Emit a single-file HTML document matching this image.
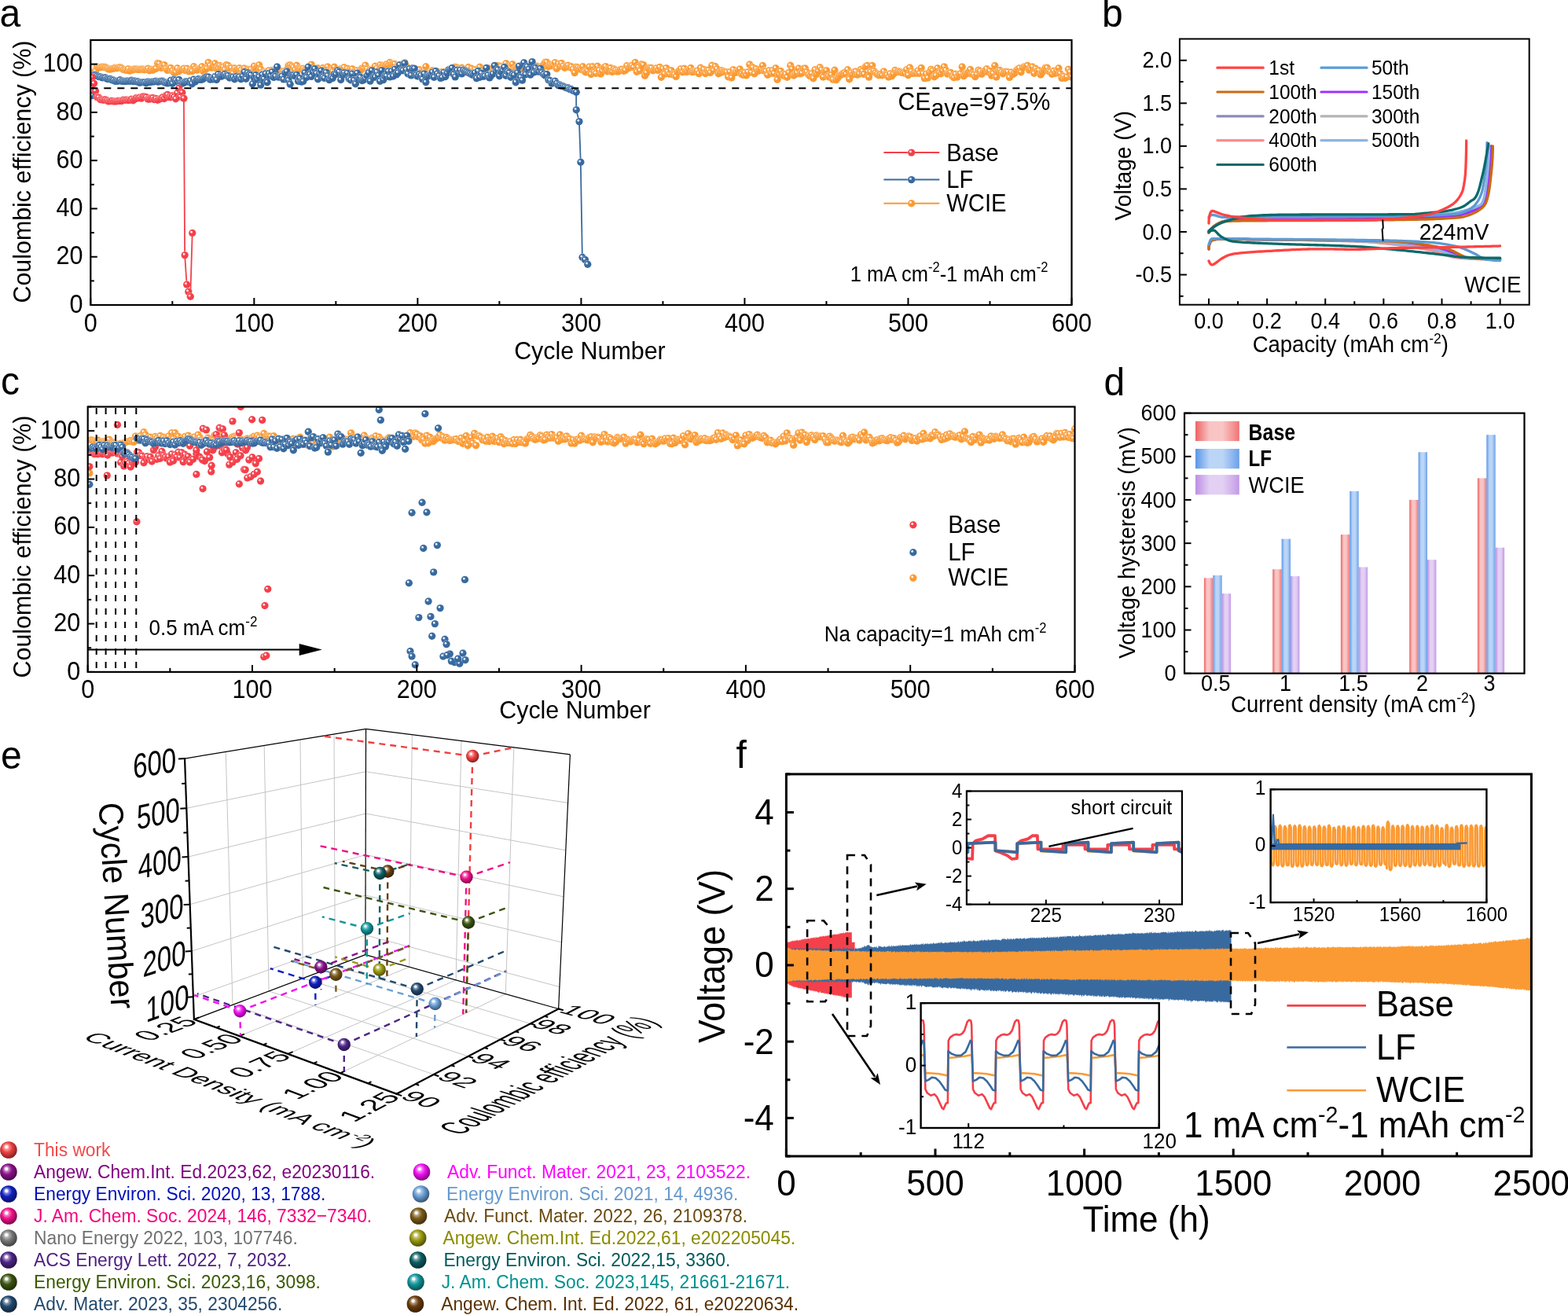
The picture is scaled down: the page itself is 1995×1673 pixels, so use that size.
<!DOCTYPE html><html><head><meta charset="utf-8"><style>html,body{margin:0;padding:0;background:#fff;}svg{display:block;} text{font-family:"Liberation Sans", Arial, Helvetica, sans-serif;}</style></head><body><svg width="1995" height="1673" viewBox="0 0 1995 1673"><defs><linearGradient id="rim" x1="0" y1="0" x2="1" y2="1"><stop offset="0" stop-color="#fff" stop-opacity="0.7"/><stop offset="0.35" stop-color="#fff" stop-opacity="0.3"/><stop offset="0.5" stop-color="#fff" stop-opacity="0"/></linearGradient><clipPath id="ca"><rect x="115.3" y="51" width="1248.2" height="337"/></clipPath><radialGradient id="g0" cx="0.5" cy="0.5" r="0.5" fx="0.33" fy="0.31"><stop offset="0" stop-color="#fff"/><stop offset="0.15" stop-color="#fff" stop-opacity="0.95"/><stop offset="0.3" stop-color="#fdc78f"/><stop offset="0.4" stop-color="#fb9a33"/><stop offset="1" stop-color="#fb9a33"/></radialGradient><radialGradient id="g1" cx="0.5" cy="0.5" r="0.5" fx="0.33" fy="0.31"><stop offset="0" stop-color="#fff"/><stop offset="0.15" stop-color="#fff" stop-opacity="0.95"/><stop offset="0.3" stop-color="#92adcb"/><stop offset="0.4" stop-color="#386aa0"/><stop offset="1" stop-color="#386aa0"/></radialGradient><radialGradient id="g2" cx="0.5" cy="0.5" r="0.5" fx="0.33" fy="0.31"><stop offset="0" stop-color="#fff"/><stop offset="0.15" stop-color="#fff" stop-opacity="0.95"/><stop offset="0.3" stop-color="#f9969b"/><stop offset="0.4" stop-color="#f4404a"/><stop offset="1" stop-color="#f4404a"/></radialGradient><clipPath id="cb"><rect x="1500.9" y="49.5" width="444.8" height="338.2"/></clipPath><clipPath id="cc"><rect x="111.7" y="517.5" width="1255.8" height="337.4"/></clipPath><linearGradient id="bg0" x1="0" x2="1" y1="0" y2="0"><stop offset="0" stop-color="#ee6464"/><stop offset="0.1" stop-color="#f18181"/><stop offset="0.32" stop-color="#f9c4c4"/><stop offset="0.62" stop-color="#f9c4c4"/><stop offset="0.88" stop-color="#f38f8f"/><stop offset="1" stop-color="#f07272"/></linearGradient><linearGradient id="bg1" x1="0" x2="1" y1="0" y2="0"><stop offset="0" stop-color="#5a96e8"/><stop offset="0.1" stop-color="#77a9ec"/><stop offset="0.32" stop-color="#bbd5f6"/><stop offset="0.62" stop-color="#bbd5f6"/><stop offset="0.88" stop-color="#86b2ee"/><stop offset="1" stop-color="#699fea"/></linearGradient><linearGradient id="bg2" x1="0" x2="1" y1="0" y2="0"><stop offset="0" stop-color="#bd8ee4"/><stop offset="0.1" stop-color="#c8a2e8"/><stop offset="0.32" stop-color="#e3d0f3"/><stop offset="0.62" stop-color="#e3d0f3"/><stop offset="0.88" stop-color="#ceaceb"/><stop offset="1" stop-color="#c398e6"/></linearGradient><clipPath id="cf"><rect x="1000.4" y="984.9" width="948" height="486.1"/></clipPath><clipPath id="ci1"><rect x="1229.9" y="1006.5" width="274" height="144.1"/></clipPath><clipPath id="ci2"><rect x="1171.6" y="1276.2" width="303.1" height="158.8"/></clipPath><clipPath id="ci3"><rect x="1616.6" y="1004.3" width="274.8" height="143.8"/></clipPath><radialGradient id="g3" cx="0.45" cy="0.42" r="0.6" fx="0.36" fy="0.3"><stop offset="0" stop-color="#fff"/><stop offset="0.1" stop-color="#fff" stop-opacity="0.95"/><stop offset="0.24" stop-color="#ad9479"/><stop offset="0.5" stop-color="#6a3c0c"/><stop offset="1" stop-color="#351e06"/></radialGradient><radialGradient id="g4" cx="0.45" cy="0.42" r="0.6" fx="0.36" fy="0.3"><stop offset="0" stop-color="#fff"/><stop offset="0.1" stop-color="#fff" stop-opacity="0.95"/><stop offset="0.24" stop-color="#c7c77c"/><stop offset="0.5" stop-color="#9a9a10"/><stop offset="1" stop-color="#4d4d08"/></radialGradient><radialGradient id="g5" cx="0.45" cy="0.42" r="0.6" fx="0.36" fy="0.3"><stop offset="0" stop-color="#fff"/><stop offset="0.1" stop-color="#fff" stop-opacity="0.95"/><stop offset="0.24" stop-color="#79a6a9"/><stop offset="0.5" stop-color="#0c5e62"/><stop offset="1" stop-color="#062f31"/></radialGradient><radialGradient id="g6" cx="0.45" cy="0.42" r="0.6" fx="0.36" fy="0.3"><stop offset="0" stop-color="#fff"/><stop offset="0.1" stop-color="#fff" stop-opacity="0.95"/><stop offset="0.24" stop-color="#7cc5c7"/><stop offset="0.5" stop-color="#10959a"/><stop offset="1" stop-color="#084a4d"/></radialGradient><radialGradient id="g7" cx="0.45" cy="0.42" r="0.6" fx="0.36" fy="0.3"><stop offset="0" stop-color="#fff"/><stop offset="0.1" stop-color="#fff" stop-opacity="0.95"/><stop offset="0.24" stop-color="#bf7cbf"/><stop offset="0.5" stop-color="#8a108a"/><stop offset="1" stop-color="#450845"/></radialGradient><radialGradient id="g8" cx="0.45" cy="0.42" r="0.6" fx="0.36" fy="0.3"><stop offset="0" stop-color="#fff"/><stop offset="0.1" stop-color="#fff" stop-opacity="0.95"/><stop offset="0.24" stop-color="#b6a480"/><stop offset="0.5" stop-color="#7a5a18"/><stop offset="1" stop-color="#3d2d0c"/></radialGradient><radialGradient id="g9" cx="0.45" cy="0.42" r="0.6" fx="0.36" fy="0.3"><stop offset="0" stop-color="#fff"/><stop offset="0.1" stop-color="#fff" stop-opacity="0.95"/><stop offset="0.24" stop-color="#7c84dc"/><stop offset="0.5" stop-color="#1020c0"/><stop offset="1" stop-color="#081060"/></radialGradient><radialGradient id="g10" cx="0.45" cy="0.42" r="0.6" fx="0.36" fy="0.3"><stop offset="0" stop-color="#fff"/><stop offset="0.1" stop-color="#fff" stop-opacity="0.95"/><stop offset="0.24" stop-color="#f79696"/><stop offset="0.5" stop-color="#f04040"/><stop offset="1" stop-color="#782020"/></radialGradient><radialGradient id="g11" cx="0.45" cy="0.42" r="0.6" fx="0.36" fy="0.3"><stop offset="0" stop-color="#fff"/><stop offset="0.1" stop-color="#fff" stop-opacity="0.95"/><stop offset="0.24" stop-color="#93a17c"/><stop offset="0.5" stop-color="#3b5410"/><stop offset="1" stop-color="#1e2a08"/></radialGradient><radialGradient id="g12" cx="0.45" cy="0.42" r="0.6" fx="0.36" fy="0.3"><stop offset="0" stop-color="#fff"/><stop offset="0.1" stop-color="#fff" stop-opacity="0.95"/><stop offset="0.24" stop-color="#f77cbf"/><stop offset="0.5" stop-color="#f0108a"/><stop offset="1" stop-color="#780845"/></radialGradient><radialGradient id="g13" cx="0.45" cy="0.42" r="0.6" fx="0.36" fy="0.3"><stop offset="0" stop-color="#fff"/><stop offset="0.1" stop-color="#fff" stop-opacity="0.95"/><stop offset="0.24" stop-color="#adcae8"/><stop offset="0.5" stop-color="#6a9ed6"/><stop offset="1" stop-color="#354f6b"/></radialGradient><radialGradient id="g14" cx="0.45" cy="0.42" r="0.6" fx="0.36" fy="0.3"><stop offset="0" stop-color="#fff"/><stop offset="0.1" stop-color="#fff" stop-opacity="0.95"/><stop offset="0.24" stop-color="#f77cf7"/><stop offset="0.5" stop-color="#f010f0"/><stop offset="1" stop-color="#780878"/></radialGradient><radialGradient id="g15" cx="0.45" cy="0.42" r="0.6" fx="0.36" fy="0.3"><stop offset="0" stop-color="#fff"/><stop offset="0.1" stop-color="#fff" stop-opacity="0.95"/><stop offset="0.24" stop-color="#859aaf"/><stop offset="0.5" stop-color="#22486e"/><stop offset="1" stop-color="#112437"/></radialGradient><radialGradient id="g16" cx="0.45" cy="0.42" r="0.6" fx="0.36" fy="0.3"><stop offset="0" stop-color="#fff"/><stop offset="0.1" stop-color="#fff" stop-opacity="0.95"/><stop offset="0.24" stop-color="#9e87be"/><stop offset="0.5" stop-color="#4e2488"/><stop offset="1" stop-color="#271244"/></radialGradient><radialGradient id="g17" cx="0.45" cy="0.42" r="0.6" fx="0.36" fy="0.3"><stop offset="0" stop-color="#fff"/><stop offset="0.1" stop-color="#fff" stop-opacity="0.95"/><stop offset="0.24" stop-color="#b6b6b6"/><stop offset="0.5" stop-color="#7a7a7a"/><stop offset="1" stop-color="#3d3d3d"/></radialGradient></defs><rect width="1995" height="1673" fill="#fff"/><g clip-path="url(#ca)">
<polyline points="117.38,93.89 119.46,91.44 121.54,90.21 123.62,84.9 125.7,85.67 127.78,85.59 129.86,85.04 131.94,85.21 134.02,85.45 136.1,86.8 138.18,87.93 140.26,88.15 142.34,87.43 144.42,87.24 146.5,86.34 148.59,86.73 150.67,85.99 152.75,85.57 154.83,86.75 156.91,88.4 158.99,88.77 161.07,89.51 163.15,87.71 165.23,90.07 167.31,88.46 169.39,88.78 171.47,87.69 173.55,87.93 175.63,88.48 177.71,88.34 179.79,88.06 181.87,88.05 183.95,88.69 186.03,88.41 188.11,87.22 190.19,89.77 192.27,88.22 194.35,89.19 196.43,88.05 198.51,87.3 200.59,80.47 202.67,81.15 204.75,86.19 206.83,85.71 208.91,82.56 211,87.19 213.08,89.42 215.16,87.02 217.24,86.46 219.32,90.04 221.4,92.48 223.48,92.12 225.56,86.73 227.64,90.61 229.72,89.16 231.8,88.12 233.88,87.1 235.96,89.49 238.04,87.18 240.12,90.68 242.2,89.01 244.28,90.58 246.36,84.7 248.44,87.56 250.52,89.06 252.6,87.81 254.68,87.33 256.76,84.83 258.84,90.78 260.92,89.01 263,87.17 265.08,79.51 267.16,83.48 269.24,86.14 271.32,84.07 273.41,80.8 275.49,86.86 277.57,87.34 279.65,83.36 281.73,85.25 283.81,85.2 285.89,88.57 287.97,82.52 290.05,83.39 292.13,86.65 294.21,86.59 296.29,93.69 298.37,86.79 300.45,89 302.53,87.38 304.61,86.6 306.69,89.13 308.77,92.44 310.85,86.9 312.93,89.59 315.01,88.31 317.09,88.91 319.17,88.08 321.25,93.21 323.33,84.1 325.41,86.71 327.49,84.64 329.57,82.74 331.65,88.09 333.74,93.44 335.82,91.24 337.9,92.39 339.98,90.83 342.06,89.61 344.14,95.39 346.22,89.39 348.3,94.26 350.38,89.58 352.46,90.48 354.54,90.85 356.62,90.06 358.7,90.8 360.78,90.68 362.86,93.02 364.94,88.47 367.02,83.29 369.1,82.75 371.18,84.11 373.26,85.57 375.34,88.87 377.42,83.27 379.5,87.32 381.58,87.32 383.66,88.14 385.74,87.15 387.82,88.75 389.9,87.91 391.98,90.79 394.06,89.13 396.15,82.09 398.23,88.45 400.31,89.16 402.39,87.2 404.47,86.67 406.55,91.57 408.63,89.24 410.71,86.51 412.79,88.37 414.87,88.77 416.95,85.04 419.03,90.85 421.11,88.88 423.19,90.54 425.27,85.33 427.35,94.36 429.43,91.09 431.51,90.78 433.59,87.57 435.67,87.73 437.75,85.67 439.83,93.37 441.91,87.31 443.99,89.95 446.07,90.79 448.15,87.74 450.23,91.4 452.31,94.23 454.39,89.59 456.47,92.38 458.56,89.78 460.64,86.9 462.72,86.89 464.8,83.15 466.88,87.55 468.96,90.78 471.04,88.46 473.12,88.5 475.2,88.98 477.28,84.28 479.36,86.86 481.44,89.86 483.52,82.68 485.6,84.61 487.68,83.08 489.76,83.46 491.84,81.69 493.92,82.81 496,79.49 498.08,81.59 500.16,81.44 502.24,81.37 504.32,86.23 506.4,82.92 508.48,83.45 510.56,82.66 512.64,87.02 514.72,79.58 516.8,84.2 518.88,88.27 520.97,90.23 523.05,87.32 525.13,87.55 527.21,89.95 529.29,88.64 531.37,91.05 533.45,88.56 535.53,92.16 537.61,90.86 539.69,88.56 541.77,84.75 543.85,94.4 545.93,93.12 548.01,94.07 550.09,89.69 552.17,94.71 554.25,92.62 556.33,91.37 558.41,93.59 560.49,93.12 562.57,91.39 564.65,95.44 566.73,93.44 568.81,90.32 570.89,88.5 572.97,88.94 575.05,92.69 577.13,88.91 579.21,85.32 581.29,85.85 583.38,87.54 585.46,89.82 587.54,86.3 589.62,89.7 591.7,91.44 593.78,90.81 595.86,85.45 597.94,89.26 600.02,87.19 602.1,91.94 604.18,88.67 606.26,93.12 608.34,92.01 610.42,85.17 612.5,89.47 614.58,92.48 616.66,91 618.74,89.42 620.82,86.71 622.9,90.47 624.98,93.27 627.06,88.92 629.14,87.77 631.22,87.23 633.3,83.51 635.38,85.75 637.46,84.22 639.54,88.87 641.62,83.69 643.7,80.82 645.78,84.28 647.87,85.59 649.95,85.83 652.03,81.81 654.11,88.98 656.19,86.95 658.27,85.46 660.35,84.79 662.43,88.01 664.51,86.04 666.59,87.65 668.67,86.59 670.75,87.47 672.83,89.94 674.91,86.98 676.99,84.35 679.07,88.93 681.15,86.82 683.23,84.11 685.31,88.52 687.39,85.1 689.47,88.01 691.55,81.97 693.63,79.19 695.71,79.19 697.79,84.7 699.87,82.16 701.95,83.58 704.03,83.46 706.11,79.66 708.19,87.16 710.28,81.21 712.36,84.21 714.44,80.45 716.52,83.9 718.6,86.26 720.68,84.06 722.76,83.06 724.84,85.51 726.92,84.81 729,87.98 731.08,92.55 733.16,85.12 735.24,86.02 737.32,87.69 739.4,88.23 741.48,84.84 743.56,90.81 745.64,91.94 747.72,90.16 749.8,84.95 751.88,94.48 753.96,84.82 756.04,91.65 758.12,93.34 760.2,84.25 762.28,89.31 764.36,93.93 766.44,90.37 768.52,85.6 770.61,84.62 772.69,90.72 774.77,87.68 776.85,86.48 778.93,91.54 781.01,87.76 783.09,89.23 785.17,91.05 787.25,90.77 789.33,88.43 791.41,88.19 793.49,90.18 795.57,89.51 797.65,83.58 799.73,86.79 801.81,84.3 803.89,83.29 805.97,85.64 808.05,79.46 810.13,91.31 812.21,85.41 814.29,89.85 816.37,81.8 818.45,82.55 820.53,96.35 822.61,92.74 824.69,86.78 826.77,86.21 828.85,86.5 830.93,89.72 833.01,87.58 835.1,86.69 837.18,89.37 839.26,85.45 841.34,98.18 843.42,87.6 845.5,94.06 847.58,86.58 849.66,91.28 851.74,94.1 853.82,89.63 855.9,94.67 857.98,94.81 860.06,97.4 862.14,91.58 864.22,89.69 866.3,87.57 868.38,91.84 870.46,87.26 872.54,91.05 874.62,91.25 876.7,88.45 878.78,86.54 880.86,91.57 882.94,91.12 885.02,90.94 887.1,89.95 889.18,93.61 891.26,86.17 893.34,91.48 895.42,88.38 897.51,93.48 899.59,89.31 901.67,89.3 903.75,92.49 905.83,83.27 907.91,89.62 909.99,84.51 912.07,87.69 914.15,93.84 916.23,92.68 918.31,89.82 920.39,91.15 922.47,91.1 924.55,92.04 926.63,97.65 928.71,91.48 930.79,98.88 932.87,88.68 934.95,92.52 937.03,92.02 939.11,90.01 941.19,87.85 943.27,94.18 945.35,95.26 947.43,92.28 949.51,95.89 951.59,91.71 953.67,82.03 955.75,92.11 957.84,85.89 959.92,93.74 962,87.57 964.08,90.18 966.16,89.67 968.24,87.7 970.32,83.54 972.4,90.06 974.48,90.77 976.56,95.3 978.64,89.85 980.72,93.29 982.8,89.51 984.88,93.39 986.96,86.8 989.04,101.18 991.12,94.73 993.2,90.37 995.28,94.84 997.36,96.41 999.44,94.41 1001.52,98.27 1003.6,92.44 1005.68,83.32 1007.76,87.78 1009.84,96 1011.92,94.78 1014,92.73 1016.08,87.03 1018.16,93.72 1020.25,93.05 1022.33,87.07 1024.41,86.99 1026.49,91.8 1028.57,94.93 1030.65,96.63 1032.73,93.55 1034.81,99.66 1036.89,88.73 1038.97,94.41 1041.05,90.62 1043.13,85.83 1045.21,88.79 1047.29,98 1049.37,90.61 1051.45,89.78 1053.53,97.19 1055.61,98.18 1057.69,95.23 1059.77,101.07 1061.85,89.26 1063.93,101.55 1066.01,98.87 1068.09,95.62 1070.17,95.17 1072.25,93.44 1074.33,92.48 1076.41,94.11 1078.49,88.72 1080.57,100.74 1082.65,92.52 1084.74,95 1086.82,91.38 1088.9,90.86 1090.98,95.09 1093.06,94 1095.14,88.53 1097.22,90.45 1099.3,94.41 1101.38,84.46 1103.46,83.52 1105.54,98.09 1107.62,91.59 1109.7,83.51 1111.78,90.22 1113.86,92.59 1115.94,94.22 1118.02,95.57 1120.1,94.39 1122.18,95.81 1124.26,90.94 1126.34,95.34 1128.42,95.34 1130.5,98.04 1132.58,93.66 1134.66,96.75 1136.74,94.11 1138.82,89.4 1140.9,91.61 1142.98,90.83 1145.06,91.25 1147.15,92.26 1149.23,92.55 1151.31,93.08 1153.39,88.72 1155.47,95.57 1157.55,86.03 1159.63,90.73 1161.71,93.38 1163.79,92.23 1165.87,93.05 1167.95,90.01 1170.03,93.37 1172.11,86.44 1174.19,93.74 1176.27,99.56 1178.35,94.09 1180.43,99.14 1182.51,92.04 1184.59,88.1 1186.67,89.92 1188.75,97.84 1190.83,96.01 1192.91,86.75 1194.99,92.44 1197.07,93.78 1199.15,90.01 1201.23,84.94 1203.31,89.43 1205.39,93.98 1207.47,93.17 1209.56,92.38 1211.64,97.01 1213.72,98.65 1215.8,94.34 1217.88,97.97 1219.96,94.35 1222.04,93.71 1224.12,84.99 1226.2,96.84 1228.28,93.83 1230.36,93.62 1232.44,91.16 1234.52,88.54 1236.6,94.02 1238.68,94.97 1240.76,97.64 1242.84,94.85 1244.92,89.08 1247,90.59 1249.08,94.22 1251.16,91.48 1253.24,89.77 1255.32,87.69 1257.4,91.6 1259.48,90.37 1261.56,96.11 1263.64,93.72 1265.72,83.46 1267.8,98.05 1269.88,91.17 1271.97,89.42 1274.05,91.85 1276.13,93.73 1278.21,91.08 1280.29,91.1 1282.37,91.56 1284.45,98.44 1286.53,91.94 1288.61,94.54 1290.69,93.18 1292.77,89.99 1294.85,87.92 1296.93,86.73 1299.01,91.76 1301.09,86.1 1303.17,84.83 1305.25,84.52 1307.33,83.39 1309.41,89.02 1311.49,88.77 1313.57,85.03 1315.65,93.29 1317.73,87.23 1319.81,90.05 1321.89,89.57 1323.97,94.96 1326.05,91.96 1328.13,89.07 1330.21,86.07 1332.3,86.2 1334.38,90.69 1336.46,91.45 1338.54,94.32 1340.62,90.27 1342.7,93.24 1344.78,90.37 1346.86,86.68 1348.94,93.66 1351.02,99.36 1353.1,97.06 1355.18,99.19 1357.26,97.99 1359.34,88.22 1361.42,91.83 1363.5,97.89" fill="none" stroke="#fb9a33" stroke-width="1.6" stroke-linejoin="round"/>
<g fill="url(#g0)" stroke="url(#rim)" stroke-width="0.8"><circle cx="117.4" cy="93.9" r="4.7"/><circle cx="119.5" cy="91.4" r="4.7"/><circle cx="121.5" cy="90.2" r="4.7"/><circle cx="123.6" cy="84.9" r="4.7"/><circle cx="125.7" cy="85.7" r="4.7"/><circle cx="127.8" cy="85.6" r="4.7"/><circle cx="129.9" cy="85" r="4.7"/><circle cx="131.9" cy="85.2" r="4.7"/><circle cx="134" cy="85.5" r="4.7"/><circle cx="136.1" cy="86.8" r="4.7"/><circle cx="138.2" cy="87.9" r="4.7"/><circle cx="140.3" cy="88.1" r="4.7"/><circle cx="142.3" cy="87.4" r="4.7"/><circle cx="144.4" cy="87.2" r="4.7"/><circle cx="146.5" cy="86.3" r="4.7"/><circle cx="148.6" cy="86.7" r="4.7"/><circle cx="150.7" cy="86" r="4.7"/><circle cx="152.7" cy="85.6" r="4.7"/><circle cx="154.8" cy="86.7" r="4.7"/><circle cx="156.9" cy="88.4" r="4.7"/><circle cx="159" cy="88.8" r="4.7"/><circle cx="161.1" cy="89.5" r="4.7"/><circle cx="163.1" cy="87.7" r="4.7"/><circle cx="165.2" cy="90.1" r="4.7"/><circle cx="167.3" cy="88.5" r="4.7"/><circle cx="169.4" cy="88.8" r="4.7"/><circle cx="171.5" cy="87.7" r="4.7"/><circle cx="173.5" cy="87.9" r="4.7"/><circle cx="175.6" cy="88.5" r="4.7"/><circle cx="177.7" cy="88.3" r="4.7"/><circle cx="179.8" cy="88.1" r="4.7"/><circle cx="181.9" cy="88" r="4.7"/><circle cx="184" cy="88.7" r="4.7"/><circle cx="186" cy="88.4" r="4.7"/><circle cx="188.1" cy="87.2" r="4.7"/><circle cx="190.2" cy="89.8" r="4.7"/><circle cx="192.3" cy="88.2" r="4.7"/><circle cx="194.4" cy="89.2" r="4.7"/><circle cx="196.4" cy="88" r="4.7"/><circle cx="198.5" cy="87.3" r="4.7"/><circle cx="200.6" cy="80.5" r="4.7"/><circle cx="202.7" cy="81.1" r="4.7"/><circle cx="204.8" cy="86.2" r="4.7"/><circle cx="206.8" cy="85.7" r="4.7"/><circle cx="208.9" cy="82.6" r="4.7"/><circle cx="211" cy="87.2" r="4.7"/><circle cx="213.1" cy="89.4" r="4.7"/><circle cx="215.2" cy="87" r="4.7"/><circle cx="217.2" cy="86.5" r="4.7"/><circle cx="219.3" cy="90" r="4.7"/><circle cx="221.4" cy="92.5" r="4.7"/><circle cx="223.5" cy="92.1" r="4.7"/><circle cx="225.6" cy="86.7" r="4.7"/><circle cx="227.6" cy="90.6" r="4.7"/><circle cx="229.7" cy="89.2" r="4.7"/><circle cx="231.8" cy="88.1" r="4.7"/><circle cx="233.9" cy="87.1" r="4.7"/><circle cx="236" cy="89.5" r="4.7"/><circle cx="238" cy="87.2" r="4.7"/><circle cx="240.1" cy="90.7" r="4.7"/><circle cx="242.2" cy="89" r="4.7"/><circle cx="244.3" cy="90.6" r="4.7"/><circle cx="246.4" cy="84.7" r="4.7"/><circle cx="248.4" cy="87.6" r="4.7"/><circle cx="250.5" cy="89.1" r="4.7"/><circle cx="252.6" cy="87.8" r="4.7"/><circle cx="254.7" cy="87.3" r="4.7"/><circle cx="256.8" cy="84.8" r="4.7"/><circle cx="258.8" cy="90.8" r="4.7"/><circle cx="260.9" cy="89" r="4.7"/><circle cx="263" cy="87.2" r="4.7"/><circle cx="265.1" cy="79.5" r="4.7"/><circle cx="267.2" cy="83.5" r="4.7"/><circle cx="269.2" cy="86.1" r="4.7"/><circle cx="271.3" cy="84.1" r="4.7"/><circle cx="273.4" cy="80.8" r="4.7"/><circle cx="275.5" cy="86.9" r="4.7"/><circle cx="277.6" cy="87.3" r="4.7"/><circle cx="279.6" cy="83.4" r="4.7"/><circle cx="281.7" cy="85.2" r="4.7"/><circle cx="283.8" cy="85.2" r="4.7"/><circle cx="285.9" cy="88.6" r="4.7"/><circle cx="288" cy="82.5" r="4.7"/><circle cx="290" cy="83.4" r="4.7"/><circle cx="292.1" cy="86.7" r="4.7"/><circle cx="294.2" cy="86.6" r="4.7"/><circle cx="296.3" cy="93.7" r="4.7"/><circle cx="298.4" cy="86.8" r="4.7"/><circle cx="300.4" cy="89" r="4.7"/><circle cx="302.5" cy="87.4" r="4.7"/><circle cx="304.6" cy="86.6" r="4.7"/><circle cx="306.7" cy="89.1" r="4.7"/><circle cx="308.8" cy="92.4" r="4.7"/><circle cx="310.9" cy="86.9" r="4.7"/><circle cx="312.9" cy="89.6" r="4.7"/><circle cx="315" cy="88.3" r="4.7"/><circle cx="317.1" cy="88.9" r="4.7"/><circle cx="319.2" cy="88.1" r="4.7"/><circle cx="321.3" cy="93.2" r="4.7"/><circle cx="323.3" cy="84.1" r="4.7"/><circle cx="325.4" cy="86.7" r="4.7"/><circle cx="327.5" cy="84.6" r="4.7"/><circle cx="329.6" cy="82.7" r="4.7"/><circle cx="331.7" cy="88.1" r="4.7"/><circle cx="333.7" cy="93.4" r="4.7"/><circle cx="335.8" cy="91.2" r="4.7"/><circle cx="337.9" cy="92.4" r="4.7"/><circle cx="340" cy="90.8" r="4.7"/><circle cx="342.1" cy="89.6" r="4.7"/><circle cx="344.1" cy="95.4" r="4.7"/><circle cx="346.2" cy="89.4" r="4.7"/><circle cx="348.3" cy="94.3" r="4.7"/><circle cx="350.4" cy="89.6" r="4.7"/><circle cx="352.5" cy="90.5" r="4.7"/><circle cx="354.5" cy="90.8" r="4.7"/><circle cx="356.6" cy="90.1" r="4.7"/><circle cx="358.7" cy="90.8" r="4.7"/><circle cx="360.8" cy="90.7" r="4.7"/><circle cx="362.9" cy="93" r="4.7"/><circle cx="364.9" cy="88.5" r="4.7"/><circle cx="367" cy="83.3" r="4.7"/><circle cx="369.1" cy="82.8" r="4.7"/><circle cx="371.2" cy="84.1" r="4.7"/><circle cx="373.3" cy="85.6" r="4.7"/><circle cx="375.3" cy="88.9" r="4.7"/><circle cx="377.4" cy="83.3" r="4.7"/><circle cx="379.5" cy="87.3" r="4.7"/><circle cx="381.6" cy="87.3" r="4.7"/><circle cx="383.7" cy="88.1" r="4.7"/><circle cx="385.7" cy="87.1" r="4.7"/><circle cx="387.8" cy="88.7" r="4.7"/><circle cx="389.9" cy="87.9" r="4.7"/><circle cx="392" cy="90.8" r="4.7"/><circle cx="394.1" cy="89.1" r="4.7"/><circle cx="396.1" cy="82.1" r="4.7"/><circle cx="398.2" cy="88.4" r="4.7"/><circle cx="400.3" cy="89.2" r="4.7"/><circle cx="402.4" cy="87.2" r="4.7"/><circle cx="404.5" cy="86.7" r="4.7"/><circle cx="406.5" cy="91.6" r="4.7"/><circle cx="408.6" cy="89.2" r="4.7"/><circle cx="410.7" cy="86.5" r="4.7"/><circle cx="412.8" cy="88.4" r="4.7"/><circle cx="414.9" cy="88.8" r="4.7"/><circle cx="416.9" cy="85" r="4.7"/><circle cx="419" cy="90.8" r="4.7"/><circle cx="421.1" cy="88.9" r="4.7"/><circle cx="423.2" cy="90.5" r="4.7"/><circle cx="425.3" cy="85.3" r="4.7"/><circle cx="427.4" cy="94.4" r="4.7"/><circle cx="429.4" cy="91.1" r="4.7"/><circle cx="431.5" cy="90.8" r="4.7"/><circle cx="433.6" cy="87.6" r="4.7"/><circle cx="435.7" cy="87.7" r="4.7"/><circle cx="437.8" cy="85.7" r="4.7"/><circle cx="439.8" cy="93.4" r="4.7"/><circle cx="441.9" cy="87.3" r="4.7"/><circle cx="444" cy="89.9" r="4.7"/><circle cx="446.1" cy="90.8" r="4.7"/><circle cx="448.2" cy="87.7" r="4.7"/><circle cx="450.2" cy="91.4" r="4.7"/><circle cx="452.3" cy="94.2" r="4.7"/><circle cx="454.4" cy="89.6" r="4.7"/><circle cx="456.5" cy="92.4" r="4.7"/><circle cx="458.6" cy="89.8" r="4.7"/><circle cx="460.6" cy="86.9" r="4.7"/><circle cx="462.7" cy="86.9" r="4.7"/><circle cx="464.8" cy="83.1" r="4.7"/><circle cx="466.9" cy="87.6" r="4.7"/><circle cx="469" cy="90.8" r="4.7"/><circle cx="471" cy="88.5" r="4.7"/><circle cx="473.1" cy="88.5" r="4.7"/><circle cx="475.2" cy="89" r="4.7"/><circle cx="477.3" cy="84.3" r="4.7"/><circle cx="479.4" cy="86.9" r="4.7"/><circle cx="481.4" cy="89.9" r="4.7"/><circle cx="483.5" cy="82.7" r="4.7"/><circle cx="485.6" cy="84.6" r="4.7"/><circle cx="487.7" cy="83.1" r="4.7"/><circle cx="489.8" cy="83.5" r="4.7"/><circle cx="491.8" cy="81.7" r="4.7"/><circle cx="493.9" cy="82.8" r="4.7"/><circle cx="496" cy="79.5" r="4.7"/><circle cx="498.1" cy="81.6" r="4.7"/><circle cx="500.2" cy="81.4" r="4.7"/><circle cx="502.2" cy="81.4" r="4.7"/><circle cx="504.3" cy="86.2" r="4.7"/><circle cx="506.4" cy="82.9" r="4.7"/><circle cx="508.5" cy="83.5" r="4.7"/><circle cx="510.6" cy="82.7" r="4.7"/><circle cx="512.6" cy="87" r="4.7"/><circle cx="514.7" cy="79.6" r="4.7"/><circle cx="516.8" cy="84.2" r="4.7"/><circle cx="518.9" cy="88.3" r="4.7"/><circle cx="521" cy="90.2" r="4.7"/><circle cx="523" cy="87.3" r="4.7"/><circle cx="525.1" cy="87.5" r="4.7"/><circle cx="527.2" cy="90" r="4.7"/><circle cx="529.3" cy="88.6" r="4.7"/><circle cx="531.4" cy="91" r="4.7"/><circle cx="533.4" cy="88.6" r="4.7"/><circle cx="535.5" cy="92.2" r="4.7"/><circle cx="537.6" cy="90.9" r="4.7"/><circle cx="539.7" cy="88.6" r="4.7"/><circle cx="541.8" cy="84.8" r="4.7"/><circle cx="543.8" cy="94.4" r="4.7"/><circle cx="545.9" cy="93.1" r="4.7"/><circle cx="548" cy="94.1" r="4.7"/><circle cx="550.1" cy="89.7" r="4.7"/><circle cx="552.2" cy="94.7" r="4.7"/><circle cx="554.3" cy="92.6" r="4.7"/><circle cx="556.3" cy="91.4" r="4.7"/><circle cx="558.4" cy="93.6" r="4.7"/><circle cx="560.5" cy="93.1" r="4.7"/><circle cx="562.6" cy="91.4" r="4.7"/><circle cx="564.7" cy="95.4" r="4.7"/><circle cx="566.7" cy="93.4" r="4.7"/><circle cx="568.8" cy="90.3" r="4.7"/><circle cx="570.9" cy="88.5" r="4.7"/><circle cx="573" cy="88.9" r="4.7"/><circle cx="575.1" cy="92.7" r="4.7"/><circle cx="577.1" cy="88.9" r="4.7"/><circle cx="579.2" cy="85.3" r="4.7"/><circle cx="581.3" cy="85.9" r="4.7"/><circle cx="583.4" cy="87.5" r="4.7"/><circle cx="585.5" cy="89.8" r="4.7"/><circle cx="587.5" cy="86.3" r="4.7"/><circle cx="589.6" cy="89.7" r="4.7"/><circle cx="591.7" cy="91.4" r="4.7"/><circle cx="593.8" cy="90.8" r="4.7"/><circle cx="595.9" cy="85.5" r="4.7"/><circle cx="597.9" cy="89.3" r="4.7"/><circle cx="600" cy="87.2" r="4.7"/><circle cx="602.1" cy="91.9" r="4.7"/><circle cx="604.2" cy="88.7" r="4.7"/><circle cx="606.3" cy="93.1" r="4.7"/><circle cx="608.3" cy="92" r="4.7"/><circle cx="610.4" cy="85.2" r="4.7"/><circle cx="612.5" cy="89.5" r="4.7"/><circle cx="614.6" cy="92.5" r="4.7"/><circle cx="616.7" cy="91" r="4.7"/><circle cx="618.7" cy="89.4" r="4.7"/><circle cx="620.8" cy="86.7" r="4.7"/><circle cx="622.9" cy="90.5" r="4.7"/><circle cx="625" cy="93.3" r="4.7"/><circle cx="627.1" cy="88.9" r="4.7"/><circle cx="629.1" cy="87.8" r="4.7"/><circle cx="631.2" cy="87.2" r="4.7"/><circle cx="633.3" cy="83.5" r="4.7"/><circle cx="635.4" cy="85.7" r="4.7"/><circle cx="637.5" cy="84.2" r="4.7"/><circle cx="639.5" cy="88.9" r="4.7"/><circle cx="641.6" cy="83.7" r="4.7"/><circle cx="643.7" cy="80.8" r="4.7"/><circle cx="645.8" cy="84.3" r="4.7"/><circle cx="647.9" cy="85.6" r="4.7"/><circle cx="649.9" cy="85.8" r="4.7"/><circle cx="652" cy="81.8" r="4.7"/><circle cx="654.1" cy="89" r="4.7"/><circle cx="656.2" cy="87" r="4.7"/><circle cx="658.3" cy="85.5" r="4.7"/><circle cx="660.3" cy="84.8" r="4.7"/><circle cx="662.4" cy="88" r="4.7"/><circle cx="664.5" cy="86" r="4.7"/><circle cx="666.6" cy="87.7" r="4.7"/><circle cx="668.7" cy="86.6" r="4.7"/><circle cx="670.7" cy="87.5" r="4.7"/><circle cx="672.8" cy="89.9" r="4.7"/><circle cx="674.9" cy="87" r="4.7"/><circle cx="677" cy="84.4" r="4.7"/><circle cx="679.1" cy="88.9" r="4.7"/><circle cx="681.2" cy="86.8" r="4.7"/><circle cx="683.2" cy="84.1" r="4.7"/><circle cx="685.3" cy="88.5" r="4.7"/><circle cx="687.4" cy="85.1" r="4.7"/><circle cx="689.5" cy="88" r="4.7"/><circle cx="691.6" cy="82" r="4.7"/><circle cx="693.6" cy="79.2" r="4.7"/><circle cx="695.7" cy="79.2" r="4.7"/><circle cx="697.8" cy="84.7" r="4.7"/><circle cx="699.9" cy="82.2" r="4.7"/><circle cx="702" cy="83.6" r="4.7"/><circle cx="704" cy="83.5" r="4.7"/><circle cx="706.1" cy="79.7" r="4.7"/><circle cx="708.2" cy="87.2" r="4.7"/><circle cx="710.3" cy="81.2" r="4.7"/><circle cx="712.4" cy="84.2" r="4.7"/><circle cx="714.4" cy="80.5" r="4.7"/><circle cx="716.5" cy="83.9" r="4.7"/><circle cx="718.6" cy="86.3" r="4.7"/><circle cx="720.7" cy="84.1" r="4.7"/><circle cx="722.8" cy="83.1" r="4.7"/><circle cx="724.8" cy="85.5" r="4.7"/><circle cx="726.9" cy="84.8" r="4.7"/><circle cx="729" cy="88" r="4.7"/><circle cx="731.1" cy="92.6" r="4.7"/><circle cx="733.2" cy="85.1" r="4.7"/><circle cx="735.2" cy="86" r="4.7"/><circle cx="737.3" cy="87.7" r="4.7"/><circle cx="739.4" cy="88.2" r="4.7"/><circle cx="741.5" cy="84.8" r="4.7"/><circle cx="743.6" cy="90.8" r="4.7"/><circle cx="745.6" cy="91.9" r="4.7"/><circle cx="747.7" cy="90.2" r="4.7"/><circle cx="749.8" cy="85" r="4.7"/><circle cx="751.9" cy="94.5" r="4.7"/><circle cx="754" cy="84.8" r="4.7"/><circle cx="756" cy="91.7" r="4.7"/><circle cx="758.1" cy="93.3" r="4.7"/><circle cx="760.2" cy="84.3" r="4.7"/><circle cx="762.3" cy="89.3" r="4.7"/><circle cx="764.4" cy="93.9" r="4.7"/><circle cx="766.4" cy="90.4" r="4.7"/><circle cx="768.5" cy="85.6" r="4.7"/><circle cx="770.6" cy="84.6" r="4.7"/><circle cx="772.7" cy="90.7" r="4.7"/><circle cx="774.8" cy="87.7" r="4.7"/><circle cx="776.8" cy="86.5" r="4.7"/><circle cx="778.9" cy="91.5" r="4.7"/><circle cx="781" cy="87.8" r="4.7"/><circle cx="783.1" cy="89.2" r="4.7"/><circle cx="785.2" cy="91" r="4.7"/><circle cx="787.2" cy="90.8" r="4.7"/><circle cx="789.3" cy="88.4" r="4.7"/><circle cx="791.4" cy="88.2" r="4.7"/><circle cx="793.5" cy="90.2" r="4.7"/><circle cx="795.6" cy="89.5" r="4.7"/><circle cx="797.6" cy="83.6" r="4.7"/><circle cx="799.7" cy="86.8" r="4.7"/><circle cx="801.8" cy="84.3" r="4.7"/><circle cx="803.9" cy="83.3" r="4.7"/><circle cx="806" cy="85.6" r="4.7"/><circle cx="808.1" cy="79.5" r="4.7"/><circle cx="810.1" cy="91.3" r="4.7"/><circle cx="812.2" cy="85.4" r="4.7"/><circle cx="814.3" cy="89.9" r="4.7"/><circle cx="816.4" cy="81.8" r="4.7"/><circle cx="818.5" cy="82.6" r="4.7"/><circle cx="820.5" cy="96.3" r="4.7"/><circle cx="822.6" cy="92.7" r="4.7"/><circle cx="824.7" cy="86.8" r="4.7"/><circle cx="826.8" cy="86.2" r="4.7"/><circle cx="828.9" cy="86.5" r="4.7"/><circle cx="830.9" cy="89.7" r="4.7"/><circle cx="833" cy="87.6" r="4.7"/><circle cx="835.1" cy="86.7" r="4.7"/><circle cx="837.2" cy="89.4" r="4.7"/><circle cx="839.3" cy="85.4" r="4.7"/><circle cx="841.3" cy="98.2" r="4.7"/><circle cx="843.4" cy="87.6" r="4.7"/><circle cx="845.5" cy="94.1" r="4.7"/><circle cx="847.6" cy="86.6" r="4.7"/><circle cx="849.7" cy="91.3" r="4.7"/><circle cx="851.7" cy="94.1" r="4.7"/><circle cx="853.8" cy="89.6" r="4.7"/><circle cx="855.9" cy="94.7" r="4.7"/><circle cx="858" cy="94.8" r="4.7"/><circle cx="860.1" cy="97.4" r="4.7"/><circle cx="862.1" cy="91.6" r="4.7"/><circle cx="864.2" cy="89.7" r="4.7"/><circle cx="866.3" cy="87.6" r="4.7"/><circle cx="868.4" cy="91.8" r="4.7"/><circle cx="870.5" cy="87.3" r="4.7"/><circle cx="872.5" cy="91.1" r="4.7"/><circle cx="874.6" cy="91.3" r="4.7"/><circle cx="876.7" cy="88.5" r="4.7"/><circle cx="878.8" cy="86.5" r="4.7"/><circle cx="880.9" cy="91.6" r="4.7"/><circle cx="882.9" cy="91.1" r="4.7"/><circle cx="885" cy="90.9" r="4.7"/><circle cx="887.1" cy="90" r="4.7"/><circle cx="889.2" cy="93.6" r="4.7"/><circle cx="891.3" cy="86.2" r="4.7"/><circle cx="893.3" cy="91.5" r="4.7"/><circle cx="895.4" cy="88.4" r="4.7"/><circle cx="897.5" cy="93.5" r="4.7"/><circle cx="899.6" cy="89.3" r="4.7"/><circle cx="901.7" cy="89.3" r="4.7"/><circle cx="903.7" cy="92.5" r="4.7"/><circle cx="905.8" cy="83.3" r="4.7"/><circle cx="907.9" cy="89.6" r="4.7"/><circle cx="910" cy="84.5" r="4.7"/><circle cx="912.1" cy="87.7" r="4.7"/><circle cx="914.1" cy="93.8" r="4.7"/><circle cx="916.2" cy="92.7" r="4.7"/><circle cx="918.3" cy="89.8" r="4.7"/><circle cx="920.4" cy="91.1" r="4.7"/><circle cx="922.5" cy="91.1" r="4.7"/><circle cx="924.5" cy="92" r="4.7"/><circle cx="926.6" cy="97.7" r="4.7"/><circle cx="928.7" cy="91.5" r="4.7"/><circle cx="930.8" cy="98.9" r="4.7"/><circle cx="932.9" cy="88.7" r="4.7"/><circle cx="935" cy="92.5" r="4.7"/><circle cx="937" cy="92" r="4.7"/><circle cx="939.1" cy="90" r="4.7"/><circle cx="941.2" cy="87.9" r="4.7"/><circle cx="943.3" cy="94.2" r="4.7"/><circle cx="945.4" cy="95.3" r="4.7"/><circle cx="947.4" cy="92.3" r="4.7"/><circle cx="949.5" cy="95.9" r="4.7"/><circle cx="951.6" cy="91.7" r="4.7"/><circle cx="953.7" cy="82" r="4.7"/><circle cx="955.8" cy="92.1" r="4.7"/><circle cx="957.8" cy="85.9" r="4.7"/><circle cx="959.9" cy="93.7" r="4.7"/><circle cx="962" cy="87.6" r="4.7"/><circle cx="964.1" cy="90.2" r="4.7"/><circle cx="966.2" cy="89.7" r="4.7"/><circle cx="968.2" cy="87.7" r="4.7"/><circle cx="970.3" cy="83.5" r="4.7"/><circle cx="972.4" cy="90.1" r="4.7"/><circle cx="974.5" cy="90.8" r="4.7"/><circle cx="976.6" cy="95.3" r="4.7"/><circle cx="978.6" cy="89.8" r="4.7"/><circle cx="980.7" cy="93.3" r="4.7"/><circle cx="982.8" cy="89.5" r="4.7"/><circle cx="984.9" cy="93.4" r="4.7"/><circle cx="987" cy="86.8" r="4.7"/><circle cx="989" cy="101.2" r="4.7"/><circle cx="991.1" cy="94.7" r="4.7"/><circle cx="993.2" cy="90.4" r="4.7"/><circle cx="995.3" cy="94.8" r="4.7"/><circle cx="997.4" cy="96.4" r="4.7"/><circle cx="999.4" cy="94.4" r="4.7"/><circle cx="1001.5" cy="98.3" r="4.7"/><circle cx="1003.6" cy="92.4" r="4.7"/><circle cx="1005.7" cy="83.3" r="4.7"/><circle cx="1007.8" cy="87.8" r="4.7"/><circle cx="1009.8" cy="96" r="4.7"/><circle cx="1011.9" cy="94.8" r="4.7"/><circle cx="1014" cy="92.7" r="4.7"/><circle cx="1016.1" cy="87" r="4.7"/><circle cx="1018.2" cy="93.7" r="4.7"/><circle cx="1020.2" cy="93" r="4.7"/><circle cx="1022.3" cy="87.1" r="4.7"/><circle cx="1024.4" cy="87" r="4.7"/><circle cx="1026.5" cy="91.8" r="4.7"/><circle cx="1028.6" cy="94.9" r="4.7"/><circle cx="1030.6" cy="96.6" r="4.7"/><circle cx="1032.7" cy="93.6" r="4.7"/><circle cx="1034.8" cy="99.7" r="4.7"/><circle cx="1036.9" cy="88.7" r="4.7"/><circle cx="1039" cy="94.4" r="4.7"/><circle cx="1041" cy="90.6" r="4.7"/><circle cx="1043.1" cy="85.8" r="4.7"/><circle cx="1045.2" cy="88.8" r="4.7"/><circle cx="1047.3" cy="98" r="4.7"/><circle cx="1049.4" cy="90.6" r="4.7"/><circle cx="1051.5" cy="89.8" r="4.7"/><circle cx="1053.5" cy="97.2" r="4.7"/><circle cx="1055.6" cy="98.2" r="4.7"/><circle cx="1057.7" cy="95.2" r="4.7"/><circle cx="1059.8" cy="101.1" r="4.7"/><circle cx="1061.9" cy="89.3" r="4.7"/><circle cx="1063.9" cy="101.6" r="4.7"/><circle cx="1066" cy="98.9" r="4.7"/><circle cx="1068.1" cy="95.6" r="4.7"/><circle cx="1070.2" cy="95.2" r="4.7"/><circle cx="1072.3" cy="93.4" r="4.7"/><circle cx="1074.3" cy="92.5" r="4.7"/><circle cx="1076.4" cy="94.1" r="4.7"/><circle cx="1078.5" cy="88.7" r="4.7"/><circle cx="1080.6" cy="100.7" r="4.7"/><circle cx="1082.7" cy="92.5" r="4.7"/><circle cx="1084.7" cy="95" r="4.7"/><circle cx="1086.8" cy="91.4" r="4.7"/><circle cx="1088.9" cy="90.9" r="4.7"/><circle cx="1091" cy="95.1" r="4.7"/><circle cx="1093.1" cy="94" r="4.7"/><circle cx="1095.1" cy="88.5" r="4.7"/><circle cx="1097.2" cy="90.4" r="4.7"/><circle cx="1099.3" cy="94.4" r="4.7"/><circle cx="1101.4" cy="84.5" r="4.7"/><circle cx="1103.5" cy="83.5" r="4.7"/><circle cx="1105.5" cy="98.1" r="4.7"/><circle cx="1107.6" cy="91.6" r="4.7"/><circle cx="1109.7" cy="83.5" r="4.7"/><circle cx="1111.8" cy="90.2" r="4.7"/><circle cx="1113.9" cy="92.6" r="4.7"/><circle cx="1115.9" cy="94.2" r="4.7"/><circle cx="1118" cy="95.6" r="4.7"/><circle cx="1120.1" cy="94.4" r="4.7"/><circle cx="1122.2" cy="95.8" r="4.7"/><circle cx="1124.3" cy="90.9" r="4.7"/><circle cx="1126.3" cy="95.3" r="4.7"/><circle cx="1128.4" cy="95.3" r="4.7"/><circle cx="1130.5" cy="98" r="4.7"/><circle cx="1132.6" cy="93.7" r="4.7"/><circle cx="1134.7" cy="96.8" r="4.7"/><circle cx="1136.7" cy="94.1" r="4.7"/><circle cx="1138.8" cy="89.4" r="4.7"/><circle cx="1140.9" cy="91.6" r="4.7"/><circle cx="1143" cy="90.8" r="4.7"/><circle cx="1145.1" cy="91.3" r="4.7"/><circle cx="1147.1" cy="92.3" r="4.7"/><circle cx="1149.2" cy="92.5" r="4.7"/><circle cx="1151.3" cy="93.1" r="4.7"/><circle cx="1153.4" cy="88.7" r="4.7"/><circle cx="1155.5" cy="95.6" r="4.7"/><circle cx="1157.5" cy="86" r="4.7"/><circle cx="1159.6" cy="90.7" r="4.7"/><circle cx="1161.7" cy="93.4" r="4.7"/><circle cx="1163.8" cy="92.2" r="4.7"/><circle cx="1165.9" cy="93.1" r="4.7"/><circle cx="1167.9" cy="90" r="4.7"/><circle cx="1170" cy="93.4" r="4.7"/><circle cx="1172.1" cy="86.4" r="4.7"/><circle cx="1174.2" cy="93.7" r="4.7"/><circle cx="1176.3" cy="99.6" r="4.7"/><circle cx="1178.4" cy="94.1" r="4.7"/><circle cx="1180.4" cy="99.1" r="4.7"/><circle cx="1182.5" cy="92" r="4.7"/><circle cx="1184.6" cy="88.1" r="4.7"/><circle cx="1186.7" cy="89.9" r="4.7"/><circle cx="1188.8" cy="97.8" r="4.7"/><circle cx="1190.8" cy="96" r="4.7"/><circle cx="1192.9" cy="86.8" r="4.7"/><circle cx="1195" cy="92.4" r="4.7"/><circle cx="1197.1" cy="93.8" r="4.7"/><circle cx="1199.2" cy="90" r="4.7"/><circle cx="1201.2" cy="84.9" r="4.7"/><circle cx="1203.3" cy="89.4" r="4.7"/><circle cx="1205.4" cy="94" r="4.7"/><circle cx="1207.5" cy="93.2" r="4.7"/><circle cx="1209.6" cy="92.4" r="4.7"/><circle cx="1211.6" cy="97" r="4.7"/><circle cx="1213.7" cy="98.6" r="4.7"/><circle cx="1215.8" cy="94.3" r="4.7"/><circle cx="1217.9" cy="98" r="4.7"/><circle cx="1220" cy="94.4" r="4.7"/><circle cx="1222" cy="93.7" r="4.7"/><circle cx="1224.1" cy="85" r="4.7"/><circle cx="1226.2" cy="96.8" r="4.7"/><circle cx="1228.3" cy="93.8" r="4.7"/><circle cx="1230.4" cy="93.6" r="4.7"/><circle cx="1232.4" cy="91.2" r="4.7"/><circle cx="1234.5" cy="88.5" r="4.7"/><circle cx="1236.6" cy="94" r="4.7"/><circle cx="1238.7" cy="95" r="4.7"/><circle cx="1240.8" cy="97.6" r="4.7"/><circle cx="1242.8" cy="94.8" r="4.7"/><circle cx="1244.9" cy="89.1" r="4.7"/><circle cx="1247" cy="90.6" r="4.7"/><circle cx="1249.1" cy="94.2" r="4.7"/><circle cx="1251.2" cy="91.5" r="4.7"/><circle cx="1253.2" cy="89.8" r="4.7"/><circle cx="1255.3" cy="87.7" r="4.7"/><circle cx="1257.4" cy="91.6" r="4.7"/><circle cx="1259.5" cy="90.4" r="4.7"/><circle cx="1261.6" cy="96.1" r="4.7"/><circle cx="1263.6" cy="93.7" r="4.7"/><circle cx="1265.7" cy="83.5" r="4.7"/><circle cx="1267.8" cy="98" r="4.7"/><circle cx="1269.9" cy="91.2" r="4.7"/><circle cx="1272" cy="89.4" r="4.7"/><circle cx="1274" cy="91.8" r="4.7"/><circle cx="1276.1" cy="93.7" r="4.7"/><circle cx="1278.2" cy="91.1" r="4.7"/><circle cx="1280.3" cy="91.1" r="4.7"/><circle cx="1282.4" cy="91.6" r="4.7"/><circle cx="1284.4" cy="98.4" r="4.7"/><circle cx="1286.5" cy="91.9" r="4.7"/><circle cx="1288.6" cy="94.5" r="4.7"/><circle cx="1290.7" cy="93.2" r="4.7"/><circle cx="1292.8" cy="90" r="4.7"/><circle cx="1294.8" cy="87.9" r="4.7"/><circle cx="1296.9" cy="86.7" r="4.7"/><circle cx="1299" cy="91.8" r="4.7"/><circle cx="1301.1" cy="86.1" r="4.7"/><circle cx="1303.2" cy="84.8" r="4.7"/><circle cx="1305.3" cy="84.5" r="4.7"/><circle cx="1307.3" cy="83.4" r="4.7"/><circle cx="1309.4" cy="89" r="4.7"/><circle cx="1311.5" cy="88.8" r="4.7"/><circle cx="1313.6" cy="85" r="4.7"/><circle cx="1315.7" cy="93.3" r="4.7"/><circle cx="1317.7" cy="87.2" r="4.7"/><circle cx="1319.8" cy="90" r="4.7"/><circle cx="1321.9" cy="89.6" r="4.7"/><circle cx="1324" cy="95" r="4.7"/><circle cx="1326.1" cy="92" r="4.7"/><circle cx="1328.1" cy="89.1" r="4.7"/><circle cx="1330.2" cy="86.1" r="4.7"/><circle cx="1332.3" cy="86.2" r="4.7"/><circle cx="1334.4" cy="90.7" r="4.7"/><circle cx="1336.5" cy="91.4" r="4.7"/><circle cx="1338.5" cy="94.3" r="4.7"/><circle cx="1340.6" cy="90.3" r="4.7"/><circle cx="1342.7" cy="93.2" r="4.7"/><circle cx="1344.8" cy="90.4" r="4.7"/><circle cx="1346.9" cy="86.7" r="4.7"/><circle cx="1348.9" cy="93.7" r="4.7"/><circle cx="1351" cy="99.4" r="4.7"/><circle cx="1353.1" cy="97.1" r="4.7"/><circle cx="1355.2" cy="99.2" r="4.7"/><circle cx="1357.3" cy="98" r="4.7"/><circle cx="1359.3" cy="88.2" r="4.7"/><circle cx="1361.4" cy="91.8" r="4.7"/><circle cx="1363.5" cy="97.9" r="4.7"/></g>
<polyline points="117.38,121.46 119.46,95.42 121.54,95.36 123.62,96.53 125.7,97.54 127.78,97.69 129.86,98.71 131.94,98.6 134.02,98.79 136.1,100.3 138.18,100.55 140.26,100.39 142.34,101.82 144.42,101.95 146.5,103.16 148.59,103.07 150.67,102.98 152.75,101.64 154.83,103.15 156.91,103.32 158.99,103.45 161.07,103.35 163.15,102.94 165.23,103.25 167.31,102.34 169.39,103.46 171.47,102.99 173.55,103.8 175.63,103.83 177.71,105.14 179.79,104.59 181.87,104.65 183.95,104.72 186.03,105.69 188.11,103.92 190.19,104.39 192.27,104.19 194.35,103.88 196.43,103.66 198.51,103.21 200.59,104.04 202.67,103.84 204.75,103.19 206.83,103.32 208.91,104.5 211,105.25 213.08,105.86 215.16,104.47 217.24,102.21 219.32,106.35 221.4,101.01 223.48,102.09 225.56,104.17 227.64,101.36 229.72,105.46 231.8,106.09 233.88,105.4 235.96,103.79 238.04,103.65 240.12,104.21 242.2,102.73 244.28,106.67 246.36,101.02 248.44,103.97 250.52,101.61 252.6,100.43 254.68,101.37 256.76,101.3 258.84,100.32 260.92,98.63 263,97.64 265.08,98.03 267.16,101.04 269.24,100.89 271.32,100.74 273.41,97.52 275.49,101.5 277.57,94.35 279.65,97.02 281.73,97.12 283.81,95.08 285.89,94.21 287.97,96.22 290.05,96.11 292.13,98.97 294.21,97.83 296.29,98.13 298.37,100.71 300.45,97.26 302.53,98.87 304.61,97.74 306.69,100.55 308.77,96.72 310.85,91.55 312.93,100.25 315.01,92.57 317.09,94.54 319.17,95.51 321.25,106.7 323.33,98.31 325.41,95.37 327.49,101.34 329.57,97.84 331.65,108.1 333.74,95 335.82,100.55 337.9,93.77 339.98,104.72 342.06,93.31 344.14,96.52 346.22,91.59 348.3,98.45 350.38,97 352.46,84.96 354.54,98.13 356.62,98.04 358.7,96.87 360.78,100.9 362.86,92.34 364.94,90.98 367.02,102.16 369.1,107.05 371.18,95.29 373.26,95.69 375.34,96.84 377.42,95.14 379.5,103.15 381.58,99.62 383.66,104.1 385.74,103.38 387.82,92.41 389.9,98.45 391.98,85.25 394.06,94.49 396.15,97.41 398.23,91.36 400.31,87.51 402.39,93.34 404.47,100.78 406.55,94.12 408.63,89.93 410.71,97.9 412.79,99.38 414.87,92.07 416.95,96.19 419.03,101.6 421.11,98.12 423.19,99.54 425.27,94.41 427.35,94.51 429.43,89.78 431.51,91.47 433.59,101.51 435.67,93.71 437.75,92.37 439.83,95 441.91,93.03 443.99,100 446.07,101.77 448.15,93.87 450.23,102.09 452.31,106.66 454.39,93 456.47,100.16 458.56,98.29 460.64,102.5 462.72,101.69 464.8,100.38 466.88,96.3 468.96,92.47 471.04,103.07 473.12,89.76 475.2,98.05 477.28,98.12 479.36,91.65 481.44,95.86 483.52,103.15 485.6,89.61 487.68,101.59 489.76,96.92 491.84,96.72 493.92,90.84 496,97.9 498.08,90.63 500.16,97.02 502.24,88.08 504.32,94.93 506.4,92.59 508.48,82.58 510.56,88.88 512.64,89.68 514.72,80.62 516.8,88.69 518.88,93.82 520.97,87.46 523.05,95.9 525.13,86.72 527.21,87.1 529.29,95.6 531.37,96.98 533.45,94.34 535.53,95.98 537.61,100.56 539.69,93.94 541.77,104.57 543.85,97.2 545.93,96.26 548.01,94.97 550.09,91.86 552.17,98.2 554.25,90.54 556.33,93.79 558.41,96.2 560.49,99.41 562.57,98.57 564.65,92.14 566.73,97.47 568.81,93.02 570.89,88.65 572.97,88.65 575.05,86.53 577.13,94.54 579.21,97.9 581.29,89.3 583.38,92.5 585.46,89.07 587.54,93.91 589.62,89.11 591.7,90.63 593.78,91.35 595.86,92.53 597.94,93.36 600.02,94.73 602.1,95.39 604.18,92.63 606.26,99.56 608.34,90.43 610.42,98.22 612.5,93.2 614.58,97.11 616.66,96.87 618.74,86.55 620.82,95.7 622.9,98.91 624.98,96.03 627.06,93.99 629.14,83.38 631.22,91.68 633.3,88.6 635.38,96.67 637.46,91.13 639.54,89.99 641.62,85.54 643.7,96.27 645.78,90.87 647.87,92.37 649.95,98.3 652.03,94.25 654.11,95.56 656.19,104.67 658.27,92.64 660.35,84.09 662.43,98.1 664.51,102.07 666.59,79.8 668.67,94.76 670.75,84.7 672.83,88 674.91,95.05 676.99,78.57 679.07,92.01 681.15,86.23 683.23,90.9 685.31,90.99 687.39,87.05 689.47,92.18 691.55,94.43 693.63,95.96 695.71,94.36 697.79,101.55 699.87,102.47 701.95,106.15 704.03,104.31 706.11,103.08 708.19,106.15 710.28,108.6 712.36,107.98 714.44,109.21 716.52,109.82 718.6,110.74 720.68,111.66 722.76,111.66 724.84,113.5 726.92,113.5 729,115.34 731.08,115.64 733.16,117.17 733.16,139.85 736.9,154.55 738.78,206.33 740.86,327.34 744.39,330.4 747.72,336.22" fill="none" stroke="#386aa0" stroke-width="1.8" stroke-linejoin="round"/>
<g fill="url(#g1)" stroke="url(#rim)" stroke-width="0.8"><circle cx="117.4" cy="121.5" r="4.7"/><circle cx="119.5" cy="95.4" r="4.7"/><circle cx="121.5" cy="95.4" r="4.7"/><circle cx="123.6" cy="96.5" r="4.7"/><circle cx="125.7" cy="97.5" r="4.7"/><circle cx="127.8" cy="97.7" r="4.7"/><circle cx="129.9" cy="98.7" r="4.7"/><circle cx="131.9" cy="98.6" r="4.7"/><circle cx="134" cy="98.8" r="4.7"/><circle cx="136.1" cy="100.3" r="4.7"/><circle cx="138.2" cy="100.5" r="4.7"/><circle cx="140.3" cy="100.4" r="4.7"/><circle cx="142.3" cy="101.8" r="4.7"/><circle cx="144.4" cy="102" r="4.7"/><circle cx="146.5" cy="103.2" r="4.7"/><circle cx="148.6" cy="103.1" r="4.7"/><circle cx="150.7" cy="103" r="4.7"/><circle cx="152.7" cy="101.6" r="4.7"/><circle cx="154.8" cy="103.2" r="4.7"/><circle cx="156.9" cy="103.3" r="4.7"/><circle cx="159" cy="103.5" r="4.7"/><circle cx="161.1" cy="103.3" r="4.7"/><circle cx="163.1" cy="102.9" r="4.7"/><circle cx="165.2" cy="103.2" r="4.7"/><circle cx="167.3" cy="102.3" r="4.7"/><circle cx="169.4" cy="103.5" r="4.7"/><circle cx="171.5" cy="103" r="4.7"/><circle cx="173.5" cy="103.8" r="4.7"/><circle cx="175.6" cy="103.8" r="4.7"/><circle cx="177.7" cy="105.1" r="4.7"/><circle cx="179.8" cy="104.6" r="4.7"/><circle cx="181.9" cy="104.6" r="4.7"/><circle cx="184" cy="104.7" r="4.7"/><circle cx="186" cy="105.7" r="4.7"/><circle cx="188.1" cy="103.9" r="4.7"/><circle cx="190.2" cy="104.4" r="4.7"/><circle cx="192.3" cy="104.2" r="4.7"/><circle cx="194.4" cy="103.9" r="4.7"/><circle cx="196.4" cy="103.7" r="4.7"/><circle cx="198.5" cy="103.2" r="4.7"/><circle cx="200.6" cy="104" r="4.7"/><circle cx="202.7" cy="103.8" r="4.7"/><circle cx="204.8" cy="103.2" r="4.7"/><circle cx="206.8" cy="103.3" r="4.7"/><circle cx="208.9" cy="104.5" r="4.7"/><circle cx="211" cy="105.2" r="4.7"/><circle cx="213.1" cy="105.9" r="4.7"/><circle cx="215.2" cy="104.5" r="4.7"/><circle cx="217.2" cy="102.2" r="4.7"/><circle cx="219.3" cy="106.3" r="4.7"/><circle cx="221.4" cy="101" r="4.7"/><circle cx="223.5" cy="102.1" r="4.7"/><circle cx="225.6" cy="104.2" r="4.7"/><circle cx="227.6" cy="101.4" r="4.7"/><circle cx="229.7" cy="105.5" r="4.7"/><circle cx="231.8" cy="106.1" r="4.7"/><circle cx="233.9" cy="105.4" r="4.7"/><circle cx="236" cy="103.8" r="4.7"/><circle cx="238" cy="103.6" r="4.7"/><circle cx="240.1" cy="104.2" r="4.7"/><circle cx="242.2" cy="102.7" r="4.7"/><circle cx="244.3" cy="106.7" r="4.7"/><circle cx="246.4" cy="101" r="4.7"/><circle cx="248.4" cy="104" r="4.7"/><circle cx="250.5" cy="101.6" r="4.7"/><circle cx="252.6" cy="100.4" r="4.7"/><circle cx="254.7" cy="101.4" r="4.7"/><circle cx="256.8" cy="101.3" r="4.7"/><circle cx="258.8" cy="100.3" r="4.7"/><circle cx="260.9" cy="98.6" r="4.7"/><circle cx="263" cy="97.6" r="4.7"/><circle cx="265.1" cy="98" r="4.7"/><circle cx="267.2" cy="101" r="4.7"/><circle cx="269.2" cy="100.9" r="4.7"/><circle cx="271.3" cy="100.7" r="4.7"/><circle cx="273.4" cy="97.5" r="4.7"/><circle cx="275.5" cy="101.5" r="4.7"/><circle cx="277.6" cy="94.4" r="4.7"/><circle cx="279.6" cy="97" r="4.7"/><circle cx="281.7" cy="97.1" r="4.7"/><circle cx="283.8" cy="95.1" r="4.7"/><circle cx="285.9" cy="94.2" r="4.7"/><circle cx="288" cy="96.2" r="4.7"/><circle cx="290" cy="96.1" r="4.7"/><circle cx="292.1" cy="99" r="4.7"/><circle cx="294.2" cy="97.8" r="4.7"/><circle cx="296.3" cy="98.1" r="4.7"/><circle cx="298.4" cy="100.7" r="4.7"/><circle cx="300.4" cy="97.3" r="4.7"/><circle cx="302.5" cy="98.9" r="4.7"/><circle cx="304.6" cy="97.7" r="4.7"/><circle cx="306.7" cy="100.6" r="4.7"/><circle cx="308.8" cy="96.7" r="4.7"/><circle cx="310.9" cy="91.5" r="4.7"/><circle cx="312.9" cy="100.3" r="4.7"/><circle cx="315" cy="92.6" r="4.7"/><circle cx="317.1" cy="94.5" r="4.7"/><circle cx="319.2" cy="95.5" r="4.7"/><circle cx="321.3" cy="106.7" r="4.7"/><circle cx="323.3" cy="98.3" r="4.7"/><circle cx="325.4" cy="95.4" r="4.7"/><circle cx="327.5" cy="101.3" r="4.7"/><circle cx="329.6" cy="97.8" r="4.7"/><circle cx="331.7" cy="108.1" r="4.7"/><circle cx="333.7" cy="95" r="4.7"/><circle cx="335.8" cy="100.5" r="4.7"/><circle cx="337.9" cy="93.8" r="4.7"/><circle cx="340" cy="104.7" r="4.7"/><circle cx="342.1" cy="93.3" r="4.7"/><circle cx="344.1" cy="96.5" r="4.7"/><circle cx="346.2" cy="91.6" r="4.7"/><circle cx="348.3" cy="98.4" r="4.7"/><circle cx="350.4" cy="97" r="4.7"/><circle cx="352.5" cy="85" r="4.7"/><circle cx="354.5" cy="98.1" r="4.7"/><circle cx="356.6" cy="98" r="4.7"/><circle cx="358.7" cy="96.9" r="4.7"/><circle cx="360.8" cy="100.9" r="4.7"/><circle cx="362.9" cy="92.3" r="4.7"/><circle cx="364.9" cy="91" r="4.7"/><circle cx="367" cy="102.2" r="4.7"/><circle cx="369.1" cy="107.1" r="4.7"/><circle cx="371.2" cy="95.3" r="4.7"/><circle cx="373.3" cy="95.7" r="4.7"/><circle cx="375.3" cy="96.8" r="4.7"/><circle cx="377.4" cy="95.1" r="4.7"/><circle cx="379.5" cy="103.2" r="4.7"/><circle cx="381.6" cy="99.6" r="4.7"/><circle cx="383.7" cy="104.1" r="4.7"/><circle cx="385.7" cy="103.4" r="4.7"/><circle cx="387.8" cy="92.4" r="4.7"/><circle cx="389.9" cy="98.4" r="4.7"/><circle cx="392" cy="85.2" r="4.7"/><circle cx="394.1" cy="94.5" r="4.7"/><circle cx="396.1" cy="97.4" r="4.7"/><circle cx="398.2" cy="91.4" r="4.7"/><circle cx="400.3" cy="87.5" r="4.7"/><circle cx="402.4" cy="93.3" r="4.7"/><circle cx="404.5" cy="100.8" r="4.7"/><circle cx="406.5" cy="94.1" r="4.7"/><circle cx="408.6" cy="89.9" r="4.7"/><circle cx="410.7" cy="97.9" r="4.7"/><circle cx="412.8" cy="99.4" r="4.7"/><circle cx="414.9" cy="92.1" r="4.7"/><circle cx="416.9" cy="96.2" r="4.7"/><circle cx="419" cy="101.6" r="4.7"/><circle cx="421.1" cy="98.1" r="4.7"/><circle cx="423.2" cy="99.5" r="4.7"/><circle cx="425.3" cy="94.4" r="4.7"/><circle cx="427.4" cy="94.5" r="4.7"/><circle cx="429.4" cy="89.8" r="4.7"/><circle cx="431.5" cy="91.5" r="4.7"/><circle cx="433.6" cy="101.5" r="4.7"/><circle cx="435.7" cy="93.7" r="4.7"/><circle cx="437.8" cy="92.4" r="4.7"/><circle cx="439.8" cy="95" r="4.7"/><circle cx="441.9" cy="93" r="4.7"/><circle cx="444" cy="100" r="4.7"/><circle cx="446.1" cy="101.8" r="4.7"/><circle cx="448.2" cy="93.9" r="4.7"/><circle cx="450.2" cy="102.1" r="4.7"/><circle cx="452.3" cy="106.7" r="4.7"/><circle cx="454.4" cy="93" r="4.7"/><circle cx="456.5" cy="100.2" r="4.7"/><circle cx="458.6" cy="98.3" r="4.7"/><circle cx="460.6" cy="102.5" r="4.7"/><circle cx="462.7" cy="101.7" r="4.7"/><circle cx="464.8" cy="100.4" r="4.7"/><circle cx="466.9" cy="96.3" r="4.7"/><circle cx="469" cy="92.5" r="4.7"/><circle cx="471" cy="103.1" r="4.7"/><circle cx="473.1" cy="89.8" r="4.7"/><circle cx="475.2" cy="98.1" r="4.7"/><circle cx="477.3" cy="98.1" r="4.7"/><circle cx="479.4" cy="91.7" r="4.7"/><circle cx="481.4" cy="95.9" r="4.7"/><circle cx="483.5" cy="103.2" r="4.7"/><circle cx="485.6" cy="89.6" r="4.7"/><circle cx="487.7" cy="101.6" r="4.7"/><circle cx="489.8" cy="96.9" r="4.7"/><circle cx="491.8" cy="96.7" r="4.7"/><circle cx="493.9" cy="90.8" r="4.7"/><circle cx="496" cy="97.9" r="4.7"/><circle cx="498.1" cy="90.6" r="4.7"/><circle cx="500.2" cy="97" r="4.7"/><circle cx="502.2" cy="88.1" r="4.7"/><circle cx="504.3" cy="94.9" r="4.7"/><circle cx="506.4" cy="92.6" r="4.7"/><circle cx="508.5" cy="82.6" r="4.7"/><circle cx="510.6" cy="88.9" r="4.7"/><circle cx="512.6" cy="89.7" r="4.7"/><circle cx="514.7" cy="80.6" r="4.7"/><circle cx="516.8" cy="88.7" r="4.7"/><circle cx="518.9" cy="93.8" r="4.7"/><circle cx="521" cy="87.5" r="4.7"/><circle cx="523" cy="95.9" r="4.7"/><circle cx="525.1" cy="86.7" r="4.7"/><circle cx="527.2" cy="87.1" r="4.7"/><circle cx="529.3" cy="95.6" r="4.7"/><circle cx="531.4" cy="97" r="4.7"/><circle cx="533.4" cy="94.3" r="4.7"/><circle cx="535.5" cy="96" r="4.7"/><circle cx="537.6" cy="100.6" r="4.7"/><circle cx="539.7" cy="93.9" r="4.7"/><circle cx="541.8" cy="104.6" r="4.7"/><circle cx="543.8" cy="97.2" r="4.7"/><circle cx="545.9" cy="96.3" r="4.7"/><circle cx="548" cy="95" r="4.7"/><circle cx="550.1" cy="91.9" r="4.7"/><circle cx="552.2" cy="98.2" r="4.7"/><circle cx="554.3" cy="90.5" r="4.7"/><circle cx="556.3" cy="93.8" r="4.7"/><circle cx="558.4" cy="96.2" r="4.7"/><circle cx="560.5" cy="99.4" r="4.7"/><circle cx="562.6" cy="98.6" r="4.7"/><circle cx="564.7" cy="92.1" r="4.7"/><circle cx="566.7" cy="97.5" r="4.7"/><circle cx="568.8" cy="93" r="4.7"/><circle cx="570.9" cy="88.7" r="4.7"/><circle cx="573" cy="88.7" r="4.7"/><circle cx="575.1" cy="86.5" r="4.7"/><circle cx="577.1" cy="94.5" r="4.7"/><circle cx="579.2" cy="97.9" r="4.7"/><circle cx="581.3" cy="89.3" r="4.7"/><circle cx="583.4" cy="92.5" r="4.7"/><circle cx="585.5" cy="89.1" r="4.7"/><circle cx="587.5" cy="93.9" r="4.7"/><circle cx="589.6" cy="89.1" r="4.7"/><circle cx="591.7" cy="90.6" r="4.7"/><circle cx="593.8" cy="91.3" r="4.7"/><circle cx="595.9" cy="92.5" r="4.7"/><circle cx="597.9" cy="93.4" r="4.7"/><circle cx="600" cy="94.7" r="4.7"/><circle cx="602.1" cy="95.4" r="4.7"/><circle cx="604.2" cy="92.6" r="4.7"/><circle cx="606.3" cy="99.6" r="4.7"/><circle cx="608.3" cy="90.4" r="4.7"/><circle cx="610.4" cy="98.2" r="4.7"/><circle cx="612.5" cy="93.2" r="4.7"/><circle cx="614.6" cy="97.1" r="4.7"/><circle cx="616.7" cy="96.9" r="4.7"/><circle cx="618.7" cy="86.5" r="4.7"/><circle cx="620.8" cy="95.7" r="4.7"/><circle cx="622.9" cy="98.9" r="4.7"/><circle cx="625" cy="96" r="4.7"/><circle cx="627.1" cy="94" r="4.7"/><circle cx="629.1" cy="83.4" r="4.7"/><circle cx="631.2" cy="91.7" r="4.7"/><circle cx="633.3" cy="88.6" r="4.7"/><circle cx="635.4" cy="96.7" r="4.7"/><circle cx="637.5" cy="91.1" r="4.7"/><circle cx="639.5" cy="90" r="4.7"/><circle cx="641.6" cy="85.5" r="4.7"/><circle cx="643.7" cy="96.3" r="4.7"/><circle cx="645.8" cy="90.9" r="4.7"/><circle cx="647.9" cy="92.4" r="4.7"/><circle cx="649.9" cy="98.3" r="4.7"/><circle cx="652" cy="94.3" r="4.7"/><circle cx="654.1" cy="95.6" r="4.7"/><circle cx="656.2" cy="104.7" r="4.7"/><circle cx="658.3" cy="92.6" r="4.7"/><circle cx="660.3" cy="84.1" r="4.7"/><circle cx="662.4" cy="98.1" r="4.7"/><circle cx="664.5" cy="102.1" r="4.7"/><circle cx="666.6" cy="79.8" r="4.7"/><circle cx="668.7" cy="94.8" r="4.7"/><circle cx="670.7" cy="84.7" r="4.7"/><circle cx="672.8" cy="88" r="4.7"/><circle cx="674.9" cy="95.1" r="4.7"/><circle cx="677" cy="78.6" r="4.7"/><circle cx="679.1" cy="92" r="4.7"/><circle cx="681.2" cy="86.2" r="4.7"/><circle cx="683.2" cy="90.9" r="4.7"/><circle cx="685.3" cy="91" r="4.7"/><circle cx="687.4" cy="87.1" r="4.7"/><circle cx="689.5" cy="92.2" r="4.7"/><circle cx="691.6" cy="94.4" r="4.7"/><circle cx="693.6" cy="96" r="4.7"/><circle cx="695.7" cy="94.4" r="4.7"/><circle cx="697.8" cy="101.6" r="4.7"/><circle cx="699.9" cy="102.5" r="4.7"/><circle cx="702" cy="106.1" r="4.7"/><circle cx="704" cy="104.3" r="4.7"/><circle cx="706.1" cy="103.1" r="4.7"/><circle cx="708.2" cy="106.1" r="4.7"/><circle cx="710.3" cy="108.6" r="4.7"/><circle cx="712.4" cy="108" r="4.7"/><circle cx="714.4" cy="109.2" r="4.7"/><circle cx="716.5" cy="109.8" r="4.7"/><circle cx="718.6" cy="110.7" r="4.7"/><circle cx="720.7" cy="111.7" r="4.7"/><circle cx="722.8" cy="111.7" r="4.7"/><circle cx="724.8" cy="113.5" r="4.7"/><circle cx="726.9" cy="113.5" r="4.7"/><circle cx="729" cy="115.3" r="4.7"/><circle cx="731.1" cy="115.6" r="4.7"/><circle cx="733.2" cy="117.2" r="4.7"/><circle cx="733.2" cy="139.8" r="4.7"/><circle cx="736.9" cy="154.6" r="4.7"/><circle cx="738.8" cy="206.3" r="4.7"/><circle cx="740.9" cy="327.3" r="4.7"/><circle cx="744.4" cy="330.4" r="4.7"/><circle cx="747.7" cy="336.2" r="4.7"/></g>
<polyline points="117.38,98.49 119.46,106.15 121.54,115.95 123.62,123.61 125.7,124.14 127.78,126.64 129.86,126.73 131.94,127.15 134.02,126.58 136.1,127.82 138.18,128.91 140.26,128.63 142.34,128.11 144.42,128.92 146.5,128.87 148.59,128.65 150.67,128.17 152.75,128.36 154.83,128.47 156.91,126.97 158.99,127.33 161.07,127.03 163.15,127.51 165.23,127.19 167.31,126.14 169.39,127.81 171.47,125.92 173.55,124.52 175.63,124.94 177.71,123.99 179.79,125.1 181.87,122.8 183.95,122.87 186.03,123.64 188.11,126.05 190.19,126.14 192.27,124.7 194.35,124.52 196.43,126.57 198.51,125.38 200.59,127.3 202.67,126.27 204.75,125.3 206.83,123.84 208.91,125.52 211,121.48 213.08,120.44 215.16,123.58 217.24,123.82 219.32,121.84 221.4,123.24 223.48,125.78 225.56,118.4 227.64,112.27 229.72,123 231.8,117.79 233.88,125.14 235.13,324.58 237.62,361.96 239.7,371.15 242.2,377.28 244.7,296.4" fill="none" stroke="#f4404a" stroke-width="1.8" stroke-linejoin="round"/>
<g fill="url(#g2)" stroke="url(#rim)" stroke-width="0.8"><circle cx="117.4" cy="98.5" r="4.7"/><circle cx="119.5" cy="106.1" r="4.7"/><circle cx="121.5" cy="115.9" r="4.7"/><circle cx="123.6" cy="123.6" r="4.7"/><circle cx="125.7" cy="124.1" r="4.7"/><circle cx="127.8" cy="126.6" r="4.7"/><circle cx="129.9" cy="126.7" r="4.7"/><circle cx="131.9" cy="127.2" r="4.7"/><circle cx="134" cy="126.6" r="4.7"/><circle cx="136.1" cy="127.8" r="4.7"/><circle cx="138.2" cy="128.9" r="4.7"/><circle cx="140.3" cy="128.6" r="4.7"/><circle cx="142.3" cy="128.1" r="4.7"/><circle cx="144.4" cy="128.9" r="4.7"/><circle cx="146.5" cy="128.9" r="4.7"/><circle cx="148.6" cy="128.7" r="4.7"/><circle cx="150.7" cy="128.2" r="4.7"/><circle cx="152.7" cy="128.4" r="4.7"/><circle cx="154.8" cy="128.5" r="4.7"/><circle cx="156.9" cy="127" r="4.7"/><circle cx="159" cy="127.3" r="4.7"/><circle cx="161.1" cy="127" r="4.7"/><circle cx="163.1" cy="127.5" r="4.7"/><circle cx="165.2" cy="127.2" r="4.7"/><circle cx="167.3" cy="126.1" r="4.7"/><circle cx="169.4" cy="127.8" r="4.7"/><circle cx="171.5" cy="125.9" r="4.7"/><circle cx="173.5" cy="124.5" r="4.7"/><circle cx="175.6" cy="124.9" r="4.7"/><circle cx="177.7" cy="124" r="4.7"/><circle cx="179.8" cy="125.1" r="4.7"/><circle cx="181.9" cy="122.8" r="4.7"/><circle cx="184" cy="122.9" r="4.7"/><circle cx="186" cy="123.6" r="4.7"/><circle cx="188.1" cy="126" r="4.7"/><circle cx="190.2" cy="126.1" r="4.7"/><circle cx="192.3" cy="124.7" r="4.7"/><circle cx="194.4" cy="124.5" r="4.7"/><circle cx="196.4" cy="126.6" r="4.7"/><circle cx="198.5" cy="125.4" r="4.7"/><circle cx="200.6" cy="127.3" r="4.7"/><circle cx="202.7" cy="126.3" r="4.7"/><circle cx="204.8" cy="125.3" r="4.7"/><circle cx="206.8" cy="123.8" r="4.7"/><circle cx="208.9" cy="125.5" r="4.7"/><circle cx="211" cy="121.5" r="4.7"/><circle cx="213.1" cy="120.4" r="4.7"/><circle cx="215.2" cy="123.6" r="4.7"/><circle cx="217.2" cy="123.8" r="4.7"/><circle cx="219.3" cy="121.8" r="4.7"/><circle cx="221.4" cy="123.2" r="4.7"/><circle cx="223.5" cy="125.8" r="4.7"/><circle cx="225.6" cy="118.4" r="4.7"/><circle cx="227.6" cy="112.3" r="4.7"/><circle cx="229.7" cy="123" r="4.7"/><circle cx="231.8" cy="117.8" r="4.7"/><circle cx="233.9" cy="125.1" r="4.7"/><circle cx="235.1" cy="324.6" r="4.7"/><circle cx="237.6" cy="362" r="4.7"/><circle cx="239.7" cy="371.1" r="4.7"/><circle cx="242.2" cy="377.3" r="4.7"/><circle cx="244.7" cy="296.4" r="4.7"/></g>
</g>
<line x1="115.3" y1="112.27" x2="1363.5" y2="112.27" stroke="#000" stroke-width="2.2" stroke-dasharray="9,8"/>
<rect x="115.3" y="51" width="1248.2" height="337" fill="none" stroke="#000" stroke-width="2.2"/>
<line x1="115.3" y1="388" x2="115.3" y2="379" stroke="#000" stroke-width="2"/>
<line x1="323.33" y1="388" x2="323.33" y2="379" stroke="#000" stroke-width="2"/>
<line x1="531.37" y1="388" x2="531.37" y2="379" stroke="#000" stroke-width="2"/>
<line x1="739.4" y1="388" x2="739.4" y2="379" stroke="#000" stroke-width="2"/>
<line x1="947.43" y1="388" x2="947.43" y2="379" stroke="#000" stroke-width="2"/>
<line x1="1155.47" y1="388" x2="1155.47" y2="379" stroke="#000" stroke-width="2"/>
<line x1="1363.5" y1="388" x2="1363.5" y2="379" stroke="#000" stroke-width="2"/>
<line x1="219.32" y1="388" x2="219.32" y2="383" stroke="#000" stroke-width="2"/>
<line x1="427.35" y1="388" x2="427.35" y2="383" stroke="#000" stroke-width="2"/>
<line x1="635.38" y1="388" x2="635.38" y2="383" stroke="#000" stroke-width="2"/>
<line x1="843.42" y1="388" x2="843.42" y2="383" stroke="#000" stroke-width="2"/>
<line x1="1051.45" y1="388" x2="1051.45" y2="383" stroke="#000" stroke-width="2"/>
<line x1="1259.48" y1="388" x2="1259.48" y2="383" stroke="#000" stroke-width="2"/>
<line x1="115.3" y1="388" x2="123.8" y2="388" stroke="#000" stroke-width="2"/>
<line x1="115.3" y1="326.73" x2="123.8" y2="326.73" stroke="#000" stroke-width="2"/>
<line x1="115.3" y1="265.45" x2="123.8" y2="265.45" stroke="#000" stroke-width="2"/>
<line x1="115.3" y1="204.18" x2="123.8" y2="204.18" stroke="#000" stroke-width="2"/>
<line x1="115.3" y1="142.91" x2="123.8" y2="142.91" stroke="#000" stroke-width="2"/>
<line x1="115.3" y1="81.64" x2="123.8" y2="81.64" stroke="#000" stroke-width="2"/>
<line x1="115.3" y1="357.36" x2="119.8" y2="357.36" stroke="#000" stroke-width="2"/>
<line x1="115.3" y1="296.09" x2="119.8" y2="296.09" stroke="#000" stroke-width="2"/>
<line x1="115.3" y1="234.82" x2="119.8" y2="234.82" stroke="#000" stroke-width="2"/>
<line x1="115.3" y1="173.55" x2="119.8" y2="173.55" stroke="#000" stroke-width="2"/>
<line x1="115.3" y1="112.27" x2="119.8" y2="112.27" stroke="#000" stroke-width="2"/>
<line x1="115.3" y1="51" x2="119.8" y2="51" stroke="#000" stroke-width="2"/>
<text transform="translate(115.3,421.5) scale(1,1.06)" x="0" y="0" font-size="30.6" text-anchor="middle">0</text>
<text transform="translate(323.33,421.5) scale(1,1.06)" x="0" y="0" font-size="30.6" text-anchor="middle">100</text>
<text transform="translate(531.37,421.5) scale(1,1.06)" x="0" y="0" font-size="30.6" text-anchor="middle">200</text>
<text transform="translate(739.4,421.5) scale(1,1.06)" x="0" y="0" font-size="30.6" text-anchor="middle">300</text>
<text transform="translate(947.43,421.5) scale(1,1.06)" x="0" y="0" font-size="30.6" text-anchor="middle">400</text>
<text transform="translate(1155.47,421.5) scale(1,1.06)" x="0" y="0" font-size="30.6" text-anchor="middle">500</text>
<text transform="translate(1363.5,421.5) scale(1,1.06)" x="0" y="0" font-size="30.6" text-anchor="middle">600</text>
<text transform="translate(105.6,397.6) scale(1,1.06)" x="0" y="0" font-size="30.6" text-anchor="end">0</text>
<text transform="translate(105.6,336.33) scale(1,1.06)" x="0" y="0" font-size="30.6" text-anchor="end">20</text>
<text transform="translate(105.6,275.05) scale(1,1.06)" x="0" y="0" font-size="30.6" text-anchor="end">40</text>
<text transform="translate(105.6,213.78) scale(1,1.06)" x="0" y="0" font-size="30.6" text-anchor="end">60</text>
<text transform="translate(105.6,152.51) scale(1,1.06)" x="0" y="0" font-size="30.6" text-anchor="end">80</text>
<text transform="translate(105.6,91.24) scale(1,1.06)" x="0" y="0" font-size="30.6" text-anchor="end">100</text>
<text transform="translate(750.4,456.9) scale(1,1.06)" x="0" y="0" font-size="30.4" text-anchor="middle">Cycle Number</text>
<text x="0" y="0" font-size="30.4" text-anchor="middle" transform="translate(38.8,218.6) rotate(-90) scale(1,1.06)">Coulombic efficiency (%)</text>
<text transform="translate(-0.5,33.8) scale(1,1.06)" x="0" y="0" font-size="48">a</text>
<text transform="translate(1142.5,140.2) scale(1,1.06)" x="0" y="0" font-size="30.2">CE<tspan dy="7.5">ave</tspan><tspan dy="-7.5">=97.5%</tspan></text>
<line x1="1124.4" y1="194.1" x2="1195.3" y2="194.1" stroke="#f4404a" stroke-width="2"/>
<circle cx="1159.6" cy="194.1" r="4.7" fill="url(#g2)" stroke="url(#rim)" stroke-width="0.8"/>
<text transform="translate(1204.3,204.6) scale(1,1.06)" x="0" y="0" font-size="29.2">Base</text>
<line x1="1124.4" y1="228.6" x2="1195.3" y2="228.6" stroke="#386aa0" stroke-width="2"/>
<circle cx="1159.6" cy="228.6" r="4.7" fill="url(#g1)" stroke="url(#rim)" stroke-width="0.8"/>
<text transform="translate(1204.3,238.9) scale(1,1.06)" x="0" y="0" font-size="29.2">LF</text>
<line x1="1124.4" y1="258.7" x2="1195.3" y2="258.7" stroke="#fb9a33" stroke-width="2"/>
<circle cx="1159.6" cy="258.7" r="4.7" fill="url(#g0)" stroke="url(#rim)" stroke-width="0.8"/>
<text transform="translate(1204.3,269.4) scale(1,1.06)" x="0" y="0" font-size="29.2">WCIE</text>
<text transform="translate(1081.8,357.8) scale(1,1.06)" x="0" y="0" font-size="25.5">1 mA cm<tspan dy="-10.8" font-size="16.5">-2</tspan><tspan dy="10.8">-1 mAh cm</tspan><tspan dy="-10.8" font-size="16.5">-2</tspan></text>
<g clip-path="url(#cb)" fill="none" stroke-linecap="round">
<polyline points="1537.97,296.06 1539.87,293.04 1542.09,290.32 1544.57,287.97 1547.35,286.01 1550.58,284.29 1554.03,282.8 1557.48,281.53 1560.96,280.25 1564.52,279.01 1568.13,277.96 1571.77,277.23 1575.41,276.96 1579.06,276.92 1582.71,276.88 1586.38,276.84 1590.06,276.81 1593.75,276.78 1597.45,276.75 1601.16,276.73 1604.87,276.71 1608.6,276.69 1612.33,276.67 1616.07,276.66 1619.82,276.64 1623.57,276.63 1627.32,276.62 1631.08,276.61 1634.84,276.6 1638.6,276.59 1642.37,276.58 1646.14,276.57 1649.9,276.57 1653.67,276.56 1657.44,276.55 1661.2,276.54 1664.96,276.52 1668.72,276.51 1672.48,276.49 1676.23,276.48 1679.98,276.46 1683.72,276.44 1687.46,276.41 1691.19,276.39 1694.93,276.37 1698.66,276.34 1702.4,276.32 1706.13,276.3 1709.87,276.27 1713.6,276.25 1717.34,276.22 1721.07,276.2 1724.81,276.17 1728.55,276.15 1732.28,276.12 1736.02,276.09 1739.75,276.06 1743.49,276.03 1747.22,275.99 1750.96,275.96 1754.69,275.92 1758.43,275.88 1762.16,275.84 1765.9,275.8 1769.63,275.76 1773.36,275.71 1777.1,275.66 1780.83,275.6 1784.56,275.55 1788.29,275.49 1792.02,275.43 1795.75,275.36 1799.49,275.29 1803.22,275.2 1806.96,275.08 1810.71,274.94 1814.46,274.79 1818.2,274.6 1821.94,274.4 1825.68,274.18 1829.41,273.93 1833.13,273.66 1836.84,273.37 1840.54,273.06 1844.23,272.73 1847.9,272.36 1851.61,271.86 1855.32,271.25 1859.03,270.52 1862.7,269.69 1866.33,268.77 1869.89,267.77 1873.36,266.69 1876.8,265.53 1880.56,264.07 1884.19,262.33 1887.07,260.36 1888.69,258.16 1889.82,255.55 1890.78,252.52 1891.59,249.21 1892.28,245.71 1892.86,242.14 1893.35,238.61 1893.78,235.22 1894.17,231.96 1894.55,228.7 1894.92,225.44 1895.28,222.16 1895.62,218.89 1895.95,215.61 1896.25,212.33 1896.52,209.04 1896.77,205.75 1896.98,202.45 1897.17,199.14 1897.31,195.83 1897.42,192.52 1897.49,189.2 1897.51,185.87" fill="none" stroke="#ff8c8c" stroke-width="3.3" stroke-linejoin="round"/>
<polyline points="1537.97,316.79 1538.26,313.03 1539.06,309.87 1540.24,307.44 1541.66,305.89 1544.2,304.91 1547.79,304.3 1551.02,304.24 1554.19,304.25 1557.37,304.26 1560.56,304.27 1563.76,304.29 1566.97,304.31 1570.18,304.33 1573.4,304.36 1576.62,304.39 1579.85,304.42 1583.09,304.45 1586.32,304.48 1589.56,304.52 1592.79,304.56 1596.03,304.6 1599.26,304.63 1602.49,304.67 1605.72,304.71 1608.95,304.75 1612.17,304.79 1615.38,304.82 1618.6,304.86 1621.82,304.9 1625.03,304.94 1628.25,304.98 1631.47,305.02 1634.69,305.06 1637.91,305.1 1641.13,305.15 1644.35,305.19 1647.57,305.24 1650.79,305.29 1654.01,305.33 1657.23,305.39 1660.45,305.44 1663.67,305.49 1666.88,305.55 1670.1,305.61 1673.32,305.67 1676.54,305.73 1679.76,305.8 1682.97,305.86 1686.19,305.93 1689.4,306.01 1692.62,306.08 1695.83,306.16 1699.04,306.24 1702.25,306.33 1705.46,306.42 1708.67,306.51 1711.88,306.6 1715.09,306.7 1718.3,306.8 1721.5,306.91 1724.7,307.02 1727.91,307.15 1731.12,307.3 1734.33,307.48 1737.54,307.67 1740.75,307.89 1743.96,308.12 1747.18,308.38 1750.39,308.65 1753.61,308.94 1756.82,309.25 1760.03,309.57 1763.24,309.92 1766.44,310.27 1769.65,310.64 1772.85,311.03 1776.05,311.43 1779.24,311.84 1782.43,312.27 1785.62,312.7 1788.8,313.15 1791.98,313.61 1795.15,314.08 1798.31,314.56 1801.47,315.05 1804.62,315.55 1807.76,316.05 1810.89,316.56 1814.02,317.1 1817.12,317.77 1820.21,318.56 1823.27,319.44 1826.33,320.39 1829.39,321.38 1832.43,322.38 1835.48,323.38 1838.54,324.35 1841.6,325.26 1844.68,326.09 1847.78,326.8 1850.89,327.39 1854.03,327.82 1857.2,328.2 1860.4,328.55 1863.61,328.86 1866.83,329.11 1870.05,329.28 1873.25,329.38 1876.46,329.46 1879.67,329.54 1882.88,329.6 1886.1,329.67 1889.31,329.72 1892.53,329.77 1895.74,329.81 1898.96,329.84 1902.19,329.86 1905.41,329.87 1908.63,329.88" fill="none" stroke="#ff8c8c" stroke-width="3.3" stroke-linejoin="round"/>
<polyline points="1537.97,296.06 1539.87,293.04 1542.08,290.33 1544.55,287.98 1547.32,286.02 1550.53,284.28 1553.97,282.79 1557.42,281.57 1560.91,280.41 1564.5,279.3 1568.14,278.38 1571.81,277.74 1575.47,277.51 1579.12,277.46 1582.78,277.42 1586.45,277.39 1590.13,277.35 1593.82,277.33 1597.52,277.3 1601.23,277.27 1604.94,277.25 1608.65,277.23 1612.38,277.22 1616.11,277.2 1619.84,277.19 1623.58,277.18 1627.32,277.17 1631.06,277.16 1634.81,277.15 1638.56,277.14 1642.3,277.13 1646.06,277.12 1649.81,277.11 1653.56,277.1 1657.31,277.09 1661.06,277.08 1664.8,277.07 1668.55,277.06 1672.29,277.04 1676.03,277.02 1679.77,277.01 1683.5,276.98 1687.22,276.96 1690.95,276.94 1694.67,276.91 1698.4,276.89 1702.13,276.87 1705.85,276.84 1709.58,276.82 1713.3,276.79 1717.03,276.77 1720.75,276.74 1724.48,276.72 1728.21,276.69 1731.93,276.66 1735.66,276.63 1739.38,276.6 1743.11,276.57 1746.83,276.54 1750.56,276.5 1754.29,276.47 1758.01,276.43 1761.74,276.39 1765.46,276.34 1769.18,276.3 1772.91,276.25 1776.63,276.2 1780.35,276.15 1784.08,276.1 1787.8,276.04 1791.52,275.98 1795.24,275.91 1798.97,275.85 1802.7,275.77 1806.44,275.67 1810.18,275.56 1813.93,275.43 1817.67,275.28 1821.42,275.11 1825.16,274.92 1828.89,274.71 1832.61,274.49 1836.32,274.23 1840.02,273.96 1843.69,273.66 1847.35,273.34 1850.99,272.96 1854.64,272.39 1858.3,271.6 1861.93,270.65 1865.52,269.56 1869.03,268.38 1872.44,267.12 1875.85,265.79 1879.54,264.19 1883.02,262.35 1885.74,260.28 1887.27,258 1888.38,255.32 1889.33,252.27 1890.14,248.96 1890.82,245.49 1891.39,241.95 1891.88,238.46 1892.31,235.1 1892.7,231.85 1893.08,228.59 1893.45,225.33 1893.81,222.07 1894.15,218.81 1894.47,215.54 1894.77,212.26 1895.04,208.98 1895.29,205.7 1895.5,202.4 1895.69,199.11 1895.83,195.81 1895.94,192.5 1896.01,189.19 1896.03,185.87" fill="none" stroke="#b4b4b4" stroke-width="3.3" stroke-linejoin="round"/>
<polyline points="1537.97,316.79 1538.26,313.03 1539.07,309.86 1540.24,307.43 1541.66,305.88 1544.22,304.91 1547.81,304.3 1551.05,304.24 1554.22,304.25 1557.4,304.26 1560.6,304.27 1563.8,304.29 1567.01,304.31 1570.22,304.33 1573.45,304.36 1576.68,304.39 1579.91,304.42 1583.14,304.45 1586.38,304.49 1589.62,304.53 1592.86,304.56 1596.1,304.6 1599.34,304.64 1602.57,304.68 1605.81,304.72 1609.03,304.75 1612.26,304.79 1615.48,304.82 1618.7,304.86 1621.92,304.89 1625.14,304.93 1628.36,304.96 1631.58,305 1634.81,305.03 1638.03,305.07 1641.25,305.1 1644.48,305.14 1647.7,305.18 1650.92,305.21 1654.15,305.25 1657.37,305.29 1660.59,305.33 1663.82,305.37 1667.04,305.42 1670.27,305.46 1673.49,305.5 1676.71,305.55 1679.93,305.6 1683.16,305.65 1686.38,305.7 1689.6,305.75 1692.82,305.81 1696.04,305.87 1699.26,305.93 1702.48,305.99 1705.7,306.05 1708.91,306.12 1712.13,306.19 1715.34,306.26 1718.56,306.34 1721.77,306.41 1724.98,306.49 1728.19,306.58 1731.4,306.66 1734.61,306.75 1737.82,306.85 1741.03,306.94 1744.23,307.05 1747.44,307.18 1750.66,307.33 1753.88,307.51 1757.1,307.71 1760.33,307.93 1763.55,308.18 1766.78,308.44 1770.01,308.73 1773.23,309.04 1776.46,309.36 1779.68,309.71 1782.9,310.07 1786.11,310.45 1789.32,310.85 1792.53,311.27 1795.73,311.7 1798.92,312.15 1802.11,312.61 1805.28,313.09 1808.45,313.59 1811.61,314.09 1814.76,314.61 1817.89,315.15 1821.02,315.69 1824.13,316.25 1827.23,316.81 1830.3,317.51 1833.33,318.42 1836.34,319.48 1839.33,320.64 1842.3,321.87 1845.28,323.1 1848.26,324.29 1851.26,325.39 1854.29,326.36 1857.34,327.15 1860.44,327.7 1863.58,328.1 1866.77,328.46 1869.98,328.77 1873.21,329.03 1876.44,329.23 1879.66,329.35 1882.87,329.45 1886.09,329.54 1889.3,329.63 1892.52,329.7 1895.74,329.76 1898.96,329.81 1902.18,329.85 1905.41,329.87 1908.63,329.88" fill="none" stroke="#b4b4b4" stroke-width="3.3" stroke-linejoin="round"/>
<polyline points="1537.97,296.06 1539.87,293.04 1542.09,290.32 1544.57,287.97 1547.35,285.99 1550.56,284.22 1554.01,282.73 1557.47,281.58 1561,280.53 1564.63,279.56 1568.32,278.77 1572.02,278.23 1575.71,278.05 1579.38,278.01 1583.07,277.97 1586.76,277.93 1590.46,277.9 1594.17,277.87 1597.88,277.84 1601.59,277.82 1605.32,277.8 1609.04,277.78 1612.78,277.76 1616.51,277.75 1620.25,277.73 1623.99,277.72 1627.74,277.71 1631.48,277.7 1635.23,277.69 1638.98,277.68 1642.74,277.67 1646.49,277.67 1650.24,277.66 1653.99,277.65 1657.75,277.64 1661.5,277.63 1665.25,277.61 1669,277.6 1672.74,277.58 1676.49,277.57 1680.23,277.55 1683.96,277.53 1687.7,277.5 1691.43,277.48 1695.16,277.45 1698.89,277.43 1702.63,277.41 1706.36,277.38 1710.09,277.36 1713.83,277.33 1717.56,277.31 1721.29,277.28 1725.03,277.26 1728.76,277.23 1732.5,277.2 1736.23,277.17 1739.96,277.14 1743.7,277.11 1747.43,277.08 1751.16,277.04 1754.89,277 1758.63,276.97 1762.36,276.93 1766.09,276.88 1769.82,276.84 1773.56,276.79 1777.29,276.74 1781.02,276.69 1784.75,276.63 1788.48,276.57 1792.21,276.51 1795.94,276.45 1799.67,276.38 1803.41,276.29 1807.15,276.19 1810.9,276.08 1814.66,275.94 1818.41,275.79 1822.16,275.61 1825.91,275.42 1829.64,275.21 1833.37,274.97 1837.08,274.72 1840.78,274.44 1844.47,274.13 1848.13,273.81 1851.78,273.41 1855.47,272.81 1859.16,272.03 1862.82,271.1 1866.42,270.03 1869.93,268.86 1873.32,267.62 1876.7,266.26 1880.32,264.58 1883.72,262.62 1886.4,260.44 1887.95,258.09 1889.07,255.37 1890.03,252.32 1890.84,249.02 1891.53,245.56 1892.11,242.05 1892.61,238.56 1893.04,235.2 1893.43,231.94 1893.81,228.68 1894.18,225.42 1894.54,222.15 1894.88,218.87 1895.21,215.6 1895.51,212.31 1895.78,209.03 1896.03,205.74 1896.24,202.44 1896.43,199.14 1896.57,195.83 1896.68,192.52 1896.75,189.2 1896.77,185.87" fill="none" stroke="#8c8cb8" stroke-width="3.3" stroke-linejoin="round"/>
<polyline points="1537.97,316.79 1538.26,313.03 1539.07,309.86 1540.24,307.43 1541.66,305.88 1544.22,304.91 1547.81,304.3 1551.05,304.24 1554.22,304.25 1557.4,304.26 1560.59,304.27 1563.79,304.29 1567,304.31 1570.22,304.33 1573.44,304.36 1576.67,304.39 1579.9,304.42 1583.14,304.45 1586.38,304.49 1589.62,304.53 1592.86,304.56 1596.1,304.6 1599.33,304.64 1602.57,304.68 1605.8,304.72 1609.03,304.75 1612.25,304.79 1615.47,304.82 1618.69,304.86 1621.91,304.89 1625.13,304.93 1628.35,304.96 1631.57,305 1634.8,305.03 1638.02,305.07 1641.24,305.11 1644.46,305.14 1647.69,305.18 1650.91,305.22 1654.13,305.26 1657.36,305.29 1660.58,305.34 1663.8,305.38 1667.03,305.42 1670.25,305.46 1673.47,305.51 1676.69,305.56 1679.92,305.6 1683.14,305.65 1686.36,305.71 1689.58,305.76 1692.8,305.82 1696.02,305.87 1699.24,305.93 1702.46,305.99 1705.67,306.06 1708.89,306.13 1712.11,306.19 1715.32,306.27 1718.54,306.34 1721.75,306.42 1724.96,306.5 1728.17,306.58 1731.39,306.67 1734.59,306.76 1737.8,306.85 1741.01,306.94 1744.22,307.05 1747.43,307.17 1750.65,307.32 1753.87,307.49 1757.09,307.67 1760.32,307.88 1763.55,308.11 1766.78,308.35 1770,308.62 1773.23,308.9 1776.46,309.2 1779.69,309.52 1782.91,309.86 1786.13,310.21 1789.35,310.58 1792.56,310.97 1795.76,311.37 1798.96,311.79 1802.16,312.22 1805.34,312.67 1808.52,313.13 1811.69,313.61 1814.85,314.1 1818,314.6 1821.13,315.11 1824.26,315.64 1827.37,316.18 1830.47,316.73 1833.55,317.39 1836.59,318.25 1839.6,319.29 1842.59,320.44 1845.57,321.66 1848.54,322.9 1851.52,324.1 1854.52,325.23 1857.54,326.22 1860.59,327.04 1863.68,327.63 1866.81,328.04 1869.99,328.4 1873.21,328.72 1876.43,328.99 1879.66,329.2 1882.88,329.34 1886.1,329.45 1889.31,329.55 1892.52,329.64 1895.74,329.72 1898.96,329.79 1902.18,329.84 1905.41,329.87 1908.63,329.88" fill="none" stroke="#8c8cb8" stroke-width="3.3" stroke-linejoin="round"/>
<polyline points="1537.97,296.06 1539.88,293.03 1542.1,290.31 1544.59,287.96 1547.37,285.96 1550.6,284.16 1554.06,282.67 1557.54,281.59 1561.1,280.67 1564.77,279.84 1568.49,279.17 1572.24,278.73 1575.95,278.59 1579.65,278.55 1583.36,278.51 1587.07,278.47 1590.79,278.44 1594.51,278.41 1598.24,278.39 1601.97,278.36 1605.7,278.34 1609.44,278.32 1613.18,278.31 1616.92,278.29 1620.67,278.28 1624.42,278.27 1628.17,278.26 1631.93,278.25 1635.68,278.24 1639.44,278.23 1643.19,278.22 1646.95,278.21 1650.71,278.2 1654.46,278.19 1658.22,278.18 1661.97,278.17 1665.73,278.16 1669.48,278.14 1673.23,278.13 1676.98,278.11 1680.73,278.09 1684.47,278.07 1688.22,278.04 1691.96,278.02 1695.7,278 1699.44,277.97 1703.19,277.95 1706.93,277.92 1710.67,277.9 1714.41,277.87 1718.16,277.85 1721.9,277.82 1725.64,277.8 1729.38,277.77 1733.13,277.74 1736.87,277.71 1740.61,277.68 1744.35,277.64 1748.1,277.61 1751.84,277.57 1755.58,277.54 1759.32,277.5 1763.06,277.46 1766.81,277.41 1770.55,277.37 1774.29,277.32 1778.03,277.27 1781.77,277.22 1785.51,277.16 1789.25,277.1 1792.99,277.04 1796.73,276.98 1800.47,276.91 1804.22,276.83 1807.99,276.74 1811.76,276.63 1815.53,276.51 1819.3,276.38 1823.07,276.23 1826.83,276.06 1830.59,275.87 1834.33,275.66 1838.06,275.43 1841.77,275.17 1845.46,274.9 1849.13,274.59 1852.78,274.26 1856.42,273.78 1860.09,273.02 1863.74,272.02 1867.33,270.84 1870.82,269.54 1874.18,268.16 1877.52,266.69 1881.06,264.91 1884.39,262.87 1887.04,260.62 1888.62,258.2 1889.75,255.46 1890.71,252.4 1891.54,249.11 1892.24,245.67 1892.83,242.17 1893.33,238.69 1893.76,235.32 1894.16,232.05 1894.54,228.79 1894.92,225.51 1895.27,222.24 1895.62,218.96 1895.94,215.67 1896.24,212.38 1896.52,209.08 1896.76,205.78 1896.98,202.48 1897.17,199.17 1897.31,195.85 1897.42,192.53 1897.49,189.2 1897.51,185.87" fill="none" stroke="#9933ff" stroke-width="3.3" stroke-linejoin="round"/>
<polyline points="1537.97,316.79 1538.26,313.03 1539.07,309.86 1540.25,307.43 1541.67,305.88 1544.23,304.9 1547.82,304.3 1551.06,304.24 1554.24,304.25 1557.42,304.26 1560.62,304.27 1563.82,304.29 1567.04,304.31 1570.26,304.34 1573.48,304.36 1576.71,304.39 1579.95,304.42 1583.19,304.46 1586.43,304.49 1589.67,304.53 1592.91,304.57 1596.15,304.6 1599.39,304.64 1602.63,304.68 1605.86,304.72 1609.09,304.75 1612.32,304.79 1615.54,304.82 1618.76,304.86 1621.99,304.89 1625.21,304.92 1628.44,304.96 1631.66,304.99 1634.89,305.02 1638.11,305.05 1641.34,305.08 1644.57,305.12 1647.79,305.15 1651.02,305.18 1654.25,305.22 1657.47,305.25 1660.7,305.29 1663.93,305.32 1667.15,305.36 1670.38,305.4 1673.61,305.43 1676.83,305.47 1680.06,305.52 1683.28,305.56 1686.51,305.6 1689.73,305.65 1692.96,305.69 1696.18,305.74 1699.41,305.79 1702.63,305.84 1705.85,305.9 1709.07,305.95 1712.29,306.01 1715.51,306.07 1718.73,306.13 1721.95,306.2 1725.17,306.27 1728.38,306.34 1731.6,306.41 1734.81,306.48 1738.02,306.56 1741.23,306.64 1744.44,306.73 1747.65,306.82 1750.86,306.91 1754.07,307 1757.28,307.12 1760.5,307.27 1763.72,307.44 1766.95,307.63 1770.18,307.85 1773.42,308.1 1776.65,308.37 1779.89,308.66 1783.13,308.98 1786.36,309.32 1789.59,309.68 1792.81,310.06 1796.04,310.46 1799.25,310.88 1802.46,311.32 1805.66,311.78 1808.85,312.26 1812.03,312.76 1815.2,313.27 1818.35,313.8 1821.49,314.34 1824.62,314.9 1827.73,315.48 1830.83,316.07 1833.9,316.67 1836.95,317.38 1839.94,318.36 1842.9,319.54 1845.84,320.85 1848.76,322.22 1851.68,323.59 1854.62,324.89 1857.59,326.04 1860.59,326.97 1863.64,327.62 1866.76,328.04 1869.94,328.41 1873.16,328.73 1876.4,328.99 1879.64,329.2 1882.86,329.34 1886.08,329.45 1889.29,329.55 1892.51,329.64 1895.73,329.72 1898.95,329.79 1902.18,329.84 1905.4,329.87 1908.63,329.88" fill="none" stroke="#9933ff" stroke-width="3.3" stroke-linejoin="round"/>
<polyline points="1537.97,296.06 1539.86,293.06 1542.06,290.35 1544.52,288.01 1547.27,286.07 1550.47,284.39 1553.89,282.9 1557.3,281.56 1560.71,280.16 1564.19,278.75 1567.71,277.5 1571.27,276.6 1574.85,276.21 1578.43,276.16 1582.04,276.12 1585.65,276.08 1589.29,276.05 1592.93,276.02 1596.59,275.99 1600.27,275.97 1603.95,275.95 1607.64,275.93 1611.35,275.91 1615.06,275.9 1618.78,275.88 1622.5,275.87 1626.24,275.86 1629.97,275.85 1633.72,275.84 1637.46,275.83 1641.21,275.82 1644.96,275.81 1648.71,275.8 1652.46,275.8 1656.21,275.79 1659.96,275.78 1663.71,275.76 1667.45,275.75 1671.19,275.74 1674.92,275.72 1678.65,275.7 1682.37,275.68 1686.08,275.66 1689.79,275.63 1693.5,275.61 1697.2,275.59 1700.91,275.56 1704.62,275.54 1708.33,275.52 1712.04,275.5 1715.75,275.47 1719.46,275.45 1723.17,275.42 1726.88,275.4 1730.59,275.37 1734.3,275.34 1738.01,275.31 1741.72,275.28 1745.43,275.25 1749.13,275.22 1752.84,275.18 1756.55,275.15 1760.26,275.11 1763.97,275.07 1767.67,275.02 1771.38,274.98 1775.09,274.93 1778.79,274.88 1782.5,274.82 1786.2,274.76 1789.91,274.7 1793.61,274.64 1797.32,274.57 1801.02,274.49 1804.73,274.37 1808.45,274.23 1812.16,274.07 1815.88,273.87 1819.59,273.65 1823.3,273.41 1827,273.14 1830.7,272.85 1834.38,272.54 1838.05,272.21 1841.71,271.86 1845.37,271.44 1849.04,270.91 1852.71,270.28 1856.38,269.55 1860.01,268.73 1863.61,267.83 1867.15,266.86 1870.62,265.82 1874.12,264.71 1877.98,263.36 1881.64,261.77 1884.44,259.94 1885.91,257.84 1887.02,255.24 1887.95,252.21 1888.74,248.88 1889.4,245.35 1889.96,241.76 1890.44,238.23 1890.85,234.88 1891.24,231.64 1891.62,228.4 1891.99,225.16 1892.34,221.91 1892.68,218.66 1893,215.4 1893.3,212.14 1893.57,208.88 1893.81,205.61 1894.03,202.33 1894.21,199.05 1894.35,195.76 1894.46,192.47 1894.53,189.17 1894.55,185.87" fill="none" stroke="#8db4e2" stroke-width="3.3" stroke-linejoin="round"/>
<polyline points="1537.97,316.79 1538.26,313.03 1539.07,309.87 1540.24,307.43 1541.66,305.89 1544.21,304.91 1547.79,304.3 1551.03,304.24 1554.2,304.25 1557.38,304.26 1560.57,304.27 1563.77,304.29 1566.98,304.31 1570.2,304.33 1573.42,304.36 1576.64,304.39 1579.87,304.42 1583.11,304.45 1586.34,304.49 1589.58,304.52 1592.82,304.56 1596.05,304.6 1599.29,304.64 1602.52,304.67 1605.75,304.71 1608.98,304.75 1612.2,304.79 1615.42,304.82 1618.63,304.86 1621.85,304.9 1625.07,304.94 1628.29,304.97 1631.51,305.01 1634.73,305.05 1637.95,305.09 1641.17,305.13 1644.39,305.17 1647.61,305.21 1650.83,305.26 1654.05,305.3 1657.27,305.35 1660.49,305.4 1663.71,305.44 1666.93,305.49 1670.15,305.55 1673.37,305.6 1676.59,305.66 1679.81,305.71 1683.03,305.77 1686.25,305.84 1689.47,305.9 1692.68,305.97 1695.9,306.04 1699.11,306.11 1702.33,306.18 1705.54,306.26 1708.76,306.34 1711.97,306.42 1715.18,306.51 1718.39,306.6 1721.6,306.69 1724.81,306.78 1728.01,306.88 1731.22,306.98 1734.43,307.1 1737.64,307.24 1740.85,307.39 1744.07,307.56 1747.29,307.76 1750.51,307.96 1753.73,308.19 1756.95,308.43 1760.18,308.69 1763.4,308.97 1766.62,309.26 1769.84,309.57 1773.06,309.89 1776.27,310.23 1779.48,310.59 1782.69,310.95 1785.9,311.33 1789.1,311.73 1792.29,312.14 1795.48,312.56 1798.66,312.99 1801.84,313.44 1805.01,313.89 1808.17,314.36 1811.33,314.84 1814.47,315.33 1817.61,315.83 1820.73,316.35 1823.85,316.87 1826.94,317.52 1830.01,318.33 1833.05,319.27 1836.08,320.3 1839.1,321.4 1842.12,322.51 1845.14,323.61 1848.16,324.67 1851.21,325.64 1854.27,326.49 1857.35,327.19 1860.47,327.7 1863.62,328.09 1866.81,328.45 1870.02,328.77 1873.24,329.03 1876.47,329.23 1879.68,329.36 1882.89,329.45 1886.1,329.54 1889.31,329.63 1892.53,329.7 1895.75,329.76 1898.96,329.81 1902.19,329.85 1905.41,329.87 1908.63,329.88" fill="none" stroke="#8db4e2" stroke-width="3.3" stroke-linejoin="round"/>
<polyline points="1537.97,296.06 1539.89,293.01 1542.14,290.27 1544.65,287.91 1547.46,285.83 1550.72,283.83 1554.21,282.35 1557.73,281.76 1561.39,281.49 1565.17,281.28 1569.02,281.13 1572.86,281.03 1576.64,280.99 1580.41,280.95 1584.18,280.91 1587.94,280.88 1591.71,280.85 1595.48,280.82 1599.25,280.8 1603.02,280.78 1606.79,280.76 1610.56,280.74 1614.33,280.72 1618.1,280.71 1621.87,280.7 1625.64,280.68 1629.42,280.67 1633.19,280.66 1636.96,280.65 1640.73,280.64 1644.5,280.63 1648.27,280.62 1652.04,280.61 1655.81,280.6 1659.59,280.58 1663.36,280.57 1667.13,280.56 1670.9,280.54 1674.67,280.52 1678.44,280.5 1682.21,280.48 1685.98,280.46 1689.75,280.43 1693.52,280.41 1697.29,280.39 1701.06,280.36 1704.84,280.34 1708.61,280.31 1712.38,280.29 1716.15,280.26 1719.92,280.23 1723.69,280.21 1727.46,280.18 1731.23,280.15 1735,280.12 1738.77,280.09 1742.55,280.06 1746.32,280.02 1750.09,279.99 1753.86,279.95 1757.63,279.91 1761.4,279.87 1765.17,279.83 1768.94,279.78 1772.71,279.74 1776.48,279.69 1780.25,279.64 1784.01,279.58 1787.78,279.52 1791.55,279.47 1795.32,279.4 1799.09,279.34 1802.87,279.27 1806.66,279.19 1810.46,279.1 1814.27,278.99 1818.08,278.88 1821.89,278.75 1825.69,278.61 1829.49,278.45 1833.28,278.27 1837.05,278.07 1840.81,277.86 1844.54,277.62 1848.26,277.35 1851.95,277.06 1855.61,276.74 1859.26,276.31 1862.97,275.53 1866.66,274.46 1870.27,273.17 1873.71,271.72 1876.93,270.19 1880.08,268.45 1883.29,266.31 1886.25,263.88 1888.67,261.27 1890.27,258.59 1891.4,255.73 1892.38,252.63 1893.23,249.35 1893.97,245.96 1894.59,242.51 1895.12,239.07 1895.57,235.69 1895.97,232.4 1896.36,229.11 1896.73,225.81 1897.1,222.51 1897.45,219.2 1897.77,215.89 1898.08,212.58 1898.36,209.26 1898.61,205.94 1898.83,202.61 1899.01,199.27 1899.16,195.93 1899.27,192.58 1899.34,189.23 1899.37,185.87" fill="none" stroke="#cc6a10" stroke-width="3.3" stroke-linejoin="round"/>
<polyline points="1537.97,316.79 1538.26,313.02 1539.07,309.85 1540.25,307.42 1541.67,305.88 1544.25,304.9 1547.85,304.3 1551.09,304.24 1554.27,304.25 1557.45,304.26 1560.65,304.27 1563.86,304.29 1567.08,304.31 1570.3,304.34 1573.53,304.36 1576.76,304.4 1580,304.43 1583.24,304.46 1586.49,304.5 1589.73,304.53 1592.98,304.57 1596.22,304.61 1599.47,304.65 1602.71,304.68 1605.94,304.72 1609.18,304.76 1612.41,304.79 1615.63,304.82 1618.86,304.85 1622.08,304.89 1625.31,304.92 1628.54,304.95 1631.77,304.98 1635,305.01 1638.23,305.04 1641.46,305.06 1644.69,305.09 1647.92,305.12 1651.15,305.15 1654.38,305.18 1657.61,305.21 1660.85,305.24 1664.08,305.27 1667.31,305.3 1670.54,305.33 1673.77,305.36 1677,305.39 1680.24,305.43 1683.47,305.46 1686.7,305.5 1689.93,305.53 1693.16,305.57 1696.39,305.61 1699.61,305.65 1702.84,305.69 1706.07,305.73 1709.3,305.78 1712.52,305.83 1715.75,305.87 1718.97,305.92 1722.2,305.97 1725.42,306.03 1728.64,306.08 1731.86,306.14 1735.08,306.2 1738.3,306.27 1741.52,306.33 1744.74,306.4 1747.95,306.47 1751.17,306.54 1754.38,306.62 1757.59,306.7 1760.8,306.78 1764.01,306.86 1767.21,306.95 1770.42,307.05 1773.64,307.19 1776.87,307.36 1780.1,307.56 1783.34,307.8 1786.59,308.06 1789.83,308.36 1793.08,308.68 1796.32,309.04 1799.56,309.42 1802.8,309.83 1806.03,310.26 1809.25,310.72 1812.46,311.21 1815.66,311.71 1818.85,312.24 1822.02,312.79 1825.17,313.36 1828.31,313.96 1831.43,314.57 1834.53,315.2 1837.6,315.84 1840.65,316.51 1843.66,317.25 1846.61,318.32 1849.5,319.65 1852.36,321.15 1855.2,322.7 1858.06,324.22 1860.94,325.6 1863.87,326.73 1866.86,327.53 1869.94,327.98 1873.1,328.36 1876.32,328.68 1879.57,328.95 1882.83,329.16 1886.06,329.32 1889.28,329.44 1892.5,329.56 1895.72,329.66 1898.95,329.75 1902.17,329.82 1905.4,329.86 1908.63,329.88" fill="none" stroke="#cc6a10" stroke-width="3.3" stroke-linejoin="round"/>
<polyline points="1537.97,276.42 1540.47,273.58 1543.43,273.31 1546.85,274.19 1550.54,275.34 1554.29,276.24 1557.94,276.41 1561.58,276.32 1565.25,276.18 1568.93,276.03 1572.61,275.91 1576.27,275.87 1579.94,275.85 1583.6,275.83 1587.26,275.82 1590.93,275.8 1594.59,275.79 1598.26,275.78 1601.92,275.77 1605.58,275.76 1609.25,275.75 1612.91,275.74 1616.58,275.73 1620.24,275.73 1623.91,275.72 1627.57,275.71 1631.24,275.71 1634.9,275.7 1638.56,275.7 1642.23,275.7 1645.89,275.69 1649.56,275.69 1653.22,275.69 1656.89,275.68 1660.55,275.68 1664.22,275.67 1667.88,275.67 1671.55,275.67 1675.21,275.66 1678.88,275.66 1682.54,275.65 1686.21,275.65 1689.87,275.64 1693.54,275.63 1697.2,275.63 1700.87,275.62 1704.53,275.61 1708.2,275.6 1711.86,275.59 1715.53,275.58 1719.19,275.56 1722.85,275.55 1726.52,275.53 1730.18,275.52 1733.85,275.49 1737.51,275.47 1741.18,275.44 1744.84,275.41 1748.51,275.38 1752.18,275.35 1755.84,275.31 1759.51,275.27 1763.17,275.22 1766.84,275.17 1770.5,275.12 1774.17,275.07 1777.83,275.01 1781.5,274.96 1785.16,274.89 1788.82,274.83 1792.49,274.76 1796.15,274.69 1799.81,274.61 1803.47,274.53 1807.14,274.45 1810.8,274.37 1814.46,274.28 1818.12,274.18 1821.82,274.07 1825.54,273.95 1829.26,273.8 1832.99,273.63 1836.69,273.42 1840.37,273.19 1844.01,272.92 1847.6,272.61 1851.13,272.27 1854.61,271.83 1858.23,271.02 1861.91,269.84 1865.52,268.36 1868.92,266.66 1871.97,264.81 1874.54,262.89 1876.64,260.84 1878.62,258.38 1880.48,255.55 1882.18,252.48 1883.68,249.24 1884.93,245.95 1885.89,242.71 1886.54,239.59 1887.08,236.52 1887.6,233.43 1888.1,230.33 1888.56,227.21 1889,224.07 1889.42,220.92 1889.81,217.74 1890.16,214.55 1890.49,211.34 1890.79,208.12 1891.05,204.87 1891.29,201.6 1891.49,198.3 1891.65,194.99 1891.78,191.66 1891.88,188.3 1891.93,184.91 1891.95,181.51" fill="none" stroke="#5b9bd5" stroke-width="3.3" stroke-linejoin="round"/>
<polyline points="1537.97,311.33 1539.05,308.01 1540.29,304.94 1541.78,303.7 1543.57,303.7 1545.62,303.7 1547.92,303.71 1550.45,303.73 1553.19,303.74 1556.11,303.76 1559.2,303.78 1562.44,303.81 1565.81,303.83 1569.28,303.86 1572.85,303.89 1576.49,303.92 1580.17,303.95 1583.89,303.99 1587.62,304.02 1591.34,304.05 1595.04,304.09 1598.68,304.12 1602.26,304.15 1605.75,304.18 1609.14,304.21 1612.4,304.24 1615.61,304.27 1618.81,304.3 1622.02,304.33 1625.23,304.35 1628.43,304.38 1631.64,304.41 1634.84,304.43 1638.05,304.46 1641.26,304.49 1644.46,304.51 1647.67,304.54 1650.87,304.57 1654.08,304.59 1657.29,304.62 1660.49,304.65 1663.7,304.67 1666.9,304.7 1670.11,304.73 1673.32,304.76 1676.52,304.79 1679.73,304.81 1682.93,304.84 1686.14,304.87 1689.34,304.91 1692.55,304.94 1695.76,304.97 1698.96,305 1702.17,305.04 1705.37,305.07 1708.58,305.11 1711.78,305.15 1714.99,305.19 1718.19,305.23 1721.4,305.27 1724.61,305.31 1727.81,305.35 1731.02,305.4 1734.22,305.44 1737.42,305.49 1740.63,305.54 1743.83,305.59 1747.04,305.64 1750.24,305.7 1753.45,305.75 1756.65,305.81 1759.85,305.87 1763.06,305.93 1766.27,306 1769.47,306.07 1772.68,306.16 1775.89,306.24 1779.1,306.34 1782.31,306.44 1785.52,306.55 1788.73,306.67 1791.93,306.8 1795.14,306.94 1798.34,307.08 1801.54,307.24 1804.74,307.4 1807.93,307.57 1811.12,307.76 1814.31,307.95 1817.49,308.16 1820.69,308.42 1823.89,308.72 1827.09,309.07 1830.3,309.47 1833.5,309.91 1836.68,310.39 1839.86,310.91 1843.01,311.47 1846.14,312.06 1849.23,312.69 1852.29,313.35 1855.32,314.09 1858.31,315.01 1861.28,316.08 1864.22,317.26 1867.13,318.53 1870.02,319.84 1872.89,321.16 1875.74,322.46 1878.51,323.99 1881.22,325.71 1883.93,327.41 1886.68,328.84 1889.54,329.78 1892.53,330.25 1895.59,330.66 1898.74,331.01 1901.96,331.28 1905.26,331.45 1908.63,331.52" fill="none" stroke="#5b9bd5" stroke-width="3.3" stroke-linejoin="round"/>
<polyline points="1537.97,293.88 1540.65,291.6 1543.44,289.49 1546.33,287.54 1549.32,285.78 1552.4,284.24 1555.59,282.89 1558.94,281.67 1562.38,280.58 1565.86,279.6 1569.32,278.72 1572.81,277.84 1576.32,276.99 1579.85,276.22 1583.41,275.56 1586.97,275.05 1590.53,274.74 1594.11,274.51 1597.69,274.3 1601.29,274.11 1604.9,273.93 1608.52,273.77 1612.14,273.63 1615.76,273.51 1619.39,273.4 1623.01,273.32 1626.64,273.24 1630.26,273.19 1633.88,273.15 1637.49,273.13 1641.1,273.1 1644.72,273.08 1648.33,273.06 1651.95,273.04 1655.56,273.02 1659.18,273.01 1662.79,273 1666.41,272.98 1670.02,272.97 1673.64,272.96 1677.26,272.95 1680.87,272.94 1684.49,272.94 1688.11,272.93 1691.72,272.93 1695.34,272.92 1698.96,272.91 1702.58,272.91 1706.19,272.91 1709.81,272.9 1713.43,272.9 1717.04,272.89 1720.66,272.89 1724.28,272.88 1727.89,272.88 1731.51,272.87 1735.13,272.87 1738.74,272.86 1742.36,272.85 1745.97,272.84 1749.58,272.84 1753.2,272.83 1756.81,272.81 1760.42,272.8 1764.04,272.79 1767.65,272.77 1771.26,272.75 1774.87,272.73 1778.48,272.71 1782.09,272.69 1785.7,272.67 1789.31,272.64 1792.91,272.61 1796.52,272.54 1800.13,272.36 1803.73,272.09 1807.33,271.77 1810.93,271.43 1814.53,271.09 1818.13,270.79 1821.74,270.49 1825.35,270.19 1828.95,269.86 1832.54,269.49 1836.11,269.07 1839.66,268.57 1843.25,267.98 1846.86,267.27 1850.44,266.45 1853.94,265.52 1857.31,264.47 1860.52,263.3 1863.51,261.73 1866.34,259.7 1869.11,257.51 1871.94,255.45 1875.08,253.58 1877.12,251.38 1878.61,248.82 1879.91,245.99 1881.03,242.96 1882.03,239.77 1882.92,236.49 1883.73,233.17 1884.51,229.87 1885.28,226.64 1886.06,223.53 1886.79,220.41 1887.49,217.28 1888.14,214.14 1888.77,211 1889.37,207.85 1889.95,204.69 1890.53,201.53 1891.1,198.38 1891.67,195.22 1892.23,192.07 1892.77,188.92 1893.29,185.76 1893.81,182.6" fill="none" stroke="#0a6a6a" stroke-width="3.3" stroke-linejoin="round"/>
<polyline points="1537.97,294.97 1540.98,293.32 1543.74,292.79 1546.16,293.84 1548.38,296.05 1550.6,298.57 1553.01,300.55 1555.65,302.13 1558.42,303.68 1561.3,305.08 1564.23,306.2 1567.2,306.91 1570.19,307.28 1573.23,307.6 1576.31,307.88 1579.43,308.13 1582.58,308.35 1585.76,308.54 1588.96,308.71 1592.18,308.87 1595.41,309.01 1598.64,309.14 1601.87,309.27 1605.08,309.4 1608.29,309.53 1611.47,309.67 1614.64,309.81 1617.81,309.95 1620.97,310.08 1624.14,310.2 1627.31,310.32 1630.48,310.43 1633.65,310.54 1636.82,310.65 1639.99,310.75 1643.16,310.85 1646.33,310.94 1649.5,311.03 1652.68,311.13 1655.85,311.21 1659.02,311.3 1662.19,311.39 1665.36,311.48 1668.53,311.56 1671.71,311.65 1674.88,311.74 1678.05,311.83 1681.22,311.92 1684.39,312.01 1687.56,312.11 1690.73,312.21 1693.9,312.31 1697.07,312.42 1700.24,312.53 1703.41,312.65 1706.57,312.77 1709.74,312.9 1712.91,313.03 1716.07,313.17 1719.24,313.32 1722.4,313.47 1725.57,313.63 1728.73,313.82 1731.89,314.01 1735.05,314.23 1738.21,314.46 1741.38,314.7 1744.54,314.95 1747.69,315.21 1750.85,315.48 1754.01,315.75 1757.17,316.04 1760.33,316.32 1763.48,316.61 1766.64,316.89 1769.79,317.18 1772.95,317.46 1776.1,317.76 1779.26,318.05 1782.41,318.36 1785.56,318.67 1788.71,318.98 1791.86,319.3 1795.01,319.63 1798.16,319.95 1801.31,320.29 1804.46,320.63 1807.61,320.97 1810.76,321.31 1813.91,321.66 1817.05,322.01 1820.2,322.37 1823.35,322.72 1826.49,323.08 1829.64,323.44 1832.79,323.8 1835.93,324.16 1839.08,324.53 1842.22,324.94 1845.35,325.4 1848.49,325.87 1851.63,326.32 1854.77,326.7 1857.92,327 1861.07,327.18 1864.22,327.3 1867.38,327.43 1870.54,327.54 1873.7,327.65 1876.87,327.74 1880.03,327.83 1883.2,327.92 1886.37,327.99 1889.54,328.06 1892.72,328.11 1895.89,328.16 1899.07,328.19 1902.26,328.22 1905.44,328.24 1908.63,328.24" fill="none" stroke="#0a6a6a" stroke-width="3.3" stroke-linejoin="round"/>
<polyline points="1537.97,284.06 1538.18,279 1538.79,274.73 1539.71,271.4 1540.87,269.19 1542.19,268.26 1544.16,268.63 1547.36,269.85 1551.22,271.39 1555.1,272.77 1558.58,273.63 1562.05,274.38 1565.56,275.06 1569.1,275.65 1572.64,276.15 1576.18,276.54 1579.72,276.9 1583.26,277.25 1586.81,277.59 1590.37,277.92 1593.94,278.24 1597.5,278.54 1601.07,278.83 1604.65,279.09 1608.23,279.33 1611.8,279.55 1615.38,279.74 1618.96,279.91 1622.54,280.04 1626.12,280.14 1629.7,280.21 1633.27,280.24 1636.85,280.24 1640.42,280.24 1643.99,280.24 1647.57,280.24 1651.14,280.24 1654.72,280.24 1658.3,280.24 1661.88,280.24 1665.45,280.24 1669.03,280.24 1672.61,280.24 1676.19,280.24 1679.77,280.24 1683.35,280.24 1686.93,280.24 1690.51,280.24 1694.09,280.24 1697.66,280.24 1701.24,280.24 1704.82,280.24 1708.4,280.24 1711.98,280.24 1715.55,280.24 1719.13,280.24 1722.71,280.24 1726.28,280.23 1729.86,280.19 1733.44,280.13 1737.02,280.04 1740.6,279.93 1744.17,279.8 1747.75,279.65 1751.33,279.49 1754.9,279.31 1758.48,279.12 1762.05,278.93 1765.61,278.73 1769.18,278.52 1772.74,278.31 1776.31,278.08 1779.89,277.81 1783.47,277.51 1787.06,277.18 1790.64,276.81 1794.22,276.41 1797.79,275.98 1801.34,275.51 1804.87,275.01 1808.38,274.47 1811.86,273.89 1815.31,273.27 1818.74,272.56 1822.18,271.67 1825.6,270.61 1828.97,269.42 1832.29,268.12 1835.51,266.74 1838.63,265.31 1841.77,263.74 1844.9,261.99 1847.9,260.07 1850.63,257.99 1852.94,255.79 1854.97,253.37 1856.91,250.66 1858.67,247.75 1860.14,244.74 1861.23,241.72 1861.92,238.73 1862.5,235.69 1863.02,232.59 1863.49,229.44 1863.89,226.27 1864.23,223.07 1864.51,219.88 1864.72,216.69 1864.88,213.52 1865,210.37 1865.11,207.22 1865.21,204.06 1865.3,200.91 1865.38,197.75 1865.46,194.6 1865.52,191.44 1865.57,188.28 1865.61,185.11 1865.63,181.95 1865.64,178.78" fill="none" stroke="#ff4343" stroke-width="3.3" stroke-linejoin="round"/>
<polyline points="1537.97,332.06 1539.6,335.27 1541.47,336.95 1543.63,336.51 1546.06,335.14 1548.69,333.19 1551.44,331.03 1554.23,329 1557.01,327.45 1559.83,326.08 1562.73,324.79 1565.69,323.76 1568.7,323.16 1571.74,322.7 1574.82,322.29 1577.93,321.93 1581.07,321.6 1584.24,321.3 1587.43,321.03 1590.63,320.79 1593.84,320.57 1597.06,320.36 1600.27,320.17 1603.49,319.99 1606.69,319.81 1609.89,319.64 1613.06,319.46 1616.23,319.28 1619.4,319.09 1622.58,318.91 1625.75,318.73 1628.92,318.55 1632.1,318.37 1635.27,318.2 1638.45,318.03 1641.63,317.86 1644.81,317.71 1647.98,317.56 1651.16,317.42 1654.34,317.3 1657.52,317.18 1660.7,317.08 1663.87,316.99 1667.05,316.91 1670.23,316.86 1673.41,316.82 1676.59,316.79 1679.77,316.79 1682.94,316.8 1686.12,316.83 1689.3,316.86 1692.48,316.91 1695.66,316.96 1698.84,317.02 1702.02,317.08 1705.2,317.14 1708.38,317.19 1711.56,317.24 1714.74,317.28 1717.92,317.31 1721.1,317.33 1724.28,317.33 1727.46,317.31 1730.63,317.25 1733.81,317.17 1736.99,317.07 1740.17,316.96 1743.34,316.83 1746.52,316.69 1749.7,316.54 1752.87,316.4 1756.05,316.25 1759.23,316.11 1762.41,315.98 1765.58,315.87 1768.76,315.77 1771.94,315.69 1775.12,315.62 1778.3,315.55 1781.48,315.49 1784.65,315.43 1787.83,315.38 1791.01,315.33 1794.19,315.28 1797.37,315.23 1800.55,315.18 1803.73,315.14 1806.91,315.09 1810.09,315.05 1813.27,315 1816.45,314.96 1819.63,314.91 1822.81,314.87 1825.99,314.82 1829.17,314.77 1832.34,314.71 1835.52,314.66 1838.7,314.6 1841.88,314.53 1845.06,314.47 1848.24,314.41 1851.42,314.34 1854.6,314.27 1857.78,314.21 1860.95,314.14 1864.13,314.07 1867.31,313.99 1870.49,313.92 1873.67,313.85 1876.85,313.77 1880.03,313.7 1883.21,313.62 1886.38,313.54 1889.56,313.46 1892.74,313.38 1895.92,313.3 1899.1,313.22 1902.28,313.14 1905.45,313.05 1908.63,312.97" fill="none" stroke="#ff4343" stroke-width="3.3" stroke-linejoin="round"/>
</g>
<polyline points="1759.2,279.5 1759.8,290 1758.6,292 1759.6,306.5" fill="none" stroke="#000" stroke-width="2" stroke-linejoin="round"/>
<text transform="translate(1805.7,304.7) scale(1,1.06)" x="0" y="0" font-size="28">224mV</text>
<text transform="translate(1863.2,371.5) scale(1,1.06)" x="0" y="0" font-size="27.7">WCIE</text>
<rect x="1500.9" y="49.5" width="444.8" height="338.2" fill="none" stroke="#000" stroke-width="2"/>
<line x1="1537.97" y1="387.7" x2="1537.97" y2="379.7" stroke="#000" stroke-width="2"/>
<line x1="1612.1" y1="387.7" x2="1612.1" y2="379.7" stroke="#000" stroke-width="2"/>
<line x1="1686.23" y1="387.7" x2="1686.23" y2="379.7" stroke="#000" stroke-width="2"/>
<line x1="1760.37" y1="387.7" x2="1760.37" y2="379.7" stroke="#000" stroke-width="2"/>
<line x1="1834.5" y1="387.7" x2="1834.5" y2="379.7" stroke="#000" stroke-width="2"/>
<line x1="1908.63" y1="387.7" x2="1908.63" y2="379.7" stroke="#000" stroke-width="2"/>
<line x1="1575.03" y1="387.7" x2="1575.03" y2="383.2" stroke="#000" stroke-width="2"/>
<line x1="1649.17" y1="387.7" x2="1649.17" y2="383.2" stroke="#000" stroke-width="2"/>
<line x1="1723.3" y1="387.7" x2="1723.3" y2="383.2" stroke="#000" stroke-width="2"/>
<line x1="1797.43" y1="387.7" x2="1797.43" y2="383.2" stroke="#000" stroke-width="2"/>
<line x1="1871.57" y1="387.7" x2="1871.57" y2="383.2" stroke="#000" stroke-width="2"/>
<line x1="1500.9" y1="349.52" x2="1509.9" y2="349.52" stroke="#000" stroke-width="2"/>
<line x1="1500.9" y1="294.97" x2="1509.9" y2="294.97" stroke="#000" stroke-width="2"/>
<line x1="1500.9" y1="240.42" x2="1509.9" y2="240.42" stroke="#000" stroke-width="2"/>
<line x1="1500.9" y1="185.87" x2="1509.9" y2="185.87" stroke="#000" stroke-width="2"/>
<line x1="1500.9" y1="131.32" x2="1509.9" y2="131.32" stroke="#000" stroke-width="2"/>
<line x1="1500.9" y1="76.77" x2="1509.9" y2="76.77" stroke="#000" stroke-width="2"/>
<line x1="1500.9" y1="376.79" x2="1505.6" y2="376.79" stroke="#000" stroke-width="2"/>
<line x1="1500.9" y1="322.24" x2="1505.6" y2="322.24" stroke="#000" stroke-width="2"/>
<line x1="1500.9" y1="267.69" x2="1505.6" y2="267.69" stroke="#000" stroke-width="2"/>
<line x1="1500.9" y1="213.15" x2="1505.6" y2="213.15" stroke="#000" stroke-width="2"/>
<line x1="1500.9" y1="158.6" x2="1505.6" y2="158.6" stroke="#000" stroke-width="2"/>
<line x1="1500.9" y1="104.05" x2="1505.6" y2="104.05" stroke="#000" stroke-width="2"/>
<text transform="translate(1537.97,418) scale(1,1.06)" x="0" y="0" font-size="27" text-anchor="middle">0.0</text>
<text transform="translate(1612.1,418) scale(1,1.06)" x="0" y="0" font-size="27" text-anchor="middle">0.2</text>
<text transform="translate(1686.23,418) scale(1,1.06)" x="0" y="0" font-size="27" text-anchor="middle">0.4</text>
<text transform="translate(1760.37,418) scale(1,1.06)" x="0" y="0" font-size="27" text-anchor="middle">0.6</text>
<text transform="translate(1834.5,418) scale(1,1.06)" x="0" y="0" font-size="27" text-anchor="middle">0.8</text>
<text transform="translate(1908.63,418) scale(1,1.06)" x="0" y="0" font-size="27" text-anchor="middle">1.0</text>
<text transform="translate(1491,359.12) scale(1,1.06)" x="0" y="0" font-size="27" text-anchor="end">-0.5</text>
<text transform="translate(1491,304.57) scale(1,1.06)" x="0" y="0" font-size="27" text-anchor="end">0.0</text>
<text transform="translate(1491,250.02) scale(1,1.06)" x="0" y="0" font-size="27" text-anchor="end">0.5</text>
<text transform="translate(1491,195.47) scale(1,1.06)" x="0" y="0" font-size="27" text-anchor="end">1.0</text>
<text transform="translate(1491,140.92) scale(1,1.06)" x="0" y="0" font-size="27" text-anchor="end">1.5</text>
<text transform="translate(1491,86.37) scale(1,1.06)" x="0" y="0" font-size="27" text-anchor="end">2.0</text>
<text transform="translate(1718.3,448.2) scale(1,1.06)" x="0" y="0" font-size="27.5" text-anchor="middle">Capacity (mAh cm<tspan dy="-11" font-size="17.5">-2</tspan><tspan dy="11">)</tspan></text>
<text x="0" y="0" font-size="28.2" text-anchor="middle" transform="translate(1438.7,210.8) rotate(-90) scale(1,1.06)">Voltage (V)</text>
<text transform="translate(1402,34.3) scale(1,1.06)" x="0" y="0" font-size="48">b</text>
<line x1="1548.9" y1="86.2" x2="1607.2" y2="86.2" stroke="#ff4343" stroke-width="3.2" stroke-linecap="round"/>
<text transform="translate(1614.3,94.9) scale(1,1.06)" x="0" y="0" font-size="24.5">1st</text>
<line x1="1548.9" y1="117" x2="1607.2" y2="117" stroke="#cc6a10" stroke-width="3.2" stroke-linecap="round"/>
<text transform="translate(1614.3,125.7) scale(1,1.06)" x="0" y="0" font-size="24.5">100th</text>
<line x1="1548.9" y1="147.8" x2="1607.2" y2="147.8" stroke="#8c8cb8" stroke-width="3.2" stroke-linecap="round"/>
<text transform="translate(1614.3,156.5) scale(1,1.06)" x="0" y="0" font-size="24.5">200th</text>
<line x1="1548.9" y1="178.6" x2="1607.2" y2="178.6" stroke="#ff8c8c" stroke-width="3.2" stroke-linecap="round"/>
<text transform="translate(1614.3,187.3) scale(1,1.06)" x="0" y="0" font-size="24.5">400th</text>
<line x1="1548.9" y1="209.5" x2="1607.2" y2="209.5" stroke="#0a6a6a" stroke-width="3.2" stroke-linecap="round"/>
<text transform="translate(1614.3,218.2) scale(1,1.06)" x="0" y="0" font-size="24.5">600th</text>
<line x1="1681" y1="86.2" x2="1739" y2="86.2" stroke="#5b9bd5" stroke-width="3.2" stroke-linecap="round"/>
<text transform="translate(1745,94.9) scale(1,1.06)" x="0" y="0" font-size="24.5">50th</text>
<line x1="1681" y1="117" x2="1739" y2="117" stroke="#9933ff" stroke-width="3.2" stroke-linecap="round"/>
<text transform="translate(1745,125.7) scale(1,1.06)" x="0" y="0" font-size="24.5">150th</text>
<line x1="1681" y1="147.8" x2="1739" y2="147.8" stroke="#b4b4b4" stroke-width="3.2" stroke-linecap="round"/>
<text transform="translate(1745,156.5) scale(1,1.06)" x="0" y="0" font-size="24.5">300th</text>
<line x1="1681" y1="178.6" x2="1739" y2="178.6" stroke="#8db4e2" stroke-width="3.2" stroke-linecap="round"/>
<text transform="translate(1745,187.3) scale(1,1.06)" x="0" y="0" font-size="24.5">500th</text>
<g clip-path="url(#cc)">
<g fill="url(#g0)" stroke="url(#rim)" stroke-width="0.8"><circle cx="113.8" cy="601.9" r="4.7"/><circle cx="115.9" cy="559.8" r="4.7"/><circle cx="118" cy="560.3" r="4.7"/><circle cx="120.1" cy="561.2" r="4.7"/><circle cx="122.2" cy="561.5" r="4.7"/><circle cx="124.3" cy="560" r="4.7"/><circle cx="126.4" cy="562.9" r="4.7"/><circle cx="128.4" cy="562.6" r="4.7"/><circle cx="130.5" cy="561.7" r="4.7"/><circle cx="132.6" cy="561.8" r="4.7"/><circle cx="134.7" cy="561.4" r="4.7"/><circle cx="136.8" cy="560.4" r="4.7"/><circle cx="138.9" cy="559.3" r="4.7"/><circle cx="141" cy="563.1" r="4.7"/><circle cx="143.1" cy="562.6" r="4.7"/><circle cx="145.2" cy="563.6" r="4.7"/><circle cx="147.3" cy="564.8" r="4.7"/><circle cx="149.4" cy="565.3" r="4.7"/><circle cx="151.5" cy="565.8" r="4.7"/><circle cx="153.6" cy="564.1" r="4.7"/><circle cx="155.7" cy="564.9" r="4.7"/><circle cx="157.7" cy="563.4" r="4.7"/><circle cx="159.8" cy="562.5" r="4.7"/><circle cx="161.9" cy="561.6" r="4.7"/><circle cx="164" cy="561.4" r="4.7"/><circle cx="166.1" cy="560.5" r="4.7"/><circle cx="168.2" cy="561.7" r="4.7"/><circle cx="170.3" cy="562.2" r="4.7"/><circle cx="172.4" cy="554.9" r="4.7"/><circle cx="174.5" cy="556.8" r="4.7"/><circle cx="176.6" cy="560.4" r="4.7"/><circle cx="178.7" cy="554.5" r="4.7"/><circle cx="180.8" cy="560.6" r="4.7"/><circle cx="182.9" cy="549.8" r="4.7"/><circle cx="185" cy="553.1" r="4.7"/><circle cx="187" cy="557.3" r="4.7"/><circle cx="189.1" cy="560.5" r="4.7"/><circle cx="191.2" cy="556.2" r="4.7"/><circle cx="193.3" cy="562.8" r="4.7"/><circle cx="195.4" cy="559.8" r="4.7"/><circle cx="197.5" cy="555.4" r="4.7"/><circle cx="199.6" cy="557.4" r="4.7"/><circle cx="201.7" cy="558.9" r="4.7"/><circle cx="203.8" cy="554.5" r="4.7"/><circle cx="205.9" cy="560.1" r="4.7"/><circle cx="208" cy="556.1" r="4.7"/><circle cx="210.1" cy="558.1" r="4.7"/><circle cx="212.2" cy="559" r="4.7"/><circle cx="214.3" cy="555" r="4.7"/><circle cx="216.3" cy="559.1" r="4.7"/><circle cx="218.4" cy="550.8" r="4.7"/><circle cx="220.5" cy="558.2" r="4.7"/><circle cx="222.6" cy="550.8" r="4.7"/><circle cx="224.7" cy="560" r="4.7"/><circle cx="226.8" cy="555.2" r="4.7"/><circle cx="228.9" cy="560.8" r="4.7"/><circle cx="231" cy="561.2" r="4.7"/><circle cx="233.1" cy="556.9" r="4.7"/><circle cx="235.2" cy="555.5" r="4.7"/><circle cx="237.3" cy="561.4" r="4.7"/><circle cx="239.4" cy="554.1" r="4.7"/><circle cx="241.5" cy="559.9" r="4.7"/><circle cx="243.6" cy="557.3" r="4.7"/><circle cx="245.7" cy="556.4" r="4.7"/><circle cx="247.7" cy="555.8" r="4.7"/><circle cx="249.8" cy="563" r="4.7"/><circle cx="251.9" cy="553.1" r="4.7"/><circle cx="254" cy="556.6" r="4.7"/><circle cx="256.1" cy="559.6" r="4.7"/><circle cx="258.2" cy="561.4" r="4.7"/><circle cx="260.3" cy="563.6" r="4.7"/><circle cx="262.4" cy="562.7" r="4.7"/><circle cx="264.5" cy="557.2" r="4.7"/><circle cx="266.6" cy="559.8" r="4.7"/><circle cx="268.7" cy="562.1" r="4.7"/><circle cx="270.8" cy="560.1" r="4.7"/><circle cx="272.9" cy="553.9" r="4.7"/><circle cx="275" cy="559.1" r="4.7"/><circle cx="277" cy="559.6" r="4.7"/><circle cx="279.1" cy="553.7" r="4.7"/><circle cx="281.2" cy="555.8" r="4.7"/><circle cx="283.3" cy="556.7" r="4.7"/><circle cx="285.4" cy="558.5" r="4.7"/><circle cx="287.5" cy="561.1" r="4.7"/><circle cx="289.6" cy="560" r="4.7"/><circle cx="291.7" cy="558.1" r="4.7"/><circle cx="293.8" cy="557.1" r="4.7"/><circle cx="295.9" cy="555.7" r="4.7"/><circle cx="298" cy="555.3" r="4.7"/><circle cx="300.1" cy="556.6" r="4.7"/><circle cx="302.2" cy="556.9" r="4.7"/><circle cx="304.3" cy="560.6" r="4.7"/><circle cx="306.3" cy="564" r="4.7"/><circle cx="308.4" cy="559.2" r="4.7"/><circle cx="310.5" cy="560.4" r="4.7"/><circle cx="312.6" cy="559.3" r="4.7"/><circle cx="314.7" cy="557.9" r="4.7"/><circle cx="316.8" cy="560.4" r="4.7"/><circle cx="318.9" cy="559.6" r="4.7"/><circle cx="321" cy="556.2" r="4.7"/><circle cx="323.1" cy="555.3" r="4.7"/><circle cx="325.2" cy="557.4" r="4.7"/><circle cx="327.3" cy="554.1" r="4.7"/><circle cx="329.4" cy="556.3" r="4.7"/><circle cx="331.5" cy="558.9" r="4.7"/><circle cx="333.6" cy="556.2" r="4.7"/><circle cx="335.7" cy="551.5" r="4.7"/><circle cx="337.7" cy="559.6" r="4.7"/><circle cx="339.8" cy="554.8" r="4.7"/><circle cx="341.9" cy="554.9" r="4.7"/><circle cx="344" cy="555.3" r="4.7"/><circle cx="346.1" cy="562.6" r="4.7"/><circle cx="348.2" cy="554.8" r="4.7"/><circle cx="350.3" cy="560.7" r="4.7"/><circle cx="352.4" cy="562" r="4.7"/><circle cx="354.5" cy="562" r="4.7"/><circle cx="356.6" cy="559.8" r="4.7"/><circle cx="358.7" cy="561.5" r="4.7"/><circle cx="360.8" cy="562.1" r="4.7"/><circle cx="362.9" cy="558" r="4.7"/><circle cx="365" cy="563.8" r="4.7"/><circle cx="367" cy="564.6" r="4.7"/><circle cx="369.1" cy="559.2" r="4.7"/><circle cx="371.2" cy="559.4" r="4.7"/><circle cx="373.3" cy="558.3" r="4.7"/><circle cx="375.4" cy="564.6" r="4.7"/><circle cx="377.5" cy="558.2" r="4.7"/><circle cx="379.6" cy="559.8" r="4.7"/><circle cx="381.7" cy="556.1" r="4.7"/><circle cx="383.8" cy="564.9" r="4.7"/><circle cx="385.9" cy="560.6" r="4.7"/><circle cx="388" cy="561.9" r="4.7"/><circle cx="390.1" cy="565.8" r="4.7"/><circle cx="392.2" cy="563.3" r="4.7"/><circle cx="394.3" cy="558" r="4.7"/><circle cx="396.3" cy="562.6" r="4.7"/><circle cx="398.4" cy="563.3" r="4.7"/><circle cx="400.5" cy="558.5" r="4.7"/><circle cx="402.6" cy="558.2" r="4.7"/><circle cx="404.7" cy="558.2" r="4.7"/><circle cx="406.8" cy="563.4" r="4.7"/><circle cx="408.9" cy="561.1" r="4.7"/><circle cx="411" cy="558" r="4.7"/><circle cx="413.1" cy="562.8" r="4.7"/><circle cx="415.2" cy="562.9" r="4.7"/><circle cx="417.3" cy="558.3" r="4.7"/><circle cx="419.4" cy="556.1" r="4.7"/><circle cx="421.5" cy="564" r="4.7"/><circle cx="423.6" cy="568.1" r="4.7"/><circle cx="425.6" cy="564.4" r="4.7"/><circle cx="427.7" cy="563" r="4.7"/><circle cx="429.8" cy="560.2" r="4.7"/><circle cx="431.9" cy="557.9" r="4.7"/><circle cx="434" cy="559.9" r="4.7"/><circle cx="436.1" cy="561.3" r="4.7"/><circle cx="438.2" cy="558.7" r="4.7"/><circle cx="440.3" cy="561.9" r="4.7"/><circle cx="442.4" cy="559.1" r="4.7"/><circle cx="444.5" cy="560.6" r="4.7"/><circle cx="446.6" cy="550.9" r="4.7"/><circle cx="448.7" cy="556.1" r="4.7"/><circle cx="450.8" cy="560.7" r="4.7"/><circle cx="452.9" cy="561" r="4.7"/><circle cx="455" cy="558.9" r="4.7"/><circle cx="457" cy="562.2" r="4.7"/><circle cx="459.1" cy="559.2" r="4.7"/><circle cx="461.2" cy="558.9" r="4.7"/><circle cx="463.3" cy="554" r="4.7"/><circle cx="465.4" cy="557.6" r="4.7"/><circle cx="467.5" cy="558.6" r="4.7"/><circle cx="469.6" cy="560.4" r="4.7"/><circle cx="471.7" cy="560.1" r="4.7"/><circle cx="473.8" cy="557.2" r="4.7"/><circle cx="475.9" cy="558.1" r="4.7"/><circle cx="478" cy="554.7" r="4.7"/><circle cx="480.1" cy="560.5" r="4.7"/><circle cx="482.2" cy="556" r="4.7"/><circle cx="484.3" cy="558.9" r="4.7"/><circle cx="486.3" cy="560.2" r="4.7"/><circle cx="488.4" cy="566.5" r="4.7"/><circle cx="490.5" cy="564.5" r="4.7"/><circle cx="492.6" cy="558.7" r="4.7"/><circle cx="494.7" cy="556.8" r="4.7"/><circle cx="496.8" cy="560.2" r="4.7"/><circle cx="498.9" cy="558.4" r="4.7"/><circle cx="501" cy="561.3" r="4.7"/><circle cx="503.1" cy="560.9" r="4.7"/><circle cx="505.2" cy="561.2" r="4.7"/><circle cx="507.3" cy="555.8" r="4.7"/><circle cx="509.4" cy="557.3" r="4.7"/><circle cx="511.5" cy="558.4" r="4.7"/><circle cx="513.6" cy="558.2" r="4.7"/><circle cx="515.6" cy="555" r="4.7"/><circle cx="517.7" cy="555.4" r="4.7"/><circle cx="519.8" cy="558.3" r="4.7"/><circle cx="521.9" cy="550.6" r="4.7"/><circle cx="524" cy="554.6" r="4.7"/><circle cx="526.1" cy="555.3" r="4.7"/><circle cx="528.2" cy="550.9" r="4.7"/><circle cx="530.3" cy="552.3" r="4.7"/><circle cx="532.4" cy="555.9" r="4.7"/><circle cx="534.5" cy="554.6" r="4.7"/><circle cx="536.6" cy="559.8" r="4.7"/><circle cx="538.7" cy="558.9" r="4.7"/><circle cx="540.8" cy="564" r="4.7"/><circle cx="542.9" cy="554.1" r="4.7"/><circle cx="545" cy="563.7" r="4.7"/><circle cx="547" cy="556.3" r="4.7"/><circle cx="549.1" cy="560.9" r="4.7"/><circle cx="551.2" cy="561.5" r="4.7"/><circle cx="553.3" cy="559.1" r="4.7"/><circle cx="555.4" cy="557.6" r="4.7"/><circle cx="557.5" cy="556.5" r="4.7"/><circle cx="559.6" cy="553.2" r="4.7"/><circle cx="561.7" cy="557.1" r="4.7"/><circle cx="563.8" cy="555.8" r="4.7"/><circle cx="565.9" cy="560.1" r="4.7"/><circle cx="568" cy="556.5" r="4.7"/><circle cx="570.1" cy="558.4" r="4.7"/><circle cx="572.2" cy="560.4" r="4.7"/><circle cx="574.3" cy="559.5" r="4.7"/><circle cx="576.3" cy="559.6" r="4.7"/><circle cx="578.4" cy="559" r="4.7"/><circle cx="580.5" cy="558.5" r="4.7"/><circle cx="582.6" cy="561.2" r="4.7"/><circle cx="584.7" cy="561.6" r="4.7"/><circle cx="586.8" cy="557.2" r="4.7"/><circle cx="588.9" cy="564.2" r="4.7"/><circle cx="591" cy="560.9" r="4.7"/><circle cx="593.1" cy="554.5" r="4.7"/><circle cx="595.2" cy="566.8" r="4.7"/><circle cx="597.3" cy="560.9" r="4.7"/><circle cx="599.4" cy="556.9" r="4.7"/><circle cx="601.5" cy="563.7" r="4.7"/><circle cx="603.6" cy="551.4" r="4.7"/><circle cx="605.6" cy="566.6" r="4.7"/><circle cx="607.7" cy="554.8" r="4.7"/><circle cx="609.8" cy="554.6" r="4.7"/><circle cx="611.9" cy="556.4" r="4.7"/><circle cx="614" cy="559.6" r="4.7"/><circle cx="616.1" cy="557.7" r="4.7"/><circle cx="618.2" cy="561.2" r="4.7"/><circle cx="620.3" cy="556.1" r="4.7"/><circle cx="622.4" cy="561.5" r="4.7"/><circle cx="624.5" cy="559" r="4.7"/><circle cx="626.6" cy="555.3" r="4.7"/><circle cx="628.7" cy="561.4" r="4.7"/><circle cx="630.8" cy="559.1" r="4.7"/><circle cx="632.9" cy="557.7" r="4.7"/><circle cx="635" cy="562.6" r="4.7"/><circle cx="637" cy="555.7" r="4.7"/><circle cx="639.1" cy="558.6" r="4.7"/><circle cx="641.2" cy="564.5" r="4.7"/><circle cx="643.3" cy="560.7" r="4.7"/><circle cx="645.4" cy="563.3" r="4.7"/><circle cx="647.5" cy="563.3" r="4.7"/><circle cx="649.6" cy="561.6" r="4.7"/><circle cx="651.7" cy="564.2" r="4.7"/><circle cx="653.8" cy="559.5" r="4.7"/><circle cx="655.9" cy="564.4" r="4.7"/><circle cx="658" cy="559.4" r="4.7"/><circle cx="660.1" cy="562.2" r="4.7"/><circle cx="662.2" cy="559.3" r="4.7"/><circle cx="664.3" cy="562.9" r="4.7"/><circle cx="666.3" cy="562.5" r="4.7"/><circle cx="668.4" cy="564" r="4.7"/><circle cx="670.5" cy="558.6" r="4.7"/><circle cx="672.6" cy="557.2" r="4.7"/><circle cx="674.7" cy="553.4" r="4.7"/><circle cx="676.8" cy="555.4" r="4.7"/><circle cx="678.9" cy="558" r="4.7"/><circle cx="681" cy="559.2" r="4.7"/><circle cx="683.1" cy="557" r="4.7"/><circle cx="685.2" cy="558.1" r="4.7"/><circle cx="687.3" cy="553.7" r="4.7"/><circle cx="689.4" cy="554.9" r="4.7"/><circle cx="691.5" cy="559.8" r="4.7"/><circle cx="693.6" cy="559.2" r="4.7"/><circle cx="695.6" cy="553.1" r="4.7"/><circle cx="697.7" cy="555.8" r="4.7"/><circle cx="699.8" cy="557.1" r="4.7"/><circle cx="701.9" cy="552.6" r="4.7"/><circle cx="704" cy="557" r="4.7"/><circle cx="706.1" cy="556.6" r="4.7"/><circle cx="708.2" cy="557.1" r="4.7"/><circle cx="710.3" cy="561.3" r="4.7"/><circle cx="712.4" cy="553" r="4.7"/><circle cx="714.5" cy="559.1" r="4.7"/><circle cx="716.6" cy="557.6" r="4.7"/><circle cx="718.7" cy="558.7" r="4.7"/><circle cx="720.8" cy="554.9" r="4.7"/><circle cx="722.9" cy="558" r="4.7"/><circle cx="724.9" cy="558.3" r="4.7"/><circle cx="727" cy="563.9" r="4.7"/><circle cx="729.1" cy="559.6" r="4.7"/><circle cx="731.2" cy="564" r="4.7"/><circle cx="733.3" cy="559.1" r="4.7"/><circle cx="735.4" cy="559" r="4.7"/><circle cx="737.5" cy="560.3" r="4.7"/><circle cx="739.6" cy="554.2" r="4.7"/><circle cx="741.7" cy="558.6" r="4.7"/><circle cx="743.8" cy="558.1" r="4.7"/><circle cx="745.9" cy="559.2" r="4.7"/><circle cx="748" cy="559.9" r="4.7"/><circle cx="750.1" cy="556.4" r="4.7"/><circle cx="752.2" cy="555.8" r="4.7"/><circle cx="754.3" cy="562.8" r="4.7"/><circle cx="756.3" cy="556" r="4.7"/><circle cx="758.4" cy="557.5" r="4.7"/><circle cx="760.5" cy="556.2" r="4.7"/><circle cx="762.6" cy="557.3" r="4.7"/><circle cx="764.7" cy="562.1" r="4.7"/><circle cx="766.8" cy="561.5" r="4.7"/><circle cx="768.9" cy="552.6" r="4.7"/><circle cx="771" cy="557" r="4.7"/><circle cx="773.1" cy="561.9" r="4.7"/><circle cx="775.2" cy="556.6" r="4.7"/><circle cx="777.3" cy="558.5" r="4.7"/><circle cx="779.4" cy="562.6" r="4.7"/><circle cx="781.5" cy="563.8" r="4.7"/><circle cx="783.6" cy="561.9" r="4.7"/><circle cx="785.6" cy="556.5" r="4.7"/><circle cx="787.7" cy="557.6" r="4.7"/><circle cx="789.8" cy="558.4" r="4.7"/><circle cx="791.9" cy="557" r="4.7"/><circle cx="794" cy="556.1" r="4.7"/><circle cx="796.1" cy="564.1" r="4.7"/><circle cx="798.2" cy="558.9" r="4.7"/><circle cx="800.3" cy="560.4" r="4.7"/><circle cx="802.4" cy="561.7" r="4.7"/><circle cx="804.5" cy="559.7" r="4.7"/><circle cx="806.6" cy="558.8" r="4.7"/><circle cx="808.7" cy="559.3" r="4.7"/><circle cx="810.8" cy="562.9" r="4.7"/><circle cx="812.9" cy="560.2" r="4.7"/><circle cx="814.9" cy="553.2" r="4.7"/><circle cx="817" cy="562.5" r="4.7"/><circle cx="819.1" cy="564.6" r="4.7"/><circle cx="821.2" cy="559.3" r="4.7"/><circle cx="823.3" cy="558.7" r="4.7"/><circle cx="825.4" cy="559.3" r="4.7"/><circle cx="827.5" cy="564.2" r="4.7"/><circle cx="829.6" cy="558.3" r="4.7"/><circle cx="831.7" cy="563.6" r="4.7"/><circle cx="833.8" cy="564.8" r="4.7"/><circle cx="835.9" cy="563.3" r="4.7"/><circle cx="838" cy="561.8" r="4.7"/><circle cx="840.1" cy="559.3" r="4.7"/><circle cx="842.2" cy="559.4" r="4.7"/><circle cx="844.3" cy="561.1" r="4.7"/><circle cx="846.3" cy="557.9" r="4.7"/><circle cx="848.4" cy="560.2" r="4.7"/><circle cx="850.5" cy="557.6" r="4.7"/><circle cx="852.6" cy="564.2" r="4.7"/><circle cx="854.7" cy="564.6" r="4.7"/><circle cx="856.8" cy="557.3" r="4.7"/><circle cx="858.9" cy="563.4" r="4.7"/><circle cx="861" cy="560" r="4.7"/><circle cx="863.1" cy="559.2" r="4.7"/><circle cx="865.2" cy="560.3" r="4.7"/><circle cx="867.3" cy="560.1" r="4.7"/><circle cx="869.4" cy="554.6" r="4.7"/><circle cx="871.5" cy="565.8" r="4.7"/><circle cx="873.6" cy="555.8" r="4.7"/><circle cx="875.6" cy="551.7" r="4.7"/><circle cx="877.7" cy="558.3" r="4.7"/><circle cx="879.8" cy="558.5" r="4.7"/><circle cx="881.9" cy="556.6" r="4.7"/><circle cx="884" cy="553.6" r="4.7"/><circle cx="886.1" cy="562.7" r="4.7"/><circle cx="888.2" cy="559.2" r="4.7"/><circle cx="890.3" cy="560.2" r="4.7"/><circle cx="892.4" cy="558.1" r="4.7"/><circle cx="894.5" cy="559.2" r="4.7"/><circle cx="896.6" cy="557.7" r="4.7"/><circle cx="898.7" cy="560.6" r="4.7"/><circle cx="900.8" cy="559.1" r="4.7"/><circle cx="902.9" cy="560.6" r="4.7"/><circle cx="904.9" cy="559.9" r="4.7"/><circle cx="907" cy="557.8" r="4.7"/><circle cx="909.1" cy="556.9" r="4.7"/><circle cx="911.2" cy="559.2" r="4.7"/><circle cx="913.3" cy="550.6" r="4.7"/><circle cx="915.4" cy="555.1" r="4.7"/><circle cx="917.5" cy="558.3" r="4.7"/><circle cx="919.6" cy="551" r="4.7"/><circle cx="921.7" cy="556.5" r="4.7"/><circle cx="923.8" cy="553.3" r="4.7"/><circle cx="925.9" cy="555.3" r="4.7"/><circle cx="928" cy="555.3" r="4.7"/><circle cx="930.1" cy="556.4" r="4.7"/><circle cx="932.2" cy="559.5" r="4.7"/><circle cx="934.2" cy="558.7" r="4.7"/><circle cx="936.3" cy="553.9" r="4.7"/><circle cx="938.4" cy="566.9" r="4.7"/><circle cx="940.5" cy="560.5" r="4.7"/><circle cx="942.6" cy="559.8" r="4.7"/><circle cx="944.7" cy="564" r="4.7"/><circle cx="946.8" cy="564.7" r="4.7"/><circle cx="948.9" cy="553.9" r="4.7"/><circle cx="951" cy="560.5" r="4.7"/><circle cx="953.1" cy="552.6" r="4.7"/><circle cx="955.2" cy="556.4" r="4.7"/><circle cx="957.3" cy="557.2" r="4.7"/><circle cx="959.4" cy="555.6" r="4.7"/><circle cx="961.5" cy="554.8" r="4.7"/><circle cx="963.6" cy="553.2" r="4.7"/><circle cx="965.6" cy="555.6" r="4.7"/><circle cx="967.7" cy="556.7" r="4.7"/><circle cx="969.8" cy="557.2" r="4.7"/><circle cx="971.9" cy="554.4" r="4.7"/><circle cx="974" cy="556.6" r="4.7"/><circle cx="976.1" cy="562.7" r="4.7"/><circle cx="978.2" cy="562.4" r="4.7"/><circle cx="980.3" cy="560.1" r="4.7"/><circle cx="982.4" cy="563.4" r="4.7"/><circle cx="984.5" cy="563" r="4.7"/><circle cx="986.6" cy="564.7" r="4.7"/><circle cx="988.7" cy="562.8" r="4.7"/><circle cx="990.8" cy="560.8" r="4.7"/><circle cx="992.9" cy="558.9" r="4.7"/><circle cx="994.9" cy="561.6" r="4.7"/><circle cx="997" cy="555.1" r="4.7"/><circle cx="999.1" cy="560.9" r="4.7"/><circle cx="1001.2" cy="550.9" r="4.7"/><circle cx="1003.3" cy="556.7" r="4.7"/><circle cx="1005.4" cy="557.7" r="4.7"/><circle cx="1007.5" cy="560" r="4.7"/><circle cx="1009.6" cy="566.2" r="4.7"/><circle cx="1011.7" cy="557.9" r="4.7"/><circle cx="1013.8" cy="556.5" r="4.7"/><circle cx="1015.9" cy="551" r="4.7"/><circle cx="1018" cy="560" r="4.7"/><circle cx="1020.1" cy="550.1" r="4.7"/><circle cx="1022.2" cy="556.2" r="4.7"/><circle cx="1024.2" cy="553.2" r="4.7"/><circle cx="1026.3" cy="562.5" r="4.7"/><circle cx="1028.4" cy="554.9" r="4.7"/><circle cx="1030.5" cy="556.4" r="4.7"/><circle cx="1032.6" cy="553.7" r="4.7"/><circle cx="1034.7" cy="555.6" r="4.7"/><circle cx="1036.8" cy="559.5" r="4.7"/><circle cx="1038.9" cy="553.9" r="4.7"/><circle cx="1041" cy="555.1" r="4.7"/><circle cx="1043.1" cy="555.8" r="4.7"/><circle cx="1045.2" cy="554.8" r="4.7"/><circle cx="1047.3" cy="554.8" r="4.7"/><circle cx="1049.4" cy="558.5" r="4.7"/><circle cx="1051.5" cy="562.6" r="4.7"/><circle cx="1053.5" cy="562.9" r="4.7"/><circle cx="1055.6" cy="555.1" r="4.7"/><circle cx="1057.7" cy="557.3" r="4.7"/><circle cx="1059.8" cy="559.3" r="4.7"/><circle cx="1061.9" cy="561.1" r="4.7"/><circle cx="1064" cy="560.1" r="4.7"/><circle cx="1066.1" cy="560.2" r="4.7"/><circle cx="1068.2" cy="561.6" r="4.7"/><circle cx="1070.3" cy="562.7" r="4.7"/><circle cx="1072.4" cy="554.3" r="4.7"/><circle cx="1074.5" cy="559.8" r="4.7"/><circle cx="1076.6" cy="561.9" r="4.7"/><circle cx="1078.7" cy="563.7" r="4.7"/><circle cx="1080.8" cy="561.6" r="4.7"/><circle cx="1082.9" cy="556.7" r="4.7"/><circle cx="1084.9" cy="556.1" r="4.7"/><circle cx="1087" cy="558.5" r="4.7"/><circle cx="1089.1" cy="557.3" r="4.7"/><circle cx="1091.2" cy="557.9" r="4.7"/><circle cx="1093.3" cy="560" r="4.7"/><circle cx="1095.4" cy="552.9" r="4.7"/><circle cx="1097.5" cy="555.8" r="4.7"/><circle cx="1099.6" cy="550" r="4.7"/><circle cx="1101.7" cy="559.7" r="4.7"/><circle cx="1103.8" cy="558.5" r="4.7"/><circle cx="1105.9" cy="556.2" r="4.7"/><circle cx="1108" cy="559.8" r="4.7"/><circle cx="1110.1" cy="563.7" r="4.7"/><circle cx="1112.2" cy="562.7" r="4.7"/><circle cx="1114.2" cy="560.1" r="4.7"/><circle cx="1116.3" cy="559.6" r="4.7"/><circle cx="1118.4" cy="560.9" r="4.7"/><circle cx="1120.5" cy="557.9" r="4.7"/><circle cx="1122.6" cy="557.7" r="4.7"/><circle cx="1124.7" cy="559.4" r="4.7"/><circle cx="1126.8" cy="560" r="4.7"/><circle cx="1128.9" cy="560.6" r="4.7"/><circle cx="1131" cy="557.9" r="4.7"/><circle cx="1133.1" cy="556.8" r="4.7"/><circle cx="1135.2" cy="559.1" r="4.7"/><circle cx="1137.3" cy="557.8" r="4.7"/><circle cx="1139.4" cy="560.1" r="4.7"/><circle cx="1141.5" cy="563.1" r="4.7"/><circle cx="1143.5" cy="561.8" r="4.7"/><circle cx="1145.6" cy="556.8" r="4.7"/><circle cx="1147.7" cy="557.6" r="4.7"/><circle cx="1149.8" cy="554.3" r="4.7"/><circle cx="1151.9" cy="558.8" r="4.7"/><circle cx="1154" cy="556.3" r="4.7"/><circle cx="1156.1" cy="555" r="4.7"/><circle cx="1158.2" cy="555.9" r="4.7"/><circle cx="1160.3" cy="560.4" r="4.7"/><circle cx="1162.4" cy="559" r="4.7"/><circle cx="1164.5" cy="557.8" r="4.7"/><circle cx="1166.6" cy="561" r="4.7"/><circle cx="1168.7" cy="556.6" r="4.7"/><circle cx="1170.8" cy="554.8" r="4.7"/><circle cx="1172.9" cy="558.9" r="4.7"/><circle cx="1174.9" cy="551.5" r="4.7"/><circle cx="1177" cy="557.8" r="4.7"/><circle cx="1179.1" cy="557" r="4.7"/><circle cx="1181.2" cy="556.7" r="4.7"/><circle cx="1183.3" cy="557.7" r="4.7"/><circle cx="1185.4" cy="554" r="4.7"/><circle cx="1187.5" cy="554.9" r="4.7"/><circle cx="1189.6" cy="549.8" r="4.7"/><circle cx="1191.7" cy="553.1" r="4.7"/><circle cx="1193.8" cy="553.3" r="4.7"/><circle cx="1195.9" cy="555.6" r="4.7"/><circle cx="1198" cy="559.4" r="4.7"/><circle cx="1200.1" cy="555.8" r="4.7"/><circle cx="1202.2" cy="558.2" r="4.7"/><circle cx="1204.2" cy="553.3" r="4.7"/><circle cx="1206.3" cy="556.5" r="4.7"/><circle cx="1208.4" cy="551.9" r="4.7"/><circle cx="1210.5" cy="554.7" r="4.7"/><circle cx="1212.6" cy="554.4" r="4.7"/><circle cx="1214.7" cy="556" r="4.7"/><circle cx="1216.8" cy="556" r="4.7"/><circle cx="1218.9" cy="554.6" r="4.7"/><circle cx="1221" cy="553.7" r="4.7"/><circle cx="1223.1" cy="558.7" r="4.7"/><circle cx="1225.2" cy="555.1" r="4.7"/><circle cx="1227.3" cy="549" r="4.7"/><circle cx="1229.4" cy="557.4" r="4.7"/><circle cx="1231.5" cy="558.3" r="4.7"/><circle cx="1233.5" cy="559.9" r="4.7"/><circle cx="1235.6" cy="562.5" r="4.7"/><circle cx="1237.7" cy="555.5" r="4.7"/><circle cx="1239.8" cy="559.2" r="4.7"/><circle cx="1241.9" cy="558.9" r="4.7"/><circle cx="1244" cy="554.8" r="4.7"/><circle cx="1246.1" cy="553.1" r="4.7"/><circle cx="1248.2" cy="563.1" r="4.7"/><circle cx="1250.3" cy="557.4" r="4.7"/><circle cx="1252.4" cy="558.5" r="4.7"/><circle cx="1254.5" cy="559.2" r="4.7"/><circle cx="1256.6" cy="558.8" r="4.7"/><circle cx="1258.7" cy="560" r="4.7"/><circle cx="1260.8" cy="554.9" r="4.7"/><circle cx="1262.8" cy="557.6" r="4.7"/><circle cx="1264.9" cy="558.2" r="4.7"/><circle cx="1267" cy="555.3" r="4.7"/><circle cx="1269.1" cy="556.1" r="4.7"/><circle cx="1271.2" cy="557.2" r="4.7"/><circle cx="1273.3" cy="557.3" r="4.7"/><circle cx="1275.4" cy="553" r="4.7"/><circle cx="1277.5" cy="556.7" r="4.7"/><circle cx="1279.6" cy="558.3" r="4.7"/><circle cx="1281.7" cy="560.6" r="4.7"/><circle cx="1283.8" cy="559.3" r="4.7"/><circle cx="1285.9" cy="561.5" r="4.7"/><circle cx="1288" cy="558.3" r="4.7"/><circle cx="1290.1" cy="558.1" r="4.7"/><circle cx="1292.2" cy="565.1" r="4.7"/><circle cx="1294.2" cy="559.3" r="4.7"/><circle cx="1296.3" cy="557.5" r="4.7"/><circle cx="1298.4" cy="559.1" r="4.7"/><circle cx="1300.5" cy="562.7" r="4.7"/><circle cx="1302.6" cy="556.3" r="4.7"/><circle cx="1304.7" cy="562" r="4.7"/><circle cx="1306.8" cy="563.3" r="4.7"/><circle cx="1308.9" cy="562.7" r="4.7"/><circle cx="1311" cy="559.5" r="4.7"/><circle cx="1313.1" cy="556.3" r="4.7"/><circle cx="1315.2" cy="555.5" r="4.7"/><circle cx="1317.3" cy="558.2" r="4.7"/><circle cx="1319.4" cy="561.9" r="4.7"/><circle cx="1321.5" cy="560" r="4.7"/><circle cx="1323.5" cy="560.4" r="4.7"/><circle cx="1325.6" cy="558" r="4.7"/><circle cx="1327.7" cy="562.3" r="4.7"/><circle cx="1329.8" cy="556.5" r="4.7"/><circle cx="1331.9" cy="554.4" r="4.7"/><circle cx="1334" cy="556.5" r="4.7"/><circle cx="1336.1" cy="554.7" r="4.7"/><circle cx="1338.2" cy="558.4" r="4.7"/><circle cx="1340.3" cy="559.7" r="4.7"/><circle cx="1342.4" cy="556.9" r="4.7"/><circle cx="1344.5" cy="551.5" r="4.7"/><circle cx="1346.6" cy="551.8" r="4.7"/><circle cx="1348.7" cy="556.2" r="4.7"/><circle cx="1350.8" cy="551.4" r="4.7"/><circle cx="1352.8" cy="555.9" r="4.7"/><circle cx="1354.9" cy="550.5" r="4.7"/><circle cx="1357" cy="553.6" r="4.7"/><circle cx="1359.1" cy="556.3" r="4.7"/><circle cx="1361.2" cy="552.6" r="4.7"/><circle cx="1363.3" cy="557.3" r="4.7"/><circle cx="1365.4" cy="557.8" r="4.7"/><circle cx="1367.5" cy="545.7" r="4.7"/></g>
<g fill="url(#g2)" stroke="url(#rim)" stroke-width="0.8"><circle cx="113.8" cy="593.6" r="4.7"/><circle cx="115.9" cy="572.7" r="4.7"/><circle cx="118" cy="575.9" r="4.7"/><circle cx="120.1" cy="577.6" r="4.7"/><circle cx="122.2" cy="577.3" r="4.7"/><circle cx="124.3" cy="577.7" r="4.7"/><circle cx="126.4" cy="575.4" r="4.7"/><circle cx="128.4" cy="577.1" r="4.7"/><circle cx="130.5" cy="577.7" r="4.7"/><circle cx="132.6" cy="575.3" r="4.7"/><circle cx="134.7" cy="574.8" r="4.7"/><circle cx="136.8" cy="579" r="4.7"/><circle cx="138.9" cy="572.7" r="4.7"/><circle cx="141" cy="575.7" r="4.7"/><circle cx="143.1" cy="576" r="4.7"/><circle cx="145.2" cy="573.8" r="4.7"/><circle cx="147.3" cy="575.6" r="4.7"/><circle cx="149.4" cy="576.9" r="4.7"/><circle cx="151.5" cy="571.7" r="4.7"/><circle cx="153.6" cy="577.8" r="4.7"/><circle cx="155.7" cy="576" r="4.7"/><circle cx="157.7" cy="574.2" r="4.7"/><circle cx="159.8" cy="577.7" r="4.7"/><circle cx="161.9" cy="576" r="4.7"/><circle cx="136.2" cy="604.9" r="4.7"/><circle cx="149.4" cy="540.5" r="4.7"/><circle cx="153.6" cy="588.2" r="4.7"/><circle cx="155.7" cy="580.7" r="4.7"/><circle cx="157.7" cy="592.9" r="4.7"/><circle cx="159.8" cy="589.8" r="4.7"/><circle cx="161.9" cy="587.2" r="4.7"/><circle cx="164" cy="589.3" r="4.7"/><circle cx="166.1" cy="594" r="4.7"/><circle cx="168.2" cy="588.1" r="4.7"/><circle cx="170.3" cy="589.2" r="4.7"/><circle cx="172.4" cy="587.9" r="4.7"/><circle cx="173.9" cy="663.8" r="4.7"/><circle cx="174.5" cy="575" r="4.7"/><circle cx="176.6" cy="575.7" r="4.7"/><circle cx="178.7" cy="579.4" r="4.7"/><circle cx="180.8" cy="580" r="4.7"/><circle cx="182.9" cy="588.7" r="4.7"/><circle cx="185" cy="582.7" r="4.7"/><circle cx="187" cy="580.6" r="4.7"/><circle cx="189.1" cy="584.4" r="4.7"/><circle cx="191.2" cy="581.3" r="4.7"/><circle cx="193.3" cy="587" r="4.7"/><circle cx="195.4" cy="572.5" r="4.7"/><circle cx="197.5" cy="568.7" r="4.7"/><circle cx="199.6" cy="584.3" r="4.7"/><circle cx="201.7" cy="579.5" r="4.7"/><circle cx="203.8" cy="583.3" r="4.7"/><circle cx="205.9" cy="574.2" r="4.7"/><circle cx="208" cy="579.2" r="4.7"/><circle cx="210.1" cy="581.4" r="4.7"/><circle cx="212.2" cy="583.3" r="4.7"/><circle cx="214.3" cy="581.1" r="4.7"/><circle cx="216.3" cy="588" r="4.7"/><circle cx="218.4" cy="577.8" r="4.7"/><circle cx="220.5" cy="586.3" r="4.7"/><circle cx="222.6" cy="578.6" r="4.7"/><circle cx="224.7" cy="581.1" r="4.7"/><circle cx="226.8" cy="575.2" r="4.7"/><circle cx="228.9" cy="582" r="4.7"/><circle cx="231" cy="575.6" r="4.7"/><circle cx="233.1" cy="587.6" r="4.7"/><circle cx="235.2" cy="578.2" r="4.7"/><circle cx="237.3" cy="583.3" r="4.7"/><circle cx="239.4" cy="580.7" r="4.7"/><circle cx="249.8" cy="603.4" r="4.7"/><circle cx="258" cy="621.8" r="4.7"/><circle cx="268.7" cy="600" r="4.7"/><circle cx="258.2" cy="545.1" r="4.7"/><circle cx="262.4" cy="546.9" r="4.7"/><circle cx="275" cy="552.8" r="4.7"/><circle cx="279.1" cy="544.2" r="4.7"/><circle cx="283.3" cy="545.7" r="4.7"/><circle cx="285.4" cy="553.7" r="4.7"/><circle cx="295.9" cy="535.9" r="4.7"/><circle cx="306.3" cy="517.5" r="4.7"/><circle cx="320.6" cy="533.8" r="4.7"/><circle cx="333.6" cy="534.4" r="4.7"/><circle cx="304.3" cy="615.7" r="4.7"/><circle cx="331.5" cy="612" r="4.7"/><circle cx="314.7" cy="608" r="4.7"/><circle cx="318.9" cy="606.5" r="4.7"/><circle cx="323.1" cy="603.4" r="4.7"/><circle cx="327.3" cy="600.3" r="4.7"/><circle cx="310.5" cy="597.2" r="4.7"/><circle cx="291.7" cy="591.1" r="4.7"/><circle cx="300.1" cy="575.8" r="4.7"/><circle cx="304.3" cy="550.6" r="4.7"/><circle cx="308.4" cy="569.6" r="4.7"/><circle cx="316.8" cy="585" r="4.7"/><circle cx="325.2" cy="589.6" r="4.7"/><circle cx="329.4" cy="583.4" r="4.7"/><circle cx="287.5" cy="563.5" r="4.7"/><circle cx="270.8" cy="572.7" r="4.7"/><circle cx="266.6" cy="581.9" r="4.7"/><circle cx="260.3" cy="586.5" r="4.7"/><circle cx="254" cy="581.3" r="4.7"/><circle cx="249.8" cy="577.3" r="4.7"/><circle cx="245.7" cy="584.1" r="4.7"/><circle cx="241.5" cy="588" r="4.7"/><circle cx="277" cy="558.9" r="4.7"/><circle cx="281.2" cy="567.5" r="4.7"/><circle cx="289.6" cy="577.3" r="4.7"/><circle cx="295.9" cy="588" r="4.7"/><circle cx="302.2" cy="565" r="4.7"/><circle cx="312.6" cy="572.7" r="4.7"/><circle cx="321" cy="560.4" r="4.7"/><circle cx="336.9" cy="770.5" r="4.7"/><circle cx="340.7" cy="749.4" r="4.7"/><circle cx="335.7" cy="835.6" r="4.7"/><circle cx="338.8" cy="834" r="4.7"/><circle cx="241.5" cy="567.2" r="4.7"/><circle cx="249.8" cy="572.8" r="4.7"/><circle cx="252.4" cy="564.7" r="4.7"/><circle cx="257.5" cy="585" r="4.7"/><circle cx="260.7" cy="560.7" r="4.7"/><circle cx="263.3" cy="574.7" r="4.7"/><circle cx="269.1" cy="592.3" r="4.7"/><circle cx="272" cy="569.7" r="4.7"/><circle cx="275.6" cy="567.1" r="4.7"/><circle cx="282.4" cy="575.7" r="4.7"/><circle cx="285.6" cy="572.6" r="4.7"/><circle cx="288" cy="572.4" r="4.7"/><circle cx="292.8" cy="581.5" r="4.7"/><circle cx="300" cy="562.3" r="4.7"/><circle cx="301.5" cy="584.2" r="4.7"/><circle cx="306" cy="579.7" r="4.7"/><circle cx="312.1" cy="597.6" r="4.7"/><circle cx="314.4" cy="569.2" r="4.7"/><circle cx="320.9" cy="581.7" r="4.7"/></g>
<g fill="url(#g1)" stroke="url(#rim)" stroke-width="0.8"><circle cx="113.8" cy="616.3" r="4.7"/><circle cx="115.9" cy="570.3" r="4.7"/><circle cx="118" cy="568.6" r="4.7"/><circle cx="120.1" cy="569.7" r="4.7"/><circle cx="122.2" cy="570.6" r="4.7"/><circle cx="124.3" cy="567.1" r="4.7"/><circle cx="126.4" cy="566.3" r="4.7"/><circle cx="128.4" cy="568.9" r="4.7"/><circle cx="130.5" cy="571.5" r="4.7"/><circle cx="132.6" cy="566.4" r="4.7"/><circle cx="134.7" cy="568.7" r="4.7"/><circle cx="136.8" cy="566.9" r="4.7"/><circle cx="138.9" cy="568.5" r="4.7"/><circle cx="141" cy="568.9" r="4.7"/><circle cx="143.1" cy="569" r="4.7"/><circle cx="145.2" cy="566.4" r="4.7"/><circle cx="147.3" cy="566.4" r="4.7"/><circle cx="149.4" cy="571.4" r="4.7"/><circle cx="151.5" cy="569.7" r="4.7"/><circle cx="153.6" cy="566" r="4.7"/><circle cx="155.7" cy="568.9" r="4.7"/><circle cx="157.7" cy="576.7" r="4.7"/><circle cx="159.8" cy="575.6" r="4.7"/><circle cx="161.9" cy="577.2" r="4.7"/><circle cx="164" cy="578.6" r="4.7"/><circle cx="166.1" cy="580.6" r="4.7"/><circle cx="168.2" cy="581.7" r="4.7"/><circle cx="170.3" cy="583.4" r="4.7"/><circle cx="172.4" cy="583.3" r="4.7"/><circle cx="174.5" cy="557.7" r="4.7"/><circle cx="176.6" cy="558.9" r="4.7"/><circle cx="178.7" cy="559.8" r="4.7"/><circle cx="180.8" cy="558.1" r="4.7"/><circle cx="182.9" cy="558.4" r="4.7"/><circle cx="185" cy="563.6" r="4.7"/><circle cx="187" cy="559.4" r="4.7"/><circle cx="189.1" cy="561.5" r="4.7"/><circle cx="191.2" cy="561.5" r="4.7"/><circle cx="193.3" cy="562.4" r="4.7"/><circle cx="195.4" cy="564.1" r="4.7"/><circle cx="197.5" cy="563.1" r="4.7"/><circle cx="199.6" cy="561.4" r="4.7"/><circle cx="201.7" cy="560.4" r="4.7"/><circle cx="203.8" cy="563.3" r="4.7"/><circle cx="205.9" cy="563.9" r="4.7"/><circle cx="208" cy="561" r="4.7"/><circle cx="210.1" cy="564.5" r="4.7"/><circle cx="212.2" cy="560.7" r="4.7"/><circle cx="214.3" cy="563.8" r="4.7"/><circle cx="216.3" cy="565.5" r="4.7"/><circle cx="218.4" cy="563.1" r="4.7"/><circle cx="220.5" cy="562.1" r="4.7"/><circle cx="222.6" cy="566" r="4.7"/><circle cx="224.7" cy="561.5" r="4.7"/><circle cx="226.8" cy="563.6" r="4.7"/><circle cx="228.9" cy="560.7" r="4.7"/><circle cx="231" cy="562.9" r="4.7"/><circle cx="233.1" cy="564.2" r="4.7"/><circle cx="235.2" cy="561.1" r="4.7"/><circle cx="237.3" cy="560.2" r="4.7"/><circle cx="239.4" cy="558.5" r="4.7"/><circle cx="241.5" cy="558.9" r="4.7"/><circle cx="243.6" cy="560.4" r="4.7"/><circle cx="245.7" cy="561.7" r="4.7"/><circle cx="247.7" cy="562.3" r="4.7"/><circle cx="249.8" cy="562.2" r="4.7"/><circle cx="251.9" cy="563.2" r="4.7"/><circle cx="254" cy="562.7" r="4.7"/><circle cx="256.1" cy="566.3" r="4.7"/><circle cx="258.2" cy="563" r="4.7"/><circle cx="260.3" cy="563.8" r="4.7"/><circle cx="262.4" cy="560.5" r="4.7"/><circle cx="264.5" cy="563.3" r="4.7"/><circle cx="266.6" cy="565.1" r="4.7"/><circle cx="268.7" cy="563.5" r="4.7"/><circle cx="270.8" cy="565.8" r="4.7"/><circle cx="272.9" cy="564.7" r="4.7"/><circle cx="275" cy="566.1" r="4.7"/><circle cx="277" cy="561.2" r="4.7"/><circle cx="279.1" cy="561.9" r="4.7"/><circle cx="281.2" cy="564" r="4.7"/><circle cx="283.3" cy="562.3" r="4.7"/><circle cx="285.4" cy="560.6" r="4.7"/><circle cx="287.5" cy="561.1" r="4.7"/><circle cx="289.6" cy="561.1" r="4.7"/><circle cx="291.7" cy="562.8" r="4.7"/><circle cx="293.8" cy="562.6" r="4.7"/><circle cx="295.9" cy="561.7" r="4.7"/><circle cx="298" cy="560.7" r="4.7"/><circle cx="300.1" cy="563.1" r="4.7"/><circle cx="302.2" cy="563.5" r="4.7"/><circle cx="304.3" cy="560.6" r="4.7"/><circle cx="306.3" cy="563.6" r="4.7"/><circle cx="308.4" cy="561" r="4.7"/><circle cx="310.5" cy="562.2" r="4.7"/><circle cx="312.6" cy="561.4" r="4.7"/><circle cx="314.7" cy="560.3" r="4.7"/><circle cx="316.8" cy="561.7" r="4.7"/><circle cx="318.9" cy="561.5" r="4.7"/><circle cx="321" cy="564" r="4.7"/><circle cx="323.1" cy="563.9" r="4.7"/><circle cx="325.2" cy="562.1" r="4.7"/><circle cx="327.3" cy="560.9" r="4.7"/><circle cx="329.4" cy="561.2" r="4.7"/><circle cx="331.5" cy="560" r="4.7"/><circle cx="333.6" cy="563.1" r="4.7"/><circle cx="335.7" cy="563.4" r="4.7"/><circle cx="337.7" cy="562.4" r="4.7"/><circle cx="339.8" cy="563.7" r="4.7"/><circle cx="341.9" cy="564" r="4.7"/><circle cx="344" cy="568.7" r="4.7"/><circle cx="346.1" cy="558.9" r="4.7"/><circle cx="348.2" cy="568.6" r="4.7"/><circle cx="350.3" cy="561" r="4.7"/><circle cx="352.4" cy="570.3" r="4.7"/><circle cx="354.5" cy="558.2" r="4.7"/><circle cx="356.6" cy="568.3" r="4.7"/><circle cx="358.7" cy="559.2" r="4.7"/><circle cx="360.8" cy="570.7" r="4.7"/><circle cx="362.9" cy="565.2" r="4.7"/><circle cx="365" cy="557.4" r="4.7"/><circle cx="367" cy="566.6" r="4.7"/><circle cx="369.1" cy="562.1" r="4.7"/><circle cx="371.2" cy="564.4" r="4.7"/><circle cx="373.3" cy="572.8" r="4.7"/><circle cx="375.4" cy="560.1" r="4.7"/><circle cx="377.5" cy="559.2" r="4.7"/><circle cx="379.6" cy="566.4" r="4.7"/><circle cx="381.7" cy="558.3" r="4.7"/><circle cx="383.8" cy="564.5" r="4.7"/><circle cx="385.9" cy="565.3" r="4.7"/><circle cx="388" cy="560.3" r="4.7"/><circle cx="390.1" cy="563.5" r="4.7"/><circle cx="392.2" cy="549.3" r="4.7"/><circle cx="394.3" cy="567.6" r="4.7"/><circle cx="396.3" cy="556.8" r="4.7"/><circle cx="398.4" cy="555.6" r="4.7"/><circle cx="400.5" cy="570" r="4.7"/><circle cx="402.6" cy="569.2" r="4.7"/><circle cx="404.7" cy="558.6" r="4.7"/><circle cx="406.8" cy="563.9" r="4.7"/><circle cx="408.9" cy="560.2" r="4.7"/><circle cx="411" cy="556.8" r="4.7"/><circle cx="413.1" cy="564" r="4.7"/><circle cx="415.2" cy="567.3" r="4.7"/><circle cx="417.3" cy="575.1" r="4.7"/><circle cx="419.4" cy="561" r="4.7"/><circle cx="421.5" cy="566.2" r="4.7"/><circle cx="423.6" cy="559.8" r="4.7"/><circle cx="425.6" cy="559.9" r="4.7"/><circle cx="427.7" cy="567.2" r="4.7"/><circle cx="429.8" cy="552.1" r="4.7"/><circle cx="431.9" cy="554.8" r="4.7"/><circle cx="434" cy="555.8" r="4.7"/><circle cx="436.1" cy="565.1" r="4.7"/><circle cx="438.2" cy="561.4" r="4.7"/><circle cx="440.3" cy="562.3" r="4.7"/><circle cx="442.4" cy="561.7" r="4.7"/><circle cx="444.5" cy="565.3" r="4.7"/><circle cx="446.6" cy="558.2" r="4.7"/><circle cx="448.7" cy="559.6" r="4.7"/><circle cx="450.8" cy="559.4" r="4.7"/><circle cx="452.9" cy="564" r="4.7"/><circle cx="455" cy="556" r="4.7"/><circle cx="457" cy="561.7" r="4.7"/><circle cx="459.1" cy="576.3" r="4.7"/><circle cx="461.2" cy="566.7" r="4.7"/><circle cx="463.3" cy="564.3" r="4.7"/><circle cx="465.4" cy="559.7" r="4.7"/><circle cx="467.5" cy="566.1" r="4.7"/><circle cx="469.6" cy="565.9" r="4.7"/><circle cx="471.7" cy="568.1" r="4.7"/><circle cx="473.8" cy="561.8" r="4.7"/><circle cx="475.9" cy="567.2" r="4.7"/><circle cx="478" cy="568.1" r="4.7"/><circle cx="480.1" cy="568.7" r="4.7"/><circle cx="482.2" cy="562.6" r="4.7"/><circle cx="484.3" cy="567.8" r="4.7"/><circle cx="486.3" cy="573.2" r="4.7"/><circle cx="488.4" cy="562.1" r="4.7"/><circle cx="490.5" cy="568.1" r="4.7"/><circle cx="492.6" cy="562.5" r="4.7"/><circle cx="494.7" cy="562" r="4.7"/><circle cx="496.8" cy="557.5" r="4.7"/><circle cx="498.9" cy="557.5" r="4.7"/><circle cx="501" cy="564.7" r="4.7"/><circle cx="503.1" cy="562.3" r="4.7"/><circle cx="505.2" cy="567.3" r="4.7"/><circle cx="507.3" cy="553" r="4.7"/><circle cx="509.4" cy="558.9" r="4.7"/><circle cx="511.5" cy="554.4" r="4.7"/><circle cx="513.6" cy="562.7" r="4.7"/><circle cx="515.6" cy="571.3" r="4.7"/><circle cx="517.7" cy="554.3" r="4.7"/><circle cx="519.8" cy="561.3" r="4.7"/><circle cx="482.2" cy="521.2" r="4.7"/><circle cx="484.3" cy="534.4" r="4.7"/><circle cx="540.8" cy="526.4" r="4.7"/><circle cx="557.5" cy="544.8" r="4.7"/><circle cx="524" cy="652.2" r="4.7"/><circle cx="537" cy="639.3" r="4.7"/><circle cx="542.9" cy="651.8" r="4.7"/><circle cx="538.7" cy="697.5" r="4.7"/><circle cx="556.3" cy="693.6" r="4.7"/><circle cx="551.6" cy="727.9" r="4.7"/><circle cx="520.3" cy="741.7" r="4.7"/><circle cx="591.4" cy="737.4" r="4.7"/><circle cx="545" cy="765" r="4.7"/><circle cx="547.9" cy="784.4" r="4.7"/><circle cx="532.8" cy="785.6" r="4.7"/><circle cx="553.3" cy="793.6" r="4.7"/><circle cx="560" cy="773.6" r="4.7"/><circle cx="549.6" cy="809.2" r="4.7"/><circle cx="565.9" cy="813.2" r="4.7"/><circle cx="568" cy="819.6" r="4.7"/><circle cx="521.9" cy="828.5" r="4.7"/><circle cx="524" cy="835" r="4.7"/><circle cx="528.2" cy="845.7" r="4.7"/><circle cx="563.8" cy="835" r="4.7"/><circle cx="572.2" cy="831.9" r="4.7"/><circle cx="578.4" cy="842.6" r="4.7"/><circle cx="584.7" cy="844.2" r="4.7"/><circle cx="588.9" cy="831" r="4.7"/><circle cx="592" cy="839.6" r="4.7"/><circle cx="574.3" cy="841.1" r="4.7"/><circle cx="582.6" cy="838" r="4.7"/><circle cx="569" cy="833.4" r="4.7"/></g>
</g>
<line x1="122.7" y1="519" x2="122.7" y2="854" stroke="#000" stroke-width="2" stroke-dasharray="8,9"/>
<line x1="134.6" y1="519" x2="134.6" y2="854" stroke="#000" stroke-width="2" stroke-dasharray="8,9"/>
<line x1="147.1" y1="519" x2="147.1" y2="854" stroke="#000" stroke-width="2" stroke-dasharray="8,9"/>
<line x1="159.1" y1="519" x2="159.1" y2="854" stroke="#000" stroke-width="2" stroke-dasharray="8,9"/>
<line x1="173.3" y1="519" x2="173.3" y2="854" stroke="#000" stroke-width="2" stroke-dasharray="8,9"/>
<line x1="112" y1="826.5" x2="385" y2="826.5" stroke="#000" stroke-width="2"/>
<polygon points="380.7,819 409.8,826.5 380.7,834" fill="#000"/>
<rect x="111.7" y="517.5" width="1255.8" height="337.4" fill="none" stroke="#000" stroke-width="2.2"/>
<line x1="111.7" y1="854.9" x2="111.7" y2="845.9" stroke="#000" stroke-width="2"/>
<line x1="321" y1="854.9" x2="321" y2="845.9" stroke="#000" stroke-width="2"/>
<line x1="530.3" y1="854.9" x2="530.3" y2="845.9" stroke="#000" stroke-width="2"/>
<line x1="739.6" y1="854.9" x2="739.6" y2="845.9" stroke="#000" stroke-width="2"/>
<line x1="948.9" y1="854.9" x2="948.9" y2="845.9" stroke="#000" stroke-width="2"/>
<line x1="1158.2" y1="854.9" x2="1158.2" y2="845.9" stroke="#000" stroke-width="2"/>
<line x1="1367.5" y1="854.9" x2="1367.5" y2="845.9" stroke="#000" stroke-width="2"/>
<line x1="216.35" y1="854.9" x2="216.35" y2="849.9" stroke="#000" stroke-width="2"/>
<line x1="425.65" y1="854.9" x2="425.65" y2="849.9" stroke="#000" stroke-width="2"/>
<line x1="634.95" y1="854.9" x2="634.95" y2="849.9" stroke="#000" stroke-width="2"/>
<line x1="844.25" y1="854.9" x2="844.25" y2="849.9" stroke="#000" stroke-width="2"/>
<line x1="1053.55" y1="854.9" x2="1053.55" y2="849.9" stroke="#000" stroke-width="2"/>
<line x1="1262.85" y1="854.9" x2="1262.85" y2="849.9" stroke="#000" stroke-width="2"/>
<line x1="111.7" y1="854.9" x2="120.2" y2="854.9" stroke="#000" stroke-width="2"/>
<line x1="111.7" y1="793.55" x2="120.2" y2="793.55" stroke="#000" stroke-width="2"/>
<line x1="111.7" y1="732.21" x2="120.2" y2="732.21" stroke="#000" stroke-width="2"/>
<line x1="111.7" y1="670.86" x2="120.2" y2="670.86" stroke="#000" stroke-width="2"/>
<line x1="111.7" y1="609.52" x2="120.2" y2="609.52" stroke="#000" stroke-width="2"/>
<line x1="111.7" y1="548.17" x2="120.2" y2="548.17" stroke="#000" stroke-width="2"/>
<line x1="111.7" y1="824.23" x2="116.2" y2="824.23" stroke="#000" stroke-width="2"/>
<line x1="111.7" y1="762.88" x2="116.2" y2="762.88" stroke="#000" stroke-width="2"/>
<line x1="111.7" y1="701.54" x2="116.2" y2="701.54" stroke="#000" stroke-width="2"/>
<line x1="111.7" y1="640.19" x2="116.2" y2="640.19" stroke="#000" stroke-width="2"/>
<line x1="111.7" y1="578.85" x2="116.2" y2="578.85" stroke="#000" stroke-width="2"/>
<line x1="111.7" y1="517.5" x2="116.2" y2="517.5" stroke="#000" stroke-width="2"/>
<text transform="translate(111.7,887.8) scale(1,1.06)" x="0" y="0" font-size="30.6" text-anchor="middle">0</text>
<text transform="translate(321,887.8) scale(1,1.06)" x="0" y="0" font-size="30.6" text-anchor="middle">100</text>
<text transform="translate(530.3,887.8) scale(1,1.06)" x="0" y="0" font-size="30.6" text-anchor="middle">200</text>
<text transform="translate(739.6,887.8) scale(1,1.06)" x="0" y="0" font-size="30.6" text-anchor="middle">300</text>
<text transform="translate(948.9,887.8) scale(1,1.06)" x="0" y="0" font-size="30.6" text-anchor="middle">400</text>
<text transform="translate(1158.2,887.8) scale(1,1.06)" x="0" y="0" font-size="30.6" text-anchor="middle">500</text>
<text transform="translate(1367.5,887.8) scale(1,1.06)" x="0" y="0" font-size="30.6" text-anchor="middle">600</text>
<text transform="translate(102.3,864.5) scale(1,1.06)" x="0" y="0" font-size="30.6" text-anchor="end">0</text>
<text transform="translate(102.3,803.15) scale(1,1.06)" x="0" y="0" font-size="30.6" text-anchor="end">20</text>
<text transform="translate(102.3,741.81) scale(1,1.06)" x="0" y="0" font-size="30.6" text-anchor="end">40</text>
<text transform="translate(102.3,680.46) scale(1,1.06)" x="0" y="0" font-size="30.6" text-anchor="end">60</text>
<text transform="translate(102.3,619.12) scale(1,1.06)" x="0" y="0" font-size="30.6" text-anchor="end">80</text>
<text transform="translate(102.3,557.77) scale(1,1.06)" x="0" y="0" font-size="30.6" text-anchor="end">100</text>
<text transform="translate(731.5,913.5) scale(1,1.06)" x="0" y="0" font-size="30.4" text-anchor="middle">Cycle Number</text>
<text x="0" y="0" font-size="30.4" text-anchor="middle" transform="translate(38.5,695.5) rotate(-90) scale(1,1.06)">Coulombic efficiency (%)</text>
<text transform="translate(1,502.3) scale(1,1.06)" x="0" y="0" font-size="48">c</text>
<text transform="translate(189.5,808.1) scale(1,1.06)" x="0" y="0" font-size="26">0.5 mA cm<tspan dy="-10.5" font-size="17">-2</tspan></text>
<text transform="translate(1048.8,815.7) scale(1,1.06)" x="0" y="0" font-size="26">Na capacity=1 mAh cm<tspan dy="-10.5" font-size="16.5">-2</tspan></text>
<circle cx="1161.8" cy="667.8" r="4.7" fill="url(#g2)" stroke="url(#rim)" stroke-width="0.8"/>
<text transform="translate(1206.2,677.5) scale(1,1.06)" x="0" y="0" font-size="29.5">Base</text>
<circle cx="1161.8" cy="702.8" r="4.7" fill="url(#g1)" stroke="url(#rim)" stroke-width="0.8"/>
<text transform="translate(1206.2,712.5) scale(1,1.06)" x="0" y="0" font-size="29.5">LF</text>
<circle cx="1161.8" cy="735.2" r="4.7" fill="url(#g0)" stroke="url(#rim)" stroke-width="0.8"/>
<text transform="translate(1206.2,745) scale(1,1.06)" x="0" y="0" font-size="29.5">WCIE</text>
<rect x="1531.9" y="735.3" width="11.4" height="121.4" fill="url(#bg0)"/>
<rect x="1543.3" y="731.99" width="11.4" height="124.71" fill="url(#bg1)"/>
<rect x="1554.7" y="755.16" width="11.4" height="101.54" fill="url(#bg2)"/>
<rect x="1619.2" y="724.26" width="11.4" height="132.44" fill="url(#bg0)"/>
<rect x="1630.6" y="685.63" width="11.4" height="171.07" fill="url(#bg1)"/>
<rect x="1642" y="733.09" width="11.4" height="123.61" fill="url(#bg2)"/>
<rect x="1705.9" y="680.11" width="11.4" height="176.59" fill="url(#bg0)"/>
<rect x="1717.3" y="624.93" width="11.4" height="231.77" fill="url(#bg1)"/>
<rect x="1728.7" y="721.5" width="11.4" height="135.2" fill="url(#bg2)"/>
<rect x="1793.2" y="635.97" width="11.4" height="220.73" fill="url(#bg0)"/>
<rect x="1804.6" y="575.27" width="11.4" height="281.43" fill="url(#bg1)"/>
<rect x="1816" y="712.12" width="11.4" height="144.58" fill="url(#bg2)"/>
<rect x="1879.9" y="608.38" width="11.4" height="248.33" fill="url(#bg0)"/>
<rect x="1891.3" y="553.19" width="11.4" height="303.51" fill="url(#bg1)"/>
<rect x="1902.7" y="696.67" width="11.4" height="160.03" fill="url(#bg2)"/>
<rect x="1507" y="525.6" width="432.5" height="331.1" fill="none" stroke="#000" stroke-width="2.2"/>
<line x1="1507" y1="856.7" x2="1515.5" y2="856.7" stroke="#000" stroke-width="2"/>
<line x1="1507" y1="801.52" x2="1515.5" y2="801.52" stroke="#000" stroke-width="2"/>
<line x1="1507" y1="746.33" x2="1515.5" y2="746.33" stroke="#000" stroke-width="2"/>
<line x1="1507" y1="691.15" x2="1515.5" y2="691.15" stroke="#000" stroke-width="2"/>
<line x1="1507" y1="635.97" x2="1515.5" y2="635.97" stroke="#000" stroke-width="2"/>
<line x1="1507" y1="580.78" x2="1515.5" y2="580.78" stroke="#000" stroke-width="2"/>
<line x1="1507" y1="525.6" x2="1515.5" y2="525.6" stroke="#000" stroke-width="2"/>
<line x1="1507" y1="829.11" x2="1511.5" y2="829.11" stroke="#000" stroke-width="2"/>
<line x1="1507" y1="773.93" x2="1511.5" y2="773.93" stroke="#000" stroke-width="2"/>
<line x1="1507" y1="718.74" x2="1511.5" y2="718.74" stroke="#000" stroke-width="2"/>
<line x1="1507" y1="663.56" x2="1511.5" y2="663.56" stroke="#000" stroke-width="2"/>
<line x1="1507" y1="608.38" x2="1511.5" y2="608.38" stroke="#000" stroke-width="2"/>
<line x1="1507" y1="553.19" x2="1511.5" y2="553.19" stroke="#000" stroke-width="2"/>
<line x1="1549" y1="856.7" x2="1549" y2="856.7" stroke="#000" stroke-width="2"/>
<line x1="1636.3" y1="856.7" x2="1636.3" y2="856.7" stroke="#000" stroke-width="2"/>
<line x1="1723" y1="856.7" x2="1723" y2="856.7" stroke="#000" stroke-width="2"/>
<line x1="1810.3" y1="856.7" x2="1810.3" y2="856.7" stroke="#000" stroke-width="2"/>
<line x1="1897" y1="856.7" x2="1897" y2="856.7" stroke="#000" stroke-width="2"/>
<text transform="translate(1496.6,866.3) scale(1,1.06)" x="0" y="0" font-size="27" text-anchor="end">0</text>
<text transform="translate(1496.6,811.12) scale(1,1.06)" x="0" y="0" font-size="27" text-anchor="end">100</text>
<text transform="translate(1496.6,755.93) scale(1,1.06)" x="0" y="0" font-size="27" text-anchor="end">200</text>
<text transform="translate(1496.6,700.75) scale(1,1.06)" x="0" y="0" font-size="27" text-anchor="end">300</text>
<text transform="translate(1496.6,645.57) scale(1,1.06)" x="0" y="0" font-size="27" text-anchor="end">400</text>
<text transform="translate(1496.6,590.38) scale(1,1.06)" x="0" y="0" font-size="27" text-anchor="end">500</text>
<text transform="translate(1496.6,535.2) scale(1,1.06)" x="0" y="0" font-size="27" text-anchor="end">600</text>
<text transform="translate(1546.8,879) scale(1,1.06)" x="0" y="0" font-size="27" text-anchor="middle">0.5</text>
<text transform="translate(1635.6,879) scale(1,1.06)" x="0" y="0" font-size="27" text-anchor="middle">1</text>
<text transform="translate(1722,879) scale(1,1.06)" x="0" y="0" font-size="27" text-anchor="middle">1.5</text>
<text transform="translate(1809.4,879) scale(1,1.06)" x="0" y="0" font-size="27" text-anchor="middle">2</text>
<text transform="translate(1895,879) scale(1,1.06)" x="0" y="0" font-size="27" text-anchor="middle">3</text>
<text transform="translate(1722,906) scale(1,1.06)" x="0" y="0" font-size="27.5" text-anchor="middle">Current density (mA cm<tspan dy="-11" font-size="17.5">-2</tspan><tspan dy="11">)</tspan></text>
<text x="0" y="0" font-size="27.9" text-anchor="middle" transform="translate(1443.5,690.5) rotate(-90) scale(1,1.06)">Voltage hysteresis (mV)</text>
<text transform="translate(1404.5,503) scale(1,1.06)" x="0" y="0" font-size="48">d</text>
<rect x="1521" y="535.9" width="55.8" height="25.2" fill="url(#bg0)"/>
<text transform="translate(1588.6,559.5) scale(1,1.06)" x="0" y="0" font-size="28" font-weight="bold" textLength="59.5" lengthAdjust="spacingAndGlyphs">Base</text>
<rect x="1521" y="571" width="55.8" height="25.2" fill="url(#bg1)"/>
<text transform="translate(1588.6,593.4) scale(1,1.06)" x="0" y="0" font-size="28" font-weight="bold" textLength="29.5" lengthAdjust="spacingAndGlyphs">LF</text>
<rect x="1521" y="604.1" width="55.8" height="25.2" fill="url(#bg2)"/>
<text transform="translate(1588.6,626.8) scale(1,1.06)" x="0" y="0" font-size="28" textLength="71" lengthAdjust="spacingAndGlyphs">WCIE</text>
<g clip-path="url(#cf)">
<polygon points="1000.59,1203.64 1001.54,1199.87 1001.81,1199.34 1002.09,1198.82 1002.36,1199.71 1002.64,1198.33 1002.91,1198.36 1003.19,1198.84 1003.46,1198.14 1003.74,1197.49 1004.01,1198.87 1004.29,1198.67 1004.56,1198.17 1004.84,1198.38 1005.12,1198.78 1005.39,1198.1 1005.67,1197.6 1005.94,1197.49 1006.22,1197.68 1006.49,1198.84 1006.77,1196.84 1007.04,1197.58 1007.32,1196.92 1007.59,1197.58 1007.87,1197.2 1008.14,1196.6 1008.42,1197.49 1008.69,1195.78 1008.97,1198.26 1009.24,1196.67 1009.52,1197.43 1009.79,1197.56 1010.07,1196.47 1010.34,1197.25 1010.62,1195.89 1010.89,1197.02 1011.17,1196.58 1011.44,1197.2 1011.72,1196.62 1012,1197.02 1012.27,1196.81 1012.55,1196.92 1012.82,1196.25 1013.1,1195.96 1013.37,1196.57 1013.65,1195.84 1013.92,1196.96 1014.2,1195.7 1014.47,1195.56 1014.75,1196.34 1015.02,1196.02 1015.3,1197.52 1015.57,1196.82 1015.85,1196.49 1016.12,1196.45 1016.4,1195.68 1016.67,1196.23 1016.95,1196.41 1017.22,1195.72 1017.5,1195.68 1017.77,1196.4 1018.05,1196.74 1018.33,1194.77 1018.6,1197.04 1018.88,1196.08 1019.15,1194.75 1019.43,1194.92 1019.7,1195.89 1019.98,1195.15 1020.25,1195.19 1020.53,1195.04 1020.8,1196.01 1021.08,1195.17 1021.35,1195.25 1021.63,1194.12 1021.9,1194.79 1022.18,1195.14 1022.45,1195.91 1022.73,1194.19 1023,1194.49 1023.28,1194.31 1023.55,1194.95 1023.83,1193.82 1024.1,1195.33 1024.38,1194.66 1024.65,1194.35 1024.93,1194.4 1025.21,1194.05 1025.48,1193.68 1025.76,1195.28 1026.03,1194.69 1026.31,1195.28 1026.58,1194.43 1026.86,1194.05 1027.13,1194.33 1027.41,1194.62 1027.68,1193.33 1027.96,1193.98 1028.23,1194.54 1028.51,1193.55 1028.78,1193.94 1029.06,1193.85 1029.33,1194.58 1029.61,1193.71 1029.88,1193.89 1030.16,1193.38 1030.43,1194.9 1030.71,1194.22 1030.98,1194.6 1031.26,1193.46 1031.53,1193.29 1031.81,1193.05 1032.09,1193.71 1032.36,1193.31 1032.64,1193.01 1032.91,1193.45 1033.19,1193.18 1033.46,1192.79 1033.74,1193.98 1034.01,1193.55 1034.29,1192.81 1034.56,1193.26 1034.84,1193.46 1035.11,1193.09 1035.39,1192.81 1035.66,1192.29 1035.94,1192.69 1036.21,1193.28 1036.49,1193.71 1036.76,1192.25 1037.04,1194.08 1037.31,1193.86 1037.59,1192.29 1037.86,1192.06 1038.14,1192.68 1038.42,1192.51 1038.69,1191.38 1038.97,1193.01 1039.24,1192.44 1039.52,1193.16 1039.79,1192.83 1040.07,1193.36 1040.34,1192.61 1040.62,1192.05 1040.89,1192.97 1041.17,1192.85 1041.44,1192.73 1041.72,1192.28 1041.99,1191.68 1042.27,1191.48 1042.54,1192.48 1042.82,1191.44 1043.09,1192.02 1043.37,1191.69 1043.64,1192.03 1043.92,1190.76 1044.19,1190.47 1044.47,1191.72 1044.74,1191.29 1045.02,1190.97 1045.3,1192.03 1045.57,1191.5 1045.85,1192.28 1046.12,1191.47 1046.4,1191.11 1046.67,1190.75 1046.95,1190.95 1047.22,1190.87 1047.5,1190.27 1047.77,1191.68 1048.05,1191.08 1048.32,1190.9 1048.6,1190.46 1048.87,1191.18 1049.15,1191.39 1049.42,1191.04 1049.7,1191.73 1049.97,1190.63 1050.25,1191.17 1050.52,1189.44 1050.8,1190.78 1051.07,1190.88 1051.35,1190.75 1051.62,1191.28 1051.9,1190 1052.18,1190.22 1052.45,1190.2 1052.73,1190.63 1053,1189.77 1053.28,1191.38 1053.55,1190.17 1053.83,1190.15 1054.1,1190.08 1054.38,1189.94 1054.65,1190.36 1054.93,1189.49 1055.2,1189.57 1055.48,1189.41 1055.75,1189.09 1056.03,1189.92 1056.3,1189.66 1056.58,1189.82 1056.85,1189.38 1057.13,1189.8 1057.4,1189.24 1057.68,1189.37 1057.95,1189.73 1058.23,1190.25 1058.51,1189.79 1058.78,1188.95 1059.06,1189.12 1059.33,1189.33 1059.61,1189.43 1059.88,1189.14 1060.16,1189.63 1060.43,1188.58 1060.71,1187.68 1060.98,1188.48 1061.26,1188.75 1061.53,1188.95 1061.81,1189.2 1062.08,1188.17 1062.36,1188.84 1062.63,1189 1062.91,1188.72 1063.18,1188.48 1063.46,1188.8 1063.73,1188.63 1064.01,1188.08 1064.28,1188.68 1064.56,1189.52 1064.83,1188.87 1065.11,1189.37 1065.39,1188.89 1065.66,1188.18 1065.94,1188.08 1066.21,1188.24 1066.49,1188.09 1066.76,1188.58 1067.04,1188.98 1067.31,1188.81 1067.59,1187.42 1067.86,1187.15 1068.14,1188.77 1068.41,1187.44 1068.69,1186.84 1068.96,1188.13 1069.24,1187.04 1069.51,1187.78 1069.79,1187.62 1070.06,1187.27 1070.34,1187.82 1070.61,1186.81 1070.89,1187.14 1071.16,1187.35 1071.44,1187.5 1071.71,1187.18 1071.99,1187.27 1072.27,1187.74 1072.54,1186.17 1072.82,1186.71 1073.09,1186.51 1073.37,1185.59 1073.64,1187.66 1073.92,1187.25 1074.19,1186.99 1074.47,1187.6 1074.74,1187.16 1075.02,1187.59 1075.29,1187.02 1075.57,1186.33 1075.84,1185.68 1076.12,1186.27 1076.39,1186.14 1076.67,1185.49 1076.94,1186.2 1077.22,1186.9 1077.49,1185.62 1077.77,1186.07 1078.04,1186.36 1078.32,1184.74 1078.6,1185.93 1078.87,1186.23 1079.15,1186.29 1079.42,1185.55 1079.7,1187.01 1079.97,1186.48 1080.25,1186.8 1080.52,1185.1 1080.8,1186.56 1081.07,1185.75 1081.35,1185.5 1081.62,1186.27 1081.9,1186 1082.17,1187.03 1082.45,1186.26 1082.72,1185.99 1083,1186.35 1083.27,1186.58 1083.55,1185.93 1083.82,1185.96 1083.82,1269.09 1083.55,1269.34 1083.27,1269.44 1083,1269.46 1082.72,1269.9 1082.45,1269.43 1082.17,1269.31 1081.9,1269.66 1081.62,1269.44 1081.35,1268.22 1081.07,1269.06 1080.8,1269.75 1080.52,1270.36 1080.25,1268.64 1079.97,1269.49 1079.7,1269.04 1079.42,1269.27 1079.15,1268.51 1078.87,1269.26 1078.6,1269.73 1078.32,1269.34 1078.04,1269.84 1077.77,1268.82 1077.49,1269.39 1077.22,1269.22 1076.94,1269.66 1076.67,1268.81 1076.39,1269.36 1076.12,1269.04 1075.84,1269.29 1075.57,1268.12 1075.29,1268.65 1075.02,1268.15 1074.74,1268.35 1074.47,1269.48 1074.19,1268.68 1073.92,1269.07 1073.64,1268.15 1073.37,1268.28 1073.09,1269.08 1072.82,1267.33 1072.54,1267.78 1072.27,1269 1071.99,1268.54 1071.71,1268.78 1071.44,1267.56 1071.16,1267.08 1070.89,1267.44 1070.61,1269.64 1070.34,1268.61 1070.06,1266.12 1069.79,1266.8 1069.51,1266.97 1069.24,1268.02 1068.96,1266.91 1068.69,1267.78 1068.41,1267.4 1068.14,1267.08 1067.86,1267.26 1067.59,1266.17 1067.31,1267.11 1067.04,1266.57 1066.76,1267.61 1066.49,1266.35 1066.21,1267.18 1065.94,1267.69 1065.66,1266.12 1065.39,1265.77 1065.11,1266.78 1064.83,1265.85 1064.56,1267.2 1064.28,1265.93 1064.01,1266.72 1063.73,1266.29 1063.46,1266.04 1063.18,1266.61 1062.91,1266.42 1062.63,1266.06 1062.36,1267.06 1062.08,1265.33 1061.81,1265.92 1061.53,1266.51 1061.26,1265.54 1060.98,1266.24 1060.71,1265.67 1060.43,1266.4 1060.16,1266.39 1059.88,1265.45 1059.61,1266.11 1059.33,1265.37 1059.06,1265.61 1058.78,1265.52 1058.51,1265.06 1058.23,1264.93 1057.95,1265.41 1057.68,1263.92 1057.4,1265.04 1057.13,1266.13 1056.85,1265.07 1056.58,1264.47 1056.3,1266.03 1056.03,1265.69 1055.75,1264.45 1055.48,1264.93 1055.2,1265.25 1054.93,1265.01 1054.65,1264.41 1054.38,1264.12 1054.1,1264.41 1053.83,1263.63 1053.55,1265.04 1053.28,1265.76 1053,1264.5 1052.73,1263.97 1052.45,1264.35 1052.18,1264.52 1051.9,1264.87 1051.62,1264.08 1051.35,1263.67 1051.07,1263.88 1050.8,1265.09 1050.52,1263.3 1050.25,1263.56 1049.97,1265 1049.7,1263.79 1049.42,1263.71 1049.15,1263.34 1048.87,1263.33 1048.6,1264.27 1048.32,1264.02 1048.05,1263.46 1047.77,1263.42 1047.5,1262.97 1047.22,1263.17 1046.95,1263.62 1046.67,1262.82 1046.4,1263.31 1046.12,1263.37 1045.85,1262.77 1045.57,1263.64 1045.3,1263.38 1045.02,1262.82 1044.74,1263.87 1044.47,1262.91 1044.19,1262.84 1043.92,1262.84 1043.64,1262.25 1043.37,1261.68 1043.09,1260.31 1042.82,1261.86 1042.54,1262.28 1042.27,1262.84 1041.99,1263.81 1041.72,1262.65 1041.44,1262.27 1041.17,1263.08 1040.89,1262.03 1040.62,1262.51 1040.34,1262.13 1040.07,1262.49 1039.79,1261.09 1039.52,1262.11 1039.24,1261.42 1038.97,1261.22 1038.69,1261.07 1038.42,1261.4 1038.14,1260.63 1037.86,1262.75 1037.59,1260.81 1037.31,1261.17 1037.04,1261.18 1036.76,1261.96 1036.49,1260.28 1036.21,1260.56 1035.94,1260.62 1035.66,1260.35 1035.39,1261.82 1035.11,1260.65 1034.84,1260.72 1034.56,1261.9 1034.29,1260.11 1034.01,1260.55 1033.74,1260.46 1033.46,1259.85 1033.19,1260.69 1032.91,1259.44 1032.64,1261 1032.36,1260.35 1032.09,1259.89 1031.81,1261.7 1031.53,1259.68 1031.26,1259.89 1030.98,1260.68 1030.71,1259.64 1030.43,1260.43 1030.16,1259.03 1029.88,1259.31 1029.61,1261.13 1029.33,1259.3 1029.06,1259.61 1028.78,1259.21 1028.51,1259.05 1028.23,1259.38 1027.96,1259.71 1027.68,1260.02 1027.41,1259.32 1027.13,1260.16 1026.86,1258.64 1026.58,1260.34 1026.31,1259.59 1026.03,1259.71 1025.76,1258.37 1025.48,1259.14 1025.21,1258.42 1024.93,1257.25 1024.65,1259.92 1024.38,1259.01 1024.1,1258.53 1023.83,1258.67 1023.55,1258.4 1023.28,1258.4 1023,1258.15 1022.73,1258.45 1022.45,1258.44 1022.18,1258.47 1021.9,1257.83 1021.63,1258.36 1021.35,1257.43 1021.08,1258.73 1020.8,1257.66 1020.53,1257.96 1020.25,1257.52 1019.98,1256.91 1019.7,1257.33 1019.43,1257.72 1019.15,1256.52 1018.88,1258.78 1018.6,1257.03 1018.33,1257.74 1018.05,1256.82 1017.77,1256.94 1017.5,1257.56 1017.22,1257.11 1016.95,1258.11 1016.67,1256.96 1016.4,1256.56 1016.12,1256.51 1015.85,1257.38 1015.57,1257.06 1015.3,1257.72 1015.02,1256.71 1014.75,1256.22 1014.47,1256.82 1014.2,1255.7 1013.92,1257.65 1013.65,1255.62 1013.37,1255.32 1013.1,1256.32 1012.82,1255.65 1012.55,1255.64 1012.27,1257.05 1012,1256.2 1011.72,1255.8 1011.44,1255.87 1011.17,1255.2 1010.89,1255.66 1010.62,1256.68 1010.34,1255.44 1010.07,1254.89 1009.79,1256.64 1009.52,1255.79 1009.24,1254.4 1008.97,1254.65 1008.69,1255.72 1008.42,1254.35 1008.14,1255.17 1007.87,1254.51 1007.59,1254.14 1007.32,1253.78 1007.04,1255.39 1006.77,1254.77 1006.49,1253.77 1006.22,1253.79 1005.94,1253.11 1005.67,1253.42 1005.39,1254.35 1005.12,1252.75 1004.84,1252.44 1004.56,1253.35 1004.29,1253.63 1004.01,1252.66 1003.74,1252.83 1003.46,1251.36 1003.19,1250.99 1002.91,1252.08 1002.64,1251.31 1002.36,1251.43 1002.09,1252.28 1001.81,1251.84 1001.54,1250.44 1000.59,1280.45" fill="#f4404a"/>
<polygon points="1080.03,1198.78 1087.62,1198.78 1087.62,1218.23 1080.03,1218.23" fill="#f4404a"/>
<polygon points="1000.59,1203.64 1001.54,1207.97 1001.94,1206.96 1002.35,1206.67 1002.75,1207.79 1003.15,1208.32 1003.56,1206.97 1003.96,1206.17 1004.36,1206.43 1004.77,1206.94 1005.17,1207.82 1005.58,1207.64 1005.98,1208.01 1006.38,1207.51 1006.79,1207.41 1007.19,1207.65 1007.6,1205.7 1008,1208.29 1008.4,1206.78 1008.81,1206.67 1009.21,1206.34 1009.61,1207.13 1010.02,1207.72 1010.42,1206.94 1010.83,1207.49 1011.23,1206.71 1011.63,1206.46 1012.04,1206.51 1012.44,1205.68 1012.85,1206.17 1013.25,1205.85 1013.65,1206.97 1014.06,1207.51 1014.46,1206.52 1014.87,1206.91 1015.27,1206.84 1015.67,1207.19 1016.08,1206.3 1016.48,1207.74 1016.88,1206.98 1017.29,1206.63 1017.69,1207.06 1018.1,1206.45 1018.5,1206.29 1018.9,1207.16 1019.31,1206.68 1019.71,1207.35 1020.12,1206.51 1020.52,1206.73 1020.92,1207.75 1021.33,1207.49 1021.73,1207.18 1022.13,1206.21 1022.54,1207.54 1022.94,1207.05 1023.35,1206.8 1023.75,1208.25 1024.15,1207.29 1024.56,1205.88 1024.96,1207.45 1025.37,1207.79 1025.77,1206.98 1026.17,1206.92 1026.58,1207.15 1026.98,1207.01 1027.38,1207.23 1027.79,1208.05 1028.19,1207.85 1028.6,1205.97 1029,1205.91 1029.4,1206.23 1029.81,1207.61 1030.21,1205.63 1030.62,1206.88 1031.02,1206.55 1031.42,1206.08 1031.83,1206.67 1032.23,1206.3 1032.64,1208.12 1033.04,1206.58 1033.44,1206.94 1033.85,1207.4 1034.25,1206.23 1034.65,1206.75 1035.06,1208.03 1035.46,1207.4 1035.87,1206.44 1036.27,1207.31 1036.67,1205.34 1037.08,1207.14 1037.48,1207.03 1037.89,1206.35 1038.29,1206.01 1038.69,1206.6 1039.1,1207.16 1039.5,1206.34 1039.9,1207.06 1040.31,1207.48 1040.71,1208.31 1041.12,1206.73 1041.52,1206.38 1041.92,1206.91 1042.33,1206.46 1042.73,1207.16 1043.14,1207.16 1043.54,1207.82 1043.94,1206.92 1044.35,1206.44 1044.75,1205.58 1045.16,1207.94 1045.56,1207.56 1045.96,1207.53 1046.37,1206.66 1046.77,1208.06 1047.17,1206.86 1047.58,1206.61 1047.98,1206.1 1048.39,1206.11 1048.79,1208.03 1049.19,1206.21 1049.6,1207.86 1050,1206.85 1050.41,1207.13 1050.81,1207.36 1051.21,1206.76 1051.62,1206.65 1052.02,1206.24 1052.42,1207.45 1052.83,1206.99 1053.23,1206.93 1053.64,1205.78 1054.04,1207.29 1054.44,1206.86 1054.85,1207.37 1055.25,1205.92 1055.66,1206.47 1056.06,1206.85 1056.46,1207.54 1056.87,1207.34 1057.27,1206.14 1057.67,1206.65 1058.08,1207.09 1058.48,1207.43 1058.89,1207.72 1059.29,1206.9 1059.69,1207.34 1060.1,1207.74 1060.5,1207.27 1060.91,1206.77 1061.31,1207.28 1061.71,1206.84 1062.12,1207.53 1062.52,1207.51 1062.93,1206.36 1063.33,1207.62 1063.73,1207.97 1064.14,1206.43 1064.54,1207.27 1064.94,1206.93 1065.35,1206.85 1065.75,1206.96 1066.16,1208.32 1066.56,1206.85 1066.96,1206.61 1067.37,1206.26 1067.77,1206.36 1068.18,1206.5 1068.58,1206.34 1068.98,1207.16 1069.39,1206.42 1069.79,1207.11 1070.19,1206.97 1070.6,1207.02 1071,1206.9 1071.41,1208.49 1071.81,1207.3 1072.21,1207.5 1072.62,1205.88 1073.02,1206.3 1073.43,1205.76 1073.83,1206.07 1074.23,1206.56 1074.64,1205.89 1075.04,1207.39 1075.45,1206.84 1075.85,1208.04 1076.25,1207.18 1076.66,1206.99 1077.06,1205.68 1077.46,1207.31 1077.87,1204.69 1078.27,1205.79 1078.68,1207.47 1079.08,1207.34 1079.48,1207.55 1079.89,1207.27 1080.29,1207.33 1080.7,1207.48 1081.1,1206.36 1081.5,1206.82 1081.91,1207.33 1082.31,1206.62 1082.71,1206.29 1083.12,1207.16 1083.52,1206.65 1083.93,1207.01 1084.33,1207.1 1084.73,1207.32 1085.14,1206.82 1085.54,1206.45 1085.95,1206.87 1086.35,1207.75 1086.75,1206.52 1087.16,1207.7 1087.56,1209.26 1087.96,1206.38 1088.37,1206.93 1088.77,1205.88 1089.18,1205.62 1089.58,1206.8 1089.98,1206.42 1090.39,1208.17 1090.79,1207.06 1091.2,1206.63 1091.6,1205.79 1092,1207.04 1092.41,1207.08 1092.81,1205.96 1093.22,1207.13 1093.62,1205.41 1094.02,1206.36 1094.43,1204.91 1094.83,1206.47 1095.23,1206.98 1095.64,1206.08 1096.04,1205.9 1096.45,1204.39 1096.85,1205.88 1097.25,1205.68 1097.66,1204.06 1098.06,1205.6 1098.47,1205.16 1098.87,1204.5 1099.27,1204.69 1099.68,1202.1 1100.08,1205.13 1100.48,1202.97 1100.89,1203.78 1101.29,1204.74 1101.7,1203.98 1102.1,1204.26 1102.5,1203.36 1102.91,1203.14 1103.31,1202.39 1103.72,1202.37 1104.12,1202.3 1104.52,1203.36 1104.93,1202.12 1105.33,1201.97 1105.73,1202.49 1106.14,1203.13 1106.54,1203.79 1106.95,1202.94 1107.35,1203.66 1107.75,1204.72 1108.16,1204.68 1108.56,1203.41 1108.97,1205.29 1109.37,1203.88 1109.77,1205.81 1110.18,1204.83 1110.58,1205.54 1110.99,1204.64 1111.39,1206.04 1111.79,1205.37 1112.2,1203.9 1112.6,1204.97 1113,1205.01 1113.41,1203.91 1113.81,1205.7 1114.22,1204.42 1114.62,1205.24 1115.02,1204.87 1115.43,1203.13 1115.83,1206.51 1116.24,1205.61 1116.64,1206.38 1117.04,1205.21 1117.45,1205.42 1117.85,1202.16 1118.25,1204.51 1118.66,1202.92 1119.06,1203.2 1119.47,1204.54 1119.87,1204.2 1120.27,1203.06 1120.68,1204.53 1121.08,1204.97 1121.49,1203.47 1121.89,1205.22 1122.29,1204.95 1122.7,1204.64 1123.1,1204.58 1123.51,1204.91 1123.91,1204.86 1124.31,1204.68 1124.72,1204.25 1125.12,1203.58 1125.52,1203.8 1125.93,1204.37 1126.33,1205.44 1126.74,1204.56 1127.14,1203.76 1127.54,1205.64 1127.95,1204.4 1128.35,1203.88 1128.76,1204.76 1129.16,1203.87 1129.56,1204.14 1129.97,1204.43 1130.37,1203.81 1130.77,1203.54 1131.18,1201.67 1131.58,1204.77 1131.99,1204.19 1132.39,1203.71 1132.79,1203.65 1133.2,1204.27 1133.6,1205.44 1134.01,1201.69 1134.41,1203.35 1134.81,1203.42 1135.22,1204.34 1135.62,1204.77 1136.02,1203.25 1136.43,1203.3 1136.83,1203.12 1137.24,1204.31 1137.64,1203.55 1138.04,1203.98 1138.45,1203.1 1138.85,1203.82 1139.26,1203.23 1139.66,1204.31 1140.06,1203.75 1140.47,1203.12 1140.87,1203.65 1141.28,1204.13 1141.68,1202.62 1142.08,1203.42 1142.49,1202.98 1142.89,1203.01 1143.29,1201.85 1143.7,1204.62 1144.1,1202.02 1144.51,1203.2 1144.91,1203.76 1145.31,1202.65 1145.72,1201.62 1146.12,1202.73 1146.53,1203.45 1146.93,1203.78 1147.33,1202.34 1147.74,1203.09 1148.14,1202.47 1148.54,1202.25 1148.95,1201.88 1149.35,1203.52 1149.76,1202.44 1150.16,1203.16 1150.56,1202.25 1150.97,1202.39 1151.37,1202.45 1151.78,1202.96 1152.18,1202.61 1152.58,1202.13 1152.99,1203.3 1153.39,1202.1 1153.79,1202.88 1154.2,1202.23 1154.6,1203.13 1155.01,1202.62 1155.41,1202.66 1155.81,1202.62 1156.22,1201.67 1156.62,1203.59 1157.03,1202.18 1157.43,1201.46 1157.83,1203.39 1158.24,1202.1 1158.64,1200.78 1159.05,1201.21 1159.45,1203.25 1159.85,1201.48 1160.26,1202.02 1160.66,1202.25 1161.06,1201.6 1161.47,1202.04 1161.87,1201.61 1162.28,1201.91 1162.68,1202.45 1163.08,1201.6 1163.49,1201.58 1163.89,1200.74 1164.3,1200.43 1164.7,1202.53 1165.1,1201.69 1165.51,1201.67 1165.91,1202.22 1166.31,1200.71 1166.72,1200.56 1167.12,1202.3 1167.53,1202.48 1167.93,1201.28 1168.33,1201.64 1168.74,1201.51 1169.14,1201.94 1169.55,1201.77 1169.95,1200.86 1170.35,1201.95 1170.76,1202.01 1171.16,1201.01 1171.57,1201.28 1171.97,1202.12 1172.37,1200.94 1172.78,1199.79 1173.18,1201.95 1173.58,1200.82 1173.99,1201.01 1174.39,1200.24 1174.8,1199.96 1175.2,1202.26 1175.6,1202.17 1176.01,1200.95 1176.41,1200.67 1176.82,1200.7 1177.22,1200.3 1177.62,1200.28 1178.03,1201.67 1178.43,1200.56 1178.83,1201.34 1179.24,1200.54 1179.64,1200.19 1180.05,1201.71 1180.45,1199.87 1180.85,1200.65 1181.26,1201.2 1181.66,1200.83 1182.07,1201.67 1182.47,1200.4 1182.87,1200.29 1183.28,1200.13 1183.68,1201.37 1184.08,1200.99 1184.49,1199.71 1184.89,1200.02 1185.3,1200.42 1185.7,1201.58 1186.1,1200.82 1186.51,1200.51 1186.91,1200.47 1187.32,1198.28 1187.72,1200.07 1188.12,1200.28 1188.53,1200.36 1188.93,1200.83 1189.34,1200.38 1189.74,1200.53 1190.14,1200.23 1190.55,1200.57 1190.95,1200.37 1191.35,1200.45 1191.76,1199.47 1192.16,1199.16 1192.57,1201.19 1192.97,1199.86 1193.37,1198.98 1193.78,1200.24 1194.18,1199.56 1194.59,1199.37 1194.99,1199.5 1195.39,1199.48 1195.8,1200.03 1196.2,1200.49 1196.6,1199.58 1197.01,1197.46 1197.41,1199.3 1197.82,1198.43 1198.22,1199.12 1198.62,1200.02 1199.03,1199.4 1199.43,1200.43 1199.84,1198.96 1200.24,1199.92 1200.64,1200.26 1201.05,1199.84 1201.45,1199.78 1201.85,1199.61 1202.26,1199.03 1202.66,1199.2 1203.07,1199.67 1203.47,1198.42 1203.87,1198.91 1204.28,1199.85 1204.68,1199.46 1205.09,1200.51 1205.49,1197.79 1205.89,1199.77 1206.3,1199.18 1206.7,1199.85 1207.11,1199.34 1207.51,1198.47 1207.91,1199.62 1208.32,1199.09 1208.72,1199.61 1209.12,1197.13 1209.53,1198.44 1209.93,1198.79 1210.34,1198.68 1210.74,1199 1211.14,1198.92 1211.55,1198.52 1211.95,1199.04 1212.36,1198.38 1212.76,1198.62 1213.16,1198.91 1213.57,1198.4 1213.97,1199.98 1214.37,1198.07 1214.78,1198 1215.18,1199.34 1215.59,1198.59 1215.99,1199.93 1216.39,1198.32 1216.8,1199.32 1217.2,1199.4 1217.61,1198.56 1218.01,1197.5 1218.41,1198.7 1218.82,1198.36 1219.22,1198.03 1219.63,1197.66 1220.03,1196.55 1220.43,1199.37 1220.84,1199.64 1221.24,1198.01 1221.64,1198.23 1222.05,1197.91 1222.45,1196.94 1222.86,1199.12 1223.26,1198.75 1223.66,1198.35 1224.07,1197.24 1224.47,1197.86 1224.88,1197.67 1225.28,1198.01 1225.68,1197.84 1226.09,1197.02 1226.49,1195.81 1226.89,1197.65 1227.3,1196.91 1227.7,1197.44 1228.11,1197.9 1228.51,1198.45 1228.91,1197.67 1229.32,1197.09 1229.72,1197.79 1230.13,1198.16 1230.53,1198.41 1230.93,1196.94 1231.34,1197.91 1231.74,1197.26 1232.14,1196.46 1232.55,1197.51 1232.95,1197.01 1233.36,1196.83 1233.76,1196.94 1234.16,1197.02 1234.57,1198.14 1234.97,1197.18 1235.38,1196.32 1235.78,1196.53 1236.18,1197.86 1236.59,1198.43 1236.99,1197.97 1237.4,1197.02 1237.8,1196.68 1238.2,1197.39 1238.61,1196.31 1239.01,1195.14 1239.41,1197.28 1239.82,1196.73 1240.22,1196.74 1240.63,1197.91 1241.03,1196.58 1241.43,1197.54 1241.84,1197.83 1242.24,1198.04 1242.65,1197.24 1243.05,1196.87 1243.45,1197.13 1243.86,1196.77 1244.26,1197.88 1244.66,1195.92 1245.07,1197.23 1245.47,1198.02 1245.88,1197.26 1246.28,1195.62 1246.68,1196.72 1247.09,1197.05 1247.49,1196.77 1247.9,1196.33 1248.3,1195.46 1248.7,1197.26 1249.11,1195.49 1249.51,1195.61 1249.91,1196.63 1250.32,1195.53 1250.72,1198.07 1251.13,1195.69 1251.53,1196.2 1251.93,1197.07 1252.34,1195.76 1252.74,1195.38 1253.15,1195.69 1253.55,1195.45 1253.95,1196.08 1254.36,1196.84 1254.76,1196.9 1255.17,1196.57 1255.57,1194.64 1255.97,1196.89 1256.38,1196.39 1256.78,1195.79 1257.18,1196.34 1257.59,1195 1257.99,1194.41 1258.4,1195.74 1258.8,1196.61 1259.2,1196.08 1259.61,1196.95 1260.01,1196 1260.42,1196.16 1260.82,1195.8 1261.22,1196.27 1261.63,1195.47 1262.03,1195.69 1262.43,1195.95 1262.84,1195.72 1263.24,1194.49 1263.65,1195.94 1264.05,1195.67 1264.45,1196.36 1264.86,1195.84 1265.26,1196.49 1265.67,1195.02 1266.07,1195.33 1266.47,1195.46 1266.88,1195.23 1267.28,1195.67 1267.69,1195.26 1268.09,1195.67 1268.49,1195.85 1268.9,1195.65 1269.3,1195.63 1269.7,1195.42 1270.11,1196.31 1270.51,1194.91 1270.92,1196.02 1271.32,1195.91 1271.72,1195.76 1272.13,1196.66 1272.53,1195.66 1272.94,1196.32 1273.34,1196.97 1273.74,1195.87 1274.15,1195.87 1274.55,1194.74 1274.95,1194.95 1275.36,1194.36 1275.76,1194.49 1276.17,1195.03 1276.57,1194.02 1276.97,1194.21 1277.38,1195.87 1277.78,1193.62 1278.19,1194.26 1278.59,1195.07 1278.99,1194.07 1279.4,1195.13 1279.8,1195.01 1280.2,1195.24 1280.61,1196.18 1281.01,1194.82 1281.42,1193.45 1281.82,1195.38 1282.22,1194.32 1282.63,1193.72 1283.03,1195.81 1283.44,1195.27 1283.84,1194.18 1284.24,1194.66 1284.65,1193.99 1285.05,1196.26 1285.46,1194.56 1285.86,1194.11 1286.26,1194.38 1286.67,1193.46 1287.07,1195.2 1287.47,1194.7 1287.88,1195.52 1288.28,1194.61 1288.69,1195.43 1289.09,1194.3 1289.49,1193.41 1289.9,1194.31 1290.3,1195.66 1290.71,1194.8 1291.11,1193.38 1291.51,1195.57 1291.92,1194.55 1292.32,1193.86 1292.72,1194.19 1293.13,1193.48 1293.53,1193.47 1293.94,1194.57 1294.34,1193.51 1294.74,1194.3 1295.15,1193.74 1295.55,1194.08 1295.96,1193.93 1296.36,1195.48 1296.76,1193.91 1297.17,1193.84 1297.57,1193.63 1297.97,1194.14 1298.38,1193.81 1298.78,1193.23 1299.19,1194.44 1299.59,1194.25 1299.99,1194.42 1300.4,1194.01 1300.8,1195.28 1301.21,1193.91 1301.61,1193.3 1302.01,1194.11 1302.42,1193.86 1302.82,1194.56 1303.23,1192.64 1303.63,1193.89 1304.03,1192.78 1304.44,1194.69 1304.84,1194.99 1305.24,1193.86 1305.65,1194.98 1306.05,1194 1306.46,1193.83 1306.86,1194.11 1307.26,1194.1 1307.67,1194.15 1308.07,1192.87 1308.48,1193.31 1308.88,1194.54 1309.28,1193.52 1309.69,1193.8 1310.09,1192.48 1310.49,1193.46 1310.9,1193.49 1311.3,1191.97 1311.71,1194.06 1312.11,1193.37 1312.51,1194.04 1312.92,1193.02 1313.32,1191.79 1313.73,1194 1314.13,1192.98 1314.53,1193.15 1314.94,1194.36 1315.34,1193.75 1315.75,1192.89 1316.15,1192.93 1316.55,1193.22 1316.96,1192.58 1317.36,1193.98 1317.76,1194.15 1318.17,1193.23 1318.57,1192.92 1318.98,1193 1319.38,1193.78 1319.78,1193.28 1320.19,1192.26 1320.59,1194.24 1321,1193.7 1321.4,1192.32 1321.8,1193.52 1322.21,1192.87 1322.61,1193.02 1323.01,1194.51 1323.42,1193.15 1323.82,1193.92 1324.23,1191.92 1324.63,1194.12 1325.03,1191.63 1325.44,1193.4 1325.84,1192.77 1326.25,1193.39 1326.65,1192.83 1327.05,1193.65 1327.46,1192.42 1327.86,1192.35 1328.26,1191.96 1328.67,1192.21 1329.07,1193.49 1329.48,1192.83 1329.88,1193.02 1330.28,1192.9 1330.69,1192.7 1331.09,1193.84 1331.5,1192.52 1331.9,1192.86 1332.3,1192.86 1332.71,1191.07 1333.11,1192.11 1333.52,1192.75 1333.92,1192.93 1334.32,1192.99 1334.73,1193.36 1335.13,1192.96 1335.53,1191.73 1335.94,1191.4 1336.34,1193.84 1336.75,1192.8 1337.15,1191.1 1337.55,1192.82 1337.96,1193.1 1338.36,1192.25 1338.77,1192.73 1339.17,1192.09 1339.57,1191.64 1339.98,1193.89 1340.38,1192.44 1340.78,1191.74 1341.19,1191.15 1341.59,1193.15 1342,1192.65 1342.4,1193.37 1342.8,1191.21 1343.21,1191.81 1343.61,1192.48 1344.02,1193.07 1344.42,1192.58 1344.82,1191.43 1345.23,1192.27 1345.63,1191.33 1346.03,1191.86 1346.44,1193.13 1346.84,1194.14 1347.25,1192.08 1347.65,1191.57 1348.05,1191.74 1348.46,1192.52 1348.86,1191.4 1349.27,1191.43 1349.67,1191.57 1350.07,1191.52 1350.48,1191.99 1350.88,1191.51 1351.29,1190.86 1351.69,1192.52 1352.09,1191.36 1352.5,1191.75 1352.9,1191.55 1353.3,1191.44 1353.71,1191.24 1354.11,1191.99 1354.52,1189.71 1354.92,1193.47 1355.32,1191.96 1355.73,1190.23 1356.13,1192.34 1356.54,1190.77 1356.94,1192.59 1357.34,1190.73 1357.75,1190.41 1358.15,1191.62 1358.55,1190.97 1358.96,1190.9 1359.36,1190.58 1359.77,1191.09 1360.17,1190.95 1360.57,1191.25 1360.98,1191.11 1361.38,1190.52 1361.79,1191.13 1362.19,1191.13 1362.59,1191.09 1363,1191.36 1363.4,1192.71 1363.81,1192.15 1364.21,1190.01 1364.61,1191.12 1365.02,1190.82 1365.42,1190.28 1365.82,1191.85 1366.23,1191.28 1366.63,1190.81 1367.04,1191.66 1367.44,1191.6 1367.84,1192.12 1368.25,1191.76 1368.65,1190.34 1369.06,1191.52 1369.46,1190.7 1369.86,1191.34 1370.27,1190.82 1370.67,1190.72 1371.07,1190.79 1371.48,1191.63 1371.88,1190.53 1372.29,1191.96 1372.69,1190.88 1373.09,1188.61 1373.5,1190.35 1373.9,1189.43 1374.31,1190.87 1374.71,1190.88 1375.11,1190.4 1375.52,1190.94 1375.92,1191.09 1376.32,1190.94 1376.73,1190.83 1377.13,1191.98 1377.54,1191.56 1377.94,1189.99 1378.34,1190.86 1378.75,1191.43 1379.15,1190.65 1379.56,1190.72 1379.96,1191.15 1380.36,1189.6 1380.77,1190.81 1381.17,1189.87 1381.58,1190.33 1381.98,1192.08 1382.38,1190.85 1382.79,1190.77 1383.19,1189.76 1383.59,1191.1 1384,1189.85 1384.4,1190.7 1384.81,1190.06 1385.21,1191.56 1385.61,1189.45 1386.02,1190.39 1386.42,1189.23 1386.83,1190.64 1387.23,1190.33 1387.63,1189.05 1388.04,1190.94 1388.44,1189.96 1388.84,1191.13 1389.25,1190.35 1389.65,1190.47 1390.06,1190.5 1390.46,1190.49 1390.86,1190.75 1391.27,1190.08 1391.67,1190.13 1392.08,1189.71 1392.48,1190.1 1392.88,1189.43 1393.29,1189.8 1393.69,1189.43 1394.09,1190.04 1394.5,1188.91 1394.9,1189.03 1395.31,1190.37 1395.71,1190.72 1396.11,1189.69 1396.52,1189.48 1396.92,1189.44 1397.33,1189.61 1397.73,1189.73 1398.13,1189.27 1398.54,1189.64 1398.94,1190.15 1399.35,1189.24 1399.75,1189.75 1400.15,1189.76 1400.56,1188.47 1400.96,1189.61 1401.36,1190.87 1401.77,1189.86 1402.17,1190.49 1402.58,1188.82 1402.98,1188.77 1403.38,1189.48 1403.79,1188.87 1404.19,1189.58 1404.6,1189.62 1405,1189.86 1405.4,1190.32 1405.81,1189.56 1406.21,1189.28 1406.61,1188.7 1407.02,1189.96 1407.42,1190.4 1407.83,1188.61 1408.23,1189.27 1408.63,1188.97 1409.04,1188.6 1409.44,1187.84 1409.85,1189.23 1410.25,1188.22 1410.65,1188.68 1411.06,1188.86 1411.46,1189.17 1411.87,1187.5 1412.27,1189.16 1412.67,1188.94 1413.08,1189.6 1413.48,1189.35 1413.88,1189.52 1414.29,1188.66 1414.69,1188.66 1415.1,1187.67 1415.5,1188.17 1415.9,1189.07 1416.31,1187.68 1416.71,1189.48 1417.12,1188.34 1417.52,1188.95 1417.92,1189 1418.33,1188.78 1418.73,1189.41 1419.13,1189.05 1419.54,1188.22 1419.94,1188.45 1420.35,1188.02 1420.75,1189.46 1421.15,1188.77 1421.56,1188.7 1421.96,1188.27 1422.37,1188.19 1422.77,1188.46 1423.17,1188.77 1423.58,1186.32 1423.98,1189.06 1424.38,1188.12 1424.79,1189.18 1425.19,1186.96 1425.6,1188.97 1426,1188.15 1426.4,1189.05 1426.81,1188.17 1427.21,1188.86 1427.62,1187.71 1428.02,1189.01 1428.42,1189.24 1428.83,1187.81 1429.23,1188.87 1429.64,1189.17 1430.04,1188.1 1430.44,1189.7 1430.85,1188.16 1431.25,1187.77 1431.65,1187.47 1432.06,1188.47 1432.46,1188.02 1432.87,1188.1 1433.27,1187.99 1433.67,1187.84 1434.08,1187.47 1434.48,1188.33 1434.89,1187.66 1435.29,1188.87 1435.69,1188.04 1436.1,1187.58 1436.5,1187.58 1436.9,1186.93 1437.31,1187.48 1437.71,1188.07 1438.12,1188.31 1438.52,1187.87 1438.92,1186.93 1439.33,1188.39 1439.73,1188.06 1440.14,1187.33 1440.54,1187.63 1440.94,1186.65 1441.35,1185.85 1441.75,1186.83 1442.15,1187.78 1442.56,1187 1442.96,1187.08 1443.37,1187.15 1443.77,1187.37 1444.17,1187.64 1444.58,1187.49 1444.98,1187.09 1445.39,1186.9 1445.79,1187.79 1446.19,1188.92 1446.6,1187.21 1447,1186.5 1447.41,1187.58 1447.81,1186.95 1448.21,1187.37 1448.62,1187.86 1449.02,1186.92 1449.42,1188.12 1449.83,1187 1450.23,1187.62 1450.64,1187.73 1451.04,1187.26 1451.44,1186.86 1451.85,1187.95 1452.25,1186.91 1452.66,1187.83 1453.06,1185.94 1453.46,1187.56 1453.87,1187.14 1454.27,1187.21 1454.67,1188.01 1455.08,1187.88 1455.48,1188 1455.89,1185.9 1456.29,1186.83 1456.69,1188.21 1457.1,1186.81 1457.5,1187.37 1457.91,1187.48 1458.31,1186.63 1458.71,1186.43 1459.12,1187.47 1459.52,1186.39 1459.93,1186.83 1460.33,1187.76 1460.73,1185.57 1461.14,1187.17 1461.54,1187.42 1461.94,1187.51 1462.35,1186.44 1462.75,1185.55 1463.16,1186.12 1463.56,1187.69 1463.96,1185.9 1464.37,1186.23 1464.77,1186.19 1465.18,1184.63 1465.58,1187.15 1465.98,1187.2 1466.39,1186.84 1466.79,1187.64 1467.19,1185.17 1467.6,1186.65 1468,1187.38 1468.41,1186.75 1468.81,1187.34 1469.21,1185.34 1469.62,1186.49 1470.02,1186.49 1470.43,1186.86 1470.83,1186.7 1471.23,1187.02 1471.64,1187.08 1472.04,1187.15 1472.44,1186.24 1472.85,1187.31 1473.25,1186.68 1473.66,1187.05 1474.06,1186.47 1474.46,1186.1 1474.87,1187.24 1475.27,1187.17 1475.68,1187.28 1476.08,1186.53 1476.48,1186.75 1476.89,1186.84 1477.29,1185.72 1477.7,1185.73 1478.1,1186.61 1478.5,1186.11 1478.91,1186.34 1479.31,1186.05 1479.71,1185.88 1480.12,1185.54 1480.52,1185.57 1480.93,1186.36 1481.33,1186.17 1481.73,1185.92 1482.14,1186.02 1482.54,1185.52 1482.95,1185.94 1483.35,1185.68 1483.75,1186.32 1484.16,1186.32 1484.56,1186.58 1484.96,1186.99 1485.37,1187.85 1485.77,1186.3 1486.18,1184.55 1486.58,1185.14 1486.98,1187.65 1487.39,1186.24 1487.79,1187.49 1488.2,1184.73 1488.6,1186.3 1489,1186.88 1489.41,1185.29 1489.81,1186.92 1490.21,1185.88 1490.62,1186.07 1491.02,1186.63 1491.43,1185.31 1491.83,1186.87 1492.23,1185.22 1492.64,1186.06 1493.04,1186.93 1493.45,1187.24 1493.85,1184.74 1494.25,1184.97 1494.66,1186.44 1495.06,1185.27 1495.47,1185.68 1495.87,1185.65 1496.27,1185.98 1496.68,1186.38 1497.08,1184.28 1497.48,1184.55 1497.89,1186.65 1498.29,1184.55 1498.7,1184.58 1499.1,1185.52 1499.5,1186.01 1499.91,1186.1 1500.31,1184.91 1500.72,1184.25 1501.12,1185.89 1501.52,1186.23 1501.93,1186.09 1502.33,1185.06 1502.73,1185 1503.14,1183.67 1503.54,1185.56 1503.95,1185.49 1504.35,1185.44 1504.75,1185.44 1505.16,1184.06 1505.56,1185.38 1505.97,1186.34 1506.37,1185.76 1506.77,1184.67 1507.18,1186.41 1507.58,1183.57 1507.99,1185.17 1508.39,1185.96 1508.79,1184.52 1509.2,1184.64 1509.6,1185.29 1510,1185.4 1510.41,1184.3 1510.81,1184.13 1511.22,1185.91 1511.62,1184.77 1512.02,1185.66 1512.43,1184.83 1512.83,1185.14 1513.24,1184.03 1513.64,1184.92 1514.04,1185.49 1514.45,1184.45 1514.85,1185.16 1515.25,1185.62 1515.66,1185.14 1516.06,1185.35 1516.47,1184.97 1516.87,1184.58 1517.27,1185.58 1517.68,1183.56 1518.08,1185.51 1518.49,1185.14 1518.89,1186.02 1519.29,1185.27 1519.7,1185.41 1520.1,1184.67 1520.5,1184.23 1520.91,1183.42 1521.31,1184.06 1521.72,1184.32 1522.12,1183.9 1522.52,1184.87 1522.93,1185.67 1523.33,1184.63 1523.74,1185.12 1524.14,1185.37 1524.54,1185.28 1524.95,1186.01 1525.35,1183.84 1525.76,1185.83 1526.16,1184.97 1526.56,1184.8 1526.97,1184.61 1527.37,1184.34 1527.77,1184.74 1528.18,1184.76 1528.58,1184.9 1528.99,1184.21 1529.39,1184.97 1529.79,1183.93 1530.2,1184.07 1530.6,1185.55 1531.01,1184.7 1531.41,1184.81 1531.81,1184.09 1532.22,1185.52 1532.62,1184.74 1533.02,1185.44 1533.43,1184.41 1533.83,1184.52 1534.24,1183.56 1534.64,1184.43 1535.04,1184.59 1535.45,1184.96 1535.85,1184.02 1536.26,1185.33 1536.66,1183.58 1537.06,1184.01 1537.47,1184.13 1537.87,1185.43 1538.28,1183.75 1538.68,1182.58 1539.08,1185.16 1539.49,1184.46 1539.89,1182.93 1540.29,1183.67 1540.7,1184.88 1541.1,1184.9 1541.51,1184.26 1541.91,1184.51 1542.31,1184.44 1542.72,1184.16 1543.12,1185.45 1543.53,1185.55 1543.93,1185.14 1544.33,1184.31 1544.74,1184.62 1545.14,1184.78 1545.54,1183.53 1545.95,1184.13 1546.35,1184.15 1546.76,1185.1 1547.16,1183.23 1547.56,1184.01 1547.97,1184.34 1548.37,1182.92 1548.78,1184.48 1549.18,1183.22 1549.58,1184.65 1549.99,1182.48 1550.39,1183.85 1550.79,1184.15 1551.2,1183.51 1551.6,1183.04 1552.01,1184.12 1552.41,1182.86 1552.81,1185.17 1553.22,1184.63 1553.62,1184.49 1554.03,1183.64 1554.43,1182.76 1554.83,1184.03 1555.24,1183.21 1555.64,1183.5 1556.05,1182.67 1556.45,1182.7 1556.85,1183.73 1557.26,1185.54 1557.66,1184.47 1558.06,1184.32 1558.47,1184.05 1558.87,1183.84 1559.28,1183.65 1559.68,1184.22 1560.08,1184.05 1560.49,1182.31 1560.89,1184.93 1561.3,1182.98 1561.7,1184.11 1562.1,1184.02 1562.51,1183.61 1562.91,1184.88 1563.31,1183.11 1563.72,1183.41 1564.12,1183.02 1564.53,1182.84 1564.93,1184.25 1565.33,1184.49 1565.74,1183.16 1566.14,1183.14 1566.55,1184.14 1566.55,1276.55 1566.14,1274.41 1565.74,1275.45 1565.33,1276.5 1564.93,1274.12 1564.53,1275.61 1564.12,1275.23 1563.72,1275.31 1563.31,1274.56 1562.91,1275.54 1562.51,1274.9 1562.1,1275.52 1561.7,1274.64 1561.3,1274.69 1560.89,1274.16 1560.49,1275.25 1560.08,1274.78 1559.68,1275.57 1559.28,1274.51 1558.87,1275.1 1558.47,1274.49 1558.06,1274.07 1557.66,1275.66 1557.26,1274.73 1556.85,1275.28 1556.45,1274.34 1556.05,1274.41 1555.64,1275.02 1555.24,1273.44 1554.83,1274.1 1554.43,1274.39 1554.03,1275.13 1553.62,1273.79 1553.22,1276.22 1552.81,1274.81 1552.41,1274.36 1552.01,1274.44 1551.6,1275.3 1551.2,1272.92 1550.79,1273.68 1550.39,1273.4 1549.99,1273.68 1549.58,1275.57 1549.18,1275.59 1548.78,1275.73 1548.37,1274.81 1547.97,1274.23 1547.56,1275.2 1547.16,1274.08 1546.76,1273.83 1546.35,1273.18 1545.95,1274.81 1545.54,1274.45 1545.14,1272.94 1544.74,1272.47 1544.33,1273.35 1543.93,1273.92 1543.53,1275.15 1543.12,1273.57 1542.72,1274.02 1542.31,1274.73 1541.91,1273.89 1541.51,1274.05 1541.1,1275.28 1540.7,1274.6 1540.29,1273.61 1539.89,1275.05 1539.49,1273.58 1539.08,1274.76 1538.68,1273.8 1538.28,1274.5 1537.87,1275.1 1537.47,1273.19 1537.06,1273.07 1536.66,1274.61 1536.26,1274.31 1535.85,1273.6 1535.45,1273.98 1535.04,1274.82 1534.64,1274.59 1534.24,1276.22 1533.83,1274.12 1533.43,1274.13 1533.02,1274.35 1532.62,1272.24 1532.22,1273.05 1531.81,1274 1531.41,1273.71 1531.01,1273.51 1530.6,1273.25 1530.2,1273.48 1529.79,1272.77 1529.39,1273.68 1528.99,1273.89 1528.58,1272.94 1528.18,1273.81 1527.77,1273.12 1527.37,1273.24 1526.97,1272.97 1526.56,1274.11 1526.16,1273.4 1525.76,1272.95 1525.35,1274.44 1524.95,1273.41 1524.54,1273.58 1524.14,1274.12 1523.74,1273.63 1523.33,1275.35 1522.93,1273.03 1522.52,1273.23 1522.12,1272.81 1521.72,1273.65 1521.31,1272.42 1520.91,1274.4 1520.5,1272.9 1520.1,1273.1 1519.7,1273.08 1519.29,1271.76 1518.89,1273.1 1518.49,1272.25 1518.08,1273.22 1517.68,1273.63 1517.27,1273.21 1516.87,1274.23 1516.47,1273.64 1516.06,1273.35 1515.66,1276.43 1515.25,1273.07 1514.85,1272.64 1514.45,1273.24 1514.04,1273.95 1513.64,1272.12 1513.24,1273.2 1512.83,1273.3 1512.43,1272.7 1512.02,1272.96 1511.62,1274.79 1511.22,1273.46 1510.81,1273.1 1510.41,1273 1510,1272.02 1509.6,1274.16 1509.2,1272.44 1508.79,1270.85 1508.39,1272.34 1507.99,1272.53 1507.58,1272.56 1507.18,1273.77 1506.77,1273.72 1506.37,1271.85 1505.97,1272.02 1505.56,1270.98 1505.16,1272.25 1504.75,1272.82 1504.35,1272.16 1503.95,1272.41 1503.54,1272.34 1503.14,1272.1 1502.73,1271.82 1502.33,1271.76 1501.93,1271.92 1501.52,1272.4 1501.12,1271.74 1500.72,1272.04 1500.31,1271.6 1499.91,1273.73 1499.5,1272.52 1499.1,1272.62 1498.7,1272.03 1498.29,1272.49 1497.89,1272.32 1497.48,1271.32 1497.08,1272.47 1496.68,1271.99 1496.27,1271.65 1495.87,1271.58 1495.47,1272.5 1495.06,1272.78 1494.66,1271.65 1494.25,1272.95 1493.85,1272.06 1493.45,1272.56 1493.04,1272.02 1492.64,1270.78 1492.23,1273.01 1491.83,1270.82 1491.43,1272.65 1491.02,1272.21 1490.62,1271.46 1490.21,1272.34 1489.81,1271.17 1489.41,1272.07 1489,1270.19 1488.6,1271.42 1488.2,1271.65 1487.79,1271.56 1487.39,1273.16 1486.98,1274.17 1486.58,1272.01 1486.18,1270.4 1485.77,1271.16 1485.37,1270.33 1484.96,1271.8 1484.56,1271.51 1484.16,1270.75 1483.75,1270.59 1483.35,1271.08 1482.95,1271.63 1482.54,1270.9 1482.14,1271.76 1481.73,1270.57 1481.33,1271.28 1480.93,1271.91 1480.52,1272.02 1480.12,1271.4 1479.71,1270.8 1479.31,1272.07 1478.91,1271.4 1478.5,1271.96 1478.1,1271.16 1477.7,1270.92 1477.29,1270.68 1476.89,1270.94 1476.48,1272.57 1476.08,1271.69 1475.68,1271.97 1475.27,1270.92 1474.87,1270.59 1474.46,1273.08 1474.06,1270.58 1473.66,1269.69 1473.25,1272.69 1472.85,1272.01 1472.44,1270.46 1472.04,1272.65 1471.64,1269.22 1471.23,1271.18 1470.83,1270.42 1470.43,1271.54 1470.02,1271.71 1469.62,1271.09 1469.21,1269.77 1468.81,1269.95 1468.41,1270.64 1468,1272.04 1467.6,1270.69 1467.19,1272.73 1466.79,1272.01 1466.39,1270.83 1465.98,1271.16 1465.58,1272.8 1465.18,1270.66 1464.77,1269.64 1464.37,1270.1 1463.96,1269.94 1463.56,1271.09 1463.16,1271.17 1462.75,1271.59 1462.35,1269.25 1461.94,1270.4 1461.54,1270.88 1461.14,1272.57 1460.73,1270.3 1460.33,1269.92 1459.93,1271.06 1459.52,1269.25 1459.12,1270.93 1458.71,1271.41 1458.31,1269.99 1457.91,1270.27 1457.5,1268.69 1457.1,1270.91 1456.69,1271.05 1456.29,1270.85 1455.89,1271.07 1455.48,1269.17 1455.08,1270.62 1454.67,1270.46 1454.27,1270.93 1453.87,1269.37 1453.46,1270.5 1453.06,1270.67 1452.66,1269.57 1452.25,1270.31 1451.85,1269.55 1451.44,1269.75 1451.04,1270.68 1450.64,1269.22 1450.23,1271.21 1449.83,1271.14 1449.42,1269.17 1449.02,1269.17 1448.62,1269.52 1448.21,1271.01 1447.81,1269.33 1447.41,1269.72 1447,1269.62 1446.6,1269.58 1446.19,1269.96 1445.79,1270.23 1445.39,1270.7 1444.98,1269.46 1444.58,1269.37 1444.17,1272.31 1443.77,1269.04 1443.37,1269.42 1442.96,1268.75 1442.56,1269.61 1442.15,1269.86 1441.75,1270.44 1441.35,1269.29 1440.94,1269.59 1440.54,1268.88 1440.14,1269.77 1439.73,1268.81 1439.33,1268.31 1438.92,1269.22 1438.52,1270.12 1438.12,1269.52 1437.71,1269.15 1437.31,1269.31 1436.9,1268.8 1436.5,1268.22 1436.1,1269.16 1435.69,1268.96 1435.29,1269.37 1434.89,1270.11 1434.48,1268.33 1434.08,1268.78 1433.67,1268.95 1433.27,1268.93 1432.87,1269.24 1432.46,1268.85 1432.06,1270.71 1431.65,1268.85 1431.25,1269.77 1430.85,1269.83 1430.44,1269.45 1430.04,1268.6 1429.64,1269.47 1429.23,1267.37 1428.83,1268.57 1428.42,1269.06 1428.02,1269.1 1427.62,1269.98 1427.21,1269.55 1426.81,1269.47 1426.4,1267.81 1426,1269.01 1425.6,1269.18 1425.19,1268.85 1424.79,1270.28 1424.38,1268.95 1423.98,1268.83 1423.58,1270.02 1423.17,1268.16 1422.77,1269.37 1422.37,1268.19 1421.96,1269.12 1421.56,1268.58 1421.15,1268.72 1420.75,1268.36 1420.35,1269.72 1419.94,1267.82 1419.54,1268.3 1419.13,1267.58 1418.73,1269.16 1418.33,1267.5 1417.92,1267.66 1417.52,1268.02 1417.12,1268.97 1416.71,1269.39 1416.31,1267.31 1415.9,1268 1415.5,1267.51 1415.1,1268.27 1414.69,1267.91 1414.29,1268.28 1413.88,1268.24 1413.48,1267.43 1413.08,1268.51 1412.67,1267.95 1412.27,1268.92 1411.87,1267.57 1411.46,1268.94 1411.06,1269.14 1410.65,1267.93 1410.25,1267.42 1409.85,1267.11 1409.44,1266.52 1409.04,1267.95 1408.63,1267.28 1408.23,1267.61 1407.83,1267.9 1407.42,1268.08 1407.02,1266.7 1406.61,1267.27 1406.21,1268.06 1405.81,1267.85 1405.4,1269.19 1405,1267.47 1404.6,1268.29 1404.19,1268.41 1403.79,1267.32 1403.38,1266.42 1402.98,1266.22 1402.58,1269.39 1402.17,1267.64 1401.77,1267.7 1401.36,1268.22 1400.96,1267.62 1400.56,1267.51 1400.15,1268.03 1399.75,1266.16 1399.35,1267.95 1398.94,1269.02 1398.54,1267.84 1398.13,1267.23 1397.73,1266.47 1397.33,1266.32 1396.92,1266.53 1396.52,1266.88 1396.11,1268.29 1395.71,1268.44 1395.31,1267.37 1394.9,1266.6 1394.5,1267.23 1394.09,1268.73 1393.69,1267.69 1393.29,1267.27 1392.88,1266.62 1392.48,1268.03 1392.08,1266.04 1391.67,1268.88 1391.27,1267.63 1390.86,1266.46 1390.46,1265.91 1390.06,1266.97 1389.65,1266.71 1389.25,1267.08 1388.84,1267.66 1388.44,1265.87 1388.04,1267.81 1387.63,1267.12 1387.23,1267.1 1386.83,1266.17 1386.42,1266.36 1386.02,1266.95 1385.61,1266.15 1385.21,1266.74 1384.81,1266.01 1384.4,1266.85 1384,1266.32 1383.59,1268.19 1383.19,1266.53 1382.79,1266.99 1382.38,1266.77 1381.98,1266 1381.58,1266.36 1381.17,1265.25 1380.77,1265.28 1380.36,1265.7 1379.96,1265.95 1379.56,1266.88 1379.15,1267.28 1378.75,1266.49 1378.34,1268 1377.94,1265.74 1377.54,1266.36 1377.13,1265.43 1376.73,1269.18 1376.32,1267.62 1375.92,1266.17 1375.52,1266.6 1375.11,1266.29 1374.71,1265.4 1374.31,1265.79 1373.9,1267.41 1373.5,1266.41 1373.09,1266.34 1372.69,1266.07 1372.29,1265.29 1371.88,1266.95 1371.48,1265.51 1371.07,1265.94 1370.67,1266.01 1370.27,1266.24 1369.86,1265.2 1369.46,1266.42 1369.06,1265.9 1368.65,1264.33 1368.25,1265.76 1367.84,1265.73 1367.44,1265.06 1367.04,1267.26 1366.63,1266.03 1366.23,1266.85 1365.82,1265.89 1365.42,1266.88 1365.02,1265.32 1364.61,1266.32 1364.21,1264.22 1363.81,1265.43 1363.4,1265.23 1363,1265.13 1362.59,1265.43 1362.19,1264.73 1361.79,1266.59 1361.38,1264.97 1360.98,1265.45 1360.57,1266.34 1360.17,1264.05 1359.77,1265.75 1359.36,1267.44 1358.96,1266.19 1358.55,1264.29 1358.15,1264.88 1357.75,1265.54 1357.34,1265.79 1356.94,1264.96 1356.54,1265.95 1356.13,1264.52 1355.73,1266.66 1355.32,1265.6 1354.92,1263.83 1354.52,1265.02 1354.11,1265.35 1353.71,1264.86 1353.3,1264.73 1352.9,1264.44 1352.5,1266.09 1352.09,1264.93 1351.69,1264.19 1351.29,1264.79 1350.88,1264.9 1350.48,1264.94 1350.07,1263.25 1349.67,1264.33 1349.27,1264.81 1348.86,1264.54 1348.46,1264.09 1348.05,1265.53 1347.65,1266.55 1347.25,1264.31 1346.84,1264.35 1346.44,1265.06 1346.03,1264.86 1345.63,1264.79 1345.23,1264.74 1344.82,1265.35 1344.42,1264.55 1344.02,1264.01 1343.61,1265.05 1343.21,1264.6 1342.8,1263.91 1342.4,1265.66 1342,1264.35 1341.59,1264.64 1341.19,1262.6 1340.78,1265.38 1340.38,1265.21 1339.98,1263.5 1339.57,1264.79 1339.17,1263.83 1338.77,1264.16 1338.36,1263.8 1337.96,1265.12 1337.55,1265.66 1337.15,1266.23 1336.75,1264.55 1336.34,1264.58 1335.94,1263.82 1335.53,1263.98 1335.13,1263.78 1334.73,1264.15 1334.32,1263.21 1333.92,1263.7 1333.52,1265.74 1333.11,1265.02 1332.71,1263.39 1332.3,1264.65 1331.9,1264.6 1331.5,1264.23 1331.09,1264.61 1330.69,1263.08 1330.28,1263.73 1329.88,1264.22 1329.48,1263.95 1329.07,1263.53 1328.67,1264.26 1328.26,1264.6 1327.86,1265.24 1327.46,1264.1 1327.05,1264.56 1326.65,1262.49 1326.25,1262.91 1325.84,1263.83 1325.44,1263.82 1325.03,1263.81 1324.63,1264.57 1324.23,1263.51 1323.82,1264.96 1323.42,1264.4 1323.01,1263.35 1322.61,1263.18 1322.21,1262.8 1321.8,1262.3 1321.4,1264.59 1321,1263.44 1320.59,1263.5 1320.19,1264.15 1319.78,1263.97 1319.38,1262.72 1318.98,1262.49 1318.57,1263.44 1318.17,1263.78 1317.76,1261.6 1317.36,1262.24 1316.96,1263.3 1316.55,1262.75 1316.15,1264.29 1315.75,1264.06 1315.34,1262.53 1314.94,1262.84 1314.53,1262.48 1314.13,1261.39 1313.73,1261.99 1313.32,1262.95 1312.92,1263.34 1312.51,1264.39 1312.11,1264.91 1311.71,1263.02 1311.3,1263.57 1310.9,1262.45 1310.49,1262.43 1310.09,1262.13 1309.69,1263.51 1309.28,1261.2 1308.88,1262.85 1308.48,1261.97 1308.07,1263.8 1307.67,1264.07 1307.26,1262.22 1306.86,1263.79 1306.46,1261.68 1306.05,1263.03 1305.65,1264.05 1305.24,1263.06 1304.84,1262.96 1304.44,1261.36 1304.03,1262.27 1303.63,1261.58 1303.23,1262.35 1302.82,1262.27 1302.42,1262.97 1302.01,1263.02 1301.61,1261.33 1301.21,1262.17 1300.8,1263.15 1300.4,1261.58 1299.99,1262.13 1299.59,1261.79 1299.19,1261.45 1298.78,1262.23 1298.38,1262.13 1297.97,1262.34 1297.57,1262.23 1297.17,1260.8 1296.76,1262.85 1296.36,1262.57 1295.96,1261.25 1295.55,1263.29 1295.15,1262.65 1294.74,1260.28 1294.34,1261.68 1293.94,1262.82 1293.53,1262.36 1293.13,1261.42 1292.72,1262.69 1292.32,1262.18 1291.92,1262.87 1291.51,1261.67 1291.11,1261.91 1290.71,1261.85 1290.3,1261.59 1289.9,1262.07 1289.49,1261.34 1289.09,1262.24 1288.69,1263.14 1288.28,1262.19 1287.88,1262.15 1287.47,1262.88 1287.07,1260.66 1286.67,1260.44 1286.26,1260.99 1285.86,1261.25 1285.46,1261.32 1285.05,1261.02 1284.65,1261.55 1284.24,1261.79 1283.84,1260.65 1283.44,1262.84 1283.03,1262.07 1282.63,1260.59 1282.22,1261.73 1281.82,1259.55 1281.42,1260.37 1281.01,1260.29 1280.61,1260.99 1280.2,1261.21 1279.8,1262.41 1279.4,1260.75 1278.99,1262.83 1278.59,1260.11 1278.19,1262.33 1277.78,1261.22 1277.38,1259.75 1276.97,1260.86 1276.57,1262.63 1276.17,1260.6 1275.76,1260.51 1275.36,1260.53 1274.95,1261.24 1274.55,1260.63 1274.15,1260.38 1273.74,1261.39 1273.34,1261.62 1272.94,1260.36 1272.53,1260.26 1272.13,1259.16 1271.72,1260.11 1271.32,1260.24 1270.92,1260.56 1270.51,1260.49 1270.11,1261.33 1269.7,1260.77 1269.3,1259.1 1268.9,1260.51 1268.49,1260.5 1268.09,1262.05 1267.69,1260.8 1267.28,1261.43 1266.88,1260.05 1266.47,1260.3 1266.07,1260.89 1265.67,1260.79 1265.26,1260.03 1264.86,1260.22 1264.45,1261.59 1264.05,1260.78 1263.65,1261.13 1263.24,1260.42 1262.84,1259.08 1262.43,1260.32 1262.03,1260.78 1261.63,1259.91 1261.22,1261.58 1260.82,1260.5 1260.42,1261.49 1260.01,1259.27 1259.61,1259.9 1259.2,1260.93 1258.8,1258.68 1258.4,1258.43 1257.99,1260.61 1257.59,1259.39 1257.18,1260.77 1256.78,1259.12 1256.38,1259.88 1255.97,1259.71 1255.57,1261.37 1255.17,1259.71 1254.76,1259.15 1254.36,1259.09 1253.95,1262.13 1253.55,1260.05 1253.15,1259.31 1252.74,1260.87 1252.34,1259.8 1251.93,1260.22 1251.53,1259.82 1251.13,1260.06 1250.72,1259.99 1250.32,1259.21 1249.91,1259.59 1249.51,1258.91 1249.11,1260.11 1248.7,1258.41 1248.3,1259.42 1247.9,1258.48 1247.49,1260.22 1247.09,1260.42 1246.68,1260.74 1246.28,1259.98 1245.88,1260.58 1245.47,1260.02 1245.07,1259.82 1244.66,1257.54 1244.26,1260.61 1243.86,1259.14 1243.45,1259.69 1243.05,1259.73 1242.65,1259.17 1242.24,1257.71 1241.84,1257.31 1241.43,1258.66 1241.03,1258.62 1240.63,1258.49 1240.22,1260.49 1239.82,1258.52 1239.41,1259.49 1239.01,1258.62 1238.61,1257.8 1238.2,1259.17 1237.8,1258.32 1237.4,1258.9 1236.99,1258.62 1236.59,1257.75 1236.18,1259.89 1235.78,1261 1235.38,1259.69 1234.97,1258.92 1234.57,1258.38 1234.16,1259.05 1233.76,1258.17 1233.36,1259.3 1232.95,1257.46 1232.55,1258.07 1232.14,1258.92 1231.74,1258.53 1231.34,1258.21 1230.93,1258.23 1230.53,1259.25 1230.13,1257.64 1229.72,1259.93 1229.32,1258.08 1228.91,1257.64 1228.51,1257.47 1228.11,1258.16 1227.7,1257.34 1227.3,1258.78 1226.89,1259.09 1226.49,1257.31 1226.09,1258.08 1225.68,1257.48 1225.28,1258.34 1224.88,1257.8 1224.47,1258.11 1224.07,1257.72 1223.66,1257.57 1223.26,1256.59 1222.86,1257.78 1222.45,1258.7 1222.05,1258.68 1221.64,1257.69 1221.24,1258.36 1220.84,1257.79 1220.43,1257.89 1220.03,1257.13 1219.63,1257.97 1219.22,1257.65 1218.82,1257.75 1218.41,1257.14 1218.01,1257.66 1217.61,1257.78 1217.2,1258.24 1216.8,1257.82 1216.39,1256.45 1215.99,1256.78 1215.59,1256.63 1215.18,1257.3 1214.78,1257.12 1214.37,1255.9 1213.97,1258.8 1213.57,1256.68 1213.16,1256.76 1212.76,1257.35 1212.36,1256.73 1211.95,1256.43 1211.55,1257.01 1211.14,1255.77 1210.74,1257.41 1210.34,1257.45 1209.93,1257.14 1209.53,1256.98 1209.12,1257.7 1208.72,1256.21 1208.32,1256.33 1207.91,1256.51 1207.51,1256.7 1207.11,1255.09 1206.7,1257.64 1206.3,1257.46 1205.89,1257.18 1205.49,1257.59 1205.09,1256.86 1204.68,1256.96 1204.28,1257.28 1203.87,1256.33 1203.47,1256.76 1203.07,1255.75 1202.66,1256.62 1202.26,1256.66 1201.85,1256.02 1201.45,1256.31 1201.05,1256.41 1200.64,1255.67 1200.24,1256.38 1199.84,1257.97 1199.43,1256.98 1199.03,1256.85 1198.62,1256.57 1198.22,1257.17 1197.82,1256.57 1197.41,1257.34 1197.01,1255.36 1196.6,1255.01 1196.2,1256.79 1195.8,1257.06 1195.39,1255.29 1194.99,1255.51 1194.59,1254.51 1194.18,1255.56 1193.78,1255.7 1193.37,1256.12 1192.97,1255.41 1192.57,1257.2 1192.16,1255.55 1191.76,1256.46 1191.35,1255.35 1190.95,1255.78 1190.55,1255.58 1190.14,1256.67 1189.74,1256.03 1189.34,1256.26 1188.93,1256.57 1188.53,1255.38 1188.12,1256.14 1187.72,1256.52 1187.32,1256.83 1186.91,1256.14 1186.51,1256.38 1186.1,1255.2 1185.7,1255.98 1185.3,1254.64 1184.89,1255.68 1184.49,1254.95 1184.08,1255.28 1183.68,1255.53 1183.28,1254.37 1182.87,1254.95 1182.47,1255.73 1182.07,1254.89 1181.66,1255.74 1181.26,1256.09 1180.85,1255 1180.45,1254.44 1180.05,1255.57 1179.64,1256.19 1179.24,1255.59 1178.83,1255.85 1178.43,1255.57 1178.03,1256.01 1177.62,1255.5 1177.22,1255.74 1176.82,1254.14 1176.41,1255.1 1176.01,1255.26 1175.6,1254.77 1175.2,1253.85 1174.8,1253.94 1174.39,1254.08 1173.99,1254.25 1173.58,1253.95 1173.18,1254.55 1172.78,1256.5 1172.37,1255.56 1171.97,1253.37 1171.57,1254.93 1171.16,1254.23 1170.76,1253.42 1170.35,1254.36 1169.95,1253.79 1169.55,1255.47 1169.14,1255.76 1168.74,1253.54 1168.33,1254.82 1167.93,1254.36 1167.53,1253.98 1167.12,1255.08 1166.72,1254.7 1166.31,1255.63 1165.91,1252.71 1165.51,1253.36 1165.1,1254.8 1164.7,1254.82 1164.3,1252.74 1163.89,1253.63 1163.49,1253.09 1163.08,1254.82 1162.68,1253.71 1162.28,1253.26 1161.87,1253.93 1161.47,1252.99 1161.06,1252.84 1160.66,1253.21 1160.26,1255.53 1159.85,1254.58 1159.45,1253.16 1159.05,1253.66 1158.64,1253.6 1158.24,1254.19 1157.83,1254.15 1157.43,1253.48 1157.03,1253.51 1156.62,1254.46 1156.22,1253.32 1155.81,1253.66 1155.41,1251.97 1155.01,1253.15 1154.6,1254.15 1154.2,1252.9 1153.79,1253.49 1153.39,1254.66 1152.99,1252.77 1152.58,1253.08 1152.18,1255.16 1151.78,1253.66 1151.37,1253.27 1150.97,1254.58 1150.56,1253.89 1150.16,1252.41 1149.76,1253.58 1149.35,1252.2 1148.95,1254.29 1148.54,1252.96 1148.14,1252.76 1147.74,1252.85 1147.33,1252.7 1146.93,1253.77 1146.53,1253.97 1146.12,1253.05 1145.72,1252.47 1145.31,1253.87 1144.91,1253.61 1144.51,1253.77 1144.1,1252.71 1143.7,1252.87 1143.29,1251.87 1142.89,1253.74 1142.49,1251.23 1142.08,1253.61 1141.68,1252.31 1141.28,1252.68 1140.87,1251.62 1140.47,1252.37 1140.06,1252.31 1139.66,1253.45 1139.26,1251.86 1138.85,1252.94 1138.45,1252.39 1138.04,1252.18 1137.64,1252.15 1137.24,1252.04 1136.83,1251.81 1136.43,1253.52 1136.02,1252.35 1135.62,1252.44 1135.22,1253.14 1134.81,1251.55 1134.41,1252.18 1134.01,1251.93 1133.6,1251.22 1133.2,1253.15 1132.79,1252.26 1132.39,1252.76 1131.99,1252.21 1131.58,1250.68 1131.18,1252.97 1130.77,1251.42 1130.37,1251.61 1129.97,1251.57 1129.56,1250.75 1129.16,1251.46 1128.76,1251.47 1128.35,1252.24 1127.95,1251.91 1127.54,1251.9 1127.14,1252.46 1126.74,1251.47 1126.33,1252.33 1125.93,1252.27 1125.52,1251.88 1125.12,1251.43 1124.72,1251.43 1124.31,1252.16 1123.91,1251.85 1123.51,1251.49 1123.1,1251.75 1122.7,1251.08 1122.29,1252.35 1121.89,1250.8 1121.49,1250.67 1121.08,1252.2 1120.68,1252.58 1120.27,1252.96 1119.87,1250.79 1119.47,1251.3 1119.06,1250.96 1118.66,1251.74 1118.25,1251.11 1117.85,1250.4 1117.45,1251.71 1117.04,1250.05 1116.64,1251.37 1116.24,1249.15 1115.83,1248.98 1115.43,1251.43 1115.02,1250.74 1114.62,1250.01 1114.22,1249.84 1113.81,1250.04 1113.41,1250.81 1113,1250.97 1112.6,1251.18 1112.2,1250.66 1111.79,1249.38 1111.39,1250.21 1110.99,1249.69 1110.58,1251 1110.18,1250.76 1109.77,1250.75 1109.37,1251.79 1108.97,1250.43 1108.56,1251.09 1108.16,1250.17 1107.75,1250.71 1107.35,1252.77 1106.95,1251.34 1106.54,1250.58 1106.14,1253.09 1105.73,1250.26 1105.33,1253.16 1104.93,1253.21 1104.52,1252.86 1104.12,1253.98 1103.72,1252.01 1103.31,1251.46 1102.91,1251.46 1102.5,1251.85 1102.1,1250.63 1101.7,1252.77 1101.29,1251.34 1100.89,1252.48 1100.48,1250.55 1100.08,1252.04 1099.68,1250.15 1099.27,1251.66 1098.87,1248.94 1098.47,1250.07 1098.06,1250.49 1097.66,1249.62 1097.25,1250.19 1096.85,1251.57 1096.45,1248.77 1096.04,1248.42 1095.64,1249.9 1095.23,1248.67 1094.83,1249.23 1094.43,1250.38 1094.02,1250.44 1093.62,1249.38 1093.22,1249.64 1092.81,1249.76 1092.41,1249.85 1092,1249.4 1091.6,1249.27 1091.2,1249.08 1090.79,1248.72 1090.39,1249.16 1089.98,1249.08 1089.58,1251.08 1089.18,1249.18 1088.77,1249.15 1088.37,1248.47 1087.96,1249.69 1087.56,1248.48 1087.16,1249.36 1086.75,1248.75 1086.35,1248.82 1085.95,1248.48 1085.54,1249.32 1085.14,1249.22 1084.73,1250.17 1084.33,1250.09 1083.93,1248.05 1083.52,1248.4 1083.12,1248.57 1082.71,1250.44 1082.31,1250.23 1081.91,1248.89 1081.5,1249.83 1081.1,1248.91 1080.7,1250.32 1080.29,1249.93 1079.89,1248.42 1079.48,1248.74 1079.08,1249.77 1078.68,1249.7 1078.27,1249.44 1077.87,1247.77 1077.46,1248.27 1077.06,1249.37 1076.66,1249.07 1076.25,1249.13 1075.85,1248.97 1075.45,1249.38 1075.04,1248.77 1074.64,1250.5 1074.23,1247.4 1073.83,1249.3 1073.43,1247.55 1073.02,1249.51 1072.62,1249.03 1072.21,1249.67 1071.81,1248.45 1071.41,1248.88 1071,1250.36 1070.6,1248.66 1070.19,1248.43 1069.79,1249.67 1069.39,1248.8 1068.98,1249.12 1068.58,1248.17 1068.18,1249.67 1067.77,1247.65 1067.37,1248.72 1066.96,1247.32 1066.56,1248.95 1066.16,1249.66 1065.75,1249.79 1065.35,1248.83 1064.94,1248.47 1064.54,1249.1 1064.14,1249.56 1063.73,1250.08 1063.33,1249.59 1062.93,1249.47 1062.52,1249.17 1062.12,1246.34 1061.71,1248.54 1061.31,1249.97 1060.91,1247.79 1060.5,1248.73 1060.1,1250.04 1059.69,1247.84 1059.29,1248.32 1058.89,1248.71 1058.48,1248.42 1058.08,1249.2 1057.67,1249.03 1057.27,1249.24 1056.87,1248.99 1056.46,1247.6 1056.06,1249.58 1055.66,1248.77 1055.25,1248.81 1054.85,1249.84 1054.44,1249.51 1054.04,1249.64 1053.64,1248.72 1053.23,1249.53 1052.83,1249.03 1052.42,1247.93 1052.02,1249 1051.62,1249.58 1051.21,1248.76 1050.81,1248.52 1050.41,1248.39 1050,1249.38 1049.6,1249.77 1049.19,1248.75 1048.79,1248.84 1048.39,1248.11 1047.98,1249.35 1047.58,1248.7 1047.17,1249.21 1046.77,1248.68 1046.37,1249.85 1045.96,1248.42 1045.56,1248.54 1045.16,1249.04 1044.75,1248.58 1044.35,1248.63 1043.94,1249.53 1043.54,1248.87 1043.14,1248.75 1042.73,1247.76 1042.33,1248.82 1041.92,1248.82 1041.52,1249.66 1041.12,1248.32 1040.71,1247.39 1040.31,1250.82 1039.9,1247.6 1039.5,1249.08 1039.1,1248.47 1038.69,1250.29 1038.29,1247.75 1037.89,1249.61 1037.48,1248.34 1037.08,1248.66 1036.67,1248.74 1036.27,1250.71 1035.87,1249.14 1035.46,1249.02 1035.06,1248.63 1034.65,1248.59 1034.25,1249 1033.85,1250.37 1033.44,1249.59 1033.04,1249.79 1032.64,1249.45 1032.23,1250.86 1031.83,1248.76 1031.42,1249.51 1031.02,1248.87 1030.62,1247.86 1030.21,1248.83 1029.81,1250.12 1029.4,1248.71 1029,1248.67 1028.6,1249.77 1028.19,1250.44 1027.79,1248.78 1027.38,1248.45 1026.98,1248.92 1026.58,1248.67 1026.17,1248.7 1025.77,1249.22 1025.37,1248.77 1024.96,1249.08 1024.56,1248.79 1024.15,1248.5 1023.75,1249.58 1023.35,1247.89 1022.94,1247.42 1022.54,1248.15 1022.13,1247.1 1021.73,1248.07 1021.33,1248.66 1020.92,1247.47 1020.52,1250.04 1020.12,1249.65 1019.71,1247.86 1019.31,1247.76 1018.9,1248.89 1018.5,1250.54 1018.1,1247.62 1017.69,1248.18 1017.29,1248.87 1016.88,1247.77 1016.48,1246.93 1016.08,1249.93 1015.67,1248.23 1015.27,1249.07 1014.87,1249.28 1014.46,1247.97 1014.06,1248.77 1013.65,1249.32 1013.25,1248.13 1012.85,1248.18 1012.44,1248.64 1012.04,1248.81 1011.63,1248.23 1011.23,1248.91 1010.83,1247.38 1010.42,1248.36 1010.02,1248.74 1009.61,1248.33 1009.21,1248.88 1008.81,1248.19 1008.4,1247.04 1008,1248.76 1007.6,1249.16 1007.19,1248.6 1006.79,1247.49 1006.38,1248.54 1005.98,1249.06 1005.58,1247.8 1005.17,1247.99 1004.77,1248.73 1004.36,1249.67 1003.96,1247.73 1003.56,1248.23 1003.15,1246.89 1002.75,1247.84 1002.35,1249.42 1001.94,1248.4 1001.54,1248.53 1000.59,1269.27" fill="#386aa0"/>
<polygon points="1000.4,1194.41 1001.16,1194.41 1001.54,1206.53 1002.01,1205.55 1002.48,1206.56 1002.96,1205.12 1003.43,1206.79 1003.91,1205.49 1004.38,1206.57 1004.85,1206.97 1005.33,1207.14 1005.8,1206.78 1006.27,1207.36 1006.75,1207.53 1007.22,1208.17 1007.7,1208.39 1008.17,1207.48 1008.64,1208.84 1009.12,1207.74 1009.59,1207.62 1010.06,1208.51 1010.54,1207.56 1011.01,1208.78 1011.48,1208.9 1011.96,1208.33 1012.43,1208.7 1012.91,1207.44 1013.38,1207.51 1013.85,1207.48 1014.33,1208.15 1014.8,1206.65 1015.27,1208.52 1015.75,1208.05 1016.22,1208.16 1016.69,1208.46 1017.17,1208.76 1017.64,1208.7 1018.12,1208.08 1018.59,1207.2 1019.06,1208.91 1019.54,1208.36 1020.01,1208.88 1020.48,1207.82 1020.96,1207.98 1021.43,1208 1021.91,1208.29 1022.38,1209.37 1022.85,1208.52 1023.33,1207.14 1023.8,1209.16 1024.27,1208.39 1024.75,1207.76 1025.22,1208.36 1025.69,1207.86 1026.17,1209.11 1026.64,1208.58 1027.12,1208.37 1027.59,1208.4 1028.06,1207.5 1028.54,1208.86 1029.01,1209.52 1029.48,1208.98 1029.96,1208.51 1030.43,1208.79 1030.91,1207.41 1031.38,1209.01 1031.85,1207.83 1032.33,1208.76 1032.8,1208.25 1033.27,1208.97 1033.75,1209.31 1034.22,1209 1034.69,1209.3 1035.17,1208.72 1035.64,1208.25 1036.12,1208.83 1036.59,1208.09 1037.06,1208.63 1037.54,1209.45 1038.01,1209.55 1038.48,1208.64 1038.96,1208.81 1039.43,1208.95 1039.9,1209.99 1040.38,1208.36 1040.85,1208.34 1041.33,1208.94 1041.8,1208.97 1042.27,1208.88 1042.75,1208.68 1043.22,1207.66 1043.69,1209.65 1044.17,1208.92 1044.64,1209.23 1045.12,1209.82 1045.59,1209.33 1046.06,1209.15 1046.54,1209.39 1047.01,1209.25 1047.48,1210.06 1047.96,1209.26 1048.43,1209.03 1048.9,1209.33 1049.38,1209.09 1049.85,1209.6 1050.33,1209.9 1050.8,1208.81 1051.27,1209.21 1051.75,1209.93 1052.22,1209 1052.69,1209.1 1053.17,1210.05 1053.64,1208.29 1054.11,1209.55 1054.59,1209.68 1055.06,1210.79 1055.54,1209.4 1056.01,1210 1056.48,1208.87 1056.96,1210.52 1057.43,1209.24 1057.9,1209.09 1058.38,1208.57 1058.85,1210.54 1059.33,1209.42 1059.8,1209.38 1060.27,1210.96 1060.75,1209.73 1061.22,1209.87 1061.69,1208.96 1062.17,1210.44 1062.64,1209.67 1063.11,1209.6 1063.59,1208.97 1064.06,1210.09 1064.54,1209.15 1065.01,1208.84 1065.48,1210.77 1065.96,1209.3 1066.43,1209.51 1066.9,1210.14 1067.38,1209.59 1067.85,1209.9 1068.32,1209.81 1068.8,1209.09 1069.27,1209.45 1069.75,1209.9 1070.22,1210.68 1070.69,1209.78 1071.17,1209.74 1071.64,1209.94 1072.11,1209.46 1072.59,1209.68 1073.06,1209.85 1073.54,1211 1074.01,1209.96 1074.48,1210.09 1074.96,1209.86 1075.43,1210.62 1075.9,1209.69 1076.38,1209.78 1076.85,1210.41 1077.32,1210.04 1077.8,1209.92 1078.27,1210.14 1078.75,1208.99 1079.22,1209.99 1079.69,1209.2 1080.17,1209.07 1080.64,1208.88 1081.11,1210.17 1081.59,1210.2 1082.06,1209.24 1082.53,1210.58 1083.01,1210.44 1083.48,1209.84 1083.96,1209.67 1084.43,1211.15 1084.9,1209.38 1085.38,1209.54 1085.85,1210.09 1086.32,1209.57 1086.8,1210.32 1087.27,1209.42 1087.75,1210.16 1088.22,1210.59 1088.69,1210.42 1089.17,1209.94 1089.64,1210.1 1090.11,1209.74 1090.59,1210.41 1091.06,1210.09 1091.53,1209.34 1092.01,1210.13 1092.48,1209.57 1092.96,1209.33 1093.43,1210.71 1093.9,1210.48 1094.38,1209.65 1094.85,1210.59 1095.32,1210.69 1095.8,1211.18 1096.27,1210.01 1096.74,1209.39 1097.22,1210.6 1097.69,1210.29 1098.17,1210.25 1098.64,1209.65 1099.11,1209.92 1099.59,1210.57 1100.06,1211.01 1100.53,1210.12 1101.01,1210.26 1101.48,1210.46 1101.96,1209.41 1102.43,1210.99 1102.9,1211.99 1103.38,1209.49 1103.85,1210.44 1104.32,1211.38 1104.8,1210.36 1105.27,1210.1 1105.74,1210.64 1106.22,1209.92 1106.69,1209.69 1107.17,1209.43 1107.64,1210.8 1108.11,1209.92 1108.59,1209.37 1109.06,1210.03 1109.53,1210.28 1110.01,1210.47 1110.48,1211.09 1110.95,1209.77 1111.43,1210.6 1111.9,1210.87 1112.38,1210.78 1112.85,1210.03 1113.32,1209.79 1113.8,1211.04 1114.27,1210.67 1114.74,1210.03 1115.22,1211.03 1115.69,1210.51 1116.17,1210.51 1116.64,1209.9 1117.11,1211.25 1117.59,1211.32 1118.06,1210.77 1118.53,1210.29 1119.01,1209.83 1119.48,1210.39 1119.95,1209.98 1120.43,1211.2 1120.9,1210.69 1121.38,1211.26 1121.85,1209.79 1122.32,1210.6 1122.8,1211.49 1123.27,1211.2 1123.74,1209.97 1124.22,1210.49 1124.69,1210.8 1125.16,1210.31 1125.64,1211.64 1126.11,1211.07 1126.59,1210.79 1127.06,1210.89 1127.53,1210.18 1128.01,1210.48 1128.48,1210.09 1128.95,1210.4 1129.43,1209.53 1129.9,1210.1 1130.38,1210.05 1130.85,1210.32 1131.32,1210.95 1131.8,1210.51 1132.27,1210.75 1132.74,1210.31 1133.22,1209.79 1133.69,1210 1134.16,1211.4 1134.64,1211.67 1135.11,1210.23 1135.59,1211.42 1136.06,1210.85 1136.53,1210.99 1137.01,1210.73 1137.48,1209.66 1137.95,1210.11 1138.43,1210.46 1138.9,1210.88 1139.37,1212.16 1139.85,1211.2 1140.32,1211.19 1140.8,1210.43 1141.27,1210.84 1141.74,1210.85 1142.22,1210.77 1142.69,1211.26 1143.16,1211.89 1143.64,1210.35 1144.11,1211.9 1144.59,1210.58 1145.06,1211.53 1145.53,1210.47 1146.01,1209.77 1146.48,1210.68 1146.95,1210.46 1147.43,1210.85 1147.9,1211.58 1148.37,1211.24 1148.85,1210.95 1149.32,1210.24 1149.8,1210.76 1150.27,1210.55 1150.74,1210.56 1151.22,1211.3 1151.69,1210.63 1152.16,1211.08 1152.64,1211 1153.11,1210.76 1153.59,1211.04 1154.06,1211.43 1154.53,1210.54 1155.01,1210.87 1155.48,1212.11 1155.95,1211.76 1156.43,1210.01 1156.9,1211.62 1157.37,1210.3 1157.85,1210.5 1158.32,1211.05 1158.8,1210.83 1159.27,1210.36 1159.74,1210.51 1160.22,1210.89 1160.69,1210.67 1161.16,1211.82 1161.64,1211.21 1162.11,1210.54 1162.58,1210.41 1163.06,1211.61 1163.53,1211.89 1164.01,1211.28 1164.48,1210.5 1164.95,1210.38 1165.43,1210.54 1165.9,1210.19 1166.37,1210.71 1166.85,1210.89 1167.32,1210.3 1167.8,1210.74 1168.27,1210.92 1168.74,1209.49 1169.22,1210.55 1169.69,1210.92 1170.16,1209.94 1170.64,1211.48 1171.11,1211.69 1171.58,1210.79 1172.06,1210.74 1172.53,1211.21 1173.01,1211.38 1173.48,1209.81 1173.95,1211.23 1174.43,1211.02 1174.9,1211.22 1175.37,1210.93 1175.85,1211.2 1176.32,1211.42 1176.79,1210.86 1177.27,1211.06 1177.74,1210.43 1178.22,1211.1 1178.69,1211.24 1179.16,1210.15 1179.64,1211.25 1180.11,1210.43 1180.58,1211.04 1181.06,1210.64 1181.53,1212.05 1182.01,1211.31 1182.48,1211.29 1182.95,1209.99 1183.43,1211.27 1183.9,1210.26 1184.37,1211.86 1184.85,1211.78 1185.32,1210.39 1185.79,1211.3 1186.27,1210.59 1186.74,1211.48 1187.22,1211.04 1187.69,1211.12 1188.16,1211.02 1188.64,1210.92 1189.11,1211 1189.58,1210.94 1190.06,1210.68 1190.53,1210.8 1191,1211.13 1191.48,1211.22 1191.95,1211.18 1192.43,1210.4 1192.9,1210.38 1193.37,1212.18 1193.85,1211 1194.32,1210.71 1194.79,1210.73 1195.27,1211.06 1195.74,1210.23 1196.22,1211.68 1196.69,1210.93 1197.16,1210.61 1197.64,1211.47 1198.11,1209.99 1198.58,1210.85 1199.06,1211.71 1199.53,1210.16 1200,1210.11 1200.48,1210.66 1200.95,1211.01 1201.43,1210.66 1201.9,1211.88 1202.37,1211.07 1202.85,1211.06 1203.32,1211.43 1203.79,1211.3 1204.27,1211.04 1204.74,1211.51 1205.21,1211.71 1205.69,1211.45 1206.16,1210.58 1206.64,1210.94 1207.11,1211.21 1207.58,1211.52 1208.06,1211.36 1208.53,1210.83 1209,1211.6 1209.48,1211.73 1209.95,1210.7 1210.43,1211.81 1210.9,1211.47 1211.37,1210.49 1211.85,1210.91 1212.32,1210.64 1212.79,1211.13 1213.27,1210.26 1213.74,1210.73 1214.21,1211.01 1214.69,1210.82 1215.16,1211.5 1215.64,1211.39 1216.11,1211.24 1216.58,1210.39 1217.06,1210.29 1217.53,1211.23 1218,1210.5 1218.48,1211.09 1218.95,1210.93 1219.42,1211.01 1219.9,1209.97 1220.37,1211.76 1220.85,1211.07 1221.32,1210.51 1221.79,1211.34 1222.27,1210.98 1222.74,1211.91 1223.21,1210.92 1223.69,1211.09 1224.16,1210.72 1224.64,1211.77 1225.11,1211.45 1225.58,1210.43 1226.06,1211.03 1226.53,1210.97 1227,1211.71 1227.48,1210.84 1227.95,1211.22 1228.42,1210.82 1228.9,1210.43 1229.37,1211.61 1229.85,1210.26 1230.32,1211.42 1230.79,1211.64 1231.27,1211.44 1231.74,1211.48 1232.21,1211.39 1232.69,1211.32 1233.16,1210.92 1233.63,1210.75 1234.11,1210.31 1234.58,1211.64 1235.06,1210.5 1235.53,1211.18 1236,1211.29 1236.48,1211.4 1236.95,1211.87 1237.42,1211.35 1237.9,1210.52 1238.37,1212 1238.85,1211.31 1239.32,1210.73 1239.79,1211.15 1240.27,1211.23 1240.74,1210.29 1241.21,1211.15 1241.69,1211.28 1242.16,1211.47 1242.63,1211.06 1243.11,1211.18 1243.58,1211 1244.06,1210.56 1244.53,1211.48 1245,1210.13 1245.48,1210.92 1245.95,1211.61 1246.42,1210.38 1246.9,1211.07 1247.37,1211.51 1247.84,1209.41 1248.32,1211.28 1248.79,1211.5 1249.27,1211.88 1249.74,1210.45 1250.21,1211.46 1250.69,1211.18 1251.16,1211.56 1251.63,1211.92 1252.11,1211.01 1252.58,1211.72 1253.06,1211.29 1253.53,1211.47 1254,1211 1254.48,1210.9 1254.95,1211.52 1255.42,1212.18 1255.9,1211.26 1256.37,1209.66 1256.84,1211.53 1257.32,1211.25 1257.79,1211.08 1258.27,1212.21 1258.74,1212.56 1259.21,1210.4 1259.69,1210.88 1260.16,1211.16 1260.63,1211.6 1261.11,1210.05 1261.58,1209.62 1262.06,1211.86 1262.53,1211.45 1263,1211.63 1263.48,1210.71 1263.95,1210.89 1264.42,1210.97 1264.9,1211.08 1265.37,1211.99 1265.84,1210.74 1266.32,1210.68 1266.79,1210.43 1267.27,1210.01 1267.74,1210.97 1268.21,1211.18 1268.69,1211.3 1269.16,1211.1 1269.63,1210.61 1270.11,1211.47 1270.58,1210.68 1271.05,1210.6 1271.53,1211.66 1272,1210.42 1272.48,1211.6 1272.95,1210.75 1273.42,1211.14 1273.9,1210.75 1274.37,1211.79 1274.84,1210.31 1275.32,1211.43 1275.79,1210.3 1276.27,1211.28 1276.74,1210.26 1277.21,1210.89 1277.69,1211.18 1278.16,1209.96 1278.63,1210.54 1279.11,1211.46 1279.58,1210.13 1280.05,1211.81 1280.53,1210.41 1281,1211.89 1281.48,1210.48 1281.95,1211.24 1282.42,1209.93 1282.9,1210.7 1283.37,1210.39 1283.84,1210.17 1284.32,1210.05 1284.79,1210.43 1285.26,1210.75 1285.74,1210.93 1286.21,1211.51 1286.69,1210.29 1287.16,1210.07 1287.63,1210.82 1288.11,1210.78 1288.58,1210.34 1289.05,1211.11 1289.53,1209.87 1290,1210.61 1290.48,1210.47 1290.95,1211.55 1291.42,1210.41 1291.9,1210.58 1292.37,1210.57 1292.84,1210.7 1293.32,1210.75 1293.79,1211.44 1294.26,1210.8 1294.74,1211.58 1295.21,1210.95 1295.69,1210.97 1296.16,1209.3 1296.63,1210.26 1297.11,1210.55 1297.58,1210.27 1298.05,1209.67 1298.53,1210.48 1299,1210.18 1299.47,1210.91 1299.95,1210.38 1300.42,1210.69 1300.9,1210.18 1301.37,1210.58 1301.84,1209.71 1302.32,1211.07 1302.79,1208.79 1303.26,1210.64 1303.74,1210.5 1304.21,1210.51 1304.69,1209.91 1305.16,1209.63 1305.63,1209.85 1306.11,1209.54 1306.58,1210.67 1307.05,1209.93 1307.53,1209.29 1308,1210.96 1308.47,1210.59 1308.95,1210.15 1309.42,1209.69 1309.9,1209.84 1310.37,1210.7 1310.84,1210.4 1311.32,1209.44 1311.79,1210.05 1312.26,1210.67 1312.74,1210.77 1313.21,1210.67 1313.68,1209.8 1314.16,1210.5 1314.63,1210.52 1315.11,1210.28 1315.58,1211.55 1316.05,1208.33 1316.53,1209.6 1317,1210.04 1317.47,1210.51 1317.95,1210.22 1318.42,1209.33 1318.9,1209.25 1319.37,1210.33 1319.84,1210.37 1320.32,1210.26 1320.79,1209.79 1321.26,1209.72 1321.74,1210.01 1322.21,1210.08 1322.68,1209.63 1323.16,1210.52 1323.63,1209.51 1324.11,1210.89 1324.58,1210.07 1325.05,1210.33 1325.53,1208.79 1326,1210.46 1326.47,1210.33 1326.95,1209.81 1327.42,1210.19 1327.89,1210.42 1328.37,1210.02 1328.84,1209.16 1329.32,1210.05 1329.79,1210.16 1330.26,1210.31 1330.74,1209.77 1331.21,1209.56 1331.68,1209.74 1332.16,1209.03 1332.63,1209.85 1333.11,1209.86 1333.58,1209.95 1334.05,1209.08 1334.53,1210.12 1335,1209.32 1335.47,1209.56 1335.95,1209.45 1336.42,1210.15 1336.89,1210.64 1337.37,1209.99 1337.84,1209.61 1338.32,1209.04 1338.79,1209.16 1339.26,1209.93 1339.74,1210.42 1340.21,1209.71 1340.68,1208.58 1341.16,1208.69 1341.63,1211.43 1342.1,1208.74 1342.58,1209.55 1343.05,1209.21 1343.53,1208.57 1344,1209.16 1344.47,1210.05 1344.95,1209.96 1345.42,1208.97 1345.89,1210.22 1346.37,1209.96 1346.84,1209.72 1347.32,1209.94 1347.79,1209.86 1348.26,1210.61 1348.74,1209.25 1349.21,1209.49 1349.68,1209.8 1350.16,1209.86 1350.63,1209.94 1351.1,1210.87 1351.58,1209.86 1352.05,1209.62 1352.53,1209.1 1353,1209.83 1353.47,1209.24 1353.95,1208.87 1354.42,1208.98 1354.89,1210.08 1355.37,1208.79 1355.84,1208.36 1356.31,1209.52 1356.79,1210.1 1357.26,1209.75 1357.74,1209.44 1358.21,1208.53 1358.68,1209.27 1359.16,1208.45 1359.63,1208.14 1360.1,1209.81 1360.58,1209.85 1361.05,1208.55 1361.53,1208.83 1362,1209.1 1362.47,1209.29 1362.95,1209.32 1363.42,1208.97 1363.89,1207.86 1364.37,1209.79 1364.84,1209.76 1365.31,1209.09 1365.79,1207.7 1366.26,1209.58 1366.74,1209.64 1367.21,1209.99 1367.68,1209.43 1368.16,1210.11 1368.63,1210.05 1369.1,1209.45 1369.58,1208.86 1370.05,1208.13 1370.52,1209.51 1371,1208.91 1371.47,1208.13 1371.95,1209.91 1372.42,1209.12 1372.89,1209.2 1373.37,1209.55 1373.84,1209.25 1374.31,1208.9 1374.79,1209.65 1375.26,1209.68 1375.74,1208.64 1376.21,1209.47 1376.68,1209.7 1377.16,1209.12 1377.63,1208.98 1378.1,1209.89 1378.58,1208.04 1379.05,1209.24 1379.52,1209.13 1380,1209.38 1380.47,1209.24 1380.95,1209.85 1381.42,1208.2 1381.89,1209.63 1382.37,1208.09 1382.84,1209.83 1383.31,1208.97 1383.79,1208.65 1384.26,1209.27 1384.74,1209.13 1385.21,1209.1 1385.68,1209.69 1386.16,1208.85 1386.63,1210.23 1387.1,1209.08 1387.58,1207.91 1388.05,1208.45 1388.52,1208.5 1389,1209.12 1389.47,1208.34 1389.95,1209.32 1390.42,1209.26 1390.89,1209.28 1391.37,1210.64 1391.84,1208.77 1392.31,1208.64 1392.79,1208.81 1393.26,1209.75 1393.73,1208.69 1394.21,1208.24 1394.68,1210.03 1395.16,1210.07 1395.63,1208.7 1396.1,1209.29 1396.58,1209.25 1397.05,1209.38 1397.52,1208.28 1398,1210.14 1398.47,1209.13 1398.95,1208.41 1399.42,1209.33 1399.89,1209.21 1400.37,1208.41 1400.84,1209.88 1401.31,1208.65 1401.79,1208.31 1402.26,1208.59 1402.73,1208.29 1403.21,1208.18 1403.68,1208.87 1404.16,1207.75 1404.63,1208.6 1405.1,1207.29 1405.58,1208.98 1406.05,1210.04 1406.52,1208.81 1407,1208 1407.47,1207.7 1407.94,1208.45 1408.42,1208.04 1408.89,1208.74 1409.37,1209.36 1409.84,1208.45 1410.31,1209.08 1410.79,1208.93 1411.26,1207.97 1411.73,1208.55 1412.21,1208.86 1412.68,1208.85 1413.16,1209.7 1413.63,1208.68 1414.1,1208.78 1414.58,1209.68 1415.05,1208.36 1415.52,1207.63 1416,1208.72 1416.47,1208.42 1416.94,1207.55 1417.42,1208.96 1417.89,1208.11 1418.37,1208.4 1418.84,1209.54 1419.31,1208.93 1419.79,1208.54 1420.26,1208.29 1420.73,1208.58 1421.21,1208.22 1421.68,1208.61 1422.15,1209.34 1422.63,1207.48 1423.1,1207.62 1423.58,1208.77 1424.05,1208.85 1424.52,1208.16 1425,1209.18 1425.47,1208.88 1425.94,1209.6 1426.42,1208.71 1426.89,1208.51 1427.37,1209.14 1427.84,1208.48 1428.31,1209.22 1428.79,1208.7 1429.26,1207.28 1429.73,1209.05 1430.21,1207.66 1430.68,1208.61 1431.15,1208.35 1431.63,1208.63 1432.1,1208.87 1432.58,1207.98 1433.05,1209.83 1433.52,1208.32 1434,1208.25 1434.47,1208.55 1434.94,1208.79 1435.42,1208.4 1435.89,1208.3 1436.36,1208.17 1436.84,1209.13 1437.31,1208.74 1437.79,1207.55 1438.26,1207.86 1438.73,1208.45 1439.21,1208.2 1439.68,1208.94 1440.15,1207.44 1440.63,1208.83 1441.1,1207.37 1441.58,1208.14 1442.05,1208.76 1442.52,1208.63 1443,1208.28 1443.47,1208.55 1443.94,1208.16 1444.42,1208.03 1444.89,1208.39 1445.36,1208.34 1445.84,1209.04 1446.31,1206.93 1446.79,1208.45 1447.26,1208.45 1447.73,1207.93 1448.21,1207.64 1448.68,1209.24 1449.15,1208 1449.63,1207.82 1450.1,1206.79 1450.57,1207.83 1451.05,1208.42 1451.52,1207.08 1452,1207.91 1452.47,1207.72 1452.94,1208.12 1453.42,1208.27 1453.89,1207.72 1454.36,1209.21 1454.84,1207.9 1455.31,1208.52 1455.79,1208.07 1456.26,1208.48 1456.73,1208.08 1457.21,1208.26 1457.68,1208.74 1458.15,1208.68 1458.63,1208.74 1459.1,1207.69 1459.57,1209.24 1460.05,1207.43 1460.52,1208.16 1461,1207.51 1461.47,1208.17 1461.94,1207.86 1462.42,1208.29 1462.89,1207.54 1463.36,1208.4 1463.84,1208.1 1464.31,1208.64 1464.78,1209.66 1465.26,1208.06 1465.73,1208.47 1466.21,1207.22 1466.68,1209.4 1467.15,1208.16 1467.63,1208.66 1468.1,1208.47 1468.57,1207.92 1469.05,1206.83 1469.52,1208.15 1470,1208.07 1470.47,1208.17 1470.94,1208.01 1471.42,1207.7 1471.89,1207.97 1472.36,1208.31 1472.84,1207.12 1473.31,1208 1473.78,1207.61 1474.26,1207.59 1474.73,1208 1475.21,1209.23 1475.68,1208.04 1476.15,1208.17 1476.63,1207.12 1477.1,1206.71 1477.57,1208.99 1478.05,1207.85 1478.52,1207.65 1478.99,1207.17 1479.47,1208.41 1479.94,1207.98 1480.42,1208.31 1480.89,1207.33 1481.36,1207.35 1481.84,1208.23 1482.31,1208.22 1482.78,1207.29 1483.26,1208.31 1483.73,1207.87 1484.21,1207.97 1484.68,1207.9 1485.15,1207.89 1485.63,1208.18 1486.1,1208.04 1486.57,1207.18 1487.05,1207.59 1487.52,1207.68 1487.99,1207.7 1488.47,1206.99 1488.94,1207.36 1489.42,1207.65 1489.89,1207.79 1490.36,1207.97 1490.84,1207.85 1491.31,1207.58 1491.78,1207.81 1492.26,1208.07 1492.73,1207.47 1493.21,1207.83 1493.68,1208.2 1494.15,1207.96 1494.63,1207.96 1495.1,1207.72 1495.57,1207.05 1496.05,1207.46 1496.52,1207.8 1496.99,1207.97 1497.47,1207.16 1497.94,1207.8 1498.42,1208.56 1498.89,1207.77 1499.36,1208.44 1499.84,1208.16 1500.31,1208.1 1500.78,1208 1501.26,1207.76 1501.73,1207.44 1502.2,1206.69 1502.68,1207.32 1503.15,1207.95 1503.63,1207.5 1504.1,1208.06 1504.57,1208.09 1505.05,1208.47 1505.52,1206.89 1505.99,1208.14 1506.47,1207.05 1506.94,1208.14 1507.42,1208.17 1507.89,1206.76 1508.36,1207.61 1508.84,1207.94 1509.31,1207.15 1509.78,1207.38 1510.26,1207.01 1510.73,1207.67 1511.2,1207.85 1511.68,1208.62 1512.15,1206.32 1512.63,1207.2 1513.1,1208.53 1513.57,1207.25 1514.05,1208.45 1514.52,1207.07 1514.99,1207.86 1515.47,1208.1 1515.94,1206.18 1516.41,1207.83 1516.89,1207.8 1517.36,1207.21 1517.84,1207.87 1518.31,1207.52 1518.78,1206.68 1519.26,1207.47 1519.73,1207.68 1520.2,1206.86 1520.68,1207.69 1521.15,1206.95 1521.63,1207.92 1522.1,1206.37 1522.57,1207.28 1523.05,1207.74 1523.52,1207.18 1523.99,1207.16 1524.47,1207.67 1524.94,1207.36 1525.41,1207.71 1525.89,1207.91 1526.36,1207.19 1526.84,1207.9 1527.31,1208.71 1527.78,1207.41 1528.26,1208.34 1528.73,1206.42 1529.2,1207.02 1529.68,1206.52 1530.15,1207.18 1530.62,1207.51 1531.1,1207.47 1531.57,1207.21 1532.05,1207.46 1532.52,1208.72 1532.99,1207.22 1533.47,1208.29 1533.94,1207.34 1534.41,1208.12 1534.89,1207.13 1535.36,1207.36 1535.84,1207.16 1536.31,1206.95 1536.78,1207.86 1537.26,1207.43 1537.73,1207.03 1538.2,1207.66 1538.68,1207.4 1539.15,1206.06 1539.62,1207.67 1540.1,1207.4 1540.57,1207.44 1541.05,1207.79 1541.52,1206.11 1541.99,1207.9 1542.47,1206.7 1542.94,1207.23 1543.41,1208.25 1543.89,1206.96 1544.36,1206.92 1544.83,1206.81 1545.31,1207.35 1545.78,1207.47 1546.26,1207.82 1546.73,1208.18 1547.2,1207.11 1547.68,1207.5 1548.15,1206.82 1548.62,1206.9 1549.1,1206.63 1549.57,1207.2 1550.05,1207.12 1550.52,1207.74 1550.99,1206.58 1551.47,1207.77 1551.94,1208.37 1552.41,1207 1552.89,1205.77 1553.36,1207.87 1553.83,1207.59 1554.31,1207.22 1554.78,1206.51 1555.26,1206.6 1555.73,1206.32 1556.2,1207.42 1556.68,1207.56 1557.15,1207.49 1557.62,1207.05 1558.1,1207.55 1558.57,1206.78 1559.04,1207.51 1559.52,1207.02 1559.99,1205.54 1560.47,1207.92 1560.94,1207.04 1561.41,1207.14 1561.89,1206.81 1562.36,1207.05 1562.83,1207.66 1563.31,1207.35 1563.78,1205.92 1564.26,1207.58 1564.73,1206.63 1565.2,1207.32 1565.68,1206.43 1566.15,1207.45 1566.62,1207.64 1567.1,1207.63 1567.57,1206.62 1568.04,1205.27 1568.52,1206.83 1568.99,1207.42 1569.47,1206.61 1569.94,1206.84 1570.41,1207.44 1570.89,1206.86 1571.36,1206.84 1571.83,1206.42 1572.31,1206.87 1572.78,1207.04 1573.25,1207.11 1573.73,1206.55 1574.2,1207.11 1574.68,1206.5 1575.15,1207.02 1575.62,1207.11 1576.1,1207.37 1576.57,1208.07 1577.04,1206.76 1577.52,1206.38 1577.99,1206.83 1578.47,1207.23 1578.94,1206.25 1579.41,1207.05 1579.89,1207.73 1580.36,1206.73 1580.83,1206.45 1581.31,1206.76 1581.78,1207.11 1582.25,1206.8 1582.73,1207.58 1583.2,1205.63 1583.68,1206.48 1584.15,1205.98 1584.62,1207.16 1585.1,1206.09 1585.57,1207.4 1586.04,1206.37 1586.52,1207.13 1586.99,1207.23 1587.46,1207.84 1587.94,1207.37 1588.41,1206.73 1588.89,1207.01 1589.36,1206.46 1589.83,1206.98 1590.31,1207.22 1590.78,1206.68 1591.25,1207.12 1591.73,1206.85 1592.2,1206.82 1592.68,1206.89 1593.15,1206.95 1593.62,1206.14 1594.1,1205.71 1594.57,1207.37 1595.04,1206.78 1595.52,1205.59 1595.99,1206.85 1596.46,1206.95 1596.94,1206.07 1597.41,1205.6 1597.89,1206.31 1598.36,1206.61 1598.83,1206.42 1599.31,1207.07 1599.78,1205.12 1600.25,1206.58 1600.73,1205.95 1601.2,1205.41 1601.67,1207.09 1602.15,1205.58 1602.62,1205.97 1603.1,1205.99 1603.57,1207.22 1604.04,1206.21 1604.52,1205.73 1604.99,1207.16 1605.46,1204.89 1605.94,1206.72 1606.41,1207.17 1606.89,1206.19 1607.36,1206.35 1607.83,1206.18 1608.31,1206.28 1608.78,1205.99 1609.25,1205.71 1609.73,1206.22 1610.2,1205.01 1610.67,1205.02 1611.15,1206.34 1611.62,1205.38 1612.1,1206.15 1612.57,1206.49 1613.04,1204.98 1613.52,1205.41 1613.99,1206.22 1614.46,1206.64 1614.94,1205.87 1615.41,1205.84 1615.89,1206.72 1616.36,1205.89 1616.83,1205.77 1617.31,1205.29 1617.78,1205.94 1618.25,1206.24 1618.73,1206.09 1619.2,1205.99 1619.67,1205.94 1620.15,1205.76 1620.62,1206.04 1621.1,1205.84 1621.57,1207.01 1622.04,1206.66 1622.52,1204.81 1622.99,1205.51 1623.46,1205.21 1623.94,1205.25 1624.41,1206.61 1624.88,1205.83 1625.36,1204.26 1625.83,1206.61 1626.31,1205.78 1626.78,1206.11 1627.25,1206.24 1627.73,1205.8 1628.2,1205.73 1628.67,1204.68 1629.15,1205.26 1629.62,1205.29 1630.1,1206.34 1630.57,1205.56 1631.04,1206.16 1631.52,1206.25 1631.99,1206.16 1632.46,1205.59 1632.94,1206.5 1633.41,1205.06 1633.88,1206.79 1634.36,1204.98 1634.83,1205.55 1635.31,1206.35 1635.78,1205.56 1636.25,1205.16 1636.73,1206.51 1637.2,1205.68 1637.67,1204.78 1638.15,1205.23 1638.62,1205.9 1639.09,1205.32 1639.57,1206.29 1640.04,1207 1640.52,1205.94 1640.99,1205.57 1641.46,1206.06 1641.94,1205.95 1642.41,1206.07 1642.88,1206.02 1643.36,1205.09 1643.83,1207.15 1644.31,1205.11 1644.78,1206.5 1645.25,1205.69 1645.73,1205.48 1646.2,1204.51 1646.67,1204.78 1647.15,1206.24 1647.62,1206.46 1648.09,1205.09 1648.57,1205.3 1649.04,1205.23 1649.52,1205.79 1649.99,1205.76 1650.46,1205.89 1650.94,1205.29 1651.41,1205.4 1651.88,1204.27 1652.36,1203.96 1652.83,1205.96 1653.3,1205.62 1653.78,1205.55 1654.25,1205.97 1654.73,1205.44 1655.2,1206.08 1655.67,1205.44 1656.15,1205.8 1656.62,1205.23 1657.09,1205.24 1657.57,1205.86 1658.04,1205.51 1658.52,1205.08 1658.99,1203.91 1659.46,1206.81 1659.94,1206.42 1660.41,1204.72 1660.88,1205.58 1661.36,1204.94 1661.83,1204.49 1662.3,1204.62 1662.78,1204.99 1663.25,1205.26 1663.73,1204.3 1664.2,1205.44 1664.67,1205.68 1665.15,1204.69 1665.62,1206.09 1666.09,1205.58 1666.57,1205.5 1667.04,1205.25 1667.51,1205.64 1667.99,1206.23 1668.46,1204.93 1668.94,1204.54 1669.41,1205.05 1669.88,1206.22 1670.36,1206.61 1670.83,1205.78 1671.3,1204.56 1671.78,1204.51 1672.25,1205.04 1672.73,1204.93 1673.2,1204.26 1673.67,1204.8 1674.15,1205.64 1674.62,1206.17 1675.09,1205.3 1675.57,1205.5 1676.04,1205.84 1676.51,1205.25 1676.99,1205.42 1677.46,1205.15 1677.94,1205.71 1678.41,1205.1 1678.88,1204.78 1679.36,1205.73 1679.83,1205.6 1680.3,1206.25 1680.78,1206.06 1681.25,1204.52 1681.72,1206.33 1682.2,1205.12 1682.67,1205.1 1683.15,1205.96 1683.62,1205.65 1684.09,1205.47 1684.57,1204.52 1685.04,1205.39 1685.51,1205.42 1685.99,1205.92 1686.46,1205.77 1686.94,1204.75 1687.41,1206.16 1687.88,1206.36 1688.36,1204.47 1688.83,1205.82 1689.3,1204.32 1689.78,1204.44 1690.25,1205.49 1690.72,1204.83 1691.2,1204.98 1691.67,1206 1692.15,1205.19 1692.62,1205.66 1693.09,1204.49 1693.57,1205.39 1694.04,1205.84 1694.51,1205.6 1694.99,1204.17 1695.46,1204.45 1695.93,1204.7 1696.41,1204.17 1696.88,1204.75 1697.36,1205.03 1697.83,1206.02 1698.3,1205.05 1698.78,1204.96 1699.25,1205.21 1699.72,1204.64 1700.2,1206.1 1700.67,1205.18 1701.15,1204.36 1701.62,1204.45 1702.09,1205.5 1702.57,1205.37 1703.04,1203.67 1703.51,1205.59 1703.99,1205.12 1704.46,1204.69 1704.93,1203.94 1705.41,1204.93 1705.88,1205.42 1706.36,1205 1706.83,1204.95 1707.3,1205.03 1707.78,1204.65 1708.25,1205.12 1708.72,1205.4 1709.2,1205.22 1709.67,1205.24 1710.14,1206.07 1710.62,1204.62 1711.09,1205.26 1711.57,1205.57 1712.04,1205.33 1712.51,1204.15 1712.99,1205.01 1713.46,1205.5 1713.93,1204.78 1714.41,1204.7 1714.88,1204.9 1715.36,1205.14 1715.83,1205.35 1716.3,1205.38 1716.78,1204.86 1717.25,1204.6 1717.72,1205.1 1718.2,1205.08 1718.67,1205.27 1719.14,1205.26 1719.62,1205.92 1720.09,1204.48 1720.57,1204.44 1721.04,1205.54 1721.51,1204.29 1721.99,1204.7 1722.46,1204.89 1722.93,1205.22 1723.41,1204.87 1723.88,1204.47 1724.36,1205.19 1724.83,1204.8 1725.3,1205.33 1725.78,1204.9 1726.25,1205.6 1726.72,1204.71 1727.2,1205.1 1727.67,1205.25 1728.14,1206.15 1728.62,1204.25 1729.09,1204.99 1729.57,1205.15 1730.04,1205.28 1730.51,1205.1 1730.99,1203.91 1731.46,1204.37 1731.93,1204.78 1732.41,1206.39 1732.88,1205.55 1733.35,1204.32 1733.83,1205.11 1734.3,1204.73 1734.78,1204.43 1735.25,1205.17 1735.72,1204.55 1736.2,1205.18 1736.67,1203.51 1737.14,1204.91 1737.62,1204.65 1738.09,1203.74 1738.57,1204.61 1739.04,1204.13 1739.51,1205.13 1739.99,1204.42 1740.46,1204.86 1740.93,1205.73 1741.41,1204.41 1741.88,1204.76 1742.35,1204.16 1742.83,1205.05 1743.3,1204.24 1743.78,1204.55 1744.25,1204.55 1744.72,1204.19 1745.2,1204.75 1745.67,1204.84 1746.14,1205.69 1746.62,1205.02 1747.09,1204.89 1747.56,1203.7 1748.04,1203.69 1748.51,1204.1 1748.99,1204.96 1749.46,1205.38 1749.93,1205 1750.41,1205.59 1750.88,1204.44 1751.35,1204.45 1751.83,1205.29 1752.3,1204.09 1752.78,1203.94 1753.25,1205.31 1753.72,1204.4 1754.2,1204.05 1754.67,1204.41 1755.14,1205.2 1755.62,1204.74 1756.09,1204.04 1756.56,1203.04 1757.04,1204.64 1757.51,1205.31 1757.99,1205.06 1758.46,1205.37 1758.93,1204.79 1759.41,1204.8 1759.88,1204.83 1760.35,1204.11 1760.83,1204.53 1761.3,1204.51 1761.77,1204.56 1762.25,1204.4 1762.72,1204.87 1763.2,1203.85 1763.67,1205.39 1764.14,1204.09 1764.62,1205.46 1765.09,1204.49 1765.56,1204.21 1766.04,1205.13 1766.51,1204.47 1766.99,1204.74 1767.46,1204.57 1767.93,1203.53 1768.41,1203.62 1768.88,1204.58 1769.35,1204.55 1769.83,1204.52 1770.3,1204.9 1770.77,1204.52 1771.25,1205.04 1771.72,1204.16 1772.2,1204.93 1772.67,1205.37 1773.14,1203.19 1773.62,1204.24 1774.09,1204.78 1774.56,1205.2 1775.04,1204.52 1775.51,1204.53 1775.98,1204.94 1776.46,1205.11 1776.93,1204.46 1777.41,1204.4 1777.88,1204.35 1778.35,1205.5 1778.83,1204.04 1779.3,1203.9 1779.77,1204.04 1780.25,1204.48 1780.72,1204.95 1781.2,1203.54 1781.67,1203.95 1782.14,1204.56 1782.62,1204.74 1783.09,1203.76 1783.56,1202.42 1784.04,1203.97 1784.51,1204.6 1784.98,1203.66 1785.46,1203.52 1785.93,1204.31 1786.41,1203.57 1786.88,1204.31 1787.35,1203.82 1787.83,1204.66 1788.3,1203.97 1788.77,1203.6 1789.25,1203.81 1789.72,1203.81 1790.19,1203.64 1790.67,1204.21 1791.14,1203.43 1791.62,1203.85 1792.09,1203.29 1792.56,1204.05 1793.04,1202.38 1793.51,1204.7 1793.98,1203.63 1794.46,1202.88 1794.93,1203.72 1795.41,1204.44 1795.88,1204.22 1796.35,1204.03 1796.83,1203.46 1797.3,1203.65 1797.77,1203.27 1798.25,1203.21 1798.72,1204.68 1799.19,1203.75 1799.67,1205.04 1800.14,1203.47 1800.62,1204.74 1801.09,1204.04 1801.56,1203.67 1802.04,1204.24 1802.51,1203.18 1802.98,1204.4 1803.46,1204.26 1803.93,1204.15 1804.4,1204.16 1804.88,1203.32 1805.35,1203.74 1805.83,1204.1 1806.3,1204.44 1806.77,1203.34 1807.25,1204.29 1807.72,1204.33 1808.19,1203.49 1808.67,1203.12 1809.14,1203.45 1809.62,1203.69 1810.09,1203.1 1810.56,1204.15 1811.04,1205.11 1811.51,1204.73 1811.98,1204.65 1812.46,1203.87 1812.93,1202.82 1813.4,1203.47 1813.88,1203.83 1814.35,1203.32 1814.83,1203.49 1815.3,1203.01 1815.77,1203.63 1816.25,1204.2 1816.72,1203.72 1817.19,1203.48 1817.67,1203.95 1818.14,1204 1818.61,1204.32 1819.09,1203.04 1819.56,1201.8 1820.04,1203.18 1820.51,1202.88 1820.98,1203.91 1821.46,1202.41 1821.93,1202.08 1822.4,1202.88 1822.88,1203.78 1823.35,1202.49 1823.83,1203.28 1824.3,1203.1 1824.77,1204.14 1825.25,1203.71 1825.72,1203.58 1826.19,1202.41 1826.67,1203.67 1827.14,1203.08 1827.61,1202.97 1828.09,1203.46 1828.56,1203.64 1829.04,1203.57 1829.51,1202.76 1829.98,1202.48 1830.46,1203.11 1830.93,1202.58 1831.4,1203.24 1831.88,1202.78 1832.35,1202.82 1832.82,1204.37 1833.3,1202.55 1833.77,1202.52 1834.25,1203.78 1834.72,1202.37 1835.19,1203.74 1835.67,1203.04 1836.14,1203.06 1836.61,1203.33 1837.09,1202.51 1837.56,1202.24 1838.04,1202.94 1838.51,1203.83 1838.98,1202.94 1839.46,1202.81 1839.93,1201.99 1840.4,1202.78 1840.88,1202.48 1841.35,1202.77 1841.82,1202.19 1842.3,1201.15 1842.77,1203.12 1843.25,1201.62 1843.72,1202.84 1844.19,1202.32 1844.67,1203.4 1845.14,1202.02 1845.61,1202.54 1846.09,1202.96 1846.56,1201.38 1847.04,1201.53 1847.51,1202.53 1847.98,1201.73 1848.46,1202.81 1848.93,1201.74 1849.4,1202.56 1849.88,1202.39 1850.35,1202.52 1850.82,1201.19 1851.3,1200.89 1851.77,1202.12 1852.25,1201.88 1852.72,1202.44 1853.19,1202.46 1853.67,1201.8 1854.14,1201.31 1854.61,1201.84 1855.09,1202.23 1855.56,1200.88 1856.03,1201.49 1856.51,1201.92 1856.98,1201.9 1857.46,1200.77 1857.93,1201.39 1858.4,1201.69 1858.88,1202.36 1859.35,1202.06 1859.82,1202.37 1860.3,1202.61 1860.77,1201.54 1861.25,1200.93 1861.72,1201.23 1862.19,1201.38 1862.67,1200.31 1863.14,1201.08 1863.61,1201.58 1864.09,1200.79 1864.56,1200.3 1865.03,1201.26 1865.51,1200.22 1865.98,1201.31 1866.46,1201.17 1866.93,1200.82 1867.4,1202.12 1867.88,1201.11 1868.35,1202.11 1868.82,1200.53 1869.3,1200.43 1869.77,1201.72 1870.24,1200.89 1870.72,1201.78 1871.19,1201.02 1871.67,1200.77 1872.14,1200.43 1872.61,1201.28 1873.09,1200.39 1873.56,1200.93 1874.03,1200.09 1874.51,1199.51 1874.98,1199.26 1875.46,1200.01 1875.93,1200.67 1876.4,1200.76 1876.88,1200.38 1877.35,1199.96 1877.82,1201.06 1878.3,1200.89 1878.77,1199.73 1879.24,1200.22 1879.72,1200.91 1880.19,1200.71 1880.67,1199.42 1881.14,1199.74 1881.61,1200.09 1882.09,1200.55 1882.56,1199.54 1883.03,1198.84 1883.51,1199.99 1883.98,1199.04 1884.45,1199.47 1884.93,1200.14 1885.4,1200.89 1885.88,1200.14 1886.35,1200.21 1886.82,1201.43 1887.3,1199.87 1887.77,1198.98 1888.24,1200.14 1888.72,1198.98 1889.19,1201.08 1889.67,1199.66 1890.14,1198.33 1890.61,1198.76 1891.09,1199.77 1891.56,1199.78 1892.03,1199.38 1892.51,1200.1 1892.98,1199.39 1893.45,1200.23 1893.93,1198.7 1894.4,1198.36 1894.88,1197.77 1895.35,1199.09 1895.82,1198.78 1896.3,1199.06 1896.77,1198.79 1897.24,1198.41 1897.72,1198.35 1898.19,1198.51 1898.66,1197.89 1899.14,1199.67 1899.61,1198.23 1900.09,1198.35 1900.56,1198.31 1901.03,1197.29 1901.51,1198.94 1901.98,1197.47 1902.45,1196.94 1902.93,1197.41 1903.4,1197.98 1903.88,1197.87 1904.35,1198.82 1904.82,1198.3 1905.3,1198.41 1905.77,1197.85 1906.24,1198.4 1906.72,1197.31 1907.19,1197.55 1907.66,1198.37 1908.14,1197.19 1908.61,1197.72 1909.09,1197.8 1909.56,1197.42 1910.03,1197.32 1910.51,1197.73 1910.98,1196.75 1911.45,1198.1 1911.93,1197.88 1912.4,1196.23 1912.87,1197.04 1913.35,1197.25 1913.82,1196.47 1914.3,1198.26 1914.77,1197.45 1915.24,1196.93 1915.72,1196.93 1916.19,1195.16 1916.66,1196.46 1917.14,1196.63 1917.61,1196.5 1918.09,1196.23 1918.56,1196.94 1919.03,1196.15 1919.51,1196.47 1919.98,1196.81 1920.45,1196.94 1920.93,1195.55 1921.4,1196.24 1921.87,1196.31 1922.35,1196.95 1922.82,1196.22 1923.3,1196.82 1923.77,1196.14 1924.24,1196.01 1924.72,1195.96 1925.19,1194.77 1925.66,1195.93 1926.14,1195.03 1926.61,1196.5 1927.08,1195.79 1927.56,1195.31 1928.03,1196.01 1928.51,1196.01 1928.98,1196.91 1929.45,1194.95 1929.93,1195.99 1930.4,1196.65 1930.87,1194.94 1931.35,1195.95 1931.82,1195.17 1932.3,1195.48 1932.77,1194.99 1933.24,1194.98 1933.72,1195.08 1934.19,1194.75 1934.66,1194.66 1935.14,1195.66 1935.61,1194.96 1936.08,1195.26 1936.56,1195.32 1937.03,1194.35 1937.51,1193.55 1937.98,1195.39 1938.45,1194.93 1938.93,1194.29 1939.4,1195.02 1939.87,1194.3 1940.35,1194.91 1940.82,1194.24 1941.29,1194.06 1941.77,1193.93 1942.24,1193.95 1942.72,1192.48 1943.19,1193.55 1943.66,1192.86 1944.14,1193.68 1944.61,1193.26 1945.08,1194.72 1945.56,1194.07 1946.03,1194.62 1946.51,1191.86 1946.98,1193.8 1947.45,1193.01 1947.93,1194.05 1948.4,1194.19 1948.4,1260.21 1947.93,1260.86 1947.45,1260.05 1946.98,1259.78 1946.51,1260.38 1946.03,1259.47 1945.56,1260.22 1945.08,1259.66 1944.61,1259.97 1944.14,1260.15 1943.66,1259.58 1943.19,1260.07 1942.72,1259.98 1942.24,1259.97 1941.77,1259.74 1941.29,1259.8 1940.82,1258.21 1940.35,1259.64 1939.87,1259.51 1939.4,1259.56 1938.93,1258.89 1938.45,1259.04 1937.98,1259.66 1937.51,1257.16 1937.03,1258.71 1936.56,1259.14 1936.08,1258.68 1935.61,1258.67 1935.14,1260.51 1934.66,1258.41 1934.19,1258.89 1933.72,1258.2 1933.24,1259.4 1932.77,1259.65 1932.3,1258.9 1931.82,1257.81 1931.35,1259.04 1930.87,1258.27 1930.4,1258.73 1929.93,1258.49 1929.45,1259.47 1928.98,1258.74 1928.51,1259.4 1928.03,1258.75 1927.56,1257.9 1927.08,1258.4 1926.61,1258.1 1926.14,1258.39 1925.66,1258.43 1925.19,1258.67 1924.72,1258.36 1924.24,1257.14 1923.77,1258.51 1923.3,1259.18 1922.82,1257.66 1922.35,1258.17 1921.87,1258.01 1921.4,1257.6 1920.93,1257.51 1920.45,1258.45 1919.98,1258.6 1919.51,1257.36 1919.03,1257.61 1918.56,1256.74 1918.09,1256.94 1917.61,1257.7 1917.14,1256.9 1916.66,1258.24 1916.19,1258 1915.72,1257.02 1915.24,1256.32 1914.77,1256.04 1914.3,1257.51 1913.82,1256.53 1913.35,1257.78 1912.87,1257.09 1912.4,1257.59 1911.93,1256.73 1911.45,1257.35 1910.98,1257.54 1910.51,1256.3 1910.03,1256.88 1909.56,1257.35 1909.09,1256.52 1908.61,1256.97 1908.14,1256.62 1907.66,1257.26 1907.19,1256.4 1906.72,1256.81 1906.24,1255.95 1905.77,1255.9 1905.3,1256.63 1904.82,1256.36 1904.35,1256.24 1903.88,1255.97 1903.4,1255.65 1902.93,1256.11 1902.45,1255.86 1901.98,1256.17 1901.51,1256.05 1901.03,1255.04 1900.56,1255.74 1900.09,1255.76 1899.61,1255.93 1899.14,1255.01 1898.66,1256.48 1898.19,1254.96 1897.72,1254.77 1897.24,1254.97 1896.77,1254.62 1896.3,1255.65 1895.82,1255.51 1895.35,1256.14 1894.88,1254.91 1894.4,1255.43 1893.93,1254.81 1893.45,1255.73 1892.98,1255.51 1892.51,1255.04 1892.03,1255 1891.56,1255.33 1891.09,1254.9 1890.61,1254.93 1890.14,1254.11 1889.67,1254.36 1889.19,1254.33 1888.72,1255.83 1888.24,1255.12 1887.77,1255.46 1887.3,1254.36 1886.82,1255.03 1886.35,1254.76 1885.88,1254.36 1885.4,1255.46 1884.93,1254.07 1884.45,1254.38 1883.98,1254.66 1883.51,1255.35 1883.03,1255.26 1882.56,1254.3 1882.09,1254.6 1881.61,1254.24 1881.14,1253.54 1880.67,1254.34 1880.19,1254.49 1879.72,1253.91 1879.24,1254.83 1878.77,1254.64 1878.3,1254.27 1877.82,1254.01 1877.35,1254.16 1876.88,1254.24 1876.4,1254.09 1875.93,1254.21 1875.46,1254.06 1874.98,1253.94 1874.51,1255.04 1874.03,1253.7 1873.56,1254.2 1873.09,1253.74 1872.61,1254.65 1872.14,1253.93 1871.67,1253.92 1871.19,1253.92 1870.72,1254.14 1870.24,1252.66 1869.77,1253.35 1869.3,1254.15 1868.82,1253.75 1868.35,1252.53 1867.88,1252.35 1867.4,1253.51 1866.93,1252.82 1866.46,1253.65 1865.98,1253.51 1865.51,1253.66 1865.03,1253.38 1864.56,1253.18 1864.09,1253.42 1863.61,1253.4 1863.14,1252.37 1862.67,1253.41 1862.19,1252.95 1861.72,1253.21 1861.25,1253.49 1860.77,1253.23 1860.3,1252.86 1859.82,1252.63 1859.35,1252.61 1858.88,1253.41 1858.4,1252.84 1857.93,1252.1 1857.46,1252.05 1856.98,1253.48 1856.51,1252.47 1856.03,1252.38 1855.56,1252.91 1855.09,1252.01 1854.61,1252.03 1854.14,1252.59 1853.67,1252.87 1853.19,1252.74 1852.72,1251.27 1852.25,1252.85 1851.77,1252.34 1851.3,1252.1 1850.82,1253.04 1850.35,1252.35 1849.88,1252.66 1849.4,1253.66 1848.93,1252.37 1848.46,1251.59 1847.98,1251.85 1847.51,1252.5 1847.04,1253.37 1846.56,1251.79 1846.09,1251.81 1845.61,1252.09 1845.14,1252.49 1844.67,1250.95 1844.19,1252.24 1843.72,1251.42 1843.25,1251.59 1842.77,1252.13 1842.3,1252.29 1841.82,1252.01 1841.35,1251.47 1840.88,1251.94 1840.4,1251.32 1839.93,1252.3 1839.46,1250.58 1838.98,1251.63 1838.51,1251.37 1838.04,1252.09 1837.56,1250.79 1837.09,1251.17 1836.61,1252.87 1836.14,1252.55 1835.67,1251.58 1835.19,1250.77 1834.72,1250.51 1834.25,1252.08 1833.77,1250.77 1833.3,1251.45 1832.82,1250.51 1832.35,1251.07 1831.88,1251.66 1831.4,1251.23 1830.93,1250.94 1830.46,1251.34 1829.98,1250.58 1829.51,1251.55 1829.04,1251.96 1828.56,1252.27 1828.09,1251.27 1827.61,1251.56 1827.14,1251.24 1826.67,1250.44 1826.19,1250.5 1825.72,1250.67 1825.25,1251.86 1824.77,1251.67 1824.3,1251.37 1823.83,1251.07 1823.35,1251.58 1822.88,1250.58 1822.4,1251.32 1821.93,1250.34 1821.46,1251.39 1820.98,1250.71 1820.51,1251 1820.04,1250.95 1819.56,1250.43 1819.09,1251.27 1818.61,1251.29 1818.14,1251.3 1817.67,1251.2 1817.19,1251.13 1816.72,1252.08 1816.25,1250.01 1815.77,1249.78 1815.3,1250.7 1814.83,1249.8 1814.35,1251.11 1813.88,1251.67 1813.4,1251.56 1812.93,1250.56 1812.46,1250.8 1811.98,1250.69 1811.51,1250.45 1811.04,1250.67 1810.56,1250.45 1810.09,1250.8 1809.62,1250.02 1809.14,1250.13 1808.67,1249.88 1808.19,1251.4 1807.72,1250.06 1807.25,1249.93 1806.77,1249.83 1806.3,1250.58 1805.83,1250.44 1805.35,1250.79 1804.88,1250.21 1804.4,1250.01 1803.93,1251.22 1803.46,1250.53 1802.98,1250.23 1802.51,1249.93 1802.04,1250.26 1801.56,1249.8 1801.09,1250.27 1800.62,1250.17 1800.14,1249.75 1799.67,1249.92 1799.19,1250.77 1798.72,1250.45 1798.25,1250.75 1797.77,1250.57 1797.3,1249.87 1796.83,1250.18 1796.35,1249.64 1795.88,1250.67 1795.41,1249.98 1794.93,1250.97 1794.46,1251 1793.98,1250.74 1793.51,1250.89 1793.04,1249.97 1792.56,1249.18 1792.09,1250.06 1791.62,1250.49 1791.14,1251.27 1790.67,1249.74 1790.19,1248.94 1789.72,1250.02 1789.25,1250.97 1788.77,1250.16 1788.3,1250.37 1787.83,1249.23 1787.35,1249.66 1786.88,1249.35 1786.41,1249.12 1785.93,1250.07 1785.46,1250.69 1784.98,1250.93 1784.51,1250.44 1784.04,1250.65 1783.56,1249.72 1783.09,1250.02 1782.62,1249.55 1782.14,1249.98 1781.67,1249.85 1781.2,1249.63 1780.72,1249.66 1780.25,1250.24 1779.77,1249.65 1779.3,1250.38 1778.83,1250.3 1778.35,1249.95 1777.88,1249.35 1777.41,1250.19 1776.93,1249.47 1776.46,1249.7 1775.98,1249.45 1775.51,1250.39 1775.04,1250.07 1774.56,1249.71 1774.09,1249.91 1773.62,1249.43 1773.14,1250.12 1772.67,1248.95 1772.2,1250.22 1771.72,1250.16 1771.25,1249.09 1770.77,1249.99 1770.3,1250 1769.83,1249.24 1769.35,1249.53 1768.88,1250.56 1768.41,1249.43 1767.93,1249 1767.46,1249.41 1766.99,1249.52 1766.51,1248.69 1766.04,1250.1 1765.56,1249.39 1765.09,1249.79 1764.62,1249.31 1764.14,1248.55 1763.67,1249.32 1763.2,1249.46 1762.72,1249.97 1762.25,1248.99 1761.77,1249.42 1761.3,1248.99 1760.83,1248.7 1760.35,1249.29 1759.88,1249.47 1759.41,1250.31 1758.93,1248.15 1758.46,1249.11 1757.99,1248.21 1757.51,1248.53 1757.04,1247.66 1756.56,1249.79 1756.09,1248.98 1755.62,1248.99 1755.14,1250.2 1754.67,1248.5 1754.2,1249.1 1753.72,1251.36 1753.25,1249.51 1752.78,1248.47 1752.3,1249.49 1751.83,1248.62 1751.35,1249.38 1750.88,1247.75 1750.41,1249.03 1749.93,1248.92 1749.46,1250.05 1748.99,1249.83 1748.51,1250.03 1748.04,1249.2 1747.56,1248.9 1747.09,1250.27 1746.62,1249.71 1746.14,1249.54 1745.67,1248.45 1745.2,1248.9 1744.72,1250.37 1744.25,1248.25 1743.78,1248.86 1743.3,1248.63 1742.83,1248.85 1742.35,1249.7 1741.88,1249.21 1741.41,1248.99 1740.93,1249.38 1740.46,1249.86 1739.99,1248.72 1739.51,1250.07 1739.04,1249.42 1738.57,1248.58 1738.09,1248.5 1737.62,1249.28 1737.14,1249.04 1736.67,1249.05 1736.2,1249.92 1735.72,1248.21 1735.25,1249.52 1734.78,1249.13 1734.3,1248.82 1733.83,1249.39 1733.35,1249.27 1732.88,1249.38 1732.41,1248.88 1731.93,1248.77 1731.46,1249.75 1730.99,1248.48 1730.51,1248.84 1730.04,1249.3 1729.57,1249.54 1729.09,1250.09 1728.62,1248.99 1728.14,1248.66 1727.67,1249.41 1727.2,1248.66 1726.72,1250.34 1726.25,1248.68 1725.78,1250.08 1725.3,1249.36 1724.83,1249.28 1724.36,1247.86 1723.88,1249.43 1723.41,1248.65 1722.93,1249.55 1722.46,1248.28 1721.99,1248.83 1721.51,1248.91 1721.04,1248.89 1720.57,1248.88 1720.09,1249.04 1719.62,1250.05 1719.14,1249.43 1718.67,1249.4 1718.2,1248.61 1717.72,1249.25 1717.25,1248.5 1716.78,1248.93 1716.3,1249.55 1715.83,1248.55 1715.36,1248.86 1714.88,1249.1 1714.41,1249.48 1713.93,1248.99 1713.46,1248.72 1712.99,1249.63 1712.51,1249.04 1712.04,1249.08 1711.57,1249.33 1711.09,1248.37 1710.62,1248.13 1710.14,1249.02 1709.67,1248.44 1709.2,1248.9 1708.72,1250.62 1708.25,1249.21 1707.78,1248.53 1707.3,1249.14 1706.83,1249.32 1706.36,1247.94 1705.88,1249.63 1705.41,1249 1704.93,1248.18 1704.46,1249.03 1703.99,1248.04 1703.51,1249.36 1703.04,1248.98 1702.57,1248.77 1702.09,1248.79 1701.62,1250.06 1701.15,1249.12 1700.67,1249.76 1700.2,1248.95 1699.72,1249.92 1699.25,1249.89 1698.78,1248.82 1698.3,1248.76 1697.83,1248.29 1697.36,1248.03 1696.88,1250.14 1696.41,1248.61 1695.93,1249.24 1695.46,1249.33 1694.99,1248.69 1694.51,1250.21 1694.04,1249 1693.57,1248.36 1693.09,1249.34 1692.62,1249.11 1692.15,1248.84 1691.67,1248.67 1691.2,1249.18 1690.72,1248.11 1690.25,1249.26 1689.78,1248.92 1689.3,1248.66 1688.83,1248.89 1688.36,1248.51 1687.88,1248.37 1687.41,1250.47 1686.94,1249.92 1686.46,1248.52 1685.99,1248.29 1685.51,1250.08 1685.04,1249.23 1684.57,1249.24 1684.09,1249.87 1683.62,1248.71 1683.15,1249.94 1682.67,1249.42 1682.2,1248.7 1681.72,1249.97 1681.25,1248.8 1680.78,1249.31 1680.3,1248.89 1679.83,1249.09 1679.36,1248.91 1678.88,1248.44 1678.41,1249.77 1677.94,1249.26 1677.46,1250.29 1676.99,1249.22 1676.51,1249.4 1676.04,1249.14 1675.57,1248.32 1675.09,1248.63 1674.62,1250.34 1674.15,1248.05 1673.67,1249.11 1673.2,1249.23 1672.73,1249.23 1672.25,1249.98 1671.78,1248.4 1671.3,1248.53 1670.83,1248.11 1670.36,1248.12 1669.88,1249.66 1669.41,1249.44 1668.94,1249.41 1668.46,1248.56 1667.99,1249.16 1667.51,1248.88 1667.04,1248.86 1666.57,1249.07 1666.09,1249.38 1665.62,1249 1665.15,1248.54 1664.67,1248.55 1664.2,1249.11 1663.73,1248.81 1663.25,1249.29 1662.78,1248.18 1662.3,1248.45 1661.83,1247.94 1661.36,1248.91 1660.88,1249 1660.41,1247.77 1659.94,1247.81 1659.46,1248.73 1658.99,1249.41 1658.52,1248.66 1658.04,1248.95 1657.57,1249.15 1657.09,1248.85 1656.62,1248.78 1656.15,1249.02 1655.67,1248.33 1655.2,1248.67 1654.73,1248.47 1654.25,1248.59 1653.78,1249.54 1653.3,1248.48 1652.83,1248.39 1652.36,1248.88 1651.88,1248.93 1651.41,1248.56 1650.94,1248.97 1650.46,1249.14 1649.99,1248.94 1649.52,1248.55 1649.04,1248.29 1648.57,1248.18 1648.09,1248.28 1647.62,1249.75 1647.15,1249.6 1646.67,1250.27 1646.2,1249.7 1645.73,1247.96 1645.25,1249.01 1644.78,1248.85 1644.31,1249.75 1643.83,1248.31 1643.36,1248.71 1642.88,1247.82 1642.41,1248.4 1641.94,1248.62 1641.46,1248.57 1640.99,1249.09 1640.52,1249.81 1640.04,1249.93 1639.57,1247.88 1639.09,1248.66 1638.62,1247.86 1638.15,1247.68 1637.67,1249.02 1637.2,1248.41 1636.73,1248.36 1636.25,1248.86 1635.78,1249.6 1635.31,1249.62 1634.83,1248.19 1634.36,1249.88 1633.88,1248.49 1633.41,1247.89 1632.94,1248.29 1632.46,1248.65 1631.99,1248.63 1631.52,1247.86 1631.04,1249.27 1630.57,1248.54 1630.1,1249.01 1629.62,1247.77 1629.15,1247.87 1628.67,1248.29 1628.2,1249.13 1627.73,1250.37 1627.25,1248.53 1626.78,1248.49 1626.31,1247.94 1625.83,1248.71 1625.36,1248.49 1624.88,1248.62 1624.41,1248.6 1623.94,1248.76 1623.46,1248.72 1622.99,1248.98 1622.52,1249.46 1622.04,1248.69 1621.57,1249.09 1621.1,1248.02 1620.62,1249.26 1620.15,1248.64 1619.67,1248.9 1619.2,1248.2 1618.73,1247.84 1618.25,1248.67 1617.78,1249.17 1617.31,1247.97 1616.83,1249.61 1616.36,1248.25 1615.89,1248.9 1615.41,1247.74 1614.94,1249.38 1614.46,1247.9 1613.99,1249.38 1613.52,1249.02 1613.04,1248.72 1612.57,1247.96 1612.1,1249.17 1611.62,1248.62 1611.15,1249.27 1610.67,1248.18 1610.2,1248.82 1609.73,1248.58 1609.25,1247.86 1608.78,1247.41 1608.31,1247.36 1607.83,1248.92 1607.36,1247.84 1606.89,1248.5 1606.41,1248.56 1605.94,1249.62 1605.46,1247.34 1604.99,1247.61 1604.52,1248.64 1604.04,1248.36 1603.57,1247.79 1603.1,1248.64 1602.62,1247.34 1602.15,1246.9 1601.67,1248.78 1601.2,1247.42 1600.73,1247.03 1600.25,1248.46 1599.78,1247.84 1599.31,1247.92 1598.83,1247.68 1598.36,1248.43 1597.89,1248.15 1597.41,1248.33 1596.94,1248.81 1596.46,1248.52 1595.99,1247.93 1595.52,1247.35 1595.04,1247.98 1594.57,1248.25 1594.1,1248.11 1593.62,1247.73 1593.15,1249.82 1592.68,1247.72 1592.2,1248.94 1591.73,1248.73 1591.25,1248.08 1590.78,1249.35 1590.31,1247.37 1589.83,1247.93 1589.36,1248.99 1588.89,1248.19 1588.41,1248.01 1587.94,1248.44 1587.46,1248.8 1586.99,1247.67 1586.52,1249.01 1586.04,1247.8 1585.57,1247.63 1585.1,1248.03 1584.62,1248.63 1584.15,1248.93 1583.68,1248.43 1583.2,1248.05 1582.73,1247.51 1582.25,1248.27 1581.78,1248.38 1581.31,1248.81 1580.83,1247.88 1580.36,1249.56 1579.89,1247.33 1579.41,1248.33 1578.94,1248.27 1578.47,1248.62 1577.99,1248.46 1577.52,1247.82 1577.04,1247.82 1576.57,1247.6 1576.1,1249.3 1575.62,1248.06 1575.15,1247.86 1574.68,1248.5 1574.2,1248.45 1573.73,1247.81 1573.25,1248.19 1572.78,1247.6 1572.31,1247.59 1571.83,1248.18 1571.36,1246.81 1570.89,1248.09 1570.41,1247.79 1569.94,1246.83 1569.47,1247.48 1568.99,1248.21 1568.52,1248.19 1568.04,1247.89 1567.57,1247.73 1567.1,1247.81 1566.62,1247.73 1566.15,1247.46 1565.68,1247.46 1565.2,1248.24 1564.73,1247.96 1564.26,1248.48 1563.78,1247.34 1563.31,1248.09 1562.83,1248.44 1562.36,1246.51 1561.89,1247.37 1561.41,1247.08 1560.94,1248.1 1560.47,1248 1559.99,1247.4 1559.52,1247.3 1559.04,1246.84 1558.57,1247.76 1558.1,1247.24 1557.62,1247.94 1557.15,1247.46 1556.68,1246.83 1556.2,1248.24 1555.73,1248.05 1555.26,1246.86 1554.78,1247.28 1554.31,1249.84 1553.83,1246.61 1553.36,1246.8 1552.89,1247.28 1552.41,1247.23 1551.94,1247.68 1551.47,1247.37 1550.99,1247.9 1550.52,1247.56 1550.05,1248.96 1549.57,1247.1 1549.1,1247.74 1548.62,1246.98 1548.15,1248.92 1547.68,1247.79 1547.2,1248.1 1546.73,1247.76 1546.26,1248.91 1545.78,1247.54 1545.31,1248.83 1544.83,1248.53 1544.36,1247.2 1543.89,1247.29 1543.41,1248.38 1542.94,1246.74 1542.47,1247.75 1541.99,1248.18 1541.52,1247.3 1541.05,1247.26 1540.57,1246.73 1540.1,1247.75 1539.62,1248.13 1539.15,1247.99 1538.68,1246.43 1538.2,1248.14 1537.73,1247.34 1537.26,1247.19 1536.78,1248.14 1536.31,1248.39 1535.84,1247.52 1535.36,1247.07 1534.89,1247.83 1534.41,1248.16 1533.94,1247.72 1533.47,1248.2 1532.99,1248.05 1532.52,1248.22 1532.05,1248.22 1531.57,1248.23 1531.1,1247.43 1530.62,1247.6 1530.15,1247.47 1529.68,1246.17 1529.2,1248.72 1528.73,1248.09 1528.26,1247.47 1527.78,1247.77 1527.31,1247.51 1526.84,1247.81 1526.36,1248.51 1525.89,1248.14 1525.41,1247.39 1524.94,1247.22 1524.47,1247.72 1523.99,1247.02 1523.52,1247.82 1523.05,1247.94 1522.57,1246.88 1522.1,1247.01 1521.63,1246.48 1521.15,1247.44 1520.68,1247.27 1520.2,1247.25 1519.73,1248.01 1519.26,1247.05 1518.78,1247.77 1518.31,1248.17 1517.84,1248.51 1517.36,1247.07 1516.89,1246.88 1516.41,1247.14 1515.94,1247.55 1515.47,1247.25 1514.99,1247.91 1514.52,1247.85 1514.05,1247.92 1513.57,1247.54 1513.1,1247.69 1512.63,1247.12 1512.15,1246.2 1511.68,1246.91 1511.2,1247.94 1510.73,1247.14 1510.26,1247.86 1509.78,1247.7 1509.31,1247.07 1508.84,1248.07 1508.36,1248.09 1507.89,1247.03 1507.42,1248.38 1506.94,1247.55 1506.47,1246.54 1505.99,1248.09 1505.52,1246.94 1505.05,1247.37 1504.57,1245.98 1504.1,1247.13 1503.63,1247.49 1503.15,1247.76 1502.68,1247.84 1502.2,1246.64 1501.73,1246.98 1501.26,1246.84 1500.78,1246.94 1500.31,1247.33 1499.84,1246.89 1499.36,1247.27 1498.89,1247.27 1498.42,1247.59 1497.94,1247.72 1497.47,1247.23 1496.99,1247.01 1496.52,1247.43 1496.05,1247.81 1495.57,1247.03 1495.1,1247.75 1494.63,1247.73 1494.15,1247.8 1493.68,1248.39 1493.21,1245.69 1492.73,1248.53 1492.26,1246.74 1491.78,1247.48 1491.31,1248.64 1490.84,1247.66 1490.36,1248.45 1489.89,1246.85 1489.42,1247.67 1488.94,1246.7 1488.47,1247.33 1487.99,1247.53 1487.52,1246.36 1487.05,1247.54 1486.57,1246.92 1486.1,1246.93 1485.63,1247.34 1485.15,1247.32 1484.68,1246.99 1484.21,1246.66 1483.73,1246.59 1483.26,1248.59 1482.78,1246.89 1482.31,1246.06 1481.84,1246.28 1481.36,1247.08 1480.89,1247.55 1480.42,1246.34 1479.94,1247.51 1479.47,1247.4 1478.99,1247.01 1478.52,1246.08 1478.05,1246.34 1477.57,1246.71 1477.1,1246.96 1476.63,1246.76 1476.15,1246.47 1475.68,1247.32 1475.21,1246.22 1474.73,1246.73 1474.26,1247.13 1473.78,1246.61 1473.31,1247.6 1472.84,1247.1 1472.36,1247.68 1471.89,1247.5 1471.42,1246.4 1470.94,1248.35 1470.47,1246.39 1470,1246.75 1469.52,1246.39 1469.05,1247.03 1468.57,1247.39 1468.1,1247.27 1467.63,1248.52 1467.15,1247.92 1466.68,1246.4 1466.21,1246.93 1465.73,1247.97 1465.26,1246.39 1464.78,1246.17 1464.31,1248 1463.84,1246.32 1463.36,1246.73 1462.89,1246.22 1462.42,1246.82 1461.94,1246.67 1461.47,1246.76 1461,1246.43 1460.52,1246.27 1460.05,1246 1459.57,1247.06 1459.1,1247.59 1458.63,1246.75 1458.15,1247.92 1457.68,1247.06 1457.21,1247.03 1456.73,1247.81 1456.26,1247.11 1455.79,1247.13 1455.31,1246.84 1454.84,1246.95 1454.36,1247.63 1453.89,1246.68 1453.42,1247.5 1452.94,1246.39 1452.47,1247.46 1452,1246.61 1451.52,1248.06 1451.05,1247.9 1450.57,1245.56 1450.1,1247.08 1449.63,1246.95 1449.15,1246.54 1448.68,1247.26 1448.21,1246.88 1447.73,1247.37 1447.26,1247.64 1446.79,1247.11 1446.31,1246.26 1445.84,1246.5 1445.36,1246.8 1444.89,1247.17 1444.42,1246.37 1443.94,1246.48 1443.47,1247.14 1443,1246.16 1442.52,1246.47 1442.05,1246.26 1441.58,1247.25 1441.1,1246.39 1440.63,1246.81 1440.15,1246.81 1439.68,1246.75 1439.21,1245.25 1438.73,1247.03 1438.26,1246.69 1437.79,1246.95 1437.31,1247.95 1436.84,1246.12 1436.36,1246.63 1435.89,1246.61 1435.42,1247.02 1434.94,1246.6 1434.47,1246.8 1434,1246.26 1433.52,1247.51 1433.05,1246.41 1432.58,1247.16 1432.1,1247.93 1431.63,1247.75 1431.15,1247.05 1430.68,1246.79 1430.21,1247.41 1429.73,1246.62 1429.26,1247.67 1428.79,1246.29 1428.31,1247.65 1427.84,1247.41 1427.37,1246.64 1426.89,1246.13 1426.42,1246.51 1425.94,1246.75 1425.47,1246.69 1425,1245.71 1424.52,1247.07 1424.05,1246.09 1423.58,1247.8 1423.1,1246.38 1422.63,1246.94 1422.15,1246.7 1421.68,1247.9 1421.21,1245.62 1420.73,1246.9 1420.26,1247.68 1419.79,1247.15 1419.31,1247.39 1418.84,1246.9 1418.37,1245.75 1417.89,1245.87 1417.42,1247.58 1416.94,1246.33 1416.47,1246.27 1416,1246.9 1415.52,1247.46 1415.05,1246.1 1414.58,1246.23 1414.1,1246.15 1413.63,1246.42 1413.16,1247.63 1412.68,1246.6 1412.21,1247.2 1411.73,1246 1411.26,1246.4 1410.79,1245.81 1410.31,1247.81 1409.84,1247.83 1409.37,1245.56 1408.89,1246.15 1408.42,1246.64 1407.94,1247.14 1407.47,1246.36 1407,1245.16 1406.52,1246.29 1406.05,1247.55 1405.58,1246.13 1405.1,1246.42 1404.63,1247.75 1404.16,1245.98 1403.68,1247.4 1403.21,1246.22 1402.73,1247.3 1402.26,1245.71 1401.79,1247.44 1401.31,1246.17 1400.84,1246.28 1400.37,1246.54 1399.89,1245.89 1399.42,1246.6 1398.95,1245.74 1398.47,1246.08 1398,1247.41 1397.52,1247.26 1397.05,1245.95 1396.58,1246.27 1396.1,1245.97 1395.63,1245.87 1395.16,1246.34 1394.68,1246.26 1394.21,1247.29 1393.73,1246.18 1393.26,1245.95 1392.79,1246.54 1392.31,1245.81 1391.84,1246.54 1391.37,1246.86 1390.89,1246.16 1390.42,1245.93 1389.95,1246.94 1389.47,1246.11 1389,1246.42 1388.52,1245.98 1388.05,1245.89 1387.58,1246.13 1387.1,1245.62 1386.63,1247.25 1386.16,1246.44 1385.68,1247.26 1385.21,1246.82 1384.74,1246.25 1384.26,1246.5 1383.79,1245.71 1383.31,1246.18 1382.84,1245.81 1382.37,1245.84 1381.89,1246.83 1381.42,1246.52 1380.95,1247.05 1380.47,1245.7 1380,1246.39 1379.52,1246.22 1379.05,1246.26 1378.58,1246.21 1378.1,1245.59 1377.63,1247 1377.16,1246.64 1376.68,1246.49 1376.21,1246.31 1375.74,1246.32 1375.26,1246.88 1374.79,1246.2 1374.31,1244.67 1373.84,1246.15 1373.37,1245.69 1372.89,1246.04 1372.42,1245.6 1371.95,1246.43 1371.47,1246.73 1371,1247.13 1370.52,1245.52 1370.05,1246.08 1369.58,1246.34 1369.1,1247.07 1368.63,1247.25 1368.16,1247.42 1367.68,1247.02 1367.21,1245.42 1366.74,1245.9 1366.26,1247 1365.79,1247.18 1365.31,1246.31 1364.84,1246.31 1364.37,1246.46 1363.89,1246.24 1363.42,1247.22 1362.95,1246.82 1362.47,1247.08 1362,1247.31 1361.53,1246.28 1361.05,1246.1 1360.58,1247.38 1360.1,1246.07 1359.63,1246.17 1359.16,1245.91 1358.68,1246.72 1358.21,1245.95 1357.74,1246.03 1357.26,1246.81 1356.79,1245.23 1356.31,1246.8 1355.84,1245.45 1355.37,1245.97 1354.89,1246.42 1354.42,1245.85 1353.95,1245.97 1353.47,1246.71 1353,1246.44 1352.53,1246.09 1352.05,1245.47 1351.58,1246.9 1351.1,1246.44 1350.63,1245.88 1350.16,1247.18 1349.68,1246.11 1349.21,1245.93 1348.74,1246.3 1348.26,1246.54 1347.79,1246.51 1347.32,1245.23 1346.84,1247.64 1346.37,1244.94 1345.89,1246.1 1345.42,1245.54 1344.95,1246.55 1344.47,1245.71 1344,1245.45 1343.53,1246 1343.05,1246.17 1342.58,1247.24 1342.1,1245.57 1341.63,1246.06 1341.16,1245.97 1340.68,1245.91 1340.21,1246.37 1339.74,1245.85 1339.26,1246.83 1338.79,1245.9 1338.32,1245.61 1337.84,1244.92 1337.37,1244.55 1336.89,1246.77 1336.42,1244.7 1335.95,1246.09 1335.47,1246.78 1335,1245.38 1334.53,1246.64 1334.05,1245.9 1333.58,1246.79 1333.11,1244.87 1332.63,1245.47 1332.16,1245.56 1331.68,1246.01 1331.21,1245.59 1330.74,1246.69 1330.26,1246.23 1329.79,1245.71 1329.32,1246.1 1328.84,1245.92 1328.37,1245.11 1327.89,1245.3 1327.42,1246.63 1326.95,1245.67 1326.47,1246.7 1326,1245.68 1325.53,1245.08 1325.05,1246.05 1324.58,1245.49 1324.11,1246.57 1323.63,1247.32 1323.16,1246.52 1322.68,1245.29 1322.21,1245.23 1321.74,1245.47 1321.26,1244.92 1320.79,1245.61 1320.32,1245.3 1319.84,1245.88 1319.37,1245.72 1318.9,1245.46 1318.42,1245.4 1317.95,1244.85 1317.47,1245.93 1317,1245.32 1316.53,1245.21 1316.05,1245.3 1315.58,1246.2 1315.11,1245.42 1314.63,1245.8 1314.16,1246.05 1313.68,1246.53 1313.21,1244.88 1312.74,1245.57 1312.26,1245.25 1311.79,1246.27 1311.32,1245.1 1310.84,1245.73 1310.37,1246.01 1309.9,1244.82 1309.42,1245.51 1308.95,1244.84 1308.47,1246.8 1308,1245.7 1307.53,1246.14 1307.05,1246.59 1306.58,1243.75 1306.11,1244.75 1305.63,1245.85 1305.16,1246.22 1304.69,1246.01 1304.21,1246.16 1303.74,1244.91 1303.26,1244.54 1302.79,1245.38 1302.32,1245.16 1301.84,1245.37 1301.37,1246.73 1300.9,1246.38 1300.42,1244.59 1299.95,1244.96 1299.47,1245.38 1299,1245.55 1298.53,1245.23 1298.05,1246.46 1297.58,1247.05 1297.11,1245.98 1296.63,1245.18 1296.16,1245.55 1295.69,1245.8 1295.21,1245.7 1294.74,1246.01 1294.26,1246.04 1293.79,1245.88 1293.32,1245.66 1292.84,1245.27 1292.37,1246.71 1291.9,1245.1 1291.42,1244.7 1290.95,1244.97 1290.48,1244.94 1290,1244.49 1289.53,1245.28 1289.05,1245.04 1288.58,1245.77 1288.11,1245.77 1287.63,1244.82 1287.16,1245.36 1286.69,1244.79 1286.21,1244.99 1285.74,1245.41 1285.26,1244.8 1284.79,1245.94 1284.32,1244.76 1283.84,1244.85 1283.37,1246.24 1282.9,1246.03 1282.42,1245.42 1281.95,1245.53 1281.48,1245.94 1281,1246.78 1280.53,1245.28 1280.05,1244.81 1279.58,1244.71 1279.11,1244.66 1278.63,1245.46 1278.16,1246.78 1277.69,1245.61 1277.21,1245.6 1276.74,1245.86 1276.27,1244.84 1275.79,1244.81 1275.32,1244.58 1274.84,1245.35 1274.37,1244.23 1273.9,1245.6 1273.42,1245.1 1272.95,1245.53 1272.48,1245.67 1272,1245.96 1271.53,1245.06 1271.05,1244.83 1270.58,1244.45 1270.11,1245.28 1269.63,1244.7 1269.16,1244.08 1268.69,1245.36 1268.21,1245.73 1267.74,1244.61 1267.27,1244.6 1266.79,1243.46 1266.32,1245.77 1265.84,1245.53 1265.37,1244.76 1264.9,1244.91 1264.42,1245.39 1263.95,1246.07 1263.48,1244.62 1263,1245.56 1262.53,1245.09 1262.06,1244.73 1261.58,1245.1 1261.11,1244.99 1260.63,1245.45 1260.16,1245.07 1259.69,1245.21 1259.21,1244.76 1258.74,1245.57 1258.27,1245.27 1257.79,1244.77 1257.32,1244.78 1256.84,1244.46 1256.37,1244.72 1255.9,1245.15 1255.42,1245.02 1254.95,1245.77 1254.48,1244.44 1254,1245.48 1253.53,1244.43 1253.06,1245.03 1252.58,1244.64 1252.11,1245.23 1251.63,1244.5 1251.16,1245.47 1250.69,1245.12 1250.21,1245.38 1249.74,1244.2 1249.27,1244.5 1248.79,1244.79 1248.32,1244.6 1247.84,1244.72 1247.37,1245.04 1246.9,1244.16 1246.42,1244.91 1245.95,1244.34 1245.48,1245.17 1245,1245.02 1244.53,1244.65 1244.06,1244.4 1243.58,1244.12 1243.11,1245.5 1242.63,1245.3 1242.16,1245.42 1241.69,1245.64 1241.21,1244.35 1240.74,1244.56 1240.27,1245.81 1239.79,1244.84 1239.32,1244.28 1238.85,1244.71 1238.37,1244.83 1237.9,1245.36 1237.42,1244.95 1236.95,1245.43 1236.48,1245.04 1236,1244.59 1235.53,1244.97 1235.06,1244.29 1234.58,1244.25 1234.11,1245.53 1233.63,1245.56 1233.16,1244.43 1232.69,1245.07 1232.21,1244.96 1231.74,1244.9 1231.27,1244.41 1230.79,1245.09 1230.32,1244.99 1229.85,1244.23 1229.37,1245.28 1228.9,1244.18 1228.42,1245.01 1227.95,1245.8 1227.48,1245.15 1227,1244.61 1226.53,1244.95 1226.06,1244.41 1225.58,1245.11 1225.11,1244.06 1224.64,1245.27 1224.16,1244.09 1223.69,1243.87 1223.21,1244.07 1222.74,1244.6 1222.27,1244.52 1221.79,1244.35 1221.32,1244.42 1220.85,1245.07 1220.37,1244.41 1219.9,1244.46 1219.42,1244.74 1218.95,1244.66 1218.48,1244.8 1218,1244.54 1217.53,1244.64 1217.06,1243.96 1216.58,1244.16 1216.11,1245.21 1215.64,1244.98 1215.16,1245.18 1214.69,1244.9 1214.21,1244.75 1213.74,1244.72 1213.27,1244.65 1212.79,1244.65 1212.32,1245.21 1211.85,1244.98 1211.37,1245.1 1210.9,1244.68 1210.43,1245.24 1209.95,1245.48 1209.48,1245.05 1209,1245.64 1208.53,1244.56 1208.06,1245.7 1207.58,1245.32 1207.11,1244.85 1206.64,1244.2 1206.16,1244.86 1205.69,1245.42 1205.21,1244.88 1204.74,1244.37 1204.27,1244.58 1203.79,1243.89 1203.32,1244.08 1202.85,1244.52 1202.37,1245.06 1201.9,1244.44 1201.43,1244.98 1200.95,1244.47 1200.48,1244.81 1200,1245.21 1199.53,1245.16 1199.06,1245.54 1198.58,1245.5 1198.11,1245.87 1197.64,1245.32 1197.16,1244.48 1196.69,1244.5 1196.22,1244.26 1195.74,1244.5 1195.27,1245.85 1194.79,1246.94 1194.32,1245.3 1193.85,1245.04 1193.37,1245.06 1192.9,1246.61 1192.43,1244.21 1191.95,1244.15 1191.48,1244.88 1191,1244.56 1190.53,1244.2 1190.06,1244.72 1189.58,1244.42 1189.11,1243.83 1188.64,1244.01 1188.16,1245.42 1187.69,1245.45 1187.22,1246.18 1186.74,1244.58 1186.27,1244.93 1185.79,1245.08 1185.32,1246.04 1184.85,1244.17 1184.37,1245.21 1183.9,1244.49 1183.43,1246.27 1182.95,1243.95 1182.48,1244.75 1182.01,1244.51 1181.53,1245.81 1181.06,1244.86 1180.58,1244.97 1180.11,1244.85 1179.64,1244.5 1179.16,1245.36 1178.69,1245.04 1178.22,1246.69 1177.74,1244.84 1177.27,1244.14 1176.79,1245.17 1176.32,1244.32 1175.85,1246.04 1175.37,1244.65 1174.9,1245.65 1174.43,1244.65 1173.95,1244.47 1173.48,1246.07 1173.01,1245.05 1172.53,1245.29 1172.06,1245.98 1171.58,1245.11 1171.11,1244.44 1170.64,1244.4 1170.16,1245.77 1169.69,1244.91 1169.22,1244.91 1168.74,1246.12 1168.27,1245.54 1167.8,1245.74 1167.32,1245.5 1166.85,1245.34 1166.37,1244.69 1165.9,1244.93 1165.43,1244.74 1164.95,1244.37 1164.48,1244.84 1164.01,1245.53 1163.53,1244.66 1163.06,1245.43 1162.58,1243.8 1162.11,1245.65 1161.64,1246.29 1161.16,1244.94 1160.69,1245.73 1160.22,1246.11 1159.74,1245.12 1159.27,1244.8 1158.8,1244.01 1158.32,1245.02 1157.85,1245.2 1157.37,1245.75 1156.9,1244.45 1156.43,1245.13 1155.95,1245.24 1155.48,1245.05 1155.01,1244.56 1154.53,1246.22 1154.06,1245.15 1153.59,1245.09 1153.11,1246.06 1152.64,1246.16 1152.16,1244.87 1151.69,1244.97 1151.22,1245.17 1150.74,1244.85 1150.27,1245.43 1149.8,1245.82 1149.32,1246.31 1148.85,1244.56 1148.37,1245.27 1147.9,1246.22 1147.43,1245.07 1146.95,1245.66 1146.48,1244.85 1146.01,1245.33 1145.53,1244.94 1145.06,1244.54 1144.59,1244.79 1144.11,1244.58 1143.64,1246.21 1143.16,1245.79 1142.69,1245.6 1142.22,1246.03 1141.74,1244.8 1141.27,1246.18 1140.8,1245.34 1140.32,1245.21 1139.85,1245.79 1139.37,1244.87 1138.9,1245.52 1138.43,1244.43 1137.95,1244.63 1137.48,1245 1137.01,1245.16 1136.53,1244.6 1136.06,1245.19 1135.59,1244.78 1135.11,1245.67 1134.64,1245.25 1134.16,1245.31 1133.69,1245.04 1133.22,1245.89 1132.74,1244.43 1132.27,1246.92 1131.8,1245.49 1131.32,1246 1130.85,1245.23 1130.38,1245.68 1129.9,1246.22 1129.43,1245.77 1128.95,1245.95 1128.48,1246.32 1128.01,1245.33 1127.53,1244.39 1127.06,1244.93 1126.59,1245.87 1126.11,1244.96 1125.64,1245.53 1125.16,1245.42 1124.69,1245.79 1124.22,1246.05 1123.74,1244.85 1123.27,1245.35 1122.8,1244.9 1122.32,1245.28 1121.85,1244.95 1121.38,1245.68 1120.9,1245.74 1120.43,1245.12 1119.95,1246.21 1119.48,1245.63 1119.01,1244.85 1118.53,1247.2 1118.06,1245.25 1117.59,1245.89 1117.11,1244.05 1116.64,1244.81 1116.17,1244.8 1115.69,1244.93 1115.22,1245.89 1114.74,1245.87 1114.27,1246.19 1113.8,1245.66 1113.32,1245.59 1112.85,1245.04 1112.38,1245.07 1111.9,1245.89 1111.43,1245.49 1110.95,1245.32 1110.48,1244.93 1110.01,1244.69 1109.53,1246.21 1109.06,1245.59 1108.59,1246.53 1108.11,1245.11 1107.64,1244.89 1107.17,1245.69 1106.69,1244.95 1106.22,1245.55 1105.74,1245.27 1105.27,1246.5 1104.8,1246.58 1104.32,1245.76 1103.85,1245.4 1103.38,1245.73 1102.9,1245.08 1102.43,1244.9 1101.96,1245.58 1101.48,1245.2 1101.01,1246.21 1100.53,1245.95 1100.06,1245.64 1099.59,1246.17 1099.11,1245.16 1098.64,1244.94 1098.17,1245.56 1097.69,1246.2 1097.22,1246.14 1096.74,1246.22 1096.27,1245.85 1095.8,1245.25 1095.32,1244.34 1094.85,1245.7 1094.38,1245.58 1093.9,1246.02 1093.43,1245.94 1092.96,1245.31 1092.48,1245.74 1092.01,1246.39 1091.53,1245.57 1091.06,1246.54 1090.59,1246.04 1090.11,1246.08 1089.64,1245.12 1089.17,1246.36 1088.69,1246.61 1088.22,1245.79 1087.75,1246.42 1087.27,1246.51 1086.8,1245.77 1086.32,1245.09 1085.85,1245.04 1085.38,1245.35 1084.9,1245.69 1084.43,1244.98 1083.96,1245.94 1083.48,1245.62 1083.01,1246.07 1082.53,1245.12 1082.06,1245.41 1081.59,1246.51 1081.11,1246.13 1080.64,1245.27 1080.17,1245.5 1079.69,1245.43 1079.22,1245.65 1078.75,1246.27 1078.27,1245.56 1077.8,1245.42 1077.32,1246.12 1076.85,1246.41 1076.38,1246.41 1075.9,1246.46 1075.43,1245.86 1074.96,1245.88 1074.48,1245.76 1074.01,1245.65 1073.54,1246.65 1073.06,1247.02 1072.59,1245.67 1072.11,1246.51 1071.64,1245.23 1071.17,1245.7 1070.69,1245.65 1070.22,1246.02 1069.75,1246.9 1069.27,1245.6 1068.8,1244.91 1068.32,1246.7 1067.85,1245.79 1067.38,1245.63 1066.9,1244.41 1066.43,1246.34 1065.96,1246.43 1065.48,1244.96 1065.01,1245.89 1064.54,1246.86 1064.06,1246 1063.59,1245.47 1063.11,1245.85 1062.64,1246.9 1062.17,1246.96 1061.69,1246.9 1061.22,1247.17 1060.75,1246.86 1060.27,1246.95 1059.8,1246.5 1059.33,1246.04 1058.85,1247.16 1058.38,1246.66 1057.9,1245.58 1057.43,1247.72 1056.96,1246.57 1056.48,1246.79 1056.01,1248.08 1055.54,1247.66 1055.06,1246.12 1054.59,1246.49 1054.11,1245.71 1053.64,1247.23 1053.17,1245.61 1052.69,1246.37 1052.22,1245.44 1051.75,1245.73 1051.27,1247.15 1050.8,1246.36 1050.33,1246.38 1049.85,1246.07 1049.38,1246.53 1048.9,1246.31 1048.43,1246.44 1047.96,1246.66 1047.48,1246.86 1047.01,1246.6 1046.54,1246.1 1046.06,1246.45 1045.59,1247.1 1045.12,1245.99 1044.64,1246.83 1044.17,1247.93 1043.69,1246.95 1043.22,1246.74 1042.75,1246.79 1042.27,1246.44 1041.8,1246.71 1041.33,1246.67 1040.85,1246.87 1040.38,1247.74 1039.9,1246.68 1039.43,1248.02 1038.96,1247.05 1038.48,1246.51 1038.01,1246.42 1037.54,1246.79 1037.06,1246.76 1036.59,1245.88 1036.12,1247.28 1035.64,1246.67 1035.17,1247.15 1034.69,1247.3 1034.22,1247.08 1033.75,1247.09 1033.27,1249.23 1032.8,1247.04 1032.33,1245.94 1031.85,1246.8 1031.38,1246.8 1030.91,1246.48 1030.43,1247.34 1029.96,1247.41 1029.48,1246.87 1029.01,1247.84 1028.54,1247.11 1028.06,1246.38 1027.59,1246.47 1027.12,1247.81 1026.64,1247.87 1026.17,1246.69 1025.69,1247.97 1025.22,1247.79 1024.75,1247.51 1024.27,1248.11 1023.8,1246.92 1023.33,1247.72 1022.85,1247.24 1022.38,1247.46 1021.91,1247.22 1021.43,1247.75 1020.96,1248.31 1020.48,1247.29 1020.01,1247.09 1019.54,1247.48 1019.06,1247.4 1018.59,1248.49 1018.12,1246.95 1017.64,1247.36 1017.17,1247.02 1016.69,1248.15 1016.22,1246.29 1015.75,1247.69 1015.27,1247.44 1014.8,1247.96 1014.33,1247.24 1013.85,1247.46 1013.38,1247.09 1012.91,1247.57 1012.43,1248.07 1011.96,1248.29 1011.48,1247.52 1011.01,1247.79 1010.54,1248.53 1010.06,1247.71 1009.59,1246.86 1009.12,1247.52 1008.64,1247.75 1008.17,1247.24 1007.7,1248.64 1007.22,1248.27 1006.75,1248.03 1006.27,1248.59 1005.8,1248.75 1005.33,1248.64 1004.85,1247.72 1004.38,1248.94 1003.91,1248.85 1003.43,1249.93 1002.96,1248.06 1002.48,1249.06 1002.01,1250.32 1001.54,1250.4 1001.16,1261 1000.4,1261" fill="#fb9a33"/>
</g>
<rect x="1000.4" y="984.9" width="948" height="486.1" fill="none" stroke="#000" stroke-width="3"/>
<line x1="1000.4" y1="1422.39" x2="1009.9" y2="1422.39" stroke="#000" stroke-width="3"/>
<line x1="1000.4" y1="1325.17" x2="1009.9" y2="1325.17" stroke="#000" stroke-width="3"/>
<line x1="1000.4" y1="1227.95" x2="1009.9" y2="1227.95" stroke="#000" stroke-width="3"/>
<line x1="1000.4" y1="1130.73" x2="1009.9" y2="1130.73" stroke="#000" stroke-width="3"/>
<line x1="1000.4" y1="1033.51" x2="1009.9" y2="1033.51" stroke="#000" stroke-width="3"/>
<line x1="1000.4" y1="1471" x2="1005.4" y2="1471" stroke="#000" stroke-width="3"/>
<line x1="1000.4" y1="1373.78" x2="1005.4" y2="1373.78" stroke="#000" stroke-width="3"/>
<line x1="1000.4" y1="1276.56" x2="1005.4" y2="1276.56" stroke="#000" stroke-width="3"/>
<line x1="1000.4" y1="1179.34" x2="1005.4" y2="1179.34" stroke="#000" stroke-width="3"/>
<line x1="1000.4" y1="1082.12" x2="1005.4" y2="1082.12" stroke="#000" stroke-width="3"/>
<line x1="1000.4" y1="984.9" x2="1005.4" y2="984.9" stroke="#000" stroke-width="3"/>
<line x1="1000.4" y1="1471" x2="1000.4" y2="1461.5" stroke="#000" stroke-width="3"/>
<line x1="1190" y1="1471" x2="1190" y2="1461.5" stroke="#000" stroke-width="3"/>
<line x1="1379.6" y1="1471" x2="1379.6" y2="1461.5" stroke="#000" stroke-width="3"/>
<line x1="1569.2" y1="1471" x2="1569.2" y2="1461.5" stroke="#000" stroke-width="3"/>
<line x1="1758.8" y1="1471" x2="1758.8" y2="1461.5" stroke="#000" stroke-width="3"/>
<line x1="1948.4" y1="1471" x2="1948.4" y2="1461.5" stroke="#000" stroke-width="3"/>
<line x1="1095.2" y1="1471" x2="1095.2" y2="1466" stroke="#000" stroke-width="3"/>
<line x1="1284.8" y1="1471" x2="1284.8" y2="1466" stroke="#000" stroke-width="3"/>
<line x1="1474.4" y1="1471" x2="1474.4" y2="1466" stroke="#000" stroke-width="3"/>
<line x1="1664" y1="1471" x2="1664" y2="1466" stroke="#000" stroke-width="3"/>
<line x1="1853.6" y1="1471" x2="1853.6" y2="1466" stroke="#000" stroke-width="3"/>
<text transform="translate(984.8,1437.89) scale(1,1.06)" x="0" y="0" font-size="44" text-anchor="end">-4</text>
<text transform="translate(984.8,1340.67) scale(1,1.06)" x="0" y="0" font-size="44" text-anchor="end">-2</text>
<text transform="translate(984.8,1243.45) scale(1,1.06)" x="0" y="0" font-size="44" text-anchor="end">0</text>
<text transform="translate(984.8,1146.23) scale(1,1.06)" x="0" y="0" font-size="44" text-anchor="end">2</text>
<text transform="translate(984.8,1049.01) scale(1,1.06)" x="0" y="0" font-size="44" text-anchor="end">4</text>
<text transform="translate(1000.4,1521.4) scale(1,1.06)" x="0" y="0" font-size="44" text-anchor="middle">0</text>
<text transform="translate(1190,1521.4) scale(1,1.06)" x="0" y="0" font-size="44" text-anchor="middle">500</text>
<text transform="translate(1379.6,1521.4) scale(1,1.06)" x="0" y="0" font-size="44" text-anchor="middle">1000</text>
<text transform="translate(1569.2,1521.4) scale(1,1.06)" x="0" y="0" font-size="44" text-anchor="middle">1500</text>
<text transform="translate(1758.8,1521.4) scale(1,1.06)" x="0" y="0" font-size="44" text-anchor="middle">2000</text>
<text transform="translate(1948.4,1521.4) scale(1,1.06)" x="0" y="0" font-size="44" text-anchor="middle">2500</text>
<text transform="translate(1458.5,1567.2) scale(1,1.06)" x="0" y="0" font-size="44" text-anchor="middle">Time (h)</text>
<text x="0" y="0" font-size="44.7" text-anchor="middle" transform="translate(922.2,1216.5) rotate(-90) scale(1,1.06)">Voltage (V)</text>
<text transform="translate(936.4,977.3) scale(1,1.06)" x="0" y="0" font-size="48">f</text>
<line x1="1637.4" y1="1279.4" x2="1738" y2="1279.4" stroke="#f4404a" stroke-width="2.6"/>
<text transform="translate(1750.9,1293.3) scale(1,1.06)" x="0" y="0" font-size="43.4">Base</text>
<line x1="1637.4" y1="1332.5" x2="1738" y2="1332.5" stroke="#386aa0" stroke-width="2.6"/>
<text transform="translate(1750.9,1348.1) scale(1,1.06)" x="0" y="0" font-size="43.4">LF</text>
<line x1="1637.4" y1="1387.2" x2="1738" y2="1387.2" stroke="#fb9a33" stroke-width="2.6"/>
<text transform="translate(1750.9,1402.3) scale(1,1.06)" x="0" y="0" font-size="43.4">WCIE</text>
<text transform="translate(1506,1447) scale(1,1.06)" x="0" y="0" font-size="44">1 mA cm<tspan dy="-18" font-size="28.5">-2</tspan><tspan dy="18">-1 mAh cm</tspan><tspan dy="-18" font-size="28.5">-2</tspan></text>
<path d="M1027.1,1171.3 H1048 L1057,1182 V1263 L1050,1274.2 H1027.1 Z" fill="none" stroke="#000" stroke-width="2.6" stroke-dasharray="10,8"/>
<path d="M1078,1088 H1100 L1108,1100 V1305 L1103,1318 H1078 Z" fill="none" stroke="#000" stroke-width="2.6" stroke-dasharray="10,8"/>
<path d="M1566,1187 H1588 L1597,1200 V1278 L1592,1290 H1566 Z" fill="none" stroke="#000" stroke-width="2.6" stroke-dasharray="10,8"/>
<line x1="1115.3" y1="1139.1" x2="1166.99" y2="1127.44" stroke="#000" stroke-width="2.6"/>
<polygon points="1178.7,1124.8 1166.25,1133.25 1167.97,1127.22 1163.83,1122.52" fill="#000"/>
<line x1="1059" y1="1290" x2="1113.27" y2="1370.07" stroke="#000" stroke-width="2.6"/>
<polygon points="1120,1380 1107.59,1371.5 1113.83,1370.89 1116.7,1365.33" fill="#000"/>
<line x1="1600" y1="1200" x2="1653.27" y2="1188.53" stroke="#000" stroke-width="2.6"/>
<polygon points="1665,1186 1652.47,1194.32 1654.25,1188.32 1650.16,1183.57" fill="#000"/>
<rect x="1229.9" y="1006.5" width="274" height="144.1" fill="#fff"/>
<g clip-path="url(#ci1)" fill="none" stroke-linejoin="round">
<polyline points="1229.9,1082.51 1231.34,1083.95 1231.34,1073.15 1266.53,1071.71 1266.53,1082.51 1294.22,1083.95 1294.22,1073.15 1324.5,1071.71 1324.5,1082.51 1356.23,1083.95 1356.23,1073.15 1384.49,1071.71 1384.49,1082.51 1413.91,1083.95 1413.91,1073.15 1442.18,1071.71 1442.18,1082.51 1471.6,1083.95 1471.6,1073.15 1499.57,1071.71 1499.57,1082.51 1503.9,1083.95" fill="none" stroke="#fb9a33" stroke-width="3.8" stroke-linejoin="round"/>
<polyline points="1229.9,1092.06 1237.11,1092.96 1237.69,1073.15 1241.44,1069.54 1250.09,1067.38 1257.3,1063.24 1265.95,1063.24 1266.53,1082.15 1273.16,1084.85 1281.82,1088.46 1287.58,1092.96 1293.93,1092.06 1294.51,1073.15 1299.12,1069.54 1307.77,1067.38 1313.54,1063.24 1319.89,1063.24 1320.46,1080.35 1324.5,1080.35 1324.5,1080.35 1352.48,1080.35 1352.48,1074.95 1380.46,1074.95 1380.46,1080.35 1409.3,1080.35 1409.3,1074.95 1436.99,1074.95 1436.99,1080.35 1466.41,1080.35 1466.41,1074.95 1494.09,1074.95 1494.09,1080.35 1503.9,1080.35" fill="none" stroke="#f4404a" stroke-width="3.8" stroke-linejoin="round"/>
<polyline points="1229.9,1083.05 1231.34,1084.31 1231.34,1073.15 1266.53,1071.71 1266.53,1082.15 1294.22,1084.31 1294.22,1073.15 1324.5,1071.71 1324.5,1082.15 1356.23,1084.31 1356.23,1073.15 1384.49,1071.71 1384.49,1082.15 1413.91,1084.31 1413.91,1073.15 1442.18,1071.71 1442.18,1082.15 1471.6,1084.31 1471.6,1073.15 1499.57,1071.71 1499.57,1082.15 1503.9,1084.31" fill="none" stroke="#386aa0" stroke-width="3.8" stroke-linejoin="round"/>
</g>
<rect x="1229.9" y="1006.5" width="274" height="144.1" fill="none" stroke="#000" stroke-width="2.2"/>
<line x1="1229.9" y1="1150.6" x2="1235.9" y2="1150.6" stroke="#000" stroke-width="2"/>
<line x1="1229.9" y1="1114.57" x2="1235.9" y2="1114.57" stroke="#000" stroke-width="2"/>
<line x1="1229.9" y1="1078.55" x2="1235.9" y2="1078.55" stroke="#000" stroke-width="2"/>
<line x1="1229.9" y1="1042.53" x2="1235.9" y2="1042.53" stroke="#000" stroke-width="2"/>
<line x1="1229.9" y1="1006.5" x2="1235.9" y2="1006.5" stroke="#000" stroke-width="2"/>
<line x1="1229.9" y1="1132.59" x2="1233.4" y2="1132.59" stroke="#000" stroke-width="2"/>
<line x1="1229.9" y1="1096.56" x2="1233.4" y2="1096.56" stroke="#000" stroke-width="2"/>
<line x1="1229.9" y1="1060.54" x2="1233.4" y2="1060.54" stroke="#000" stroke-width="2"/>
<line x1="1229.9" y1="1024.51" x2="1233.4" y2="1024.51" stroke="#000" stroke-width="2"/>
<line x1="1330.85" y1="1150.6" x2="1330.85" y2="1144.6" stroke="#000" stroke-width="2"/>
<line x1="1475.06" y1="1150.6" x2="1475.06" y2="1144.6" stroke="#000" stroke-width="2"/>
<line x1="1258.74" y1="1150.6" x2="1258.74" y2="1147.1" stroke="#000" stroke-width="2"/>
<line x1="1402.95" y1="1150.6" x2="1402.95" y2="1147.1" stroke="#000" stroke-width="2"/>
<text transform="translate(1224.4,1159.1) scale(1,1.06)" x="0" y="0" font-size="24" text-anchor="end">-4</text>
<text transform="translate(1224.4,1123.07) scale(1,1.06)" x="0" y="0" font-size="24" text-anchor="end">-2</text>
<text transform="translate(1224.4,1087.05) scale(1,1.06)" x="0" y="0" font-size="24" text-anchor="end">0</text>
<text transform="translate(1224.4,1051.03) scale(1,1.06)" x="0" y="0" font-size="24" text-anchor="end">2</text>
<text transform="translate(1224.4,1015) scale(1,1.06)" x="0" y="0" font-size="24" text-anchor="end">4</text>
<text transform="translate(1330.85,1173.2) scale(1,1.06)" x="0" y="0" font-size="24.2" text-anchor="middle">225</text>
<text transform="translate(1475.06,1173.2) scale(1,1.06)" x="0" y="0" font-size="24.2" text-anchor="middle">230</text>
<text transform="translate(1362.5,1036) scale(1,1.06)" x="0" y="0" font-size="25.2">short circuit</text>
<line x1="1334.4" y1="1076.8" x2="1441.6" y2="1053.8" stroke="#000" stroke-width="2.2"/>
<rect x="1171.6" y="1276.2" width="303.1" height="158.8" fill="#fff"/>
<g clip-path="url(#ci2)" fill="none" stroke-linejoin="round">
<polyline points="1145.23,1403.24 1146.14,1323.84 1148.26,1319.87 1152.81,1316.69 1155.84,1315.9 1160.39,1316.69 1163.42,1315.11 1166.45,1311.14 1170.08,1300.02 1172.51,1297.64 1174.63,1298.43 1175.54,1303.99 1177.36,1385.77 1179.78,1390.54 1184.33,1393.71 1188.88,1392.12 1191.91,1395.3 1194.94,1401.65 1198.58,1409.59 1200.39,1411.18 1202.82,1405.62 1204.03,1403.24 1204.64,1403.24 1205.85,1403.24 1206.76,1323.84 1208.88,1319.87 1213.43,1316.69 1216.46,1315.9 1221.01,1316.69 1224.04,1315.11 1227.07,1311.14 1230.7,1300.02 1233.13,1297.64 1235.25,1298.43 1236.16,1303.99 1237.98,1385.77 1240.4,1390.54 1244.95,1393.71 1249.5,1392.12 1252.53,1395.3 1255.56,1401.65 1259.2,1409.59 1261.01,1411.18 1263.44,1405.62 1264.65,1403.24 1265.26,1403.24 1266.47,1403.24 1267.38,1323.84 1269.5,1319.87 1274.05,1316.69 1277.08,1315.9 1281.63,1316.69 1284.66,1315.11 1287.69,1311.14 1291.32,1300.02 1293.75,1297.64 1295.87,1298.43 1296.78,1303.99 1298.6,1385.77 1301.02,1390.54 1305.57,1393.71 1310.12,1392.12 1313.15,1395.3 1316.18,1401.65 1319.82,1409.59 1321.63,1411.18 1324.06,1405.62 1325.27,1403.24 1325.88,1403.24 1327.09,1403.24 1328,1323.84 1330.12,1319.87 1334.67,1316.69 1337.7,1315.9 1342.25,1316.69 1345.28,1315.11 1348.31,1311.14 1351.94,1300.02 1354.37,1297.64 1356.49,1298.43 1357.4,1303.99 1359.22,1385.77 1361.64,1390.54 1366.19,1393.71 1370.74,1392.12 1373.77,1395.3 1376.8,1401.65 1380.44,1409.59 1382.25,1411.18 1384.68,1405.62 1385.89,1403.24 1386.5,1403.24 1387.71,1403.24 1388.62,1323.84 1390.74,1319.87 1395.29,1316.69 1398.32,1315.9 1402.87,1316.69 1405.9,1315.11 1408.93,1311.14 1412.56,1300.02 1414.99,1297.64 1417.11,1298.43 1418.02,1303.99 1419.84,1385.77 1422.26,1390.54 1426.81,1393.71 1431.36,1392.12 1434.39,1395.3 1437.42,1401.65 1441.06,1409.59 1442.87,1411.18 1445.3,1405.62 1446.51,1403.24 1447.12,1403.24 1448.33,1403.24 1449.24,1323.84 1451.36,1319.87 1455.91,1316.69 1458.94,1315.9 1463.49,1316.69 1466.52,1315.11 1469.55,1311.14 1473.18,1300.02 1475.61,1297.64 1477.73,1298.43 1478.64,1303.99 1480.46,1385.77 1482.88,1390.54 1487.43,1393.71 1491.98,1392.12 1495.01,1395.3 1498.04,1401.65 1501.68,1409.59 1503.49,1411.18 1505.92,1405.62 1507.13,1403.24 1507.74,1403.24" fill="none" stroke="#f4404a" stroke-width="2.6" stroke-linejoin="round"/>
<polyline points="1145.23,1368.3 1145.84,1346.07 1154.32,1345.28 1166.45,1343.69 1175.54,1342.1 1177.36,1365.13 1185.85,1365.53 1194.94,1366.32 1204.64,1368.3 1205.85,1368.3 1206.46,1346.07 1214.94,1345.28 1227.07,1343.69 1236.16,1342.1 1237.98,1365.13 1246.47,1365.53 1255.56,1366.32 1265.26,1368.3 1266.47,1368.3 1267.08,1346.07 1275.56,1345.28 1287.69,1343.69 1296.78,1342.1 1298.6,1365.13 1307.09,1365.53 1316.18,1366.32 1325.88,1368.3 1327.09,1368.3 1327.7,1346.07 1336.18,1345.28 1348.31,1343.69 1357.4,1342.1 1359.22,1365.13 1367.71,1365.53 1376.8,1366.32 1386.5,1368.3 1387.71,1368.3 1388.32,1346.07 1396.8,1345.28 1408.93,1343.69 1418.02,1342.1 1419.84,1365.13 1428.33,1365.53 1437.42,1366.32 1447.12,1368.3 1448.33,1368.3 1448.94,1346.07 1457.42,1345.28 1469.55,1343.69 1478.64,1342.1 1480.46,1365.13 1488.95,1365.53 1498.04,1366.32 1507.74,1368.3" fill="none" stroke="#fb9a33" stroke-width="2.6" stroke-linejoin="round"/>
<polyline points="1145.23,1387.36 1145.84,1337.34 1149.78,1340.51 1155.84,1342.9 1161.9,1342.9 1167.96,1338.13 1171.9,1329.4 1174.02,1323.84 1175.54,1325.43 1177.36,1375.45 1181.3,1373.86 1185.85,1370.69 1190.39,1371.48 1194.94,1375.45 1199.49,1381.8 1202.52,1386.57 1204.64,1387.36 1205.85,1387.36 1206.46,1337.34 1210.4,1340.51 1216.46,1342.9 1222.52,1342.9 1228.58,1338.13 1232.52,1329.4 1234.64,1323.84 1236.16,1325.43 1237.98,1375.45 1241.92,1373.86 1246.47,1370.69 1251.01,1371.48 1255.56,1375.45 1260.11,1381.8 1263.14,1386.57 1265.26,1387.36 1266.47,1387.36 1267.08,1337.34 1271.02,1340.51 1277.08,1342.9 1283.14,1342.9 1289.2,1338.13 1293.14,1329.4 1295.26,1323.84 1296.78,1325.43 1298.6,1375.45 1302.54,1373.86 1307.09,1370.69 1311.63,1371.48 1316.18,1375.45 1320.73,1381.8 1323.76,1386.57 1325.88,1387.36 1327.09,1387.36 1327.7,1337.34 1331.64,1340.51 1337.7,1342.9 1343.76,1342.9 1349.82,1338.13 1353.76,1329.4 1355.88,1323.84 1357.4,1325.43 1359.22,1375.45 1363.16,1373.86 1367.71,1370.69 1372.25,1371.48 1376.8,1375.45 1381.35,1381.8 1384.38,1386.57 1386.5,1387.36 1387.71,1387.36 1388.32,1337.34 1392.26,1340.51 1398.32,1342.9 1404.38,1342.9 1410.44,1338.13 1414.38,1329.4 1416.5,1323.84 1418.02,1325.43 1419.84,1375.45 1423.78,1373.86 1428.33,1370.69 1432.87,1371.48 1437.42,1375.45 1441.97,1381.8 1445,1386.57 1447.12,1387.36 1448.33,1387.36 1448.94,1337.34 1452.88,1340.51 1458.94,1342.9 1465,1342.9 1471.06,1338.13 1475,1329.4 1477.12,1323.84 1478.64,1325.43 1480.46,1375.45 1484.4,1373.86 1488.95,1370.69 1493.49,1371.48 1498.04,1375.45 1502.59,1381.8 1505.62,1386.57 1507.74,1387.36" fill="none" stroke="#386aa0" stroke-width="2.6" stroke-linejoin="round"/>
</g>
<rect x="1171.6" y="1276.2" width="303.1" height="158.8" fill="none" stroke="#000" stroke-width="2.4"/>
<line x1="1171.6" y1="1435" x2="1177.6" y2="1435" stroke="#000" stroke-width="2"/>
<line x1="1171.6" y1="1355.6" x2="1177.6" y2="1355.6" stroke="#000" stroke-width="2"/>
<line x1="1171.6" y1="1276.2" x2="1177.6" y2="1276.2" stroke="#000" stroke-width="2"/>
<line x1="1171.6" y1="1395.3" x2="1175.1" y2="1395.3" stroke="#000" stroke-width="2"/>
<line x1="1171.6" y1="1315.9" x2="1175.1" y2="1315.9" stroke="#000" stroke-width="2"/>
<line x1="1232.22" y1="1435" x2="1232.22" y2="1429" stroke="#000" stroke-width="2"/>
<line x1="1474.7" y1="1435" x2="1474.7" y2="1429" stroke="#000" stroke-width="2"/>
<line x1="1353.46" y1="1435" x2="1353.46" y2="1431.5" stroke="#000" stroke-width="2"/>
<text transform="translate(1166.2,1284.4) scale(1,1.06)" x="0" y="0" font-size="26" text-anchor="end">1</text>
<text transform="translate(1166.2,1364.3) scale(1,1.06)" x="0" y="0" font-size="26" text-anchor="end">0</text>
<text transform="translate(1166.2,1443.1) scale(1,1.06)" x="0" y="0" font-size="26" text-anchor="end">-1</text>
<text transform="translate(1232.22,1461.2) scale(1,1.06)" x="0" y="0" font-size="26" text-anchor="middle">112</text>
<text transform="translate(1475.2,1461.2) scale(1,1.06)" x="0" y="0" font-size="26" text-anchor="middle">120</text>
<rect x="1616.6" y="1004.3" width="274.8" height="143.8" fill="#fff"/>
<g clip-path="url(#ci3)" fill="none" stroke-linejoin="round">
<polyline points="1614.68,1099.04 1614.84,1056.95 1615.36,1051.92 1616.33,1051.2 1617.56,1054.08 1617.81,1095.45 1618.39,1100.48 1619.62,1101.2 1620.86,1099.04 1620.91,1099.11 1621.08,1056.88 1621.6,1051.85 1622.56,1051.13 1623.8,1054.01 1624.05,1095.52 1624.62,1100.55 1625.86,1101.27 1627.1,1099.11 1627.15,1100.23 1627.32,1055.77 1627.84,1050.73 1628.8,1050.02 1630.04,1052.89 1630.29,1096.63 1630.86,1101.67 1632.1,1102.38 1633.34,1100.23 1633.39,1099.04 1633.56,1056.95 1634.08,1051.92 1635.04,1051.2 1636.28,1054.08 1636.52,1095.45 1637.1,1100.48 1638.34,1101.2 1639.57,1099.04 1639.63,1100.61 1639.79,1055.39 1640.32,1050.36 1641.28,1049.64 1642.51,1052.51 1642.76,1097.01 1643.34,1102.04 1644.57,1102.76 1645.81,1100.61 1645.87,1099.88 1646.03,1056.11 1646.55,1051.08 1647.51,1050.36 1648.75,1053.24 1649,1096.29 1649.58,1101.32 1650.81,1102.04 1652.05,1099.88 1652.1,1100.53 1652.27,1055.47 1652.79,1050.43 1653.75,1049.72 1654.99,1052.59 1655.24,1096.93 1655.81,1101.97 1657.05,1102.68 1658.29,1100.53 1658.34,1098.98 1658.51,1057.01 1659.03,1051.98 1659.99,1051.26 1661.23,1054.14 1661.47,1095.39 1662.05,1100.42 1663.29,1101.14 1664.53,1098.98 1664.58,1098.55 1664.74,1057.44 1665.27,1052.41 1666.23,1051.69 1667.47,1054.57 1667.71,1094.96 1668.29,1099.99 1669.53,1100.71 1670.76,1098.55 1670.82,1098.78 1670.98,1057.22 1671.51,1052.19 1672.47,1051.47 1673.7,1054.34 1673.95,1095.18 1674.53,1100.21 1675.76,1100.93 1677,1098.78 1677.06,1099.99 1677.22,1056.01 1677.74,1050.97 1678.7,1050.25 1679.94,1053.13 1680.19,1096.39 1680.77,1101.43 1682,1102.15 1683.24,1099.99 1683.29,1098.73 1683.46,1057.26 1683.98,1052.23 1684.94,1051.51 1686.18,1054.39 1686.43,1095.14 1687,1100.17 1688.24,1100.89 1689.48,1098.73 1689.53,1100.31 1689.7,1055.69 1690.22,1050.66 1691.18,1049.94 1692.42,1052.81 1692.66,1096.71 1693.24,1101.74 1694.48,1102.46 1695.71,1100.31 1695.77,1097.38 1695.93,1058.61 1696.46,1053.58 1697.42,1052.86 1698.66,1055.74 1698.9,1093.79 1699.48,1098.82 1700.72,1099.54 1701.95,1097.38 1702.01,1098.86 1702.17,1057.13 1702.69,1052.1 1703.66,1051.38 1704.89,1054.26 1705.14,1095.27 1705.72,1100.3 1706.95,1101.02 1708.19,1098.86 1708.25,1099.39 1708.41,1056.6 1708.93,1051.57 1709.89,1050.85 1711.13,1053.73 1711.38,1095.8 1711.96,1100.83 1713.19,1101.55 1714.43,1099.39 1714.48,1097.63 1714.65,1058.37 1715.17,1053.34 1716.13,1052.62 1717.37,1055.49 1717.62,1094.03 1718.19,1099.06 1719.43,1099.78 1720.67,1097.63 1720.72,1098.92 1720.89,1057.08 1721.41,1052.04 1722.37,1051.32 1723.61,1054.2 1723.85,1095.32 1724.43,1100.36 1725.67,1101.08 1726.9,1098.92 1726.96,1097.98 1727.12,1058.02 1727.65,1052.98 1728.61,1052.26 1729.85,1055.14 1730.09,1094.38 1730.67,1099.42 1731.91,1100.14 1733.14,1097.98 1733.2,1099.49 1733.36,1056.5 1733.88,1051.47 1734.85,1050.75 1736.08,1053.63 1736.33,1095.9 1736.91,1100.93 1738.14,1101.65 1739.38,1099.49 1739.44,1099.31 1739.6,1056.68 1740.12,1051.65 1741.08,1050.93 1742.32,1053.81 1742.57,1095.72 1743.15,1100.75 1744.38,1101.47 1745.62,1099.31 1745.67,1100.36 1745.84,1055.64 1746.36,1050.6 1747.32,1049.89 1748.56,1052.76 1748.81,1096.76 1749.38,1101.8 1750.62,1102.51 1751.86,1100.36 1751.91,1098.68 1752.08,1057.32 1752.6,1052.29 1753.56,1051.57 1754.8,1054.44 1755.04,1095.08 1755.62,1100.11 1756.86,1100.83 1758.09,1098.68 1758.15,1097.84 1758.31,1058.16 1758.84,1053.12 1759.8,1052.4 1761.03,1055.28 1761.28,1094.24 1761.86,1099.28 1763.1,1100 1764.33,1097.84 1764.39,1104.96 1764.55,1051.03 1765.07,1046 1766.04,1045.28 1767.27,1048.16 1767.52,1101.37 1768.1,1106.4 1769.33,1107.12 1770.57,1104.96 1770.63,1099.71 1770.79,1056.29 1771.31,1051.25 1772.27,1050.54 1773.51,1053.41 1773.76,1096.11 1774.34,1101.15 1775.57,1101.86 1776.81,1099.71 1776.86,1099.67 1777.03,1056.33 1777.55,1051.29 1778.51,1050.57 1779.75,1053.45 1780,1096.07 1780.57,1101.11 1781.81,1101.83 1783.05,1099.67 1783.1,1099.75 1783.27,1056.25 1783.79,1051.21 1784.75,1050.49 1785.99,1053.37 1786.23,1096.15 1786.81,1101.19 1788.05,1101.91 1789.28,1099.75 1789.34,1100.87 1789.5,1055.13 1790.03,1050.1 1790.99,1049.38 1792.22,1052.25 1792.47,1097.27 1793.05,1102.3 1794.29,1103.02 1795.52,1100.87 1795.58,1099.19 1795.74,1056.8 1796.26,1051.77 1797.23,1051.05 1798.46,1053.93 1798.71,1095.6 1799.29,1100.63 1800.52,1101.35 1801.76,1099.19 1801.82,1099.35 1801.98,1056.65 1802.5,1051.62 1803.46,1050.9 1804.7,1053.77 1804.95,1095.75 1805.52,1100.78 1806.76,1101.5 1808,1099.35 1808.05,1098.67 1808.22,1057.32 1808.74,1052.29 1809.7,1051.57 1810.94,1054.45 1811.19,1095.08 1811.76,1100.11 1813,1100.83 1814.24,1098.67 1814.29,1098.94 1814.46,1057.05 1814.98,1052.02 1815.94,1051.3 1817.18,1054.18 1817.42,1095.35 1818,1100.38 1819.24,1101.1 1820.47,1098.94 1820.53,1100.68 1820.69,1055.31 1821.22,1050.28 1822.18,1049.56 1823.41,1052.44 1823.66,1097.09 1824.24,1102.12 1825.48,1102.84 1826.71,1100.68 1826.77,1099.96 1826.93,1056.04 1827.45,1051.01 1828.42,1050.29 1829.65,1053.16 1829.9,1096.36 1830.48,1101.39 1831.71,1102.11 1832.95,1099.96 1833.01,1096.79 1833.17,1059.2 1833.69,1054.17 1834.65,1053.45 1835.89,1056.33 1836.14,1093.2 1836.71,1098.23 1837.95,1098.95 1839.19,1096.79 1839.24,1100.85 1839.41,1055.14 1839.93,1050.11 1840.89,1049.39 1842.13,1052.27 1842.38,1097.26 1842.95,1102.29 1844.19,1103.01 1845.43,1100.85 1845.48,1097.46 1845.65,1058.54 1846.17,1053.51 1847.13,1052.79 1848.37,1055.66 1848.61,1093.86 1849.19,1098.89 1850.43,1099.61 1851.66,1097.46 1851.72,1099.14 1851.88,1056.86 1852.41,1051.83 1853.37,1051.11 1854.6,1053.98 1854.85,1095.54 1855.43,1100.57 1856.67,1101.29 1857.9,1099.14 1857.96,1100.6 1858.12,1055.39 1858.64,1050.36 1859.61,1049.64 1860.84,1052.51 1861.09,1097.01 1861.67,1102.04 1862.9,1102.76 1864.14,1100.6 1864.19,1099.71 1864.36,1056.28 1864.88,1051.25 1865.84,1050.53 1867.08,1053.41 1867.33,1096.12 1867.9,1101.15 1869.14,1101.87 1870.38,1099.71 1870.43,1100.17 1870.6,1055.83 1871.12,1050.8 1872.08,1050.08 1873.32,1052.95 1873.57,1096.57 1874.14,1101.6 1875.38,1102.32 1876.62,1100.17 1876.67,1100.5 1876.84,1055.5 1877.36,1050.47 1878.32,1049.75 1879.56,1052.62 1879.8,1096.9 1880.38,1101.93 1881.62,1102.65 1882.85,1100.5 1882.91,1099.89 1883.07,1056.1 1883.6,1051.07 1884.56,1050.35 1885.79,1053.23 1886.04,1096.3 1886.62,1101.33 1887.86,1102.05 1889.09,1099.89 1889.15,1098.24 1889.31,1057.76 1889.83,1052.72 1890.8,1052.01 1892.03,1054.88 1892.28,1094.64 1892.86,1099.68 1894.09,1100.39 1895.33,1098.24 1895.38,1099.97 1895.55,1056.03 1896.07,1051 1897.03,1050.28 1898.27,1053.15 1898.52,1096.37 1899.09,1101.4 1900.33,1102.12 1901.57,1099.97" fill="none" stroke="#fb9a33" stroke-width="2.7" stroke-linejoin="round"/>
<rect x="1616.6" y="1072.96" width="241.82" height="8.27" fill="#386aa0"/>
<polyline points="1617.97,1076.2 1619.9,1036.65 1622.1,1076.2" fill="none" stroke="#386aa0" stroke-width="2.2" stroke-linejoin="round"/>
<polyline points="1623.74,1076.2 1624.57,1068.29 1626.49,1068.29 1627.32,1076.2" fill="none" stroke="#386aa0" stroke-width="2.2" stroke-linejoin="round"/>
<polyline points="1852.93,1072.96 1866.67,1072.61" fill="none" stroke="#386aa0" stroke-width="2.5" stroke-linejoin="round"/>
</g>
<rect x="1616.6" y="1004.3" width="274.8" height="143.8" fill="none" stroke="#000" stroke-width="2.4"/>
<line x1="1616.6" y1="1148.1" x2="1622.6" y2="1148.1" stroke="#000" stroke-width="2"/>
<line x1="1616.6" y1="1076.2" x2="1622.6" y2="1076.2" stroke="#000" stroke-width="2"/>
<line x1="1616.6" y1="1004.3" x2="1622.6" y2="1004.3" stroke="#000" stroke-width="2"/>
<line x1="1671.56" y1="1148.1" x2="1671.56" y2="1143.1" stroke="#000" stroke-width="2"/>
<line x1="1781.48" y1="1148.1" x2="1781.48" y2="1143.1" stroke="#000" stroke-width="2"/>
<line x1="1891.4" y1="1148.1" x2="1891.4" y2="1143.1" stroke="#000" stroke-width="2"/>
<line x1="1726.52" y1="1148.1" x2="1726.52" y2="1145.1" stroke="#000" stroke-width="2"/>
<line x1="1836.44" y1="1148.1" x2="1836.44" y2="1145.1" stroke="#000" stroke-width="2"/>
<text transform="translate(1610.5,1011.3) scale(1,1.06)" x="0" y="0" font-size="24.5" text-anchor="end">1</text>
<text transform="translate(1610.5,1083.3) scale(1,1.06)" x="0" y="0" font-size="24.5" text-anchor="end">0</text>
<text transform="translate(1610.5,1155.7) scale(1,1.06)" x="0" y="0" font-size="24.5" text-anchor="end">-1</text>
<text transform="translate(1671.56,1171.9) scale(1,1.06)" x="0" y="0" font-size="24" text-anchor="middle">1520</text>
<text transform="translate(1781.48,1171.9) scale(1,1.06)" x="0" y="0" font-size="24" text-anchor="middle">1560</text>
<text transform="translate(1891.4,1171.9) scale(1,1.06)" x="0" y="0" font-size="24" text-anchor="middle">1600</text>
<line x1="295.98" y1="1278.39" x2="287.28" y2="956.52" stroke="#c4c4c4" stroke-width="1"/>
<line x1="342.07" y1="1260.99" x2="336.16" y2="948.53" stroke="#c4c4c4" stroke-width="1"/>
<line x1="385.43" y1="1244.61" x2="381.99" y2="941.05" stroke="#c4c4c4" stroke-width="1"/>
<line x1="426.29" y1="1229.18" x2="425.05" y2="934.02" stroke="#c4c4c4" stroke-width="1"/>
<line x1="245.87" y1="1268.27" x2="464.92" y2="1189.63" stroke="#c4c4c4" stroke-width="1"/>
<line x1="243.79" y1="1210.09" x2="465.05" y2="1139.02" stroke="#c4c4c4" stroke-width="1"/>
<line x1="241.67" y1="1150.72" x2="465.18" y2="1087.51" stroke="#c4c4c4" stroke-width="1"/>
<line x1="239.5" y1="1090.11" x2="465.31" y2="1035.09" stroke="#c4c4c4" stroke-width="1"/>
<line x1="237.29" y1="1028.24" x2="465.44" y2="981.72" stroke="#c4c4c4" stroke-width="1"/>
<line x1="520.75" y1="1230.28" x2="524.35" y2="934.77" stroke="#c4c4c4" stroke-width="1"/>
<line x1="580.11" y1="1246.92" x2="586.97" y2="942.61" stroke="#c4c4c4" stroke-width="1"/>
<line x1="643.28" y1="1264.62" x2="653.82" y2="950.99" stroke="#c4c4c4" stroke-width="1"/>
<line x1="464.92" y1="1189.63" x2="711.9" y2="1255.52" stroke="#c4c4c4" stroke-width="1"/>
<line x1="465.05" y1="1139.02" x2="714.49" y2="1198.75" stroke="#c4c4c4" stroke-width="1"/>
<line x1="465.18" y1="1087.51" x2="717.12" y2="1140.84" stroke="#c4c4c4" stroke-width="1"/>
<line x1="465.31" y1="1035.09" x2="719.81" y2="1081.76" stroke="#c4c4c4" stroke-width="1"/>
<line x1="465.44" y1="981.72" x2="722.56" y2="1021.48" stroke="#c4c4c4" stroke-width="1"/>
<line x1="304.52" y1="1318.13" x2="520.75" y2="1230.28" stroke="#c4c4c4" stroke-width="1"/>
<line x1="366.35" y1="1340.87" x2="580.11" y2="1246.92" stroke="#c4c4c4" stroke-width="1"/>
<line x1="432.87" y1="1365.34" x2="643.28" y2="1264.62" stroke="#c4c4c4" stroke-width="1"/>
<line x1="295.98" y1="1278.39" x2="551.8" y2="1366.95" stroke="#c4c4c4" stroke-width="1"/>
<line x1="342.07" y1="1260.99" x2="595.68" y2="1343.89" stroke="#c4c4c4" stroke-width="1"/>
<line x1="385.43" y1="1244.61" x2="636.59" y2="1322.4" stroke="#c4c4c4" stroke-width="1"/>
<line x1="426.29" y1="1229.18" x2="674.82" y2="1302.31" stroke="#c4c4c4" stroke-width="1"/>
<line x1="235.03" y1="965.05" x2="465.57" y2="927.4" stroke="#000" stroke-width="1.2"/>
<line x1="465.57" y1="927.4" x2="725.36" y2="959.96" stroke="#000" stroke-width="1.2"/>
<line x1="725.36" y1="959.96" x2="710.63" y2="1283.49" stroke="#000" stroke-width="1.2"/>
<line x1="464.86" y1="1214.62" x2="465.57" y2="927.4" stroke="#000" stroke-width="1.2"/>
<line x1="246.89" y1="1296.93" x2="464.86" y2="1214.62" stroke="#000" stroke-width="1.2"/>
<line x1="464.86" y1="1214.62" x2="710.63" y2="1283.49" stroke="#000" stroke-width="1.2"/>
<line x1="246.89" y1="1296.93" x2="235.03" y2="965.05" stroke="#000" stroke-width="2.2" stroke-linecap="square"/>
<line x1="246.89" y1="1296.93" x2="504.62" y2="1391.74" stroke="#000" stroke-width="2.2" stroke-linecap="square"/>
<line x1="504.62" y1="1391.74" x2="710.63" y2="1283.49" stroke="#000" stroke-width="2.2" stroke-linecap="square"/>
<line x1="245.87" y1="1268.27" x2="237.87" y2="1268.67" stroke="#000" stroke-width="2"/>
<line x1="244.84" y1="1239.33" x2="239.84" y2="1239.58" stroke="#000" stroke-width="2"/>
<line x1="243.79" y1="1210.09" x2="235.79" y2="1210.49" stroke="#000" stroke-width="2"/>
<line x1="242.73" y1="1180.56" x2="237.73" y2="1180.81" stroke="#000" stroke-width="2"/>
<line x1="241.67" y1="1150.72" x2="233.67" y2="1151.12" stroke="#000" stroke-width="2"/>
<line x1="240.59" y1="1120.57" x2="235.59" y2="1120.82" stroke="#000" stroke-width="2"/>
<line x1="239.5" y1="1090.11" x2="231.5" y2="1090.51" stroke="#000" stroke-width="2"/>
<line x1="238.4" y1="1059.34" x2="233.4" y2="1059.59" stroke="#000" stroke-width="2"/>
<line x1="237.29" y1="1028.24" x2="229.29" y2="1028.64" stroke="#000" stroke-width="2"/>
<line x1="236.17" y1="996.81" x2="231.17" y2="997.06" stroke="#000" stroke-width="2"/>
<line x1="235.03" y1="965.05" x2="227.03" y2="965.45" stroke="#000" stroke-width="2"/>
<line x1="246.89" y1="1296.93" x2="253.2" y2="1294.55" stroke="#000" stroke-width="2"/>
<line x1="275.21" y1="1307.34" x2="279.75" y2="1305.57" stroke="#000" stroke-width="2"/>
<line x1="304.52" y1="1318.13" x2="310.81" y2="1315.57" stroke="#000" stroke-width="2"/>
<line x1="334.88" y1="1329.3" x2="339.4" y2="1327.39" stroke="#000" stroke-width="2"/>
<line x1="366.35" y1="1340.87" x2="372.6" y2="1338.13" stroke="#000" stroke-width="2"/>
<line x1="398.99" y1="1352.88" x2="403.48" y2="1350.83" stroke="#000" stroke-width="2"/>
<line x1="432.87" y1="1365.34" x2="439.05" y2="1362.38" stroke="#000" stroke-width="2"/>
<line x1="468.05" y1="1378.29" x2="472.48" y2="1376.07" stroke="#000" stroke-width="2"/>
<line x1="504.62" y1="1391.74" x2="510.71" y2="1388.54" stroke="#000" stroke-width="2"/>
<line x1="504.62" y1="1391.74" x2="511.2" y2="1394.16" stroke="#000" stroke-width="2"/>
<line x1="528.65" y1="1379.11" x2="533.11" y2="1380.7" stroke="#000" stroke-width="2"/>
<line x1="551.8" y1="1366.95" x2="558.31" y2="1369.2" stroke="#000" stroke-width="2"/>
<line x1="574.13" y1="1355.21" x2="578.53" y2="1356.69" stroke="#000" stroke-width="2"/>
<line x1="595.68" y1="1343.89" x2="602.1" y2="1345.99" stroke="#000" stroke-width="2"/>
<line x1="616.49" y1="1332.96" x2="620.83" y2="1334.34" stroke="#000" stroke-width="2"/>
<line x1="636.59" y1="1322.4" x2="642.92" y2="1324.36" stroke="#000" stroke-width="2"/>
<line x1="656.02" y1="1312.18" x2="660.3" y2="1313.48" stroke="#000" stroke-width="2"/>
<line x1="674.82" y1="1302.31" x2="681.06" y2="1304.14" stroke="#000" stroke-width="2"/>
<line x1="693.01" y1="1292.75" x2="697.23" y2="1293.96" stroke="#000" stroke-width="2"/>
<line x1="710.63" y1="1283.49" x2="716.77" y2="1285.22" stroke="#000" stroke-width="2"/>
<line x1="601.26" y1="962.06" x2="593.1" y2="1288.64" stroke="#f04040" stroke-width="2.4" stroke-dasharray="8,6"/>
<line x1="601.26" y1="962.06" x2="410.28" y2="936.43" stroke="#f04040" stroke-width="2.4" stroke-dasharray="8,6"/>
<line x1="601.26" y1="962.06" x2="653.82" y2="950.99" stroke="#f04040" stroke-width="2.4" stroke-dasharray="8,6"/>
<line x1="408.3" y1="1230.32" x2="408.52" y2="1259.19" stroke="#8a108a" stroke-width="2.4" stroke-dasharray="8,6"/>
<line x1="408.3" y1="1230.32" x2="374.46" y2="1220.24" stroke="#8a108a" stroke-width="2.4" stroke-dasharray="8,6"/>
<line x1="408.3" y1="1230.32" x2="498.22" y2="1196.73" stroke="#8a108a" stroke-width="2.4" stroke-dasharray="8,6"/>
<line x1="401.17" y1="1249.81" x2="401.41" y2="1278.76" stroke="#1020c0" stroke-width="2.4" stroke-dasharray="8,6"/>
<line x1="401.17" y1="1249.81" x2="343.78" y2="1232.03" stroke="#1020c0" stroke-width="2.4" stroke-dasharray="8,6"/>
<line x1="401.17" y1="1249.81" x2="521.07" y2="1203.58" stroke="#1020c0" stroke-width="2.4" stroke-dasharray="8,6"/>
<line x1="593.46" y1="1115.77" x2="589.21" y2="1290.5" stroke="#f0108a" stroke-width="2.4" stroke-dasharray="8,6"/>
<line x1="593.46" y1="1115.77" x2="407.02" y2="1076.2" stroke="#f0108a" stroke-width="2.4" stroke-dasharray="8,6"/>
<line x1="593.46" y1="1115.77" x2="648.91" y2="1097.13" stroke="#f0108a" stroke-width="2.4" stroke-dasharray="8,6"/>
<line x1="437.74" y1="1329" x2="437.82" y2="1362.97" stroke="#4e2488" stroke-width="2.4" stroke-dasharray="8,6"/>
<line x1="437.74" y1="1329" x2="250.87" y2="1264.15" stroke="#4e2488" stroke-width="2.4" stroke-dasharray="8,6"/>
<line x1="437.74" y1="1329" x2="644.26" y2="1235.27" stroke="#4e2488" stroke-width="2.4" stroke-dasharray="8,6"/>
<line x1="595.98" y1="1173.47" x2="593.1" y2="1288.64" stroke="#3b5410" stroke-width="2.4" stroke-dasharray="8,6"/>
<line x1="595.98" y1="1173.47" x2="411.56" y2="1129.02" stroke="#3b5410" stroke-width="2.4" stroke-dasharray="8,6"/>
<line x1="595.98" y1="1173.47" x2="647" y2="1153.85" stroke="#3b5410" stroke-width="2.4" stroke-dasharray="8,6"/>
<line x1="530.72" y1="1258.31" x2="529.87" y2="1318.91" stroke="#22486e" stroke-width="2.4" stroke-dasharray="8,6"/>
<line x1="530.72" y1="1258.31" x2="345.52" y2="1203.98" stroke="#22486e" stroke-width="2.4" stroke-dasharray="8,6"/>
<line x1="530.72" y1="1258.31" x2="645.15" y2="1208.94" stroke="#22486e" stroke-width="2.4" stroke-dasharray="8,6"/>
<line x1="305.24" y1="1286.2" x2="306.03" y2="1317.51" stroke="#f010f0" stroke-width="2.4" stroke-dasharray="8,6"/>
<line x1="305.24" y1="1286.2" x2="247.34" y2="1266" stroke="#f010f0" stroke-width="2.4" stroke-dasharray="8,6"/>
<line x1="305.24" y1="1286.2" x2="521.08" y2="1203.06" stroke="#f010f0" stroke-width="2.4" stroke-dasharray="8,6"/>
<line x1="553.6" y1="1277" x2="553.05" y2="1307.81" stroke="#6a9ed6" stroke-width="2.4" stroke-dasharray="8,6"/>
<line x1="553.6" y1="1277" x2="370.16" y2="1222.04" stroke="#6a9ed6" stroke-width="2.4" stroke-dasharray="8,6"/>
<line x1="553.6" y1="1277" x2="644.24" y2="1235.82" stroke="#6a9ed6" stroke-width="2.4" stroke-dasharray="8,6"/>
<line x1="427.34" y1="1239.72" x2="427.45" y2="1268.18" stroke="#7a5a18" stroke-width="2.4" stroke-dasharray="8,6"/>
<line x1="427.34" y1="1239.72" x2="370.16" y2="1222.58" stroke="#7a5a18" stroke-width="2.4" stroke-dasharray="8,6"/>
<line x1="427.34" y1="1239.72" x2="521.07" y2="1203.58" stroke="#7a5a18" stroke-width="2.4" stroke-dasharray="8,6"/>
<line x1="482.71" y1="1233.67" x2="482.64" y2="1245.76" stroke="#9a9a10" stroke-width="2.4" stroke-dasharray="8,6"/>
<line x1="482.71" y1="1233.67" x2="426.24" y2="1217.42" stroke="#9a9a10" stroke-width="2.4" stroke-dasharray="8,6"/>
<line x1="482.71" y1="1233.67" x2="520.89" y2="1218.5" stroke="#9a9a10" stroke-width="2.4" stroke-dasharray="8,6"/>
<line x1="483.39" y1="1110.93" x2="482.64" y2="1245.76" stroke="#0c5e62" stroke-width="2.4" stroke-dasharray="8,6"/>
<line x1="483.39" y1="1110.93" x2="425.74" y2="1098.13" stroke="#0c5e62" stroke-width="2.4" stroke-dasharray="8,6"/>
<line x1="483.39" y1="1110.93" x2="522.35" y2="1099.07" stroke="#0c5e62" stroke-width="2.4" stroke-dasharray="8,6"/>
<line x1="466.95" y1="1181.32" x2="466.75" y2="1252.22" stroke="#10959a" stroke-width="2.4" stroke-dasharray="8,6"/>
<line x1="466.95" y1="1181.32" x2="409.75" y2="1166.33" stroke="#10959a" stroke-width="2.4" stroke-dasharray="8,6"/>
<line x1="466.95" y1="1181.32" x2="521.58" y2="1162.02" stroke="#10959a" stroke-width="2.4" stroke-dasharray="8,6"/>
<line x1="493.35" y1="1108.45" x2="492.38" y2="1241.81" stroke="#6a3c0c" stroke-width="2.4" stroke-dasharray="8,6"/>
<line x1="493.35" y1="1108.45" x2="435.82" y2="1095.81" stroke="#6a3c0c" stroke-width="2.4" stroke-dasharray="8,6"/>
<line x1="493.35" y1="1108.45" x2="522.34" y2="1099.61" stroke="#6a3c0c" stroke-width="2.4" stroke-dasharray="8,6"/>
<circle cx="493.35" cy="1108.45" r="8.2" fill="url(#g3)"/>
<circle cx="482.71" cy="1233.67" r="8.2" fill="url(#g4)"/>
<circle cx="483.39" cy="1110.93" r="8.2" fill="url(#g5)"/>
<circle cx="466.95" cy="1181.32" r="8.2" fill="url(#g6)"/>
<circle cx="408.3" cy="1230.32" r="8.2" fill="url(#g7)"/>
<circle cx="427.34" cy="1239.72" r="8.2" fill="url(#g8)"/>
<circle cx="401.17" cy="1249.81" r="8.2" fill="url(#g9)"/>
<circle cx="601.26" cy="962.06" r="8.2" fill="url(#g10)"/>
<circle cx="595.98" cy="1173.47" r="8.2" fill="url(#g11)"/>
<circle cx="593.46" cy="1115.77" r="8.2" fill="url(#g12)"/>
<circle cx="553.6" cy="1277" r="8.2" fill="url(#g13)"/>
<circle cx="305.24" cy="1286.2" r="8.2" fill="url(#g14)"/>
<circle cx="530.72" cy="1258.31" r="8.2" fill="url(#g15)"/>
<circle cx="437.74" cy="1329" r="8.2" fill="url(#g16)"/>
<text font-size="44" text-anchor="middle" transform="translate(213.0,1275.6) skewY(-19.75) scale(0.75,1)" y="15.7">100</text>
<text font-size="44" text-anchor="middle" transform="translate(209.0,1219.0) skewY(-17.81) scale(0.75,1)" y="15.7">200</text>
<text font-size="44" text-anchor="middle" transform="translate(206.0,1158.5) skewY(-15.79) scale(0.75,1)" y="15.7">300</text>
<text font-size="44" text-anchor="middle" transform="translate(203.2,1096.7) skewY(-13.70) scale(0.75,1)" y="15.7">400</text>
<text font-size="44" text-anchor="middle" transform="translate(201.4,1034.3) skewY(-11.52) scale(0.75,1)" y="15.7">500</text>
<text font-size="44" text-anchor="middle" transform="translate(196.7,970.2) skewY(-9.28) scale(0.75,1)" y="15.7">600</text>
<text x="0" y="0" font-size="41.5" text-anchor="middle" transform="translate(133.5,1153) rotate(86.5) scale(1,1.06)">Cycle Number</text>
<text font-size="37" text-anchor="middle" transform="matrix(0.8887,-0.3356,0.8892,0.3345,221.78,1312.93)">0.25</text>
<text font-size="37" text-anchor="middle" transform="matrix(0.8801,-0.3576,0.8892,0.3345,280.28,1335.43)">0.50</text>
<text font-size="37" text-anchor="middle" transform="matrix(0.8697,-0.3823,0.8892,0.3345,341.28,1358.43)">0.75</text>
<text font-size="37" text-anchor="middle" transform="matrix(0.8569,-0.4102,0.8892,0.3345,408.78,1384.73)">1.00</text>
<text font-size="37" text-anchor="middle" transform="matrix(0.8410,-0.4419,0.8892,0.3345,480.78,1412.33)">1.25</text>
<text font-size="37" text-anchor="middle" transform="matrix(0.9385,0.3453,-0.7259,0.3814,526.78,1403.55)">90</text>
<text font-size="37" text-anchor="middle" transform="matrix(0.9450,0.3271,-0.7259,0.3814,573.08,1378.55)">92</text>
<text font-size="37" text-anchor="middle" transform="matrix(0.9505,0.3107,-0.7259,0.3814,615.38,1355.05)">94</text>
<text font-size="37" text-anchor="middle" transform="matrix(0.9552,0.2958,-0.7259,0.3814,655.18,1332.75)">96</text>
<text font-size="37" text-anchor="middle" transform="matrix(0.9593,0.2823,-0.7259,0.3814,693.18,1311.35)">98</text>
<text font-size="37" text-anchor="middle" transform="matrix(0.9629,0.2699,-0.7259,0.3814,739.08,1295.65)">100</text>
<text font-size="33.5" text-anchor="middle" transform="matrix(0.9317,0.3633,-0.8697,0.3823,282.57,1391.08)">Current Density (mA cm<tspan dy="-12.5" font-size="21">-2</tspan><tspan dy="12.5">)</tspan></text>
<text font-size="29.5" text-anchor="middle" transform="matrix(0.7833,-0.4432,1.4771,0.4698,712.60,1372.96)">Coulombic efficiency (%)</text>
<text transform="translate(1,977.8) scale(1,1.06)" x="0" y="0" font-size="48">e</text>
<circle cx="10.9" cy="1463" r="10.8" fill="url(#g10)"/>
<text transform="translate(43,1470.8) scale(1,1.06)" x="0" y="0" font-size="22.8" fill="#f24a4a">This work</text>
<circle cx="10.9" cy="1491" r="10.8" fill="url(#g7)"/>
<text transform="translate(43,1498.8) scale(1,1.06)" x="0" y="0" font-size="22.8" fill="#800080">Angew. Chem.Int. Ed.2023,62, e20230116.</text>
<circle cx="10.9" cy="1519" r="10.8" fill="url(#g9)"/>
<text transform="translate(43,1526.8) scale(1,1.06)" x="0" y="0" font-size="22.8" fill="#0010b8">Energy Environ. Sci. 2020, 13, 1788.</text>
<circle cx="10.9" cy="1547" r="10.8" fill="url(#g12)"/>
<text transform="translate(43,1554.8) scale(1,1.06)" x="0" y="0" font-size="22.8" fill="#f5007f">J. Am. Chem. Soc. 2024, 146, 7332−7340.</text>
<circle cx="10.9" cy="1575" r="10.8" fill="url(#g17)"/>
<text transform="translate(43,1582.8) scale(1,1.06)" x="0" y="0" font-size="22.8" fill="#707070">Nano Energy 2022, 103, 107746.</text>
<circle cx="10.9" cy="1603" r="10.8" fill="url(#g16)"/>
<text transform="translate(43,1610.8) scale(1,1.06)" x="0" y="0" font-size="22.8" fill="#4d1f80">ACS Energy Lett. 2022, 7, 2032.</text>
<circle cx="10.9" cy="1631" r="10.8" fill="url(#g11)"/>
<text transform="translate(43,1638.8) scale(1,1.06)" x="0" y="0" font-size="22.8" fill="#3a5a00">Energy Environ. Sci. 2023,16, 3098.</text>
<circle cx="10.9" cy="1659" r="10.8" fill="url(#g15)"/>
<text transform="translate(43,1666.8) scale(1,1.06)" x="0" y="0" font-size="22.8" fill="#234a6e">Adv. Mater. 2023, 35, 2304256.</text>
<circle cx="536.5" cy="1491" r="10.8" fill="url(#g14)"/>
<text transform="translate(569,1498.8) scale(1,1.06)" x="0" y="0" font-size="22.8" fill="#ff00ff">Adv. Funct. Mater. 2021, 23, 2103522.</text>
<circle cx="535.5" cy="1519" r="10.8" fill="url(#g13)"/>
<text transform="translate(568,1526.8) scale(1,1.06)" x="0" y="0" font-size="22.8" fill="#6699cc">Energy Environ. Sci. 2021, 14, 4936.</text>
<circle cx="532.5" cy="1547" r="10.8" fill="url(#g8)"/>
<text transform="translate(565,1554.8) scale(1,1.06)" x="0" y="0" font-size="22.8" fill="#6b4a10">Adv. Funct. Mater. 2022, 26, 2109378.</text>
<circle cx="531.7" cy="1575" r="10.8" fill="url(#g4)"/>
<text transform="translate(563.6,1582.8) scale(1,1.06)" x="0" y="0" font-size="22.8" fill="#8b8b00">Angew. Chem.Int. Ed.2022,61, e202205045.</text>
<circle cx="531.7" cy="1603" r="10.8" fill="url(#g5)"/>
<text transform="translate(564.4,1610.8) scale(1,1.06)" x="0" y="0" font-size="22.8" fill="#005a5a">Energy Environ. Sci. 2022,15, 3360.</text>
<circle cx="529" cy="1631" r="10.8" fill="url(#g6)"/>
<text transform="translate(561.7,1638.8) scale(1,1.06)" x="0" y="0" font-size="22.8" fill="#009090">J. Am. Chem. Soc. 2023,145, 21661-21671.</text>
<circle cx="528.4" cy="1659" r="10.8" fill="url(#g3)"/>
<text transform="translate(561.2,1666.8) scale(1,1.06)" x="0" y="0" font-size="22.8" fill="#5a3000">Angew. Chem. Int. Ed. 2022, 61, e20220634.</text></svg></body></html>
